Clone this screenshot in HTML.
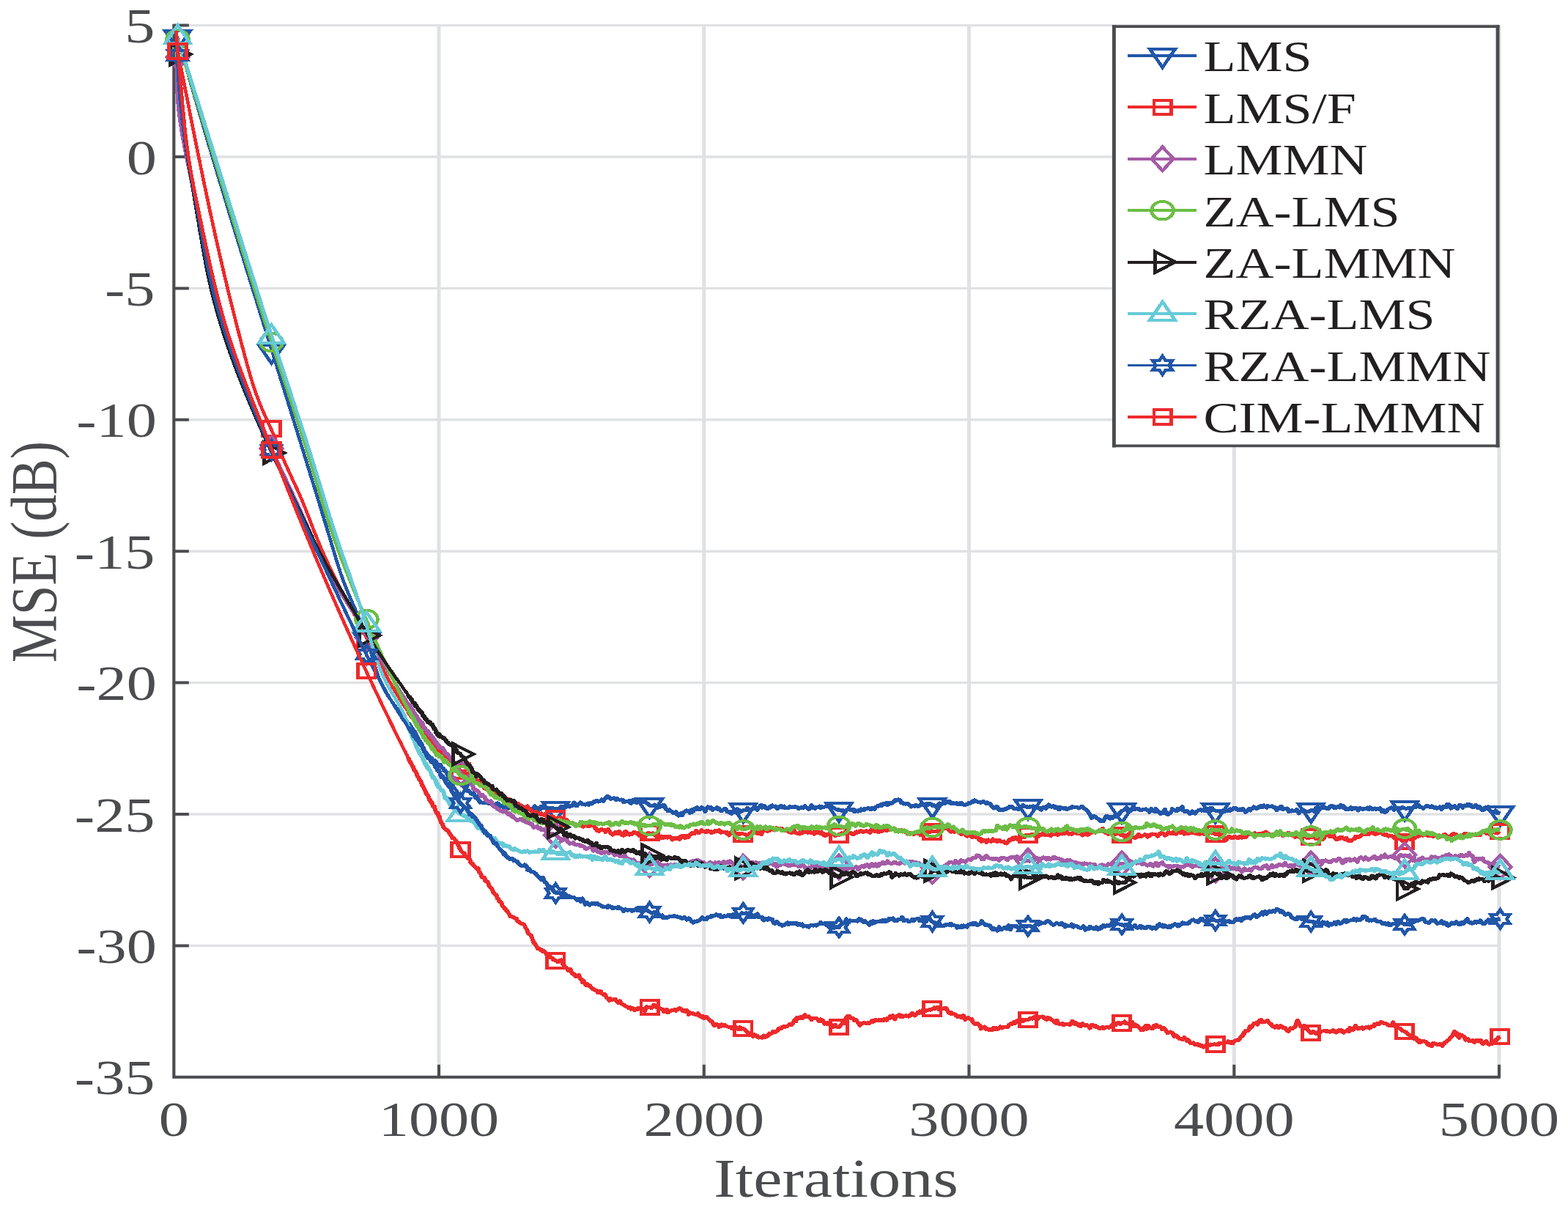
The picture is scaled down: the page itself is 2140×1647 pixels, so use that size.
<!DOCTYPE html><html><head><meta charset="utf-8"><title>MSE vs Iterations</title><style>html,body{margin:0;padding:0;background:#fff;overflow:hidden}svg{display:block}text{font-family:"Liberation Serif","Times New Roman",serif}</style></head><body>
<svg width="2140" height="1647" viewBox="0 0 2140 1647">
<rect width="2140" height="1647" fill="#fff"/>
<path d="M237.3,34.6V1469.8M599,34.6V1469.8M960.8,34.6V1469.8M1322.5,34.6V1469.8M1684.3,34.6V1469.8M2046,34.6V1469.8" stroke="#e0e1e3" stroke-width="5" fill="none"/>
<path d="M237.3,34.6H2046M237.3,214H2046M237.3,393.4H2046M237.3,572.8H2046M237.3,752.2H2046M237.3,931.6H2046M237.3,1111H2046M237.3,1290.4H2046M237.3,1469.8H2046" stroke="#e0e1e3" stroke-width="3.4" fill="none"/>
<path d="M237.3,32.8V1471.8M235.3,1469.8H2047.8M237.3,1469.8V1452.8M599,1469.8V1452.8M960.8,1469.8V1452.8M1322.5,1469.8V1452.8M1684.3,1469.8V1452.8M2046,1469.8V1452.8M237.3,34.6H257.8M237.3,214H257.8M237.3,393.4H257.8M237.3,572.8H257.8M237.3,752.2H257.8M237.3,931.6H257.8M237.3,1111H257.8M237.3,1290.4H257.8M237.3,1469.8H257.8" stroke="#4b4c4f" stroke-width="4" fill="none"/>
<g transform="scale(1.21,1)" stroke-linejoin="round" stroke-linecap="butt" shape-rendering="crispEdges">
<path d="M200.5,50.8L200.7,51.5L200.8,52.2L201,52.9L201.2,53.6L201.3,54.3L201.5,55L201.7,55.7L201.8,56.4L202,57.2L202.1,57.9L202.3,58.6L202.5,59.3L202.6,60L202.8,60.7L203,61.4L203.1,62.1L203.3,62.8L203.5,63.5L203.6,64.2L203.8,65L204,65.7L204.1,66.4L204.3,67.1L204.5,67.8L204.6,68.5L204.8,69.2L204.9,69.9L205.1,70.6L205.3,71.3L205.4,72L205.6,72.8L205.8,73.5L205.9,74.2L206.1,74.9L206.3,75.6L206.4,76.3L206.6,77L206.8,77.7L206.9,78.4L207.1,79.1L207.3,79.8L207.4,80.6L207.6,81.3L207.8,82L207.9,82.7L208.1,83.4L208.3,84.1L208.4,84.8L208.6,85.5L208.8,86.2L208.9,86.9L209.1,87.6L209.3,88.3L209.4,89.1L209.6,89.8L209.8,90.5L209.9,91.2L210.1,91.9L210.3,92.6L210.4,93.3L210.6,94L210.8,94.7L210.9,95.4L211.1,96.1L211.3,96.8L211.4,97.6L211.6,98.3L211.8,99L211.9,99.7L212.1,100.4L212.3,101.1L212.4,101.8L212.6,102.5L212.8,103.2L212.9,103.9L213.1,104.6L213.3,105.3L213.4,106.1L213.6,106.8L213.8,107.5L213.9,108.2L214.1,108.9L214.3,109.6L214.4,110.3L214.6,111L214.8,111.7L214.9,112.4L215.1,113.1L215.3,113.8L215.4,114.6L215.6,115.3L215.8,116L216,116.7L216.1,117.4L216.3,118.1L216.5,118.8L216.6,119.5L216.8,120.2L217,120.9L217.1,121.6L217.3,122.3L217.5,123L217.6,123.8L217.8,124.5L218,125.2L218.1,125.9L218.3,126.6L218.5,127.3L218.7,128L218.8,128.7L219,129.4L219.2,130.1L219.3,130.8L219.5,131.5L219.7,132.2L219.8,132.9L220,133.7L220.2,134.4L220.3,135.1L220.5,135.8L220.7,136.5L220.9,137.2L221,137.9L221.2,138.6L221.4,139.3L221.5,140L221.7,140.7L221.9,141.4L222,142.1L222.2,142.9L222.4,143.6L222.6,144.3L222.7,145L222.9,145.7L223.1,146.4L223.2,147.1L223.4,147.8L223.6,148.5L223.7,149.2L223.9,149.9L224.1,150.6L224.3,151.3L224.4,152L224.6,152.8L224.8,153.5L224.9,154.2L225.1,154.9L225.3,155.6L225.5,156.3L225.6,157L225.8,157.7L226,158.4L226.1,159.1L226.3,159.8L226.5,160.5L226.7,161.2L226.8,161.9L227,162.6L227.2,163.4L227.3,164.1L227.5,164.8L227.7,165.5L227.9,166.2L228,166.9L228.2,167.6L228.4,168.3L228.5,169L228.7,169.7L228.9,170.4L229.1,171.1L229.2,171.8L229.4,172.5L229.6,173.2L229.7,174L229.9,174.7L230.1,175.4L230.3,176.1L230.4,176.8L230.6,177.5L230.8,178.2L230.9,178.9L231.1,179.6L231.3,180.3L231.5,181L231.6,181.7L231.8,182.4L232,183.1L232.2,183.8L232.3,184.6L232.5,185.3L232.7,186L232.8,186.7L233,187.4L233.2,188.1L233.4,188.8L233.5,189.5L233.7,190.2L233.9,190.9L234.1,191.6L234.2,192.3L234.4,193L234.6,193.7L234.7,194.4L234.9,195.1L235.1,195.9L235.3,196.6L235.4,197.3L235.6,198L235.8,198.7L236,199.4L236.1,200.1L236.3,200.8L236.5,201.5L236.7,202.2L236.8,202.9L237,203.6L237.2,204.3L237.3,205L237.5,205.7L237.7,206.4L237.9,207.1L238,207.9L238.2,208.6L238.4,209.3L238.6,210L238.7,210.7L238.9,211.4L239.1,212.1L239.3,212.8L239.4,213.5L239.6,214.2L239.8,214.9L240,215.6L240.1,216.3L240.3,217L240.5,217.7L240.7,218.4L240.8,219.1L241,219.9L241.2,220.6L241.4,221.3L241.5,222L241.7,222.7L241.9,223.4L242,224.1L242.2,224.8L242.4,225.5L242.6,226.2L242.7,226.9L242.9,227.6L243.1,228.3L243.3,229L243.4,229.7L243.6,230.4L243.8,231.1L244,231.8L244.1,232.6L244.3,233.3L244.5,234L244.7,234.7L244.8,235.4L245,236.1L245.2,236.8L245.4,237.5L245.5,238.2L245.7,238.9L245.9,239.6L246.1,240.3L246.3,241L246.4,241.7L246.6,242.4L246.8,243.1L247,243.8L247.1,244.5L247.3,245.3L247.5,246L247.7,246.7L247.8,247.4L248,248.1L248.2,248.8L248.4,249.5L248.5,250.2L248.7,250.9L248.9,251.6L249.1,252.3L249.2,253L249.4,253.7L249.6,254.4L249.8,255.1L249.9,255.8L250.1,256.5L250.3,257.2L250.5,257.9L250.6,258.7L250.8,259.4L251,260.1L251.2,260.8L251.4,261.5L251.5,262.2L251.7,262.9L251.9,263.6L252.1,264.3L252.2,265L252.4,265.7L252.6,266.4L252.8,267.1L252.9,267.8L253.1,268.5L253.3,269.2L253.5,269.9L253.6,270.6L253.8,271.3L254,272L254.2,272.8L254.4,273.5L254.5,274.2L254.7,274.9L254.9,275.6L255.1,276.3L255.2,277L255.4,277.7L255.6,278.4L255.8,279.1L255.9,279.8L256.1,280.5L256.3,281.2L256.5,281.9L256.7,282.6L256.8,283.3L257,284L257.2,284.7L257.4,285.4L257.5,286.1L257.7,286.8L257.9,287.6L258.1,288.3L258.3,289L258.4,289.7L258.6,290.4L258.8,291.1L259,291.8L259.1,292.5L259.3,293.2L259.5,293.9L259.7,294.6L259.8,295.3L260,296L260.2,296.7L260.4,297.4L260.6,298.1L260.7,298.8L260.9,299.5L261.1,300.2L261.3,300.9L261.4,301.6L261.6,302.3L261.8,303.1L262,303.8L262.2,304.5L262.3,305.2L262.5,305.9L262.7,306.6L262.9,307.3L263.1,308L263.2,308.7L263.4,309.4L263.6,310.1L263.8,310.8L263.9,311.5L264.1,312.2L264.3,312.9L264.5,313.6L264.7,314.3L264.8,315L265,315.7L265.2,316.4L265.4,317.1L265.5,317.8L265.7,318.5L265.9,319.3L266.1,320L266.3,320.7L266.4,321.4L266.6,322.1L266.8,322.8L267,323.5L267.2,324.2L267.3,324.9L267.5,325.6L267.7,326.3L267.9,327L268,327.7L268.2,328.4L268.4,329.1L268.6,329.8L268.8,330.5L268.9,331.2L269.1,331.9L269.3,332.6L269.5,333.3L269.7,334L269.8,334.7L270,335.4L270.2,336.2L270.4,336.9L270.6,337.6L270.7,338.3L270.9,339L271.1,339.7L271.3,340.4L271.4,341.1L271.6,341.8L271.8,342.5L272,343.2L272.2,343.9L272.3,344.6L272.5,345.3L272.7,346L272.9,346.7L273.1,347.4L273.2,348.1L273.4,348.8L273.6,349.5L273.8,350.2L274,350.9L274.1,351.6L274.3,352.3L274.5,353L274.7,353.7L274.9,354.5L275,355.2L275.2,355.9L275.4,356.6L275.6,357.3L275.8,358L275.9,358.7L276.1,359.4L276.3,360.1L276.5,360.8L276.6,361.5L276.8,362.2L277,362.9L277.2,363.6L277.4,364.3L277.5,365L277.7,365.7L277.9,366.4L278.1,367.1L278.3,367.8L278.4,368.5L278.6,369.2L278.8,369.9L279,370.6L279.2,371.3L279.3,372L279.5,372.8L279.7,373.5L279.9,374.2L280.1,374.9L280.2,375.6L280.4,376.3L280.6,377L280.8,377.7L281,378.4L281.1,379.1L281.3,379.8L281.5,380.5L281.7,381.2L281.9,381.9L282,382.6L282.2,383.3L282.4,384L282.6,384.7L282.8,385.4L282.9,386.1L283.1,386.8L283.3,387.5L283.5,388.2L283.7,388.9L283.8,389.6L284,390.3L284.2,391L284.4,391.8L284.6,392.5L284.7,393.2L284.9,393.9L285.1,394.6L285.3,395.3L285.5,396L285.7,396.7L285.8,397.4L286,398.1L286.2,398.8L286.4,399.5L286.6,400.2L286.7,400.9L286.9,401.6L287.1,402.3L287.3,403L287.5,403.7L287.6,404.4L287.8,405.1L288,405.8L288.2,406.5L288.4,407.2L288.5,407.9L288.7,408.6L288.9,409.3L289.1,410L289.3,410.7L289.4,411.4L289.6,412.2L289.8,412.9L290,413.6L290.2,414.3L290.3,415L290.5,415.7L290.7,416.4L290.9,417.1L291.1,417.8L291.2,418.5L291.4,419.2L291.6,419.9L291.8,420.6L292,421.3L292.2,422L292.3,422.7L292.5,423.4L292.7,424.1L292.9,424.8L293.1,425.5L293.2,426.2L293.4,426.9L293.6,427.6L293.8,428.3L294,429L294.1,429.7L294.3,430.4L294.5,431.1L294.7,431.8L294.9,432.5L295,433.3L295.2,434L295.4,434.7L295.6,435.4L295.8,436.1L296,436.8L296.1,437.5L296.3,438.2L296.5,438.9L296.7,439.6L296.9,440.3L297,441L297.2,441.7L297.4,442.4L297.6,443.1L297.8,443.8L297.9,444.5L298.1,445.2L298.3,445.9L298.5,446.6L298.7,447.3L298.8,448L299,448.7L299.2,449.4L299.4,450.1L299.6,450.8L299.8,451.5L299.9,452.2L300.1,452.9L300.3,453.6L300.5,454.3L300.7,455.1L300.8,455.8L301,456.5L301.2,457.2L301.4,457.9L301.6,458.6L301.7,459.3L301.9,460L302.1,460.7L302.3,461.4L302.5,462.1L302.7,462.8L302.8,463.5L303,464.2L303.2,464.9L303.4,465.6L303.6,466.3L303.7,467L303.9,467.7L304.1,468.4L304.3,469.1L304.5,469.8L304.6,470.5L304.8,471.2L305,471.9L305.2,472.6L305.4,473.3L305.5,474L305.7,474.7L305.9,475.4L306.1,476.1L306.3,476.8L306.5,477.6L306.6,478.3L306.8,479L307,479.7L307.2,480.4L307.4,481.1L307.5,481.8L307.7,482.5L307.9,483.2L308.1,483.9L308.3,484.6L308.4,485.3L308.6,486L308.8,486.7L309,487.4L309.2,488.1L309.4,488.8L309.5,489.5L309.7,490.2L309.9,490.9L310.1,491.6L310.3,492.3L310.4,493L310.6,493.7L310.8,494.4L311,495.1L311.2,495.8L311.3,496.5L311.5,497.2L311.7,497.9L311.9,498.6L312.1,499.3L312.3,500.1L312.4,500.8L312.6,501.5L312.8,502.2L313,502.9L313.2,503.6L313.3,504.3L313.5,505L313.7,505.7L313.9,506.4L314.1,507.1L314.2,507.8L314.4,508.5L314.6,509.2L314.8,509.9L315,510.6L315.2,511.3L315.3,512L315.5,512.7L315.7,513.4L315.9,514.1L316.1,514.8L316.2,515.5L316.4,516.2L316.6,516.9L316.8,517.6L317,518.3L317.1,519L317.3,519.7L317.5,520.4L317.7,521.1L317.9,521.8L318.1,522.6L318.2,523.3L318.4,524L318.6,524.7L318.8,525.4L319,526.1L319.1,526.8L319.3,527.5L319.5,528.2L319.7,528.9L319.9,529.6L320,530.3L320.2,531L320.4,531.7L320.6,532.4L320.8,533.1L321,533.8L321.1,534.5L321.3,535.2L321.5,535.9L321.7,536.6L321.9,537.3L322,538L322.2,538.7L322.4,539.4L322.6,540.1L322.8,540.8L322.9,541.5L323.1,542.2L323.3,542.9L323.5,543.6L323.7,544.3L323.9,545L324,545.8L324.2,546.5L324.4,547.2L324.6,547.9L324.8,548.6L324.9,549.3L325.1,550L325.3,550.7L325.5,551.4L325.7,552.1L325.8,552.8L326,553.5L326.2,554.2L326.4,554.9L326.6,555.6L326.7,556.3L326.9,557L327.1,557.7L327.3,558.4L327.5,559.1L327.7,559.8L327.8,560.5L328,561.2L328.2,561.9L328.4,562.6L328.6,563.3L328.7,564L328.9,564.7L329.1,565.4L329.3,566.1L329.5,566.8L329.6,567.5L329.8,568.3L330,569L330.2,569.7L330.4,570.4L330.5,571.1L330.7,571.8L330.9,572.5L331.1,573.2L331.3,573.9L331.4,574.6L331.6,575.3L331.8,576L332,576.7L332.2,577.4L332.4,578.1L332.5,578.8L332.7,579.5L332.9,580.2L333.1,580.9L333.3,581.6L333.4,582.3L333.6,583L333.8,583.7L334,584.4L334.2,585.1L334.3,585.8L334.5,586.5L334.7,587.2L334.9,587.9L335.1,588.6L335.2,589.3L335.4,590L335.6,590.8L335.8,591.5L336,592.2L336.1,592.9L336.3,593.6L336.5,594.3L336.7,595L336.9,595.7L337,596.4L337.2,597.1L337.4,597.8L337.6,598.5L337.8,599.2L337.9,599.9L338.1,600.6L338.3,601.3L338.5,602L338.7,602.7L338.8,603.4L339,604.1L339.2,604.8L339.4,605.5L339.6,606.2L339.7,606.9L339.9,607.6L340.1,608.3L340.3,609L340.5,609.7L340.6,610.4L340.8,611.1L341,611.9L341.2,612.6L341.4,613.3L341.5,614L341.7,614.7L341.9,615.4L342.1,616.1L342.3,616.8L342.4,617.5L342.6,618.2L342.8,618.9L343,619.6L343.2,620.3L343.3,621L343.5,621.7L343.7,622.4L343.9,623.1L344.1,623.8L344.2,624.5L344.4,625.2L344.6,625.9L344.8,626.6L345,627.3L345.1,628L345.3,628.7L345.5,629.4L345.7,630.1L345.9,630.8L346,631.5L346.2,632.2L346.4,633L346.6,633.7L346.8,634.4L346.9,635.1L347.1,635.8L347.3,636.5L347.5,637.2L347.7,637.9L347.8,638.6L348,639.3L348.2,640L348.4,640.7L348.6,641.4L348.7,642.1L348.9,642.8L349.1,643.5L349.3,644.2L349.5,644.9L349.6,645.6L349.8,646.3L350,647L350.2,647.7L350.3,648.4L350.5,649.1L350.7,649.8L350.9,650.5L351.1,651.2L351.2,651.9L351.4,652.6L351.6,653.4L351.8,654.1L352,654.8L352.1,655.5L352.3,656.2L352.5,656.9L352.7,657.6L352.9,658.3L353,659L353.2,659.7L353.4,660.4L353.6,661.1L353.7,661.8L353.9,662.5L354.1,663.2L354.3,663.9L354.5,664.6L354.6,665.3L354.8,666L355,666.7L355.2,667.4L355.4,668.1L355.5,668.8L355.7,669.5L355.9,670.2L356.1,670.9L356.2,671.6L356.4,672.4L356.6,673.1L356.8,673.8L357,674.5L357.1,675.2L357.3,675.9L357.5,676.6L357.7,677.3L357.9,678L358,678.7L358.2,679.4L358.4,680.1L358.6,680.8L358.7,681.5L358.9,682.2L359.1,682.9L359.3,683.6L359.5,684.3L359.6,685L359.8,685.7L360,686.4L360.2,687.1L360.3,687.8L360.5,688.5L360.7,689.2L360.9,689.9L361.1,690.7L361.2,691.4L361.4,692.1L361.6,692.8L361.8,693.5L361.9,694.2L362.1,694.9L362.3,695.6L362.5,696.3L362.7,697L362.8,697.7L363,698.4L363.2,699.1L363.4,699.8L363.5,700.5L363.7,701.2L363.9,701.9L364.1,702.6L364.3,703.3L364.4,704L364.6,704.7L364.8,705.4L365,706.1L365.1,706.8L365.3,707.5L365.5,708.3L365.7,709L365.8,709.7L366,710.4L366.2,711.1L366.4,711.8L366.6,712.5L366.7,713.2L366.9,713.9L367.1,714.6L367.3,715.3L367.4,716L367.6,716.7L367.8,717.4L368,718.1L368.1,718.8L368.3,719.5L368.5,720.2L368.7,720.9L368.9,721.6L369,722.3L369.2,723L369.4,723.7L369.6,724.4L369.7,725.2L369.9,725.9L370.1,726.6L370.3,727.3L370.4,728L370.6,728.7L370.8,729.4L371,730.1L371.1,730.8L371.3,731.5L371.5,732.2L371.7,732.9L371.9,733.6L372,734.3L372.2,735L372.4,735.7L372.6,736.4L372.7,737.1L372.9,737.8L373.1,738.5L373.3,739.2L373.4,739.9L373.6,740.6L373.8,741.4L374,742.1L374.1,742.8L374.3,743.5L374.5,744.2L374.7,744.9L374.8,745.6L375,746.3L375.2,747L375.4,747.7L375.5,748.4L375.7,749.1L375.9,749.8L376.1,750.5L376.2,751.2L376.4,751.9L376.6,752.6L376.8,753.3L376.9,754L377.1,754.7L377.3,755.4L377.5,756.1L377.6,756.9L377.8,757.6L378,758.3L378.2,759L378.4,759.7L378.5,760.4L378.7,761.1L378.9,761.8L379.1,762.5L379.2,763.2L379.4,763.9L379.6,764.6L379.8,765.3L380,766L380.1,766.7L380.3,767.4L380.5,768.1L380.7,768.8L380.9,769.5L381,770.2L381.2,770.9L381.4,771.6L381.6,772.3L381.8,773L381.9,773.7L382.1,774.4L382.3,775.1L382.5,775.8L382.7,776.5L382.9,777.2L383.1,777.9L383.3,778.6L383.4,779.3L383.6,780L383.8,780.7L384,781.4L384.2,782.1L384.4,782.8L384.6,783.5L384.8,784.2L385,784.9L385.2,785.6L385.4,786.3L385.6,787L385.8,787.7L386,788.4L386.2,789L386.4,789.7L386.6,790.4L386.8,791.1L387,791.8L387.2,792.5L387.5,793.2L387.7,793.9L387.9,794.6L388.1,795.3L388.3,795.9L388.5,796.6L388.8,797.3L389,798L389.2,798.7L389.4,799.4L389.6,800.1L389.9,800.7L390.1,801.4L390.3,802.1L390.5,802.8L390.8,803.5L391,804.1L391.2,804.8L391.5,805.5L391.7,806.2L391.9,806.9L392.2,807.5L392.4,808.2L392.6,808.9L392.9,809.6L393.1,810.3L393.3,810.9L393.6,811.6L393.8,812.3L394.1,813L394.3,813.7L394.5,814.3L394.8,815L395,815.7L395.3,816.4L395.5,817L395.7,817.7L396,818.4L396.2,819.1L396.5,819.7L396.7,820.4L397,821.1L397.2,821.8L397.5,822.4L397.7,823.1L397.9,823.8L398.2,824.5L398.4,825.1L398.7,825.8L398.9,826.5L399.2,827.2L399.4,827.8L399.7,828.5L399.9,829.2L400.2,829.9L400.4,830.5L400.6,831.2L400.9,831.9L401.1,832.6L401.4,833.2L401.6,833.9L401.9,834.6L402.1,835.3L402.4,835.9L402.6,836.6L402.8,837.3L403.1,838L403.3,838.6L403.6,839.3L403.8,840L404.1,840.7L404.3,841.4L404.5,842L404.8,842.7L405,843.4L405.3,844.1L405.5,844.7L405.7,845.4L406,846.1L406.2,846.8L406.4,847.5L406.7,848.1L406.9,848.8L407.1,849.5L407.4,850.2L407.6,850.9L407.8,851.6L408.1,852.2L408.3,852.9L408.5,853.6L408.7,854.3L409,855L409.2,855.7L409.4,856.3L409.6,857L409.9,857.7L410.1,858.4L410.3,859.1L410.5,859.8L410.7,860.5L410.9,861.2L411.2,861.9L411.4,862.5L411.6,863.2L411.8,863.9L412,864.6L412.2,865.3L412.4,866L412.6,866.7L412.8,867.4L413,868.1L413.2,868.8L413.4,869.5L413.6,870.2L413.8,870.9L414,871.6L414.2,872.3L414.4,873L414.5,873.7L414.7,874.4L414.9,875.1L415.1,875.8L415.3,876.5L415.5,877.2L415.6,877.9L415.8,878.6L416,879.3L416.2,880L416.3,880.8L416.5,881.5L416.7,882.2L416.8,882.9L417,883.6L417.2,884.3L417.3,885L417.5,885.7L417.7,886.4L417.8,887.2L418,887.9L418.2,888.6L418.3,889.3L418.5,890L418.7,890.7L418.8,891.4L419,892.1L419.2,892.9L419.3,893.6L419.5,894.3L419.6,895L419.8,895.7L420,896.4L420.1,897.1L420.3,897.8L420.5,898.5L420.6,899.3L420.8,900L420.9,900.7L421.1,901.4L421.3,902.1L421.4,902.8L421.6,903.5L421.8,904.2L421.9,904.9L422.1,905.6L422.3,906.4L422.4,907.1L422.6,907.8L422.8,908.5L423,909.2L423.1,909.9L423.3,910.6L423.5,911.3L423.7,912L423.9,912.7L424,913.4L424.2,914.1L424.4,914.8L424.6,915.5L424.8,916.2L425,916.9L425.2,917.6L425.3,918.3L425.5,919L425.7,919.6L425.9,920.3L426.1,921L426.3,921.7L426.5,922.4L426.8,923.1L427,923.8L427.2,924.5L427.4,925.1L427.6,925.8L427.8,926.5L428,927.2L428.3,927.8L428.5,928.5L428.7,929.2L429,929.9L429.2,930.5L429.4,931.2L429.7,931.9L429.9,932.5L430.2,933.2L430.4,933.9L430.7,934.5L430.9,935.2L431.2,935.8L431.4,936.5L431.7,937.2L432,937.8L432.3,938.5L432.5,939.1L432.8,939.7L433.1,940.4L433.4,941L433.7,941.7L434,942.3L434.3,942.9L434.6,943.6L434.9,944.2L435.2,944.8L435.5,945.5L435.8,946.1L436.1,946.7L436.4,947.3L436.8,948L437.1,948.6L437.4,949.2L437.8,949.8L438.1,950.4L438.4,951.1L438.8,951.7L439.1,952.3L439.5,952.9L439.8,953.5L440.1,954.1L440.5,954.7L440.9,955.3L441.2,955.9L441.6,956.5L441.9,957.1L442.3,957.7L442.6,958.3L443,958.9L443.4,959.5L443.7,960.1L444.1,960.7L444.5,961.3L444.8,961.9L445.2,962.5L445.6,963.1L446,963.7L446.3,964.3L446.7,964.9L447.1,965.4L447.5,966L447.8,966.6L448.2,967.3L448.6,967.8L449,968.4L449.4,969L449.7,969.6L450.1,970.1L450.5,970.7L450.9,971.3L451.3,971.9L451.6,972.3L452,973.1L452.4,973.4L452.8,974L453.1,974.8L453.5,975.5L453.9,976.1L454.3,976.7L454.7,977.2L455,977.5L455.4,978.4L455.8,978.8L456.2,978.8L456.5,979.7L456.9,980.8L457.3,981.2L457.6,981.8L458,982.4L458.4,982.8L458.7,983.5L459.1,984.3L459.5,985.2L459.8,986.6L460.2,986.5L460.6,987L460.9,987L461.3,987.7L461.6,988L462,987.9L462.3,989.3L462.7,989.9L463,990.6L463.4,991.3L463.7,991.5L464.1,992.6L464.4,993.2L464.8,993.3L465.1,993.9" fill="none" stroke="#2156a8" stroke-width="3.9"/>
<path d="M460.6,987L460.9,987L461.3,987.7L461.6,988L462,987.9L462.3,989.3L462.7,989.9L463,990.6L463.4,991.3L463.7,991.5L464.1,992.6L464.4,993.2L464.8,993.3L465.1,993.9L465.4,995.1L465.8,996.1L466.1,996.4L466.4,996.7L466.8,998.2L467.1,998.2L467.4,998.5L467.7,998.3L468.1,999.9L468.4,1000.5L468.7,1001L469,1001.7L469.3,1003.3L469.6,1003.4L469.9,1003.6L470.2,1004.9L470.5,1004.9L470.8,1006.1L471.1,1007.4L471.4,1007.5L471.7,1008.5L471.9,1008.5L472.2,1009.2L472.5,1010.7L472.8,1011.9L473,1011L473.3,1010.5L473.6,1012L473.8,1013.3L474.1,1012.5L474.4,1013.8L474.6,1014.4L474.9,1013.8L475.1,1016L475.4,1017.1L475.7,1015.8L475.9,1017.4L476.2,1017.9L476.4,1019.5L476.7,1021.1L477,1020.8L477.2,1020.9L477.5,1022.5L477.8,1023.3L478.1,1024.5L478.4,1025.1L478.6,1025.5L478.9,1024.1L479.2,1024.8L479.5,1026L479.8,1028.3L480.1,1027.6L480.4,1029.7L480.8,1029.2L481.1,1030.3L481.4,1029.9L481.8,1031.2L482.1,1032.5L482.5,1034.6L482.8,1033.1L483.2,1033.8L483.6,1033.3L483.9,1033.1L484.3,1033.5L484.7,1035L485.1,1035.3L485.6,1034.6L486,1035.9L486.4,1033.9L486.8,1035.7L487.3,1036L487.7,1039.5L488.2,1038.2L488.7,1037.3L489.1,1038.3L489.6,1038L490.1,1037.1L490.5,1040.9L491,1038.5L491.5,1040.3L492,1039.2L492.5,1042.7L492.9,1045L493.4,1044.7L493.9,1045.2L494.4,1045.2L494.9,1044.1L495.3,1044.1L495.8,1043.9L496.9,1043.6L497.9,1046.2L499,1048L500,1048.5L501,1051.8L502.1,1051.2L503.1,1053.4L504.1,1055.6L505.2,1058.4L506.2,1057.9L507.2,1057L508.3,1057.2L509.3,1058.3L510.3,1059.8L511.4,1060.6L512.4,1062.5L513.4,1064.4L514.5,1065.5L515.5,1065.7L516.5,1067.9L517.6,1069L518.6,1069.7L519.6,1070.7L520.7,1071.2L521.7,1072.2L522.7,1073.5L523.8,1073.1L524.8,1075.8L525.8,1077.8L526.9,1079.6L527.9,1078.3L528.9,1080.3L530,1080.6L531,1082.8L532,1083.7L533.1,1083.5L534.1,1082.2L535.1,1084.9L536.2,1088.4L537.2,1086.4L538.2,1089.6L539.3,1090.8L540.3,1092.4L541.3,1095.1L542.4,1094.3L543.4,1095L544.4,1095.7L545.5,1095.8L546.5,1095.6L547.5,1093.6L548.6,1093.9L549.6,1095.9L550.6,1096.2L551.7,1095.7L552.7,1096.8L553.7,1096.5L554.8,1098.3L555.8,1098.3L556.8,1098.8L557.9,1100.1L558.9,1097.4L559.9,1097.8L561,1095.9L562,1096.2L563,1099.5L564,1099.4L565.1,1099L566.1,1100.8L567.1,1099.9L568.2,1102.2L569.2,1101.2L570.2,1100.2L571.3,1101.9L572.3,1101.2L573.3,1103.5L574.4,1101.4L575.4,1100.6L576.4,1103L577.5,1101.5L578.5,1099.6L579.5,1100L580.6,1101.6L581.6,1102L582.6,1100.4L583.7,1101.4L584.7,1102.2L585.7,1102.4L586.8,1102L587.8,1102.1L588.8,1099.8L589.9,1102.3L590.9,1106.1L591.9,1105.9L593,1106.1L594,1102.8L595,1102.9L596.1,1102.3L597.1,1103.1L598.1,1104L599.2,1104.9L600.2,1103.4L601.2,1102.8L602.3,1103.1L603.3,1099.8L604.3,1103.3L605.4,1102.1L606.4,1104.5L607.4,1102.2L608.5,1104.3L609.5,1104.3L610.5,1100.1L611.6,1100.4L612.6,1102L613.6,1102.7L614.7,1102.1L615.7,1103.1L616.7,1101.9L617.8,1102.9L618.8,1103.6L619.8,1102.6L620.9,1104.7L621.9,1103L622.9,1102.9L624,1102.7L625,1103.9L626,1103.8L627.1,1103.9L628.1,1103.8L629.1,1103.7L630.2,1104.8L631.2,1102.7L632.2,1102.3L633.3,1100.2L634.3,1100.3L635.3,1102.4L636.4,1102.6L637.4,1099.8L638.4,1101.3L639.5,1099.9L640.5,1100L641.5,1098.9L642.6,1101L643.6,1099.2L644.6,1100L645.7,1099.1L646.7,1096.3L647.7,1095.1L648.8,1098.1L649.8,1099.5L650.8,1099.9L651.9,1097.5L652.9,1097.1L653.9,1096.9L655,1094.9L656,1096.7L657,1097.8L658.1,1097.5L659.1,1097.3L660.1,1098.2L661.2,1097.9L662.2,1097.2L663.2,1096L664.3,1098.4L665.3,1095.7L666.3,1095.6L667.4,1097L668.4,1096.1L669.4,1095.2L670.5,1093.2L671.5,1093.7L672.5,1092.6L673.6,1092.6L674.6,1094.1L675.6,1093.8L676.7,1093.4L677.7,1092.5L678.7,1090.9L679.8,1091.1L680.8,1093.2L681.8,1090.9L682.9,1089.3L683.9,1088.6L684.9,1086.3L686,1088.5L687,1087.3L688,1089.2L689,1090.2L690.1,1089.6L691.1,1089.3L692.1,1088.9L693.2,1089L694.2,1091.1L695.2,1091.7L696.3,1089.5L697.3,1090.7L698.3,1091.1L699.4,1091.3L700.4,1091.8L701.4,1091L702.5,1091.5L703.5,1094.9L704.5,1093.9L705.6,1093.5L706.6,1093.8L707.6,1093.4L708.7,1093L709.7,1092.6L710.7,1095.3L711.8,1096.3L712.8,1092.5L713.8,1091.3L714.9,1094.4L715.9,1093L716.9,1093.4L718,1095.6L719,1093.1L720,1092.8L721.1,1092.5L722.1,1092.5L723.1,1092.9L724.2,1093.8L725.2,1094.3L726.2,1094.1L727.3,1092.4L728.3,1095.2L729.3,1096.1L730.4,1096.6L731.4,1096.9L732.4,1098.7L733.5,1099L734.5,1100L735.5,1099.7L736.6,1099.1L737.6,1099.2L738.6,1098.1L739.7,1100.8L740.7,1099.2L741.7,1102.2L742.8,1101.7L743.8,1101.6L744.8,1099.7L745.9,1100.7L746.9,1099.5L747.9,1098.2L749,1098.5L750,1100L751,1104.1L752.1,1104.1L753.1,1106.4L754.1,1105.5L755.2,1104.9L756.2,1106.9L757.2,1106.9L758.3,1108.3L759.3,1109.8L760.3,1109.2L761.4,1109.1L762.4,1107.5L763.4,1111.2L764.5,1112.3L765.5,1113.1L766.5,1111.1L767.6,1110L768.6,1112.6L769.6,1112.7L770.7,1109.3L771.7,1107.8L772.7,1107.5L773.8,1106L774.8,1105.9L775.8,1106.8L776.9,1106.9L777.9,1109.3L778.9,1105.8L780,1108.6L781,1104.1L782,1107.2L783.1,1103.6L784.1,1103L785.1,1102.9L786.2,1101.8L787.2,1104.6L788.2,1103.4L789.3,1104.9L790.3,1102.8L791.3,1101.6L792.4,1103.1L793.4,1102.7L794.4,1103.5L795.5,1107.6L796.5,1103.3L797.5,1102.4L798.6,1100.8L799.6,1102.2L800.6,1103.1L801.7,1101.5L802.7,1104.1L803.7,1105.1L804.8,1103.9L805.8,1103.4L806.8,1104L807.9,1103.4L808.9,1101.8L809.9,1104.7L811,1102.9L812,1105.2L813,1106.6L814,1106.9L815.1,1105.2L816.1,1104.5L817.1,1103.8L818.2,1103.1L819.2,1105.4L820.2,1107.7L821.3,1107.7L822.3,1108.8L823.3,1107.5L824.4,1110.2L825.4,1110.4L826.4,1107.3L827.5,1106.4L828.5,1108.4L829.5,1108.1L830.6,1107.2L831.6,1103.8L832.6,1106.1L833.7,1105.5L834.7,1108.2L835.7,1106.7L836.8,1106.8L837.8,1105.9L838.8,1105.4L839.9,1105.3L840.9,1104.9L841.9,1105.7L843,1102.6L844,1105.4L845,1106.1L846.1,1104.7L847.1,1104.9L848.1,1103.9L849.2,1103.5L850.2,1101.9L851.2,1103.1L852.3,1102L853.3,1102L854.3,1105.3L855.4,1101.8L856.4,1101.6L857.4,1099.2L858.5,1098.3L859.5,1102.2L860.5,1101.4L861.6,1099.3L862.6,1100.3L863.6,1102.4L864.7,1102.5L865.7,1103.7L866.7,1103.4L867.8,1101L868.8,1102.2L869.8,1099.4L870.9,1098.9L871.9,1100.3L872.9,1100.2L874,1100.1L875,1100L876,1102.6L877.1,1103.8L878.1,1101L879.1,1101.9L880.2,1101.4L881.2,1099.5L882.2,1102L883.3,1100.3L884.3,1100L885.3,1102.6L886.4,1102.5L887.4,1102.8L888.4,1102.4L889.5,1102.7L890.5,1100.5L891.5,1100.6L892.6,1101.6L893.6,1101L894.6,1101.9L895.7,1101.5L896.7,1100.4L897.7,1101.7L898.8,1101.7L899.8,1101.8L900.8,1103.9L901.9,1102.3L902.9,1102L903.9,1102.6L905,1101.5L906,1102.4L907,1101L908.1,1099.8L909.1,1101L910.1,1102.1L911.2,1103.3L912.2,1104.4L913.2,1103.1L914.3,1101.7L915.3,1098.7L916.3,1102.6L917.4,1101.3L918.4,1102L919.4,1103.3L920.5,1101.4L921.5,1101.5L922.5,1101.7L923.6,1101.8L924.6,1100.1L925.6,1102.5L926.7,1100.5L927.7,1101.1L928.7,1101.2L929.8,1101.2L930.8,1101L931.8,1099.8L932.9,1099.6L933.9,1100.2L934.9,1099.4L936,1100.9L937,1101.4L938,1100.1L939,1102L940.1,1102.2L941.1,1103.2L942.1,1103.7L943.2,1104.3L944.2,1104.1L945.2,1105.3L946.3,1104.7L947.3,1105.7L948.3,1106.1L949.4,1105.5L950.4,1106.6L951.4,1105.9L952.5,1108L953.5,1107.7L954.5,1105.5L955.6,1104.9L956.6,1104.9L957.6,1104.4L958.7,1104.3L959.7,1105.9L960.7,1104.8L961.8,1104.8L962.8,1104.3L963.8,1108L964.9,1105.5L965.9,1106.5L966.9,1106.8L968,1107.2L969,1105.3L970,1106.6L971.1,1103.9L972.1,1104.4L973.1,1104.2L974.2,1105.8L975.2,1103.7L976.2,1104L977.3,1103.5L978.3,1103.3L979.3,1102.4L980.4,1103.2L981.4,1104.2L982.4,1104.5L983.5,1102.4L984.5,1103.4L985.5,1102.2L986.6,1104.3L987.6,1101.2L988.6,1100.7L989.7,1099.5L990.7,1100.4L991.7,1099L992.8,1099.7L993.8,1097.6L994.8,1099.3L995.9,1098L996.9,1096.3L997.9,1096.3L999,1097.8L1000,1095.5L1001,1098.4L1002.1,1097.8L1003.1,1095.7L1004.1,1095.5L1005.2,1096.6L1006.2,1096L1007.2,1094.2L1008.3,1094.3L1009.3,1092L1010.3,1091.4L1011.4,1092.4L1012.4,1091.8L1013.4,1091L1014.5,1092.3L1015.5,1091.9L1016.5,1095.4L1017.6,1095.7L1018.6,1095.8L1019.6,1097.1L1020.7,1096.7L1021.7,1097.2L1022.7,1096.6L1023.8,1096.5L1024.8,1098.1L1025.8,1098.4L1026.9,1099.5L1027.9,1101L1028.9,1099.4L1030,1099.4L1031,1099.8L1032,1100.4L1033.1,1098.3L1034.1,1099.6L1035.1,1100.5L1036.2,1100.1L1037.2,1099.7L1038.2,1098.1L1039.3,1097.3L1040.3,1098.5L1041.3,1098.7L1042.4,1098L1043.4,1097.6L1044.4,1098L1045.5,1096.6L1046.5,1098.8L1047.5,1096.5L1048.6,1096.6L1049.6,1096.9L1050.6,1098.3L1051.7,1099.2L1052.7,1098.9L1053.7,1098.9L1054.8,1099.4L1055.8,1101.1L1056.8,1100.2L1057.9,1099.5L1058.9,1097.4L1059.9,1096.1L1061,1098.3L1062,1097.3L1063,1097.2L1064,1095.4L1065.1,1093.9L1066.1,1096.4L1067.1,1093.1L1068.2,1094.2L1069.2,1093.8L1070.2,1095.2L1071.3,1093.6L1072.3,1096.4L1073.3,1095.7L1074.4,1095.3L1075.4,1096.9L1076.4,1096L1077.5,1096.2L1078.5,1095.7L1079.5,1097.2L1080.6,1096.2L1081.6,1097.5L1082.6,1095.9L1083.7,1095.4L1084.7,1095.8L1085.7,1097.9L1086.8,1098L1087.8,1098.5L1088.8,1098.6L1089.9,1097.4L1090.9,1097.6L1091.9,1097.2L1093,1095.3L1094,1096L1095,1096L1096.1,1093.9L1097.1,1093.6L1098.1,1094.3L1099.2,1091.8L1100.2,1093.7L1101.2,1093.2L1102.3,1093.9L1103.3,1094.6L1104.3,1095L1105.4,1094.5L1106.4,1095.3L1107.4,1094.7L1108.5,1093.8L1109.5,1093.7L1110.5,1094.7L1111.6,1095.6L1112.6,1096.7L1113.6,1094.9L1114.7,1096.4L1115.7,1096.3L1116.7,1096.7L1117.8,1098.4L1118.8,1100.3L1119.8,1100.7L1120.9,1103L1121.9,1101.7L1122.9,1101.1L1124,1100.4L1125,1100.9L1126,1103.9L1127.1,1105.7L1128.1,1104.2L1129.1,1104.9L1130.2,1105L1131.2,1105.8L1132.2,1104L1133.3,1103.7L1134.3,1104.5L1135.3,1103.6L1136.4,1102.3L1137.4,1102.6L1138.4,1100.5L1139.5,1100.4L1140.5,1101.5L1141.5,1100.8L1142.6,1102.3L1143.6,1103.5L1144.6,1103L1145.7,1103.3L1146.7,1102.9L1147.7,1103.5L1148.8,1104.4L1149.8,1104L1150.8,1102.2L1151.9,1100.9L1152.9,1101.2L1153.9,1098.7L1155,1100.8L1156,1100.9L1157,1100.4L1158.1,1101.2L1159.1,1101L1160.1,1101.2L1161.2,1100.7L1162.2,1101.1L1163.2,1100.2L1164.3,1100.8L1165.3,1100L1166.3,1103.8L1167.4,1100.7L1168.4,1100.4L1169.4,1100.1L1170.5,1102.6L1171.5,1102.2L1172.5,1103.1L1173.6,1104.6L1174.6,1105.1L1175.6,1101.9L1176.7,1102.6L1177.7,1101.6L1178.7,1101L1179.8,1103.2L1180.8,1100.4L1181.8,1100.4L1182.9,1097.9L1183.9,1099.4L1184.9,1099.5L1186,1101.2L1187,1100.2L1188,1099.5L1189,1100.8L1190.1,1102.3L1191.1,1100.9L1192.1,1102.2L1193.2,1101.3L1194.2,1104.8L1195.2,1104.6L1196.3,1101.6L1197.3,1102.4L1198.3,1102L1199.4,1102L1200.4,1103.7L1201.4,1102.4L1202.5,1103L1203.5,1104.8L1204.5,1103.8L1205.6,1103L1206.6,1102.3L1207.6,1101.7L1208.7,1102.2L1209.7,1100.8L1210.7,1102L1211.8,1101.4L1212.8,1101.6L1213.8,1101.4L1214.9,1101.3L1215.9,1101.8L1216.9,1103L1218,1102.3L1219,1101.7L1220,1100.4L1221.1,1100.5L1222.1,1102.7L1223.1,1103.8L1224.2,1104L1225.2,1105.3L1226.2,1105.7L1227.3,1107.7L1228.3,1110.4L1229.3,1111.2L1230.4,1114.6L1231.4,1116.3L1232.4,1114L1233.5,1113.1L1234.5,1113.9L1235.5,1114.2L1236.6,1116.3L1237.6,1116.7L1238.6,1117.5L1239.7,1117.8L1240.7,1119.8L1241.7,1120.8L1242.8,1119L1243.8,1119L1244.8,1120.3L1245.9,1116.9L1246.9,1115.1L1247.9,1113.2L1249,1113.8L1250,1115L1251,1116.2L1252.1,1117L1253.1,1114.5L1254.1,1115.5L1255.2,1116.4L1256.2,1114.4L1257.2,1113.3L1258.3,1113.7L1259.3,1114.4L1260.3,1114.1L1261.4,1110.8L1262.4,1111.3L1263.4,1109.3L1264.5,1107.3L1265.5,1106.2L1266.5,1106L1267.6,1105.3L1268.6,1104.8L1269.6,1103.5L1270.7,1101.7L1271.7,1104.4L1272.7,1108.9L1273.8,1104.6L1274.8,1106.6L1275.8,1106.2L1276.9,1104L1277.9,1104.3L1278.9,1103.8L1280,1102.9L1281,1104.3L1282,1103.1L1283.1,1104L1284.1,1103.5L1285.1,1104.8L1286.2,1105.9L1287.2,1105.4L1288.2,1105.1L1289.3,1104.5L1290.3,1104.9L1291.3,1104.5L1292.4,1103.9L1293.4,1105.1L1294.4,1105.7L1295.5,1105.9L1296.5,1108.3L1297.5,1107.1L1298.6,1103.5L1299.6,1106L1300.6,1106.8L1301.7,1106.2L1302.7,1107.9L1303.7,1103.5L1304.8,1105.6L1305.8,1106.3L1306.8,1108.4L1307.9,1108.7L1308.9,1110.5L1309.9,1108.9L1311,1109.9L1312,1109.2L1313,1106.2L1314,1104.5L1315.1,1108.5L1316.1,1111.1L1317.1,1111.6L1318.2,1109.8L1319.2,1109L1320.2,1109.5L1321.3,1107.4L1322.3,1103.7L1323.3,1104.7L1324.4,1105L1325.4,1106.2L1326.4,1106.2L1327.5,1106.8L1328.5,1103.1L1329.5,1105.5L1330.6,1104.3L1331.6,1104.5L1332.6,1102.6L1333.7,1100.8L1334.7,1106.2L1335.7,1105.9L1336.8,1107.7L1337.8,1106.8L1338.8,1106.5L1339.9,1107.7L1340.9,1109.4L1341.9,1110.8L1343,1110L1344,1108.3L1345,1106.9L1346.1,1109.4L1347.1,1108.7L1348.1,1110L1349.2,1108.5L1350.2,1107.2L1351.2,1106L1352.3,1105.4L1353.3,1105.8L1354.3,1104.7L1355.4,1106.1L1356.4,1105.5L1357.4,1104.4L1358.5,1106.9L1359.5,1103.4L1360.5,1103L1361.6,1104.3L1362.6,1104L1363.6,1104.3L1364.7,1102.9L1365.7,1106.4L1366.7,1102.2L1367.8,1104.9L1368.8,1105.7L1369.8,1105.6L1370.9,1106.2L1371.9,1106.5L1372.9,1106.9L1374,1106.2L1375,1107.1L1376,1106.7L1377.1,1108.4L1378.1,1106.4L1379.1,1106.6L1380.2,1105.4L1381.2,1107.8L1382.2,1106.6L1383.3,1107L1384.3,1105.5L1385.3,1106.7L1386.4,1106.3L1387.4,1103.9L1388.4,1106L1389.5,1104.8L1390.5,1104.4L1391.5,1102.5L1392.6,1103.1L1393.6,1102.7L1394.6,1103.3L1395.7,1105.1L1396.7,1105.9L1397.7,1105.9L1398.8,1104.1L1399.8,1105.7L1400.8,1105.2L1401.9,1103.5L1402.9,1105.5L1403.9,1105.7L1405,1108.3L1406,1106.3L1407,1106.3L1408.1,1104.9L1409.1,1103.2L1410.1,1106L1411.2,1104L1412.2,1103.9L1413.2,1102.4L1414.3,1100.9L1415.3,1101.8L1416.3,1102.4L1417.4,1103.5L1418.4,1101.9L1419.4,1102.3L1420.5,1100.4L1421.5,1099.9L1422.5,1099.6L1423.6,1101.9L1424.6,1100.9L1425.6,1099L1426.7,1100.6L1427.7,1100.6L1428.7,1102.1L1429.8,1099.4L1430.8,1099.9L1431.8,1100.6L1432.9,1100.8L1433.9,1100.5L1434.9,1099.9L1436,1101.4L1437,1102L1438,1101.6L1439,1103.8L1440.1,1105.7L1441.1,1104.1L1442.1,1102.7L1443.2,1103.2L1444.2,1100.8L1445.2,1100.1L1446.3,1102.6L1447.3,1104.5L1448.3,1104.1L1449.4,1103.9L1450.4,1103.9L1451.4,1103L1452.5,1103.7L1453.5,1107.7L1454.5,1106.5L1455.6,1106.6L1456.6,1107L1457.6,1105.8L1458.7,1106.8L1459.7,1106.9L1460.7,1106.2L1461.8,1106.5L1462.8,1104.8L1463.8,1106.3L1464.9,1110L1465.9,1108.1L1466.9,1106.9L1468,1106L1469,1105.6L1470,1107.3L1471.1,1106L1472.1,1106.9L1473.1,1108.5L1474.2,1107.1L1475.2,1107L1476.2,1107.6L1477.3,1106.7L1478.3,1105.8L1479.3,1105.3L1480.4,1105.3L1481.4,1105.2L1482.4,1107.3L1483.5,1104.9L1484.5,1102.3L1485.5,1101.7L1486.6,1101.2L1487.6,1101.7L1488.6,1102.9L1489.7,1102.9L1490.7,1103.1L1491.7,1102.1L1492.8,1101L1493.8,1102.5L1494.8,1101.9L1495.9,1102.6L1496.9,1103.9L1497.9,1102.7L1499,1103.3L1500,1100.6L1501,1100.5L1502.1,1099.3L1503.1,1100.8L1504.1,1101.6L1505.2,1102.9L1506.2,1100.9L1507.2,1102.3L1508.3,1100.8L1509.3,1100.2L1510.3,1100.7L1511.4,1102L1512.4,1098.2L1513.4,1101.7L1514.5,1102L1515.5,1099.9L1516.5,1101.3L1517.6,1103.9L1518.6,1104.7L1519.6,1103.8L1520.7,1104.5L1521.7,1103.4L1522.7,1103.3L1523.8,1101.6L1524.8,1104.8L1525.8,1102.4L1526.9,1103L1527.9,1103.6L1528.9,1102.5L1530,1102.4L1531,1104L1532,1106L1533.1,1103.7L1534.1,1102.5L1535.1,1103.5L1536.2,1104L1537.2,1104.6L1538.2,1103.5L1539.3,1103.4L1540.3,1103.9L1541.3,1103.1L1542.4,1102L1543.4,1104.6L1544.4,1104.4L1545.5,1101.7L1546.5,1104.1L1547.5,1104.3L1548.6,1104.3L1549.6,1103.4L1550.6,1103L1551.7,1104.7L1552.7,1103.2L1553.7,1103.6L1554.8,1103.2L1555.8,1104.5L1556.8,1102.5L1557.9,1106.1L1558.9,1107.8L1559.9,1107.8L1561,1105.6L1562,1108.7L1563,1106.8L1564,1107.7L1565.1,1105.2L1566.1,1103.7L1567.1,1103.6L1568.2,1102.5L1569.2,1101.9L1570.2,1101.9L1571.3,1104.3L1572.3,1105.2L1573.3,1103.1L1574.4,1103.1L1575.4,1102.2L1576.4,1103.2L1577.5,1102.4L1578.5,1102.9L1579.5,1103.6L1580.6,1102.3L1581.6,1101.3L1582.6,1102.9L1583.7,1102.8L1584.7,1103L1585.7,1103L1586.8,1103.3L1587.8,1102.8L1588.8,1102.4L1589.9,1103.6L1590.9,1102.6L1591.9,1102.5L1593,1101.9L1594,1102.4L1595,1100.9L1596.1,1099.4L1597.1,1101.5L1598.1,1100L1599.2,1099L1600.2,1098.2L1601.2,1101.4L1602.3,1101.2L1603.3,1101.8L1604.3,1102L1605.4,1103.3L1606.4,1102L1607.4,1101.3L1608.5,1100.2L1609.5,1099.1L1610.5,1099.8L1611.6,1100.2L1612.6,1101.4L1613.6,1101.4L1614.7,1099.9L1615.7,1100.7L1616.7,1101.5L1617.8,1102.3L1618.8,1101.2L1619.8,1102.3L1620.9,1103.2L1621.9,1102.3L1622.9,1102.3L1624,1100.9L1625,1103L1626,1104.7L1627.1,1100.8L1628.1,1100.3L1629.1,1101.3L1630.2,1100.4L1631.2,1101.5L1632.2,1097.7L1633.3,1100.9L1634.3,1097.7L1635.3,1099.2L1636.4,1103.1L1637.4,1102.7L1638.4,1101.8L1639.5,1100.2L1640.5,1099.7L1641.5,1101L1642.6,1101.8L1643.6,1103.8L1644.6,1101.2L1645.7,1099.7L1646.7,1098.1L1647.7,1098.9L1648.8,1099L1649.8,1102.3L1650.8,1099.1L1651.9,1098.9L1652.9,1100L1653.9,1100L1655,1097.9L1656,1099.8L1657,1097.4L1658.1,1098.2L1659.1,1098.1L1660.1,1100.9L1661.2,1101.4L1662.2,1101.4L1663.2,1100.2L1664.3,1098.5L1665.3,1100.2L1666.3,1102.1L1667.4,1102.8L1668.4,1100.2L1669.4,1101.2L1670.5,1103.4L1671.5,1105.4L1672.5,1103.9L1673.6,1105.1L1674.6,1102.5L1675.6,1101.8L1676.7,1102.4L1677.7,1103.9L1678.7,1100.9L1679.8,1104.8L1680.8,1105.9L1681.8,1107.9L1682.9,1108.1L1683.9,1107.5L1684.9,1109.1L1686,1107.2L1687,1105.9L1688,1109.1L1689,1109.9L1690.1,1108.9L1691.1,1109.7L1692.1,1110" fill="none" stroke="#2156a8" stroke-width="5.0"/>
<path d="M-14.3,-8.9L14.3,-8.9L0,16.2Z" transform="translate(200.4,50.8)" fill="none" stroke="#2156a8" stroke-width="4.0" stroke-miterlimit="10" stroke-linejoin="miter"/>
<path d="M-14.3,-8.9L14.3,-8.9L0,16.2Z" transform="translate(306.2,479.5)" fill="none" stroke="#2156a8" stroke-width="4.0" stroke-miterlimit="10" stroke-linejoin="miter"/>
<path d="M-14.3,-8.9L14.3,-8.9L0,16.2Z" transform="translate(413.6,872.5)" fill="none" stroke="#2156a8" stroke-width="4.0" stroke-miterlimit="10" stroke-linejoin="miter"/>
<path d="M-14.3,-8.9L14.3,-8.9L0,16.2Z" transform="translate(519.4,1070.6)" fill="none" stroke="#2156a8" stroke-width="4.0" stroke-miterlimit="10" stroke-linejoin="miter"/>
<path d="M-14.3,-8.9L14.3,-8.9L0,16.2Z" transform="translate(626.7,1103.8)" fill="none" stroke="#2156a8" stroke-width="4.0" stroke-miterlimit="10" stroke-linejoin="miter"/>
<path d="M-14.3,-8.9L14.3,-8.9L0,16.2Z" transform="translate(732.7,1099)" fill="none" stroke="#2156a8" stroke-width="4.0" stroke-miterlimit="10" stroke-linejoin="miter"/>
<path d="M-14.3,-8.9L14.3,-8.9L0,16.2Z" transform="translate(838.3,1105.9)" fill="none" stroke="#2156a8" stroke-width="4.0" stroke-miterlimit="10" stroke-linejoin="miter"/>
<path d="M-14.3,-8.9L14.3,-8.9L0,16.2Z" transform="translate(946.3,1104.7)" fill="none" stroke="#2156a8" stroke-width="4.0" stroke-miterlimit="10" stroke-linejoin="miter"/>
<path d="M-14.3,-8.9L14.3,-8.9L0,16.2Z" transform="translate(1051.6,1099.2)" fill="none" stroke="#2156a8" stroke-width="4.0" stroke-miterlimit="10" stroke-linejoin="miter"/>
<path d="M-14.3,-8.9L14.3,-8.9L0,16.2Z" transform="translate(1159.5,1101.1)" fill="none" stroke="#2156a8" stroke-width="4.0" stroke-miterlimit="10" stroke-linejoin="miter"/>
<path d="M-14.3,-8.9L14.3,-8.9L0,16.2Z" transform="translate(1265.4,1106.2)" fill="none" stroke="#2156a8" stroke-width="4.0" stroke-miterlimit="10" stroke-linejoin="miter"/>
<path d="M-14.3,-8.9L14.3,-8.9L0,16.2Z" transform="translate(1370.9,1106.2)" fill="none" stroke="#2156a8" stroke-width="4.0" stroke-miterlimit="10" stroke-linejoin="miter"/>
<path d="M-14.3,-8.9L14.3,-8.9L0,16.2Z" transform="translate(1478.7,1105.7)" fill="none" stroke="#2156a8" stroke-width="4.0" stroke-miterlimit="10" stroke-linejoin="miter"/>
<path d="M-14.3,-8.9L14.3,-8.9L0,16.2Z" transform="translate(1584.4,1103)" fill="none" stroke="#2156a8" stroke-width="4.0" stroke-miterlimit="10" stroke-linejoin="miter"/>
<path d="M-14.3,-8.9L14.3,-8.9L0,16.2Z" transform="translate(1692.1,1110)" fill="none" stroke="#2156a8" stroke-width="4.0" stroke-miterlimit="10" stroke-linejoin="miter"/>
<path d="M198.9,42L200.6,70L200.7,70.7L200.8,71.4L200.9,72.1L201.1,72.8L201.2,73.5L201.3,74.2L201.4,74.9L201.5,75.6L201.6,76.3L201.7,77L201.8,77.7L202,78.4L202.1,79.1L202.2,79.8L202.3,80.5L202.4,81.2L202.5,81.9L202.6,82.6L202.8,83.3L202.9,84L203,84.7L203.1,85.4L203.2,86.1L203.3,86.8L203.4,87.5L203.5,88.2L203.7,88.9L203.8,89.6L203.9,90.3L204,91L204.1,91.7L204.2,92.4L204.3,93.1L204.4,93.8L204.6,94.5L204.7,95.2L204.8,95.9L204.9,96.6L205,97.3L205.1,98L205.2,98.7L205.4,99.4L205.5,100.1L205.6,100.8L205.7,101.5L205.8,102.2L205.9,102.9L206,103.6L206.1,104.3L206.3,105L206.4,105.7L206.5,106.4L206.6,107.1L206.7,107.8L206.8,108.5L206.9,109.2L207.1,109.9L207.2,110.6L207.3,111.3L207.4,112L207.5,112.7L207.6,113.4L207.7,114.1L207.8,114.8L208,115.5L208.1,116.2L208.2,116.9L208.3,117.6L208.4,118.3L208.5,119L208.6,119.7L208.7,120.4L208.9,121.1L209,121.8L209.1,122.5L209.2,123.2L209.3,123.9L209.4,124.6L209.5,125.3L209.7,126L209.8,126.7L209.9,127.4L210,128.1L210.1,128.8L210.2,129.5L210.3,130.2L210.5,130.9L210.6,131.6L210.7,132.3L210.8,133L210.9,133.7L211,134.4L211.1,135.1L211.2,135.8L211.4,136.5L211.5,137.2L211.6,137.9L211.7,138.6L211.8,139.3L211.9,140L212,140.7L212.2,141.4L212.3,142.1L212.4,142.8L212.5,143.5L212.6,144.2L212.7,144.9L212.8,145.6L213,146.3L213.1,147L213.2,147.7L213.3,148.4L213.4,149.1L213.5,149.8L213.6,150.5L213.8,151.2L213.9,151.9L214,152.6L214.1,153.3L214.2,154L214.3,154.7L214.4,155.4L214.6,156.2L214.7,156.9L214.8,157.6L214.9,158.3L215,159L215.1,159.7L215.2,160.4L215.4,161.1L215.5,161.8L215.6,162.5L215.7,163.2L215.8,163.9L215.9,164.6L216,165.3L216.2,166L216.3,166.7L216.4,167.4L216.5,168.1L216.6,168.8L216.7,169.5L216.8,170.2L217,170.9L217.1,171.6L217.2,172.3L217.3,173L217.4,173.7L217.5,174.4L217.6,175.1L217.8,175.8L217.9,176.5L218,177.2L218.1,177.9L218.2,178.6L218.3,179.3L218.5,180L218.6,180.7L218.7,181.4L218.8,182.1L218.9,182.8L219,183.5L219.1,184.2L219.3,184.9L219.4,185.6L219.5,186.3L219.6,187L219.7,187.7L219.8,188.4L220,189.1L220.1,189.8L220.2,190.5L220.3,191.2L220.4,191.9L220.5,192.6L220.7,193.3L220.8,194L220.9,194.7L221,195.4L221.1,196.1L221.2,196.8L221.4,197.5L221.5,198.2L221.6,198.9L221.7,199.6L221.8,200.3L221.9,201L222.1,201.7L222.2,202.4L222.3,203.1L222.4,203.8L222.5,204.5L222.6,205.2L222.8,205.9L222.9,206.6L223,207.3L223.1,208L223.2,208.7L223.3,209.4L223.5,210.1L223.6,210.8L223.7,211.5L223.8,212.2L223.9,212.9L224,213.6L224.2,214.3L224.3,215L224.4,215.7L224.5,216.4L224.6,217.1L224.7,217.8L224.9,218.5L225,219.2L225.1,219.9L225.2,220.6L225.3,221.3L225.5,222L225.6,222.7L225.7,223.4L225.8,224.1L225.9,224.8L226,225.5L226.2,226.2L226.3,226.9L226.4,227.6L226.5,228.3L226.6,229L226.8,229.7L226.9,230.4L227,231.1L227.1,231.8L227.2,232.5L227.3,233.2L227.5,233.9L227.6,234.6L227.7,235.3L227.8,236L227.9,236.7L228.1,237.4L228.2,238.1L228.3,238.8L228.4,239.5L228.5,240.2L228.7,240.9L228.8,241.6L228.9,242.3L229,243L229.1,243.7L229.3,244.4L229.4,245.1L229.5,245.8L229.6,246.5L229.7,247.2L229.9,247.9L230,248.6L230.1,249.3L230.2,250L230.3,250.7L230.5,251.3L230.6,252L230.7,252.7L230.8,253.4L230.9,254.1L231.1,254.8L231.2,255.5L231.3,256.2L231.4,256.9L231.5,257.6L231.7,258.3L231.8,259L231.9,259.7L232,260.4L232.1,261.1L232.3,261.8L232.4,262.5L232.5,263.2L232.6,263.9L232.8,264.6L232.9,265.3L233,266L233.1,266.7L233.2,267.4L233.4,268.1L233.5,268.8L233.6,269.5L233.7,270.2L233.8,270.9L234,271.6L234.1,272.3L234.2,273L234.3,273.7L234.5,274.4L234.6,275.1L234.7,275.8L234.8,276.5L235,277.2L235.1,277.9L235.2,278.6L235.3,279.3L235.4,280L235.6,280.7L235.7,281.4L235.8,282.1L235.9,282.8L236.1,283.5L236.2,284.2L236.3,284.9L236.4,285.6L236.6,286.3L236.7,287L236.8,287.7L236.9,288.4L237,289.1L237.2,289.8L237.3,290.5L237.4,291.2L237.5,291.9L237.7,292.6L237.8,293.3L237.9,294L238,294.7L238.2,295.4L238.3,296.1L238.4,296.7L238.5,297.4L238.7,298.1L238.8,298.8L238.9,299.5L239,300.2L239.2,300.9L239.3,301.6L239.4,302.3L239.5,303L239.7,303.7L239.8,304.4L239.9,305.1L240,305.8L240.2,306.5L240.3,307.2L240.4,307.9L240.6,308.6L240.7,309.3L240.8,310L240.9,310.7L241.1,311.4L241.2,312.1L241.3,312.8L241.4,313.5L241.6,314.2L241.7,314.9L241.8,315.6L241.9,316.3L242.1,317L242.2,317.7L242.3,318.4L242.5,319.1L242.6,319.8L242.7,320.5L242.8,321.2L243,321.9L243.1,322.5L243.2,323.2L243.4,323.9L243.5,324.6L243.6,325.3L243.7,326L243.9,326.7L244,327.4L244.1,328.1L244.3,328.8L244.4,329.5L244.5,330.2L244.6,330.9L244.8,331.6L244.9,332.3L245,333L245.2,333.7L245.3,334.4L245.4,335.1L245.5,335.8L245.7,336.5L245.8,337.2L245.9,337.9L246.1,338.6L246.2,339.3L246.3,340L246.5,340.7L246.6,341.4L246.7,342L246.9,342.7L247,343.4L247.1,344.1L247.2,344.8L247.4,345.5L247.5,346.2L247.6,346.9L247.8,347.6L247.9,348.3L248,349L248.2,349.7L248.3,350.4L248.4,351.1L248.6,351.8L248.7,352.5L248.8,353.2L249,353.9L249.1,354.6L249.2,355.3L249.4,356L249.5,356.7L249.6,357.4L249.8,358L249.9,358.7L250,359.4L250.2,360.1L250.3,360.8L250.4,361.5L250.6,362.2L250.7,362.9L250.8,363.6L251,364.3L251.1,365L251.2,365.7L251.4,366.4L251.5,367.1L251.6,367.8L251.8,368.5L251.9,369.2L252,369.9L252.2,370.6L252.3,371.3L252.4,372L252.6,372.6L252.7,373.3L252.8,374L253,374.7L253.1,375.4L253.2,376.1L253.4,376.8L253.5,377.5L253.7,378.2L253.8,378.9L253.9,379.6L254.1,380.3L254.2,381L254.3,381.7L254.5,382.4L254.6,383.1L254.7,383.8L254.9,384.5L255,385.1L255.2,385.8L255.3,386.5L255.4,387.2L255.6,387.9L255.7,388.6L255.8,389.3L256,390L256.1,390.7L256.3,391.4L256.4,392.1L256.5,392.8L256.7,393.5L256.8,394.2L256.9,394.9L257.1,395.6L257.2,396.2L257.4,396.9L257.5,397.6L257.6,398.3L257.8,399L257.9,399.7L258.1,400.4L258.2,401.1L258.3,401.8L258.5,402.5L258.6,403.2L258.8,403.9L258.9,404.6L259,405.3L259.2,406L259.3,406.6L259.5,407.3L259.6,408L259.7,408.7L259.9,409.4L260,410.1L260.2,410.8L260.3,411.5L260.5,412.2L260.6,412.9L260.7,413.6L260.9,414.3L261,415L261.2,415.6L261.3,416.3L261.4,417L261.6,417.7L261.7,418.4L261.9,419.1L262,419.8L262.2,420.5L262.3,421.2L262.4,421.9L262.6,422.6L262.7,423.3L262.9,424L263,424.7L263.2,425.3L263.3,426L263.5,426.7L263.6,427.4L263.7,428.1L263.9,428.8L264,429.5L264.2,430.2L264.3,430.9L264.5,431.6L264.6,432.3L264.8,433L264.9,433.6L265,434.3L265.2,435L265.3,435.7L265.5,436.4L265.6,437.1L265.8,437.8L265.9,438.5L266.1,439.2L266.2,439.9L266.4,440.6L266.5,441.3L266.6,441.9L266.8,442.6L266.9,443.3L267.1,444L267.2,444.7L267.4,445.4L267.5,446.1L267.7,446.8L267.8,447.5L268,448.2L268.1,448.9L268.3,449.5L268.4,450.2L268.6,450.9L268.7,451.6L268.9,452.3L269,453L269.2,453.7L269.3,454.4L269.4,455.1L269.6,455.8L269.7,456.5L269.9,457.1L270,457.8L270.2,458.5L270.3,459.2L270.5,459.9L270.6,460.6L270.8,461.3L270.9,462L271.1,462.7L271.2,463.4L271.4,464.1L271.5,464.7L271.7,465.4L271.8,466.1L272,466.8L272.1,467.5L272.3,468.2L272.4,468.9L272.6,469.6L272.7,470.3L272.9,471L273,471.7L273.2,472.3L273.3,473L273.5,473.7L273.6,474.4L273.8,475.1L273.9,475.8L274.1,476.5L274.3,477.2L274.4,477.9L274.6,478.6L274.7,479.2L274.9,479.9L275,480.6L275.2,481.3L275.3,482L275.5,482.7L275.6,483.4L275.8,484.1L275.9,484.8L276.1,485.5L276.2,486.1L276.4,486.8L276.5,487.5L276.7,488.2L276.8,488.9L277,489.6L277.2,490.3L277.3,491L277.5,491.7L277.6,492.3L277.8,493L277.9,493.7L278.1,494.4L278.2,495.1L278.4,495.8L278.5,496.5L278.7,497.2L278.9,497.9L279,498.6L279.2,499.2L279.3,499.9L279.5,500.6L279.6,501.3L279.8,502L280,502.7L280.1,503.4L280.3,504.1L280.4,504.7L280.6,505.4L280.7,506.1L280.9,506.8L281.1,507.5L281.2,508.2L281.4,508.9L281.6,509.6L281.7,510.2L281.9,510.9L282.1,511.6L282.2,512.3L282.4,513L282.6,513.7L282.7,514.3L282.9,515L283.1,515.7L283.2,516.4L283.4,517.1L283.6,517.8L283.7,518.4L283.9,519.1L284.1,519.8L284.3,520.5L284.4,521.2L284.6,521.9L284.8,522.5L285,523.2L285.1,523.9L285.3,524.6L285.5,525.2L285.7,525.9L285.9,526.6L286,527.3L286.2,528L286.4,528.6L286.6,529.3L286.8,530L287,530.7L287.2,531.3L287.4,532L287.6,532.7L287.7,533.4L287.9,534L288.1,534.7L288.3,535.4L288.5,536L288.7,536.7L288.9,537.4L289.1,538.1L289.3,538.7L289.5,539.4L289.7,540.1L289.9,540.7L290.1,541.4L290.3,542.1L290.5,542.7L290.8,543.4L291,544.1L291.2,544.7L291.4,545.4L291.6,546.1L291.8,546.7L292,547.4L292.2,548L292.4,548.7L292.7,549.4L292.9,550L293.1,550.7L293.3,551.4L293.5,552L293.8,552.7L294,553.3L294.2,554L294.4,554.6L294.6,555.3L294.9,556L295.1,556.6L295.3,557.3L295.6,557.9L295.8,558.6L296,559.2L296.2,559.9L296.5,560.5L296.7,561.2L296.9,561.9L297.2,562.5L297.4,563.2L297.6,563.8L297.9,564.5L298.1,565.1L298.3,565.8L298.6,566.4L298.8,567.1L299,567.7L299.3,568.3L299.5,569L299.8,569.6L300,570.3L300.2,570.9L300.5,571.6L300.7,572.2L301,572.9L301.2,573.5L301.5,574.1L301.7,574.8L302,575.4L302.2,576.1L302.4,576.7L302.7,577.4L302.9,578L303.2,578.6L303.4,579.3L303.7,579.9L303.9,580.6L304.2,581.2L304.4,581.8L304.7,582.5L304.9,583.1L305.1,583.8L305.4,584.4L305.6,585.1L305.9,585.7L306.1,586.3L306.4,587L306.6,587.6L306.8,588.3L307.1,588.9L307.3,589.6L307.5,590.2L307.8,590.8L308,591.5L308.2,592.1L308.5,592.8L308.7,593.4L308.9,594.1L309.2,594.7L309.4,595.4L309.6,596L309.8,596.7L310,597.3L310.3,598L310.5,598.7L310.7,599.3L310.9,600L311.1,600.6L311.4,601.3L311.6,601.9L311.8,602.6L312,603.2L312.2,603.9L312.4,604.6L312.7,605.2L312.9,605.9L313.1,606.5L313.3,607.2L313.5,607.8L313.7,608.5L313.9,609.2L314.1,609.8L314.4,610.5L314.6,611.1L314.8,611.8L315,612.5L315.2,613.1L315.4,613.8L315.6,614.4L315.8,615.1L316.1,615.8L316.3,616.4L316.5,617.1L316.7,617.7L316.9,618.4L317.1,619.1L317.4,619.7L317.6,620.4L317.8,621L318,621.7L318.2,622.3L318.5,623L318.7,623.7L318.9,624.3L319.1,625L319.4,625.6L319.6,626.3L319.8,626.9L320.1,627.6L320.3,628.2L320.5,628.9L320.7,629.5L321,630.2L321.2,630.9L321.4,631.5L321.7,632.2L321.9,632.8L322.2,633.5L322.4,634.1L322.6,634.8L322.9,635.4L323.1,636.1L323.4,636.7L323.6,637.4L323.8,638L324.1,638.7L324.3,639.3L324.6,640L324.8,640.6L325.1,641.3L325.3,641.9L325.5,642.6L325.8,643.2L326,643.9L326.3,644.5L326.5,645.2L326.8,645.8L327,646.5L327.3,647.1L327.5,647.7L327.8,648.4L328,649L328.3,649.7L328.5,650.3L328.8,651L329,651.6L329.3,652.3L329.5,652.9L329.8,653.6L330,654.2L330.2,654.9L330.5,655.5L330.7,656.2L331,656.8L331.2,657.5L331.5,658.1L331.7,658.8L332,659.4L332.2,660.1L332.5,660.7L332.7,661.4L333,662L333.2,662.7L333.5,663.3L333.7,664L334,664.6L334.2,665.3L334.5,665.9L334.7,666.6L335,667.2L335.2,667.9L335.4,668.5L335.7,669.2L335.9,669.8L336.2,670.5L336.4,671.1L336.7,671.8L336.9,672.4L337.1,673.1L337.4,673.7L337.6,674.4L337.9,675L338.1,675.7L338.3,676.3L338.6,677L338.8,677.7L339.1,678.3L339.3,679L339.5,679.6L339.8,680.3L340,680.9L340.2,681.6L340.5,682.3L340.7,682.9L340.9,683.6L341.1,684.2L341.4,684.9L341.6,685.5L341.8,686.2L342.1,686.9L342.3,687.5L342.5,688.2L342.7,688.8L343,689.5L343.2,690.2L343.4,690.8L343.6,691.5L343.8,692.2L344.1,692.8L344.3,693.5L344.5,694.1L344.7,694.8L344.9,695.5L345.2,696.1L345.4,696.8L345.6,697.5L345.8,698.1L346,698.8L346.2,699.5L346.4,700.1L346.7,700.8L346.9,701.5L347.1,702.1L347.3,702.8L347.5,703.4L347.7,704.1L347.9,704.8L348.2,705.4L348.4,706.1L348.6,706.8L348.8,707.4L349,708.1L349.2,708.8L349.4,709.4L349.6,710.1L349.9,710.8L350.1,711.4L350.3,712.1L350.5,712.8L350.7,713.4L350.9,714.1L351.1,714.8L351.3,715.4L351.5,716.1L351.8,716.8L352,717.4L352.2,718.1L352.4,718.8L352.6,719.4L352.8,720.1L353,720.8L353.2,721.4L353.5,722.1L353.7,722.8L353.9,723.4L354.1,724.1L354.3,724.8L354.5,725.4L354.7,726.1L355,726.8L355.2,727.4L355.4,728.1L355.6,728.7L355.8,729.4L356,730.1L356.3,730.7L356.5,731.4L356.7,732.1L356.9,732.7L357.1,733.4L357.4,734L357.6,734.7L357.8,735.4L358,736L358.2,736.7L358.5,737.3L358.7,738L358.9,738.7L359.1,739.3L359.4,740L359.6,740.6L359.8,741.3L360,742L360.3,742.6L360.5,743.3L360.7,743.9L361,744.6L361.2,745.2L361.4,745.9L361.6,746.6L361.9,747.2L362.1,747.9L362.3,748.5L362.6,749.2L362.8,749.8L363.1,750.5L363.3,751.1L363.5,751.8L363.8,752.4L364,753.1L364.2,753.7L364.5,754.4L364.7,755L365,755.7L365.2,756.3L365.4,757L365.7,757.6L365.9,758.3L366.2,758.9L366.4,759.6L366.7,760.2L366.9,760.9L367.2,761.5L367.4,762.2L367.6,762.8L367.9,763.5L368.1,764.1L368.4,764.8L368.6,765.4L368.9,766.1L369.1,766.7L369.4,767.3L369.6,768L369.9,768.6L370.1,769.3L370.4,769.9L370.6,770.6L370.9,771.2L371.2,771.9L371.4,772.5L371.7,773.1L371.9,773.8L372.2,774.4L372.4,775.1L372.7,775.7L372.9,776.4L373.2,777L373.5,777.6L373.7,778.3L374,778.9L374.2,779.6L374.5,780.2L374.8,780.8L375,781.5L375.3,782.1L375.5,782.8L375.8,783.4L376.1,784L376.3,784.7L376.6,785.3L376.9,786L377.1,786.6L377.4,787.2L377.6,787.9L377.9,788.5L378.2,789.2L378.4,789.8L378.7,790.4L379,791.1L379.2,791.7L379.5,792.3L379.8,793L380,793.6L380.3,794.2L380.6,794.9L380.8,795.5L381.1,796.2L381.4,796.8L381.7,797.4L381.9,798.1L382.2,798.7L382.5,799.3L382.7,800L383,800.6L383.3,801.2L383.5,801.9L383.8,802.5L384.1,803.1L384.4,803.8L384.6,804.4L384.9,805L385.2,805.7L385.5,806.3L385.7,806.9L386,807.6L386.3,808.2L386.6,808.8L386.8,809.5L387.1,810.1L387.4,810.7L387.6,811.4L387.9,812L388.2,812.6L388.5,813.3L388.8,813.9L389,814.5L389.3,815.2L389.6,815.8L389.9,816.4L390.1,817.1L390.4,817.7L390.7,818.3L391,819L391.2,819.6L391.5,820.2L391.8,820.9L392.1,821.5L392.3,822.1L392.6,822.7L392.9,823.4L393.2,824L393.5,824.6L393.7,825.3L394,825.9L394.3,826.5L394.6,827.2L394.9,827.8L395.1,828.4L395.4,829.1L395.7,829.7L396,830.3L396.2,830.9L396.5,831.6L396.8,832.2L397.1,832.8L397.4,833.5L397.6,834.1L397.9,834.7L398.2,835.4L398.5,836L398.8,836.6L399,837.3L399.3,837.9L399.6,838.5L399.9,839.1L400.2,839.8L400.4,840.4L400.7,841L401,841.7L401.3,842.3L401.6,842.9L401.8,843.6L402.1,844.2L402.4,844.8L402.7,845.4L402.9,846.1L403.2,846.7L403.5,847.3L403.8,848L404.1,848.6L404.3,849.2L404.6,849.9L404.9,850.5L405.2,851.1L405.5,851.8L405.7,852.4L406,853L406.3,853.7L406.6,854.3L406.9,854.9L407.1,855.5L407.4,856.2L407.7,856.8L408,857.4L408.2,858.1L408.5,858.7L408.8,859.3L409.1,860L409.3,860.6L409.6,861.2L409.9,861.9L410.2,862.5L410.5,863.1L410.7,863.8L411,864.4L411.3,865L411.6,865.7L411.8,866.3L412.1,866.9L412.4,867.6L412.7,868.2L412.9,868.8L413.2,869.5L413.5,870.1L413.8,870.7L414,871.4L414.3,872L414.6,872.6L414.9,873.3L415.1,873.9L415.4,874.5L415.7,875.2L415.9,875.8L416.2,876.4L416.5,877.1L416.8,877.7L417,878.3L417.3,879L417.6,879.6L417.8,880.2L418.1,880.9L418.4,881.5L418.7,882.1L418.9,882.8L419.2,883.4L419.5,884L419.7,884.7L420,885.3L420.3,886L420.5,886.6L420.8,887.2L421.1,887.9L421.4,888.5L421.6,889.1L421.9,889.8L422.2,890.4L422.4,891L422.7,891.7L423,892.3L423.3,892.9L423.5,893.6L423.8,894.2L424.1,894.8L424.3,895.5L424.6,896.1L424.9,896.8L425.1,897.4L425.4,898L425.7,898.7L426,899.3L426.2,899.9L426.5,900.6L426.8,901.2L427,901.8L427.3,902.5L427.6,903.1L427.9,903.7L428.1,904.4L428.4,905L428.7,905.6L428.9,906.3L429.2,906.9L429.5,907.5L429.8,908.2L430,908.8L430.3,909.4L430.6,910.1L430.9,910.7L431.1,911.3L431.4,911.9L431.7,912.6L432,913.2L432.2,913.8L432.5,914.5L432.8,915.1L433.1,915.7L433.3,916.4L433.6,917L433.9,917.6L434.2,918.2L434.4,918.9L434.7,919.5L435,920.1L435.3,920.8L435.6,921.4L435.8,922L436.1,922.6L436.4,923.3L436.7,923.9L437,924.5L437.2,925.1L437.5,925.8L437.8,926.4L438.1,927L438.4,927.6L438.7,928.3L438.9,928.9L439.2,929.5L439.5,930.1L439.8,930.8L440.1,931.4L440.4,932L440.6,932.6L440.9,933.2L441.2,933.9L441.5,934.5L441.8,935.1L442.1,935.7L442.4,936.3L442.7,937L443,937.6L443.3,938.2L443.5,938.8L443.8,939.4L444.1,940.1L444.4,940.7L444.7,941.3L445,941.9L445.3,942.5L445.6,943.1L445.9,943.7L446.2,944.4L446.5,945L446.8,945.6L447.1,946.2L447.4,946.8L447.7,947.3L448,947.9L448.3,948.6L448.6,949.3L448.9,949.8L449.2,950.5L449.5,951L449.8,951.6L450.1,952.3L450.4,953.1L450.8,953.7L451.1,954.3L451.4,954.8L451.7,955.5L452,955.8L452.3,956.6L452.6,957.3L452.9,958L453.2,958.6L453.6,959.3L453.9,959.5L454.2,960.2L454.5,960.9L454.8,961.5L455.2,962.3L455.5,962.7L455.8,963.2L456.1,964L456.4,964.7L456.8,965.2L457.1,965.4L457.4,966.1L457.7,966.5L458.1,966.8L458.4,967.7L458.7,968.4L459.1,969.1L459.4,969.4L459.7,969.4L460.1,970.3L460.4,971.5L460.7,972.3L461.1,971.9L461.4,972.9L461.7,973.4L462.1,974.6L462.4,975.2L462.8,975.1L463.1,975.7L463.5,977.1L463.8,978.2L464.1,978.1L464.5,978.4L464.8,978.9L465.2,979.8" fill="none" stroke="#ed2a2c" stroke-width="3.9"/>
<path d="M460.4,971.5L460.7,972.3L461.1,971.9L461.4,972.9L461.7,973.4L462.1,974.6L462.4,975.2L462.8,975.1L463.1,975.7L463.5,977.1L463.8,978.2L464.1,978.1L464.5,978.4L464.8,978.9L465.2,979.8L465.5,980L465.9,980.7L466.2,980.6L466.6,981.4L466.9,982.4L467.3,982.2L467.6,983.7L468,984.2L468.4,985.3L468.7,985.3L469.1,985L469.4,985.7L469.8,985.6L470.2,986.3L470.5,987.3L470.9,988.7L471.2,989.8L471.6,988.8L472,989.5L472.3,990L472.7,990.7L473.1,992.8L473.4,993.2L473.8,994.2L474.2,994.5L474.6,994.3L474.9,995.1L475.3,994.1L475.7,994.6L476.1,996L476.4,996.8L476.8,997.4L477.2,999.3L477.6,998.9L477.9,999.4L478.3,999.4L478.7,999.1L479.1,1002L479.5,1001.2L479.8,1001.9L480.2,1002.5L480.6,1002.9L481,1002.3L481.4,1004.9L481.8,1003.1L482.1,1004.3L482.5,1003.9L482.9,1003.8L483.3,1006.8L483.7,1008L484.1,1009.3L484.5,1009.3L484.9,1008.9L485.3,1010.6L485.6,1011.4L486,1011.6L486.4,1012.7L486.8,1011.4L487.2,1010.9L487.6,1012.2L488,1012.4L488.4,1014.6L488.8,1012.9L489.2,1014.7L489.6,1014.1L490,1015.8L490.4,1015L490.8,1017.6L491.2,1015.3L491.6,1016.9L492,1019.2L492.4,1019.7L492.8,1020.6L493.2,1018.6L493.6,1020.9L494,1021.4L494.4,1023.2L494.8,1023.8L495.2,1023.2L495.6,1023L496.9,1025.2L497.9,1025.8L499,1028.6L500,1030.2L501,1030L502.1,1032.1L503.1,1033.1L504.1,1034.8L505.2,1035.7L506.2,1034.8L507.2,1035.7L508.3,1037.5L509.3,1039.9L510.3,1042.9L511.4,1042.2L512.4,1043L513.4,1045.2L514.5,1047.4L515.5,1047.2L516.5,1048.8L517.6,1049.1L518.6,1050.6L519.6,1052.1L520.7,1052.7L521.7,1053.7L522.7,1053.9L523.8,1052L524.8,1054.7L525.8,1056.6L526.9,1057.1L527.9,1057.9L528.9,1059.8L530,1059.8L531,1059.5L532,1061.1L533.1,1062.7L534.1,1063.6L535.1,1062.8L536.2,1064.8L537.2,1064.2L538.2,1064.4L539.3,1065.3L540.3,1066.3L541.3,1066.9L542.4,1068L543.4,1069L544.4,1070.5L545.5,1074L546.5,1075.7L547.5,1075.9L548.6,1077L549.6,1077.6L550.6,1076.9L551.7,1077.6L552.7,1077.6L553.7,1080.4L554.8,1077.6L555.8,1078.4L556.8,1077.5L557.9,1078.5L558.9,1080L559.9,1081.9L561,1083.1L562,1083.8L563,1083.8L564,1084.7L565.1,1084.5L566.1,1084.7L567.1,1084.2L568.2,1086.6L569.2,1087.7L570.2,1088.6L571.3,1089.8L572.3,1092.8L573.3,1093.3L574.4,1090.3L575.4,1092.8L576.4,1094.2L577.5,1094.7L578.5,1092.3L579.5,1094.3L580.6,1093.4L581.6,1096L582.6,1096.5L583.7,1096.1L584.7,1096.6L585.7,1097.9L586.8,1098.7L587.8,1102.2L588.8,1100.8L589.9,1102L590.9,1103.6L591.9,1103.9L593,1102.5L594,1101L595,1100L596.1,1103.3L597.1,1104.3L598.1,1104L599.2,1106.6L600.2,1108.2L601.2,1109L602.3,1110L603.3,1107.8L604.3,1107.4L605.4,1109.1L606.4,1109.4L607.4,1109.1L608.5,1110.3L609.5,1111.2L610.5,1109.9L611.6,1111L612.6,1111.7L613.6,1112.2L614.7,1110.5L615.7,1111.1L616.7,1113L617.8,1114.9L618.8,1115.8L619.8,1114.9L620.9,1115.9L621.9,1114.5L622.9,1113.7L624,1114.4L625,1115.6L626,1116.5L627.1,1116.9L628.1,1117.5L629.1,1116.5L630.2,1115.9L631.2,1116.1L632.2,1115.2L633.3,1118.4L634.3,1119.6L635.3,1119.3L636.4,1122.1L637.4,1118.4L638.4,1118.3L639.5,1119.2L640.5,1120.8L641.5,1121.8L642.6,1122.3L643.6,1123.4L644.6,1122.9L645.7,1122.9L646.7,1123.6L647.7,1123.7L648.8,1127.1L649.8,1124.8L650.8,1125.2L651.9,1125.5L652.9,1126.6L653.9,1126.4L655,1126.5L656,1127.1L657,1127.1L658.1,1128.1L659.1,1125.2L660.1,1125.9L661.2,1124L662.2,1125.1L663.2,1127.9L664.3,1123.2L665.3,1127.3L666.3,1125L667.4,1126.9L668.4,1126.5L669.4,1126.4L670.5,1128.2L671.5,1130.8L672.5,1130.6L673.6,1133.9L674.6,1133.5L675.6,1134.4L676.7,1132.1L677.7,1132L678.7,1131.4L679.8,1132.5L680.8,1132.4L681.8,1132.5L682.9,1135.5L683.9,1133.9L684.9,1134L686,1131.5L687,1133.4L688,1135.3L689,1137.6L690.1,1137.2L691.1,1139.1L692.1,1138.7L693.2,1137L694.2,1135.5L695.2,1137.3L696.3,1135.9L697.3,1137.5L698.3,1134.4L699.4,1135.5L700.4,1137.5L701.4,1139.6L702.5,1139.3L703.5,1140.1L704.5,1135.3L705.6,1134.4L706.6,1138.7L707.6,1138L708.7,1137.1L709.7,1139.1L710.7,1138.4L711.8,1137.7L712.8,1138.2L713.8,1137.5L714.9,1135.4L715.9,1135.7L716.9,1136.9L718,1137.6L719,1136.6L720,1139.2L721.1,1137.1L722.1,1140.9L723.1,1140.5L724.2,1140.4L725.2,1141.6L726.2,1143.9L727.3,1142.4L728.3,1140.2L729.3,1138L730.4,1136.9L731.4,1137.2L732.4,1136.9L733.5,1137.2L734.5,1137.2L735.5,1137.5L736.6,1136.9L737.6,1138.1L738.6,1139.6L739.7,1141L740.7,1139.8L741.7,1141.6L742.8,1142.4L743.8,1143.8L744.8,1142.7L745.9,1141L746.9,1143.9L747.9,1143.4L749,1141.3L750,1141.8L751,1142.3L752.1,1141.8L753.1,1143.1L754.1,1141.1L755.2,1141L756.2,1142.6L757.2,1143L758.3,1146L759.3,1145.3L760.3,1143.9L761.4,1143.8L762.4,1144.9L763.4,1144.4L764.5,1143.4L765.5,1142.9L766.5,1145.5L767.6,1141.8L768.6,1142.9L769.6,1140.2L770.7,1141.3L771.7,1140.2L772.7,1143.7L773.8,1141.7L774.8,1140.9L775.8,1142.5L776.9,1141.9L777.9,1139.2L778.9,1139.2L780,1137L781,1137.6L782,1136.3L783.1,1137.7L784.1,1135.6L785.1,1133.2L786.2,1134.2L787.2,1136.6L788.2,1136.7L789.3,1134.9L790.3,1133.9L791.3,1132.8L792.4,1134.3L793.4,1134.8L794.4,1135L795.5,1135.4L796.5,1133.9L797.5,1135.3L798.6,1133.7L799.6,1134.6L800.6,1134.1L801.7,1134.1L802.7,1136.6L803.7,1135.5L804.8,1135.9L805.8,1134.8L806.8,1133.1L807.9,1134L808.9,1134.1L809.9,1133.5L811,1132.6L812,1135.6L813,1136.1L814,1134.9L815.1,1135.4L816.1,1135.3L817.1,1135.3L818.2,1136L819.2,1137.2L820.2,1135.7L821.3,1137.5L822.3,1140L823.3,1138.6L824.4,1135.4L825.4,1135.3L826.4,1136.6L827.5,1136.4L828.5,1136.7L829.5,1139.1L830.6,1138.1L831.6,1137.7L832.6,1138.3L833.7,1137.8L834.7,1138.2L835.7,1137.2L836.8,1137.5L837.8,1137.9L838.8,1138L839.9,1138L840.9,1138.8L841.9,1139.5L843,1141.6L844,1140.2L845,1138.5L846.1,1136.9L847.1,1139.6L848.1,1138.8L849.2,1137.1L850.2,1133.6L851.2,1136.3L852.3,1136.7L853.3,1136L854.3,1137.8L855.4,1136.6L856.4,1134.7L857.4,1136.7L858.5,1138.9L859.5,1136.4L860.5,1134.1L861.6,1133.5L862.6,1133.9L863.6,1133.3L864.7,1133.3L865.7,1134.4L866.7,1133L867.8,1133.9L868.8,1132.1L869.8,1131.2L870.9,1130.6L871.9,1130.6L872.9,1132.6L874,1133.1L875,1132.5L876,1129.7L877.1,1131.7L878.1,1132L879.1,1131.3L880.2,1131.3L881.2,1130.2L882.2,1131L883.3,1132.3L884.3,1132.6L885.3,1133.7L886.4,1133.6L887.4,1132.3L888.4,1133.7L889.5,1134.9L890.5,1135.7L891.5,1136.2L892.6,1136.4L893.6,1133.1L894.6,1133.4L895.7,1133L896.7,1135.9L897.7,1136.5L898.8,1137L899.8,1137.3L900.8,1137.7L901.9,1138L902.9,1134.9L903.9,1136.6L905,1137L906,1134.2L907,1135.6L908.1,1135.9L909.1,1134.4L910.1,1133.8L911.2,1136.3L912.2,1135.2L913.2,1134.8L914.3,1136.4L915.3,1136.4L916.3,1136.7L917.4,1136L918.4,1138.2L919.4,1135.6L920.5,1135L921.5,1136.9L922.5,1136.6L923.6,1135.2L924.6,1137.1L925.6,1136L926.7,1135.3L927.7,1138.3L928.7,1139.5L929.8,1137.8L930.8,1140.7L931.8,1139.8L932.9,1138.4L933.9,1138L934.9,1137.8L936,1139.5L937,1138.6L938,1138.9L939,1138.5L940.1,1137.5L941.1,1138.6L942.1,1140.4L943.2,1139.1L944.2,1139.4L945.2,1138.9L946.3,1139.5L947.3,1138.1L948.3,1137.5L949.4,1136.8L950.4,1137.2L951.4,1138L952.5,1136.7L953.5,1134.9L954.5,1137.3L955.6,1137.6L956.6,1137.5L957.6,1136.7L958.7,1136.4L959.7,1136.5L960.7,1138.1L961.8,1138L962.8,1138.5L963.8,1137.8L964.9,1135.5L965.9,1134.8L966.9,1136.2L968,1135.8L969,1135.6L970,1133.8L971.1,1134L972.1,1133.8L973.1,1135.5L974.2,1135.2L975.2,1135L976.2,1134.1L977.3,1133.7L978.3,1134.3L979.3,1135.2L980.4,1135.6L981.4,1136.4L982.4,1132.8L983.5,1131L984.5,1133.4L985.5,1132.1L986.6,1134.8L987.6,1134.7L988.6,1133.1L989.7,1131.4L990.7,1135.7L991.7,1135.1L992.8,1133.5L993.8,1133.3L994.8,1134.4L995.9,1132.7L996.9,1133.1L997.9,1131.7L999,1131.5L1000,1133.5L1001,1131.7L1002.1,1130.5L1003.1,1130.7L1004.1,1132.8L1005.2,1132.4L1006.2,1131.9L1007.2,1130.8L1008.3,1130.3L1009.3,1132.1L1010.3,1134.8L1011.4,1133.6L1012.4,1133.4L1013.4,1134.6L1014.5,1134.3L1015.5,1134.2L1016.5,1132.5L1017.6,1135L1018.6,1133.9L1019.6,1134.9L1020.7,1135.2L1021.7,1134.9L1022.7,1136.4L1023.8,1138L1024.8,1136.6L1025.8,1137.1L1026.9,1136.1L1027.9,1136.3L1028.9,1136.7L1030,1138.4L1031,1138.3L1032,1135.9L1033.1,1135.8L1034.1,1136.1L1035.1,1137.6L1036.2,1137.6L1037.2,1136.8L1038.2,1139.4L1039.3,1136.6L1040.3,1137.8L1041.3,1137.1L1042.4,1135.8L1043.4,1134.9L1044.4,1134.6L1045.5,1135.8L1046.5,1134.8L1047.5,1135.1L1048.6,1135.6L1049.6,1134.7L1050.6,1134.8L1051.7,1134.9L1052.7,1134.2L1053.7,1134.8L1054.8,1134.8L1055.8,1134.1L1056.8,1134.6L1057.9,1133.2L1058.9,1133.6L1059.9,1133L1061,1133.3L1062,1132.3L1063,1130.4L1064,1129.8L1065.1,1129.6L1066.1,1129.1L1067.1,1130.8L1068.2,1130.4L1069.2,1131.6L1070.2,1133L1071.3,1131.9L1072.3,1135.1L1073.3,1135L1074.4,1133.6L1075.4,1135.1L1076.4,1135.2L1077.5,1134.4L1078.5,1134.7L1079.5,1134.2L1080.6,1133.8L1081.6,1136.5L1082.6,1137.1L1083.7,1135.8L1084.7,1138.6L1085.7,1136.4L1086.8,1134.8L1087.8,1135L1088.8,1138.5L1089.9,1140.9L1090.9,1141.2L1091.9,1140.1L1093,1138L1094,1138.6L1095,1137.9L1096.1,1142.5L1097.1,1142.6L1098.1,1140.5L1099.2,1141.4L1100.2,1142.3L1101.2,1140L1102.3,1141.8L1103.3,1143L1104.3,1146.3L1105.4,1146.2L1106.4,1144.8L1107.4,1148.3L1108.5,1145.8L1109.5,1146.7L1110.5,1146.1L1111.6,1147.2L1112.6,1149.4L1113.6,1147.5L1114.7,1145.9L1115.7,1146.9L1116.7,1147.1L1117.8,1148.4L1118.8,1147.1L1119.8,1145L1120.9,1147.6L1121.9,1146.1L1122.9,1146.5L1124,1147.2L1125,1148.8L1126,1146.9L1127.1,1146.3L1128.1,1147.5L1129.1,1148.4L1130.2,1148.1L1131.2,1148.4L1132.2,1148L1133.3,1150.3L1134.3,1149.6L1135.3,1151L1136.4,1148.7L1137.4,1148.4L1138.4,1145.6L1139.5,1145.2L1140.5,1146.1L1141.5,1145L1142.6,1143.1L1143.6,1145.3L1144.6,1143.6L1145.7,1142.3L1146.7,1143.6L1147.7,1145.5L1148.8,1144.3L1149.8,1145.3L1150.8,1144.7L1151.9,1143.1L1152.9,1142.5L1153.9,1142.5L1155,1140.5L1156,1142.1L1157,1139.4L1158.1,1139.1L1159.1,1139.5L1160.1,1139.6L1161.2,1139.7L1162.2,1140.3L1163.2,1138.6L1164.3,1139L1165.3,1138.9L1166.3,1139.9L1167.4,1140.8L1168.4,1140.8L1169.4,1140.3L1170.5,1141.6L1171.5,1141.4L1172.5,1138.8L1173.6,1138.7L1174.6,1139.5L1175.6,1138.4L1176.7,1136.6L1177.7,1139.2L1178.7,1139L1179.8,1139.2L1180.8,1139.1L1181.8,1139.4L1182.9,1138.9L1183.9,1139.7L1184.9,1140.8L1186,1138.4L1187,1137.7L1188,1136.7L1189,1138.4L1190.1,1138.3L1191.1,1137.4L1192.1,1138.1L1193.2,1139.3L1194.2,1138.2L1195.2,1135.8L1196.3,1137.1L1197.3,1135.7L1198.3,1138L1199.4,1135.2L1200.4,1136.8L1201.4,1137.4L1202.5,1135.1L1203.5,1135.1L1204.5,1136.5L1205.6,1138.1L1206.6,1137.2L1207.6,1137.1L1208.7,1138.3L1209.7,1138.1L1210.7,1136.6L1211.8,1135.1L1212.8,1136.6L1213.8,1135.9L1214.9,1137.4L1215.9,1137.8L1216.9,1136.2L1218,1138L1219,1138L1220,1137.8L1221.1,1140L1222.1,1138.6L1223.1,1136.7L1224.2,1137.1L1225.2,1137.2L1226.2,1139.1L1227.3,1139.2L1228.3,1138.6L1229.3,1135.6L1230.4,1135.2L1231.4,1136.2L1232.4,1134.4L1233.5,1134.9L1234.5,1135.9L1235.5,1136.2L1236.6,1135.5L1237.6,1134.9L1238.6,1134L1239.7,1133.7L1240.7,1132.3L1241.7,1134.3L1242.8,1132.7L1243.8,1130.3L1244.8,1133.8L1245.9,1134.4L1246.9,1136.7L1247.9,1135.9L1249,1136.2L1250,1138.5L1251,1135.9L1252.1,1133.7L1253.1,1135.3L1254.1,1135.1L1255.2,1133.6L1256.2,1136.4L1257.2,1135.7L1258.3,1138.6L1259.3,1137.6L1260.3,1135.7L1261.4,1137.1L1262.4,1136.4L1263.4,1137.7L1264.5,1139.4L1265.5,1139.8L1266.5,1140.3L1267.6,1139.5L1268.6,1141.2L1269.6,1145.4L1270.7,1143.4L1271.7,1140.3L1272.7,1138.5L1273.8,1138.4L1274.8,1139.2L1275.8,1139L1276.9,1141.1L1277.9,1142.7L1278.9,1142.5L1280,1143.8L1281,1141.9L1282,1142.3L1283.1,1140.2L1284.1,1138.5L1285.1,1139.8L1286.2,1141.9L1287.2,1141.2L1288.2,1140.3L1289.3,1140.2L1290.3,1140L1291.3,1138.7L1292.4,1140L1293.4,1140.3L1294.4,1142.2L1295.5,1139.2L1296.5,1140.6L1297.5,1139.6L1298.6,1138.5L1299.6,1138L1300.6,1138.8L1301.7,1138.7L1302.7,1138.4L1303.7,1138.8L1304.8,1139.5L1305.8,1141.2L1306.8,1138.8L1307.9,1137.5L1308.9,1138.2L1309.9,1136.5L1311,1136.7L1312,1137.2L1313,1138.6L1314,1140.1L1315.1,1139.6L1316.1,1138.7L1317.1,1137.2L1318.2,1135L1319.2,1137.1L1320.2,1137L1321.3,1137.3L1322.3,1137.8L1323.3,1135.1L1324.4,1136.1L1325.4,1137.6L1326.4,1138.3L1327.5,1134.3L1328.5,1134.4L1329.5,1133.7L1330.6,1134.1L1331.6,1136.9L1332.6,1136L1333.7,1134.4L1334.7,1134.8L1335.7,1138.2L1336.8,1137.1L1337.8,1136.2L1338.8,1137.5L1339.9,1137.9L1340.9,1133L1341.9,1136.5L1343,1135.4L1344,1135.6L1345,1136.7L1346.1,1135.1L1347.1,1136.7L1348.1,1136.8L1349.2,1137.7L1350.2,1135.9L1351.2,1138L1352.3,1136.2L1353.3,1138.2L1354.3,1137.7L1355.4,1137L1356.4,1136.8L1357.4,1136.9L1358.5,1138.5L1359.5,1136.3L1360.5,1136L1361.6,1134.6L1362.6,1135.4L1363.6,1137.2L1364.7,1136.8L1365.7,1135.2L1366.7,1137L1367.8,1135.4L1368.8,1137.3L1369.8,1138L1370.9,1138L1371.9,1138.4L1372.9,1138.7L1374,1137.6L1375,1139.6L1376,1137.1L1377.1,1139L1378.1,1139.3L1379.1,1139.7L1380.2,1141.5L1381.2,1142.5L1382.2,1143.1L1383.3,1146.5L1384.3,1143.3L1385.3,1141.7L1386.4,1142.2L1387.4,1141.8L1388.4,1142.4L1389.5,1143.7L1390.5,1143.8L1391.5,1143L1392.6,1141.1L1393.6,1142.9L1394.6,1142.8L1395.7,1143.3L1396.7,1143.9L1397.7,1142.5L1398.8,1141.3L1399.8,1142L1400.8,1143.2L1401.9,1141.7L1402.9,1142L1403.9,1142.2L1405,1142.6L1406,1141.5L1407,1137L1408.1,1136.9L1409.1,1136.7L1410.1,1137.4L1411.2,1138.7L1412.2,1137.7L1413.2,1138.5L1414.3,1140.2L1415.3,1136.6L1416.3,1137.9L1417.4,1138.6L1418.4,1139.4L1419.4,1138.3L1420.5,1137L1421.5,1137.1L1422.5,1139.5L1423.6,1137.4L1424.6,1136.6L1425.6,1139.1L1426.7,1138.4L1427.7,1134.9L1428.7,1137.7L1429.8,1139.1L1430.8,1137.6L1431.8,1138.2L1432.9,1139.7L1433.9,1139.1L1434.9,1138.1L1436,1138.3L1437,1138.9L1438,1139.4L1439,1137.6L1440.1,1136.2L1441.1,1137.5L1442.1,1136L1443.2,1136L1444.2,1135.4L1445.2,1136.7L1446.3,1139.3L1447.3,1140.6L1448.3,1139.9L1449.4,1138.8L1450.4,1138.5L1451.4,1138.3L1452.5,1136.5L1453.5,1137.3L1454.5,1136.8L1455.6,1139.9L1456.6,1138.2L1457.6,1139.1L1458.7,1140.5L1459.7,1140.8L1460.7,1142.2L1461.8,1139.9L1462.8,1140.9L1463.8,1140.9L1464.9,1142L1465.9,1140.3L1466.9,1140.1L1468,1140.9L1469,1141.1L1470,1141.4L1471.1,1139L1472.1,1138.9L1473.1,1141.3L1474.2,1143.4L1475.2,1142.4L1476.2,1143.2L1477.3,1141.9L1478.3,1142L1479.3,1142L1480.4,1142.2L1481.4,1142.5L1482.4,1141.8L1483.5,1143.1L1484.5,1144.5L1485.5,1143.7L1486.6,1143.5L1487.6,1140.9L1488.6,1143.1L1489.7,1145.3L1490.7,1145.4L1491.7,1145.7L1492.8,1144.7L1493.8,1142L1494.8,1139.7L1495.9,1139.7L1496.9,1140L1497.9,1139.8L1499,1139.5L1500,1141.9L1501,1141.6L1502.1,1140.1L1503.1,1139.9L1504.1,1139.2L1505.2,1143L1506.2,1144.3L1507.2,1145.5L1508.3,1145.4L1509.3,1143.8L1510.3,1144.8L1511.4,1142.2L1512.4,1143.5L1513.4,1142.1L1514.5,1144.1L1515.5,1144.3L1516.5,1145.1L1517.6,1145.4L1518.6,1143.3L1519.6,1146.3L1520.7,1147.3L1521.7,1146.3L1522.7,1147.2L1523.8,1147.5L1524.8,1146.4L1525.8,1145.7L1526.9,1144.7L1527.9,1144.9L1528.9,1141.2L1530,1142.2L1531,1142L1532,1142.5L1533.1,1142.1L1534.1,1140.6L1535.1,1140.6L1536.2,1139L1537.2,1139L1538.2,1137.8L1539.3,1138.4L1540.3,1135.7L1541.3,1137.6L1542.4,1138.7L1543.4,1138.7L1544.4,1138L1545.5,1136.8L1546.5,1134.8L1547.5,1136.3L1548.6,1135.1L1549.6,1137.6L1550.6,1138.3L1551.7,1138.6L1552.7,1136.8L1553.7,1137.9L1554.8,1135L1555.8,1136.2L1556.8,1136.5L1557.9,1134.5L1558.9,1135.5L1559.9,1138.7L1561,1138.5L1562,1139.6L1563,1138.2L1564,1138.7L1565.1,1140.7L1566.1,1141.1L1567.1,1140L1568.2,1140.4L1569.2,1140.4L1570.2,1141.2L1571.3,1141.3L1572.3,1142.6L1573.3,1143.9L1574.4,1144.2L1575.4,1144.2L1576.4,1144.4L1577.5,1144L1578.5,1143.5L1579.5,1145.3L1580.6,1145.9L1581.6,1147.5L1582.6,1147L1583.7,1148L1584.7,1148.5L1585.7,1147.6L1586.8,1145.5L1587.8,1144.6L1588.8,1144.3L1589.9,1145.1L1590.9,1145.6L1591.9,1144.3L1593,1144.1L1594,1143.3L1595,1144L1596.1,1143.4L1597.1,1140.7L1598.1,1140L1599.2,1141.7L1600.2,1141L1601.2,1139.7L1602.3,1138.3L1603.3,1137.8L1604.3,1140.1L1605.4,1140.1L1606.4,1138.9L1607.4,1139.5L1608.5,1139.2L1609.5,1138.4L1610.5,1140.5L1611.6,1139.2L1612.6,1140.2L1613.6,1138.3L1614.7,1140.4L1615.7,1140.3L1616.7,1141.5L1617.8,1140.5L1618.8,1139.1L1619.8,1140.1L1620.9,1140.3L1621.9,1143L1622.9,1139.9L1624,1142L1625,1140.3L1626,1140.5L1627.1,1140.6L1628.1,1139.4L1629.1,1138.9L1630.2,1138.5L1631.2,1140.5L1632.2,1144L1633.3,1143.1L1634.3,1141.7L1635.3,1141.3L1636.4,1141.2L1637.4,1138.9L1638.4,1138.7L1639.5,1137.3L1640.5,1139L1641.5,1139.8L1642.6,1138.7L1643.6,1140.3L1644.6,1141.5L1645.7,1142.6L1646.7,1142L1647.7,1142.7L1648.8,1141.9L1649.8,1140.5L1650.8,1138.8L1651.9,1137.5L1652.9,1139L1653.9,1137.4L1655,1139.3L1656,1140.4L1657,1139.7L1658.1,1140.5L1659.1,1140.5L1660.1,1140.3L1661.2,1138.2L1662.2,1138.7L1663.2,1139.6L1664.3,1139.2L1665.3,1139.3L1666.3,1139.6L1667.4,1138.2L1668.4,1139.4L1669.4,1139.5L1670.5,1137.4L1671.5,1135.7L1672.5,1135.5L1673.6,1135.2L1674.6,1135.3L1675.6,1135.7L1676.7,1137.5L1677.7,1134.7L1678.7,1135.1L1679.8,1138.3L1680.8,1136.9L1681.8,1135.5L1682.9,1135.4L1683.9,1133.7L1684.9,1135.2L1686,1135.6L1687,1136.8L1688,1136.2L1689,1137L1690.1,1135L1691.1,1134.9L1692.1,1134.6" fill="none" stroke="#ed2a2c" stroke-width="5.0"/>
<path d="M-9.6,-9.6H9.6V9.6H-9.6Z" transform="translate(200.4,70)" fill="none" stroke="#ed2a2c" stroke-width="4.0" stroke-miterlimit="10" stroke-linejoin="miter"/>
<path d="M-9.6,-9.6H9.6V9.6H-9.6Z" transform="translate(306.2,584.9)" fill="none" stroke="#ed2a2c" stroke-width="4.0" stroke-miterlimit="10" stroke-linejoin="miter"/>
<path d="M-9.6,-9.6H9.6V9.6H-9.6Z" transform="translate(413.6,872)" fill="none" stroke="#ed2a2c" stroke-width="4.0" stroke-miterlimit="10" stroke-linejoin="miter"/>
<path d="M-9.6,-9.6H9.6V9.6H-9.6Z" transform="translate(519.4,1052)" fill="none" stroke="#ed2a2c" stroke-width="4.0" stroke-miterlimit="10" stroke-linejoin="miter"/>
<path d="M-9.6,-9.6H9.6V9.6H-9.6Z" transform="translate(626.7,1116.9)" fill="none" stroke="#ed2a2c" stroke-width="4.0" stroke-miterlimit="10" stroke-linejoin="miter"/>
<path d="M-9.6,-9.6H9.6V9.6H-9.6Z" transform="translate(732.7,1136.8)" fill="none" stroke="#ed2a2c" stroke-width="4.0" stroke-miterlimit="10" stroke-linejoin="miter"/>
<path d="M-9.6,-9.6H9.6V9.6H-9.6Z" transform="translate(838.3,1138)" fill="none" stroke="#ed2a2c" stroke-width="4.0" stroke-miterlimit="10" stroke-linejoin="miter"/>
<path d="M-9.6,-9.6H9.6V9.6H-9.6Z" transform="translate(946.3,1139.5)" fill="none" stroke="#ed2a2c" stroke-width="4.0" stroke-miterlimit="10" stroke-linejoin="miter"/>
<path d="M-9.6,-9.6H9.6V9.6H-9.6Z" transform="translate(1051.6,1135)" fill="none" stroke="#ed2a2c" stroke-width="4.0" stroke-miterlimit="10" stroke-linejoin="miter"/>
<path d="M-9.6,-9.6H9.6V9.6H-9.6Z" transform="translate(1159.5,1139.5)" fill="none" stroke="#ed2a2c" stroke-width="4.0" stroke-miterlimit="10" stroke-linejoin="miter"/>
<path d="M-9.6,-9.6H9.6V9.6H-9.6Z" transform="translate(1265.4,1139.8)" fill="none" stroke="#ed2a2c" stroke-width="4.0" stroke-miterlimit="10" stroke-linejoin="miter"/>
<path d="M-9.6,-9.6H9.6V9.6H-9.6Z" transform="translate(1370.9,1138)" fill="none" stroke="#ed2a2c" stroke-width="4.0" stroke-miterlimit="10" stroke-linejoin="miter"/>
<path d="M-9.6,-9.6H9.6V9.6H-9.6Z" transform="translate(1478.7,1142)" fill="none" stroke="#ed2a2c" stroke-width="4.0" stroke-miterlimit="10" stroke-linejoin="miter"/>
<path d="M-9.6,-9.6H9.6V9.6H-9.6Z" transform="translate(1584.4,1148.8)" fill="none" stroke="#ed2a2c" stroke-width="4.0" stroke-miterlimit="10" stroke-linejoin="miter"/>
<path d="M-9.6,-9.6H9.6V9.6H-9.6Z" transform="translate(1692.1,1134.6)" fill="none" stroke="#ed2a2c" stroke-width="4.0" stroke-miterlimit="10" stroke-linejoin="miter"/>
<path d="M198.9,42L200.4,78L200.4,78.7L200.3,79.5L200.3,80.2L200.2,80.9L200.1,81.6L200.1,82.4L200.1,83.1L200,83.8L200,84.5L199.9,85.3L199.9,86L199.8,86.7L199.8,87.4L199.8,88.2L199.7,88.9L199.7,89.6L199.7,90.3L199.6,91.1L199.6,91.8L199.6,92.5L199.6,93.2L199.5,93.9L199.5,94.7L199.5,95.4L199.5,96.1L199.5,96.8L199.4,97.6L199.4,98.3L199.4,99L199.4,99.7L199.4,100.4L199.4,101.2L199.4,101.9L199.4,102.6L199.3,103.3L199.3,104L199.3,104.8L199.3,105.5L199.3,106.2L199.3,106.9L199.3,107.6L199.3,108.3L199.3,109.1L199.3,109.8L199.3,110.5L199.4,111.2L199.4,111.9L199.4,112.7L199.4,113.4L199.4,114.1L199.4,114.8L199.4,115.5L199.4,116.2L199.5,116.9L199.5,117.7L199.5,118.4L199.5,119.1L199.5,119.8L199.6,120.5L199.6,121.2L199.6,122L199.6,122.7L199.7,123.4L199.7,124.1L199.7,124.8L199.8,125.5L199.8,126.2L199.8,126.9L199.8,127.7L199.9,128.4L199.9,129.1L200,129.8L200,130.5L200,131.2L200.1,131.9L200.1,132.6L200.2,133.4L200.2,134.1L200.2,134.8L200.3,135.5L200.3,136.2L200.4,136.9L200.4,137.6L200.5,138.3L200.5,139L200.6,139.8L200.6,140.5L200.7,141.2L200.7,141.9L200.8,142.6L200.9,143.3L200.9,144L201,144.7L201,145.4L201.1,146.1L201.2,146.8L201.2,147.6L201.3,148.3L201.3,149L201.4,149.7L201.5,150.4L201.5,151.1L201.6,151.8L201.7,152.5L201.7,153.2L201.8,153.9L201.9,154.6L202,155.3L202,156L202.1,156.8L202.2,157.5L202.2,158.2L202.3,158.9L202.4,159.6L202.5,160.3L202.6,161L202.6,161.7L202.7,162.4L202.8,163.1L202.9,163.8L203,164.5L203,165.2L203.1,165.9L203.2,166.6L203.3,167.3L203.4,168L203.5,168.7L203.5,169.5L203.6,170.2L203.7,170.9L203.8,171.6L203.9,172.3L204,173L204.1,173.7L204.2,174.4L204.3,175.1L204.4,175.8L204.4,176.5L204.5,177.2L204.6,177.9L204.7,178.6L204.8,179.3L204.9,180L205,180.7L205.1,181.4L205.2,182.1L205.3,182.8L205.4,183.5L205.5,184.2L205.6,184.9L205.7,185.6L205.8,186.3L205.9,187L206,187.7L206.1,188.4L206.2,189.1L206.3,189.8L206.4,190.5L206.5,191.2L206.6,191.9L206.7,192.6L206.8,193.3L207,194L207.1,194.7L207.2,195.4L207.3,196.1L207.4,196.8L207.5,197.5L207.6,198.2L207.7,198.9L207.8,199.6L207.9,200.3L208,201L208.2,201.7L208.3,202.4L208.4,203.1L208.5,203.8L208.6,204.5L208.7,205.2L208.8,205.9L208.9,206.6L209.1,207.3L209.2,208L209.3,208.7L209.4,209.4L209.5,210.1L209.6,210.8L209.7,211.5L209.9,212.2L210,212.9L210.1,213.6L210.2,214.3L210.3,215L210.4,215.7L210.6,216.4L210.7,217.1L210.8,217.8L210.9,218.5L211,219.2L211.2,219.9L211.3,220.6L211.4,221.3L211.5,222L211.6,222.7L211.8,223.4L211.9,224.1L212,224.8L212.1,225.5L212.2,226.2L212.4,226.9L212.5,227.6L212.6,228.3L212.7,229L212.8,229.7L213,230.4L213.1,231.1L213.2,231.8L213.3,232.5L213.4,233.2L213.6,233.9L213.7,234.6L213.8,235.3L213.9,236L214.1,236.7L214.2,237.4L214.3,238.1L214.4,238.8L214.5,239.5L214.7,240.2L214.8,240.9L214.9,241.6L215,242.3L215.2,243L215.3,243.7L215.4,244.4L215.5,245.1L215.6,245.8L215.8,246.5L215.9,247.2L216,247.9L216.1,248.6L216.3,249.3L216.4,249.9L216.5,250.6L216.6,251.3L216.7,252L216.9,252.7L217,253.4L217.1,254.1L217.2,254.8L217.3,255.5L217.5,256.2L217.6,256.9L217.7,257.6L217.8,258.3L217.9,259L218.1,259.7L218.2,260.4L218.3,261.1L218.4,261.8L218.5,262.5L218.7,263.2L218.8,263.9L218.9,264.6L219,265.3L219.1,266L219.2,266.7L219.4,267.4L219.5,268.1L219.6,268.8L219.7,269.5L219.8,270.2L220,270.9L220.1,271.6L220.2,272.3L220.3,273L220.4,273.7L220.5,274.4L220.6,275.1L220.8,275.8L220.9,276.5L221,277.2L221.1,277.9L221.2,278.6L221.3,279.3L221.4,280L221.5,280.7L221.7,281.4L221.8,282.1L221.9,282.8L222,283.5L222.1,284.2L222.2,284.9L222.3,285.6L222.4,286.3L222.5,287L222.6,287.7L222.7,288.4L222.9,289.1L223,289.8L223.1,290.5L223.2,291.2L223.3,291.9L223.4,292.6L223.5,293.3L223.6,294L223.7,294.7L223.8,295.4L223.9,296.1L224,296.8L224.1,297.5L224.2,298.2L224.3,298.9L224.4,299.6L224.5,300.3L224.6,301L224.7,301.7L224.8,302.4L224.9,303.1L225,303.8L225.1,304.5L225.2,305.2L225.3,305.9L225.4,306.6L225.5,307.3L225.6,308L225.7,308.7L225.8,309.4L225.9,310.1L226,310.8L226.1,311.5L226.2,312.2L226.3,312.9L226.4,313.6L226.5,314.3L226.6,315L226.6,315.7L226.7,316.4L226.8,317.1L226.9,317.8L227,318.5L227.1,319.2L227.2,319.9L227.3,320.6L227.4,321.3L227.5,322L227.6,322.7L227.7,323.4L227.8,324.1L227.9,324.8L228,325.5L228.1,326.2L228.2,326.9L228.3,327.6L228.4,328.3L228.5,329L228.6,329.8L228.7,330.5L228.8,331.2L228.9,331.9L229,332.6L229.1,333.3L229.2,334L229.3,334.7L229.4,335.4L229.5,336.1L229.6,336.8L229.7,337.5L229.8,338.2L229.9,338.9L230,339.6L230.1,340.3L230.2,341L230.3,341.7L230.4,342.4L230.5,343.1L230.6,343.8L230.7,344.5L230.8,345.2L230.9,345.9L231,346.6L231.1,347.3L231.2,348L231.3,348.7L231.4,349.4L231.5,350.1L231.6,350.8L231.7,351.5L231.8,352.2L232,352.9L232.1,353.6L232.2,354.3L232.3,355L232.4,355.7L232.5,356.4L232.6,357.1L232.7,357.8L232.8,358.5L232.9,359.2L233.1,359.9L233.2,360.6L233.3,361.3L233.4,362L233.5,362.7L233.6,363.4L233.7,364.1L233.9,364.8L234,365.5L234.1,366.2L234.2,366.9L234.3,367.6L234.4,368.3L234.5,369L234.7,369.7L234.8,370.4L234.9,371.1L235,371.8L235.1,372.5L235.3,373.2L235.4,373.9L235.5,374.6L235.6,375.3L235.7,376L235.9,376.7L236,377.4L236.1,378.1L236.2,378.8L236.3,379.5L236.5,380.2L236.6,380.9L236.7,381.6L236.8,382.3L237,383L237.1,383.7L237.2,384.4L237.3,385.1L237.5,385.8L237.6,386.5L237.7,387.2L237.9,387.9L238,388.6L238.1,389.3L238.2,390L238.4,390.7L238.5,391.4L238.6,392.1L238.8,392.8L238.9,393.5L239,394.2L239.2,394.9L239.3,395.5L239.4,396.2L239.6,396.9L239.7,397.6L239.8,398.3L240,399L240.1,399.7L240.2,400.4L240.4,401.1L240.5,401.8L240.7,402.5L240.8,403.2L240.9,403.9L241.1,404.6L241.2,405.3L241.4,406L241.5,406.7L241.6,407.4L241.8,408L241.9,408.7L242.1,409.4L242.2,410.1L242.3,410.8L242.5,411.5L242.6,412.2L242.8,412.9L242.9,413.6L243.1,414.3L243.2,415L243.4,415.7L243.5,416.4L243.7,417L243.8,417.7L244,418.4L244.1,419.1L244.3,419.8L244.4,420.5L244.6,421.2L244.7,421.9L244.9,422.6L245,423.3L245.2,424L245.3,424.6L245.5,425.3L245.6,426L245.8,426.7L245.9,427.4L246.1,428.1L246.2,428.8L246.4,429.5L246.6,430.1L246.7,430.8L246.9,431.5L247,432.2L247.2,432.9L247.4,433.6L247.5,434.3L247.7,435L247.8,435.6L248,436.3L248.2,437L248.3,437.7L248.5,438.4L248.7,439.1L248.8,439.8L249,440.4L249.2,441.1L249.3,441.8L249.5,442.5L249.7,443.2L249.8,443.9L250,444.5L250.2,445.2L250.3,445.9L250.5,446.6L250.7,447.3L250.8,448L251,448.6L251.2,449.3L251.4,450L251.5,450.7L251.7,451.4L251.9,452L252.1,452.7L252.2,453.4L252.4,454.1L252.6,454.8L252.8,455.4L252.9,456.1L253.1,456.8L253.3,457.5L253.5,458.1L253.7,458.8L253.8,459.5L254,460.2L254.2,460.9L254.4,461.5L254.6,462.2L254.8,462.9L254.9,463.6L255.1,464.2L255.3,464.9L255.5,465.6L255.7,466.3L255.9,466.9L256.1,467.6L256.2,468.3L256.4,469L256.6,469.6L256.8,470.3L257,471L257.2,471.7L257.4,472.3L257.6,473L257.8,473.7L257.9,474.4L258.1,475L258.3,475.7L258.5,476.4L258.7,477L258.9,477.7L259.1,478.4L259.3,479.1L259.5,479.7L259.7,480.4L259.9,481.1L260.1,481.7L260.3,482.4L260.5,483.1L260.7,483.8L260.9,484.4L261.1,485.1L261.3,485.8L261.5,486.4L261.7,487.1L261.9,487.8L262.1,488.4L262.3,489.1L262.5,489.8L262.7,490.4L262.9,491.1L263.1,491.8L263.3,492.4L263.5,493.1L263.7,493.8L263.9,494.4L264.1,495.1L264.3,495.8L264.5,496.4L264.8,497.1L265,497.8L265.2,498.4L265.4,499.1L265.6,499.8L265.8,500.4L266,501.1L266.2,501.8L266.4,502.4L266.6,503.1L266.8,503.8L267.1,504.4L267.3,505.1L267.5,505.8L267.7,506.4L267.9,507.1L268.1,507.7L268.3,508.4L268.6,509.1L268.8,509.7L269,510.4L269.2,511.1L269.4,511.7L269.6,512.4L269.9,513L270.1,513.7L270.3,514.4L270.5,515L270.7,515.7L270.9,516.3L271.2,517L271.4,517.7L271.6,518.3L271.8,519L272,519.6L272.3,520.3L272.5,521L272.7,521.6L272.9,522.3L273.2,522.9L273.4,523.6L273.6,524.3L273.8,524.9L274,525.6L274.3,526.2L274.5,526.9L274.7,527.6L274.9,528.2L275.2,528.9L275.4,529.5L275.6,530.2L275.9,530.8L276.1,531.5L276.3,532.2L276.5,532.8L276.8,533.5L277,534.1L277.2,534.8L277.4,535.4L277.7,536.1L277.9,536.7L278.1,537.4L278.4,538.1L278.6,538.7L278.8,539.4L279.1,540L279.3,540.7L279.5,541.3L279.8,542L280,542.6L280.2,543.3L280.4,544L280.7,544.6L280.9,545.3L281.1,545.9L281.4,546.6L281.6,547.2L281.8,547.9L282.1,548.5L282.3,549.2L282.6,549.8L282.8,550.5L283,551.1L283.3,551.8L283.5,552.5L283.7,553.1L284,553.8L284.2,554.4L284.4,555.1L284.7,555.7L284.9,556.4L285.2,557L285.4,557.7L285.6,558.3L285.9,559L286.1,559.6L286.4,560.3L286.6,560.9L286.8,561.6L287.1,562.2L287.3,562.9L287.6,563.5L287.8,564.2L288,564.8L288.3,565.5L288.5,566.1L288.8,566.8L289,567.4L289.2,568.1L289.5,568.7L289.7,569.4L290,570L290.2,570.7L290.5,571.3L290.7,572L290.9,572.6L291.2,573.3L291.4,573.9L291.7,574.6L291.9,575.2L292.2,575.9L292.4,576.5L292.7,577.2L292.9,577.8L293.1,578.5L293.4,579.1L293.6,579.8L293.9,580.4L294.1,581.1L294.4,581.7L294.6,582.4L294.9,583L295.1,583.7L295.4,584.3L295.6,585L295.9,585.6L296.1,586.3L296.3,586.9L296.6,587.6L296.8,588.2L297.1,588.8L297.3,589.5L297.6,590.1L297.8,590.8L298.1,591.4L298.3,592.1L298.6,592.7L298.8,593.4L299.1,594L299.3,594.7L299.6,595.3L299.8,596L300.1,596.6L300.3,597.3L300.6,597.9L300.8,598.5L301.1,599.2L301.3,599.8L301.6,600.5L301.8,601.1L302.1,601.8L302.3,602.4L302.6,603.1L302.8,603.7L303.1,604.4L303.3,605L303.6,605.7L303.8,606.3L304.1,606.9L304.3,607.6L304.6,608.2L304.8,608.9L305.1,609.5L305.3,610.2L305.6,610.8L305.8,611.5L306.1,612.1L306.3,612.8L306.6,613.4L306.9,614L307.1,614.7L307.4,615.3L307.6,616L307.9,616.6L308.1,617.3L308.4,617.9L308.6,618.6L308.9,619.2L309.1,619.9L309.4,620.5L309.6,621.1L309.9,621.8L310.1,622.4L310.4,623.1L310.6,623.7L310.9,624.4L311.1,625L311.4,625.7L311.7,626.3L311.9,626.9L312.2,627.6L312.4,628.2L312.7,628.9L312.9,629.5L313.2,630.2L313.4,630.8L313.7,631.5L313.9,632.1L314.2,632.8L314.4,633.4L314.7,634L314.9,634.7L315.2,635.3L315.5,636L315.7,636.6L316,637.3L316.2,637.9L316.5,638.6L316.7,639.2L317,639.8L317.2,640.5L317.5,641.1L317.7,641.8L318,642.4L318.2,643.1L318.5,643.7L318.7,644.4L319,645L319.2,645.6L319.5,646.3L319.8,646.9L320,647.6L320.3,648.2L320.5,648.9L320.8,649.5L321,650.2L321.3,650.8L321.5,651.4L321.8,652.1L322,652.7L322.3,653.4L322.5,654L322.8,654.7L323,655.3L323.3,656L323.5,656.6L323.8,657.2L324,657.9L324.3,658.5L324.6,659.2L324.8,659.8L325.1,660.5L325.3,661.1L325.6,661.8L325.8,662.4L326.1,663.1L326.3,663.7L326.6,664.3L326.8,665L327.1,665.6L327.3,666.3L327.6,666.9L327.8,667.6L328.1,668.2L328.3,668.9L328.6,669.5L328.8,670.2L329.1,670.8L329.3,671.4L329.6,672.1L329.8,672.7L330.1,673.4L330.3,674L330.6,674.7L330.8,675.3L331.1,676L331.3,676.6L331.6,677.3L331.8,677.9L332.1,678.5L332.3,679.2L332.6,679.8L332.8,680.5L333.1,681.1L333.3,681.8L333.6,682.4L333.8,683.1L334.1,683.7L334.3,684.4L334.5,685L334.8,685.7L335,686.3L335.3,687L335.5,687.6L335.8,688.2L336,688.9L336.3,689.5L336.5,690.2L336.8,690.8L337,691.5L337.3,692.1L337.5,692.8L337.7,693.4L338,694.1L338.2,694.7L338.5,695.4L338.7,696L339,696.7L339.2,697.3L339.5,698L339.7,698.6L339.9,699.3L340.2,699.9L340.4,700.6L340.7,701.2L340.9,701.9L341.2,702.5L341.4,703.2L341.6,703.8L341.9,704.4L342.1,705.1L342.4,705.7L342.6,706.4L342.9,707L343.1,707.7L343.3,708.3L343.6,709L343.8,709.6L344.1,710.3L344.3,710.9L344.5,711.6L344.8,712.2L345,712.9L345.2,713.5L345.5,714.2L345.7,714.8L346,715.5L346.2,716.1L346.4,716.8L346.7,717.5L346.9,718.1L347.1,718.8L347.4,719.4L347.6,720.1L347.9,720.7L348.1,721.4L348.3,722L348.6,722.7L348.8,723.3L349,724L349.3,724.6L349.5,725.3L349.7,725.9L350,726.6L350.2,727.2L350.4,727.9L350.7,728.5L350.9,729.2L351.1,729.8L351.4,730.5L351.6,731.1L351.8,731.8L352,732.5L352.3,733.1L352.5,733.8L352.7,734.4L353,735.1L353.2,735.7L353.4,736.4L353.6,737L353.9,737.7L354.1,738.3L354.3,739L354.6,739.7L354.8,740.3L355,741L355.2,741.6L355.5,742.3L355.7,742.9L355.9,743.6L356.1,744.2L356.4,744.9L356.6,745.6L356.8,746.2L357,746.9L357.3,747.5L357.5,748.2L357.7,748.8L358,749.5L358.2,750.1L358.4,750.8L358.6,751.4L358.9,752.1L359.1,752.8L359.3,753.4L359.6,754.1L359.8,754.7L360,755.4L360.3,756L360.5,756.7L360.7,757.3L361,758L361.2,758.6L361.5,759.2L361.7,759.9L361.9,760.5L362.2,761.2L362.4,761.8L362.7,762.5L362.9,763.1L363.2,763.8L363.4,764.4L363.7,765L364,765.7L364.2,766.3L364.5,766.9L364.7,767.6L365,768.2L365.2,768.9L365.5,769.5L365.8,770.1L366,770.8L366.3,771.4L366.6,772L366.8,772.6L367.1,773.3L367.4,773.9L367.7,774.5L367.9,775.2L368.2,775.8L368.5,776.4L368.8,777L369,777.7L369.3,778.3L369.6,778.9L369.9,779.5L370.2,780.2L370.4,780.8L370.7,781.4L371,782L371.3,782.7L371.6,783.3L371.9,783.9L372.2,784.5L372.4,785.1L372.7,785.8L373,786.4L373.3,787L373.6,787.6L373.9,788.2L374.2,788.8L374.5,789.5L374.8,790.1L375.1,790.7L375.4,791.3L375.7,791.9L376,792.5L376.3,793.1L376.6,793.8L376.9,794.4L377.2,795L377.5,795.6L377.8,796.2L378.1,796.8L378.4,797.4L378.7,798L379,798.6L379.3,799.3L379.6,799.9L379.9,800.5L380.2,801.1L380.5,801.7L380.9,802.3L381.2,802.9L381.5,803.5L381.8,804.1L382.1,804.7L382.4,805.3L382.7,805.9L383,806.5L383.3,807.2L383.6,807.8L384,808.4L384.3,809L384.6,809.6L384.9,810.2L385.2,810.8L385.5,811.4L385.8,812L386.1,812.6L386.5,813.2L386.8,813.8L387.1,814.4L387.4,815L387.7,815.6L388,816.2L388.4,816.8L388.7,817.4L389,818L389.3,818.6L389.6,819.2L389.9,819.8L390.2,820.4L390.6,821L390.9,821.6L391.2,822.2L391.5,822.9L391.8,823.5L392.1,824.1L392.5,824.7L392.8,825.3L393.1,825.9L393.4,826.5L393.7,827.1L394,827.7L394.3,828.3L394.7,828.9L395,829.5L395.3,830.1L395.6,830.7L395.9,831.3L396.2,831.9L396.5,832.5L396.9,833.1L397.2,833.7L397.5,834.3L397.8,834.9L398.1,835.5L398.4,836.1L398.7,836.7L399,837.3L399.4,837.9L399.7,838.5L400,839.1L400.3,839.7L400.6,840.3L400.9,840.9L401.2,841.6L401.5,842.2L401.8,842.8L402.1,843.4L402.4,844L402.7,844.6L403,845.2L403.4,845.8L403.7,846.4L404,847L404.3,847.6L404.6,848.2L404.9,848.8L405.2,849.4L405.5,850L405.8,850.7L406.1,851.3L406.4,851.9L406.7,852.5L407,853.1L407.3,853.7L407.6,854.3L407.9,854.9L408.2,855.5L408.5,856.1L408.8,856.7L409.1,857.4L409.4,858L409.7,858.6L410,859.2L410.3,859.8L410.6,860.4L410.9,861L411.2,861.6L411.5,862.2L411.8,862.8L412.1,863.5L412.4,864.1L412.7,864.7L413,865.3L413.3,865.9L413.6,866.5L413.9,867.1L414.2,867.7L414.5,868.3L414.8,869L415.1,869.6L415.4,870.2L415.6,870.8L415.9,871.4L416.2,872L416.5,872.6L416.8,873.3L417.1,873.9L417.4,874.5L417.7,875.1L418,875.7L418.3,876.3L418.6,876.9L418.9,877.5L419.2,878.2L419.5,878.8L419.8,879.4L420.1,880L420.4,880.6L420.7,881.2L421,881.8L421.3,882.5L421.6,883.1L421.9,883.7L422.2,884.3L422.5,884.9L422.8,885.5L423.1,886.1L423.4,886.8L423.7,887.4L424,888L424.3,888.6L424.6,889.2L424.9,889.8L425.2,890.4L425.5,891.1L425.8,891.7L426.1,892.3L426.4,892.9L426.7,893.5L427,894.1L427.3,894.8L427.6,895.4L427.9,896L428.2,896.6L428.5,897.2L428.8,897.8L429.1,898.4L429.4,899.1L429.7,899.7L430,900.3L430.3,900.9L430.6,901.5L430.9,902.1L431.2,902.7L431.5,903.4L431.8,904L432.1,904.6L432.4,905.2L432.7,905.8L433,906.4L433.3,907L433.6,907.7L433.9,908.3L434.2,908.9L434.5,909.5L434.8,910.1L435.1,910.7L435.4,911.3L435.7,912L436,912.6L436.3,913.2L436.6,913.8L436.9,914.4L437.2,915L437.5,915.6L437.9,916.2L438.2,916.9L438.5,917.5L438.8,918.1L439.1,918.7L439.4,919.3L439.7,919.9L440,920.5L440.3,921.1L440.6,921.8L440.9,922.4L441.2,923L441.5,923.6L441.8,924.2L442.1,924.8L442.4,925.4L442.7,926L443,926.6L443.4,927.2L443.7,927.9L444,928.5L444.3,929.1L444.6,929.7L444.9,930.3L445.2,930.9L445.5,931.5L445.8,932.1L446.1,932.7L446.4,933.3L446.7,933.9L447.1,934.5L447.4,935.2L447.7,935.7L448,936.3L448.3,936.9L448.6,937.5L448.9,938.2L449.2,938.6L449.5,939.3L449.9,940L450.2,940.6L450.5,941.2L450.8,941.9L451.1,942.6L451.4,943.3L451.7,944L452.1,944.3L452.4,945.1L452.7,945.5L453,946.2L453.3,946.8L453.6,947.7L453.9,948.2L454.3,948.5L454.6,949.2L454.9,949.6L455.2,950L455.5,950.5L455.8,951.4L456.2,951.9L456.5,952.5L456.8,953.2L457.1,953.3L457.4,953.9L457.7,955.8L458.1,956.1L458.4,956.7L458.7,957.1L459,957.6L459.3,957.9L459.7,958.5L460,959.6L460.3,960.4L460.6,960.1L460.9,961L461.3,961.1L461.6,961.5L461.9,962L462.2,963L462.6,963.2L462.9,964.8L463.2,965.5L463.5,965.9L463.9,966.1L464.2,966.5L464.5,968.1L464.8,968.7L465.2,968.8" fill="none" stroke="#a55ba6" stroke-width="3.9"/>
<path d="M460.6,960.1L460.9,961L461.3,961.1L461.6,961.5L461.9,962L462.2,963L462.6,963.2L462.9,964.8L463.2,965.5L463.5,965.9L463.9,966.1L464.2,966.5L464.5,968.1L464.8,968.7L465.2,968.8L465.5,969L465.8,968.9L466.1,970.4L466.5,971L466.8,971.7L467.1,973L467.5,973L467.8,974.3L468.1,974.8L468.4,975.4L468.8,975.4L469.1,977L469.4,976.4L469.8,976.7L470.1,977.3L470.4,978.1L470.8,978.3L471.1,979.4L471.4,980.2L471.8,981.4L472.1,981.2L472.4,982.2L472.8,983.6L473.1,982.5L473.4,983L473.8,985.4L474.1,986.4L474.4,985.7L474.8,984.9L475.1,986.9L475.5,987.6L475.8,986.6L476.1,986.3L476.5,986.1L476.8,988.8L477.2,990.4L477.5,991.1L477.8,991.2L478.2,992.9L478.5,993.9L478.9,993.1L479.2,993L479.6,993.5L479.9,994.7L480.3,995.5L480.6,996L480.9,996.4L481.3,997.3L481.6,998.7L482,999.6L482.3,997.6L482.7,997.4L483,999L483.4,999.7L483.7,1000.5L484.1,1002.4L484.5,1001L484.8,1001.3L485.2,1003.2L485.5,1004.1L485.9,1002.6L486.2,1003.6L486.6,1004.6L486.9,1004.5L487.3,1006.1L487.7,1006.5L488,1007.1L488.4,1007.5L488.7,1006.8L489.1,1008.1L489.5,1009.5L489.8,1009.8L490.2,1009.1L490.6,1010.8L490.9,1011.4L491.3,1011.6L491.7,1013.7L492,1013.6L492.4,1012.9L492.8,1015.2L493.1,1015.8L493.5,1016.2L493.9,1016.5L494.2,1017L494.6,1016.7L495,1018.3L495.4,1020L495.7,1018L496.9,1019.9L497.9,1021.3L499,1020.2L500,1022.5L501,1023.7L502.1,1027.3L503.1,1028.3L504.1,1028.5L505.2,1029.3L506.2,1031.4L507.2,1033.1L508.3,1034.9L509.3,1037.4L510.3,1037.2L511.4,1038.8L512.4,1042.8L513.4,1044.4L514.5,1046.1L515.5,1046.3L516.5,1049.2L517.6,1050.8L518.6,1053.2L519.6,1055.3L520.7,1056.4L521.7,1057.6L522.7,1059.9L523.8,1060.7L524.8,1062.3L525.8,1061.7L526.9,1066.2L527.9,1064.5L528.9,1066.3L530,1066.8L531,1069.6L532,1070.6L533.1,1071.5L534.1,1076.7L535.1,1077.7L536.2,1077.4L537.2,1077.9L538.2,1079.4L539.3,1079.8L540.3,1081.9L541.3,1083.9L542.4,1086.4L543.4,1085.7L544.4,1084.5L545.5,1087.2L546.5,1087L547.5,1090.9L548.6,1092.9L549.6,1092L550.6,1093.6L551.7,1094.8L552.7,1094L553.7,1093L554.8,1095.4L555.8,1098.2L556.8,1100.9L557.9,1100.8L558.9,1101.6L559.9,1102.1L561,1104.2L562,1103.9L563,1104.4L564,1106L565.1,1107L566.1,1106.6L567.1,1108L568.2,1107.3L569.2,1106.4L570.2,1106.5L571.3,1108.4L572.3,1110.5L573.3,1111.3L574.4,1109.8L575.4,1111L576.4,1112.3L577.5,1114.5L578.5,1113.6L579.5,1115.8L580.6,1116.6L581.6,1117.7L582.6,1118.2L583.7,1119.7L584.7,1118.1L585.7,1117.9L586.8,1118.2L587.8,1117.7L588.8,1119.2L589.9,1120.2L590.9,1119.6L591.9,1121.3L593,1122.1L594,1120.9L595,1122.8L596.1,1122.3L597.1,1124L598.1,1123.1L599.2,1125.2L600.2,1124.7L601.2,1127.2L602.3,1129.4L603.3,1128.2L604.3,1128.5L605.4,1127.7L606.4,1127.7L607.4,1130.5L608.5,1130.4L609.5,1129.6L610.5,1132.6L611.6,1131.8L612.6,1131.6L613.6,1131.5L614.7,1133.2L615.7,1131.3L616.7,1136.5L617.8,1137.9L618.8,1137.5L619.8,1137.3L620.9,1137.7L621.9,1139.6L622.9,1139.5L624,1137.7L625,1138.5L626,1139.5L627.1,1139.9L628.1,1140.7L629.1,1141.4L630.2,1143.9L631.2,1143.7L632.2,1144.2L633.3,1147.3L634.3,1146.6L635.3,1146L636.4,1144.1L637.4,1144.7L638.4,1146L639.5,1146.4L640.5,1149.3L641.5,1149.1L642.6,1151.2L643.6,1150.2L644.6,1150.4L645.7,1151L646.7,1149.9L647.7,1152.1L648.8,1152.4L649.8,1153.1L650.8,1152.9L651.9,1152.4L652.9,1152.4L653.9,1153.9L655,1154.8L656,1153.8L657,1154.4L658.1,1155L659.1,1156L660.1,1157.9L661.2,1158.6L662.2,1158.1L663.2,1157.1L664.3,1157.1L665.3,1156.3L666.3,1154.7L667.4,1155.5L668.4,1158.9L669.4,1161.2L670.5,1160.7L671.5,1157L672.5,1159.1L673.6,1161.4L674.6,1162.6L675.6,1162.1L676.7,1163L677.7,1164.2L678.7,1164.7L679.8,1162.3L680.8,1162.2L681.8,1163.7L682.9,1162.1L683.9,1162.5L684.9,1162.4L686,1163.1L687,1164.6L688,1162.9L689,1163.2L690.1,1163.4L691.1,1162.4L692.1,1164.8L693.2,1167.1L694.2,1167L695.2,1165.5L696.3,1164.9L697.3,1165.3L698.3,1167.6L699.4,1168.7L700.4,1168.1L701.4,1168.3L702.5,1168L703.5,1168.9L704.5,1167.2L705.6,1168.9L706.6,1171L707.6,1172.7L708.7,1171.9L709.7,1172L710.7,1172.2L711.8,1173.1L712.8,1174.2L713.8,1174.8L714.9,1172.9L715.9,1175.3L716.9,1177.9L718,1178.9L719,1177.4L720,1177.3L721.1,1178.5L722.1,1178.3L723.1,1178.5L724.2,1178.8L725.2,1178L726.2,1179.3L727.3,1179.9L728.3,1179.6L729.3,1180.8L730.4,1181L731.4,1180.5L732.4,1180.1L733.5,1179.8L734.5,1179.2L735.5,1178.5L736.6,1179.1L737.6,1178.2L738.6,1178.9L739.7,1178.6L740.7,1178.7L741.7,1179.8L742.8,1179.7L743.8,1178.6L744.8,1179.3L745.9,1180.3L746.9,1180.2L747.9,1183.2L749,1181.3L750,1180.6L751,1180.3L752.1,1181.6L753.1,1179.9L754.1,1180.7L755.2,1180.4L756.2,1179.7L757.2,1181.5L758.3,1180.8L759.3,1181.3L760.3,1181.1L761.4,1179.5L762.4,1180.4L763.4,1180.5L764.5,1180.4L765.5,1180.5L766.5,1181.3L767.6,1179.3L768.6,1180L769.6,1179.5L770.7,1179.4L771.7,1179.5L772.7,1177.2L773.8,1177.7L774.8,1177L775.8,1178.2L776.9,1177.3L777.9,1178.1L778.9,1175.8L780,1177.2L781,1178L782,1174.1L783.1,1177.9L784.1,1176.6L785.1,1176.1L786.2,1173.1L787.2,1176.2L788.2,1174.2L789.3,1175.8L790.3,1175.5L791.3,1176.2L792.4,1176.5L793.4,1176.1L794.4,1178.1L795.5,1179.8L796.5,1179.6L797.5,1179.4L798.6,1180.7L799.6,1177.9L800.6,1176.3L801.7,1176.9L802.7,1178.3L803.7,1178.9L804.8,1181.4L805.8,1179.1L806.8,1176.9L807.9,1177.6L808.9,1178.9L809.9,1177.2L811,1176.5L812,1179.4L813,1178.3L814,1180.5L815.1,1177L816.1,1175.9L817.1,1177.8L818.2,1176.3L819.2,1176.9L820.2,1177.4L821.3,1175.3L822.3,1177.1L823.3,1175L824.4,1176.1L825.4,1177.6L826.4,1178.1L827.5,1178.6L828.5,1181.1L829.5,1181.4L830.6,1179.5L831.6,1180.1L832.6,1180.4L833.7,1181.1L834.7,1181.5L835.7,1181.3L836.8,1182.5L837.8,1182.9L838.8,1182.4L839.9,1180.7L840.9,1179.5L841.9,1178L843,1177.1L844,1176.1L845,1176.4L846.1,1177.8L847.1,1177.3L848.1,1176.7L849.2,1176.6L850.2,1177.6L851.2,1177.6L852.3,1176.6L853.3,1177.9L854.3,1178.4L855.4,1178.5L856.4,1177.1L857.4,1178.2L858.5,1178.4L859.5,1178.7L860.5,1177.4L861.6,1176.7L862.6,1177.4L863.6,1180.8L864.7,1180.4L865.7,1178.6L866.7,1179.3L867.8,1178.4L868.8,1176.7L869.8,1178.7L870.9,1177.2L871.9,1177.8L872.9,1180.7L874,1180.2L875,1178.4L876,1183.2L877.1,1182.4L878.1,1179.9L879.1,1179.2L880.2,1180.7L881.2,1178.2L882.2,1177.7L883.3,1177.8L884.3,1179.1L885.3,1176.2L886.4,1179.8L887.4,1180.1L888.4,1181L889.5,1181.5L890.5,1180.6L891.5,1181.4L892.6,1180.6L893.6,1180.9L894.6,1180.6L895.7,1180.8L896.7,1179.6L897.7,1180.3L898.8,1180.6L899.8,1180.2L900.8,1182.9L901.9,1182.8L902.9,1181.9L903.9,1181.5L905,1179L906,1181.8L907,1181.5L908.1,1184.4L909.1,1185L910.1,1184.1L911.2,1184.8L912.2,1184.3L913.2,1183.3L914.3,1184.5L915.3,1182.9L916.3,1181.2L917.4,1180.4L918.4,1178.2L919.4,1180.7L920.5,1183.8L921.5,1183.6L922.5,1180.7L923.6,1180.2L924.6,1182.1L925.6,1185.4L926.7,1185.2L927.7,1184.9L928.7,1184L929.8,1183.7L930.8,1182.8L931.8,1183.7L932.9,1185.7L933.9,1183.8L934.9,1184.4L936,1186.6L937,1184.6L938,1184.5L939,1186L940.1,1185.9L941.1,1184.7L942.1,1183.3L943.2,1182.6L944.2,1182.7L945.2,1183.2L946.3,1182.8L947.3,1183.5L948.3,1184L949.4,1183L950.4,1186.3L951.4,1186.6L952.5,1183.8L953.5,1185.4L954.5,1185.3L955.6,1184.2L956.6,1184.6L957.6,1184.7L958.7,1184L959.7,1183.8L960.7,1185L961.8,1185.4L962.8,1184.7L963.8,1183.1L964.9,1183.8L965.9,1182.8L966.9,1184.5L968,1186.7L969,1183.8L970,1183.6L971.1,1182.3L972.1,1181.7L973.1,1181.2L974.2,1183.1L975.2,1183L976.2,1180.3L977.3,1180.7L978.3,1179.6L979.3,1180.7L980.4,1183.3L981.4,1181.4L982.4,1181.4L983.5,1178.8L984.5,1179.4L985.5,1182.1L986.6,1181.1L987.6,1178.9L988.6,1182L989.7,1182.1L990.7,1181.7L991.7,1178.4L992.8,1179.6L993.8,1178.9L994.8,1178.3L995.9,1176.6L996.9,1178.5L997.9,1177.2L999,1178.4L1000,1177.4L1001,1174.9L1002.1,1176.7L1003.1,1177.1L1004.1,1178.1L1005.2,1178.6L1006.2,1178.2L1007.2,1177.6L1008.3,1176.1L1009.3,1176.1L1010.3,1177.2L1011.4,1177.6L1012.4,1178.8L1013.4,1178L1014.5,1179L1015.5,1178.1L1016.5,1176.5L1017.6,1175.2L1018.6,1175.7L1019.6,1177.1L1020.7,1178.1L1021.7,1176.4L1022.7,1175.1L1023.8,1177.5L1024.8,1176.4L1025.8,1175.6L1026.9,1175.7L1027.9,1177.4L1028.9,1175.2L1030,1176.9L1031,1176.9L1032,1176.7L1033.1,1176.6L1034.1,1177.7L1035.1,1179.3L1036.2,1177.2L1037.2,1180.1L1038.2,1181.1L1039.3,1182.5L1040.3,1183.4L1041.3,1182.6L1042.4,1183.6L1043.4,1180.5L1044.4,1181L1045.5,1181.7L1046.5,1180.5L1047.5,1180.7L1048.6,1183.3L1049.6,1185.8L1050.6,1187.5L1051.7,1188.9L1052.7,1187.6L1053.7,1187.6L1054.8,1185.4L1055.8,1185.8L1056.8,1186.9L1057.9,1186.7L1058.9,1185.4L1059.9,1183.6L1061,1183.1L1062,1182.2L1063,1182.8L1064,1182L1065.1,1183.8L1066.1,1181L1067.1,1180.1L1068.2,1179.4L1069.2,1178.4L1070.2,1177.8L1071.3,1176.5L1072.3,1176.2L1073.3,1176.9L1074.4,1177.1L1075.4,1177.7L1076.4,1178.2L1077.5,1174.5L1078.5,1176.6L1079.5,1177.3L1080.6,1176.9L1081.6,1178.3L1082.6,1175.5L1083.7,1173.6L1084.7,1175.2L1085.7,1175.4L1086.8,1174.8L1087.8,1175.8L1088.8,1176.3L1089.9,1174.2L1090.9,1173.9L1091.9,1172.8L1093,1172.3L1094,1172.3L1095,1173.6L1096.1,1172.1L1097.1,1170.6L1098.1,1170.9L1099.2,1170L1100.2,1170.5L1101.2,1168.4L1102.3,1167L1103.3,1167.7L1104.3,1167.1L1105.4,1168.7L1106.4,1170.4L1107.4,1172.4L1108.5,1172.7L1109.5,1172.9L1110.5,1170.1L1111.6,1168.2L1112.6,1167.6L1113.6,1169.7L1114.7,1170.6L1115.7,1170.9L1116.7,1171.3L1117.8,1171.9L1118.8,1172L1119.8,1172.7L1120.9,1171.5L1121.9,1172.8L1122.9,1173L1124,1171.5L1125,1172.4L1126,1172.7L1127.1,1174.2L1128.1,1171.1L1129.1,1170.6L1130.2,1171.5L1131.2,1170.5L1132.2,1170.4L1133.3,1171L1134.3,1171.3L1135.3,1173.1L1136.4,1173.7L1137.4,1171.1L1138.4,1170.7L1139.5,1170.9L1140.5,1169.4L1141.5,1170.1L1142.6,1169.3L1143.6,1169.9L1144.6,1170.4L1145.7,1171.8L1146.7,1168.6L1147.7,1168.7L1148.8,1170.6L1149.8,1170.7L1150.8,1172.4L1151.9,1172.6L1152.9,1172.8L1153.9,1173.9L1155,1173.9L1156,1175.3L1157,1174.2L1158.1,1175L1159.1,1174.9L1160.1,1175L1161.2,1175.1L1162.2,1173.4L1163.2,1172.4L1164.3,1171.5L1165.3,1174.9L1166.3,1172.6L1167.4,1173.1L1168.4,1173.1L1169.4,1171.3L1170.5,1170.9L1171.5,1174.4L1172.5,1174.7L1173.6,1171.8L1174.6,1171.7L1175.6,1171.1L1176.7,1169.9L1177.7,1170.1L1178.7,1171.1L1179.8,1170.6L1180.8,1173L1181.8,1172.5L1182.9,1170.4L1183.9,1171L1184.9,1173L1186,1171.8L1187,1171.9L1188,1169.6L1189,1169.5L1190.1,1171.9L1191.1,1170.7L1192.1,1171.9L1193.2,1171L1194.2,1171.3L1195.2,1172.4L1196.3,1173.2L1197.3,1172.6L1198.3,1174.5L1199.4,1174L1200.4,1174.7L1201.4,1176.1L1202.5,1175.2L1203.5,1173.7L1204.5,1175.3L1205.6,1174.5L1206.6,1173.6L1207.6,1174.6L1208.7,1175.2L1209.7,1177.2L1210.7,1178.7L1211.8,1177.7L1212.8,1176.1L1213.8,1177.8L1214.9,1177.6L1215.9,1178.6L1216.9,1180.7L1218,1178L1219,1179.3L1220,1178.9L1221.1,1180.4L1222.1,1179.6L1223.1,1177.9L1224.2,1178.4L1225.2,1178.4L1226.2,1178.9L1227.3,1179.5L1228.3,1179.5L1229.3,1178.6L1230.4,1181.8L1231.4,1180.1L1232.4,1179.3L1233.5,1179.5L1234.5,1179.2L1235.5,1181.2L1236.6,1182.5L1237.6,1185L1238.6,1182.7L1239.7,1181.7L1240.7,1181.6L1241.7,1180.3L1242.8,1179.9L1243.8,1180.3L1244.8,1180.6L1245.9,1181.5L1246.9,1181.3L1247.9,1181.2L1249,1180.4L1250,1178.4L1251,1179.3L1252.1,1180L1253.1,1179.3L1254.1,1179.3L1255.2,1179.9L1256.2,1178.8L1257.2,1178.5L1258.3,1179.9L1259.3,1178.7L1260.3,1180.8L1261.4,1178.9L1262.4,1179.1L1263.4,1178.8L1264.5,1178.9L1265.5,1178.9L1266.5,1178.4L1267.6,1178.8L1268.6,1178.7L1269.6,1178.5L1270.7,1179.6L1271.7,1177.2L1272.7,1177.5L1273.8,1178L1274.8,1174.8L1275.8,1174.9L1276.9,1178L1277.9,1177.7L1278.9,1176.4L1280,1177.2L1281,1177.4L1282,1178.1L1283.1,1177.7L1284.1,1176.6L1285.1,1177.1L1286.2,1177.4L1287.2,1177.8L1288.2,1179.5L1289.3,1178.9L1290.3,1178.9L1291.3,1178.6L1292.4,1179.7L1293.4,1180.3L1294.4,1181.1L1295.5,1180.4L1296.5,1180.3L1297.5,1178.1L1298.6,1180.2L1299.6,1181.4L1300.6,1182.2L1301.7,1179L1302.7,1179.1L1303.7,1177.3L1304.8,1181.1L1305.8,1179.2L1306.8,1181.6L1307.9,1178.1L1308.9,1179L1309.9,1177.6L1311,1176.7L1312,1179.4L1313,1179.8L1314,1180.9L1315.1,1181.3L1316.1,1181.2L1317.1,1181.8L1318.2,1184.1L1319.2,1181.8L1320.2,1181.3L1321.3,1183.3L1322.3,1182.7L1323.3,1181.7L1324.4,1182.1L1325.4,1181.6L1326.4,1181.1L1327.5,1182.5L1328.5,1181.9L1329.5,1182.9L1330.6,1185.6L1331.6,1182.4L1332.6,1183L1333.7,1182.5L1334.7,1183.3L1335.7,1182.3L1336.8,1180.3L1337.8,1180.9L1338.8,1180.8L1339.9,1179.2L1340.9,1180.6L1341.9,1180.3L1343,1181.7L1344,1180.2L1345,1183.4L1346.1,1181.5L1347.1,1181.9L1348.1,1181.3L1349.2,1181.8L1350.2,1181.3L1351.2,1178.4L1352.3,1180.1L1353.3,1182.7L1354.3,1181.7L1355.4,1181.9L1356.4,1179.4L1357.4,1181L1358.5,1180.3L1359.5,1180.7L1360.5,1180.4L1361.6,1180.6L1362.6,1178.7L1363.6,1180.8L1364.7,1182.8L1365.7,1181.2L1366.7,1181.6L1367.8,1183L1368.8,1185L1369.8,1185.9L1370.9,1187.1L1371.9,1186.5L1372.9,1186.5L1374,1186.7L1375,1188L1376,1184.2L1377.1,1185.5L1378.1,1185.7L1379.1,1185L1380.2,1184.3L1381.2,1183.8L1382.2,1184L1383.3,1184.9L1384.3,1183.6L1385.3,1183.5L1386.4,1182.6L1387.4,1183.9L1388.4,1185.7L1389.5,1184L1390.5,1185.2L1391.5,1185.8L1392.6,1183.5L1393.6,1184.1L1394.6,1186.3L1395.7,1186.7L1396.7,1183.7L1397.7,1186.5L1398.8,1186.8L1399.8,1188.8L1400.8,1189.4L1401.9,1186.7L1402.9,1187.6L1403.9,1185L1405,1186.4L1406,1187.8L1407,1187.8L1408.1,1187.5L1409.1,1185.9L1410.1,1187.3L1411.2,1188.3L1412.2,1185.4L1413.2,1185L1414.3,1183.8L1415.3,1183.8L1416.3,1183L1417.4,1183.4L1418.4,1183.2L1419.4,1185.1L1420.5,1185.1L1421.5,1185.7L1422.5,1185.5L1423.6,1184.6L1424.6,1182.6L1425.6,1181.7L1426.7,1182L1427.7,1182.1L1428.7,1180.8L1429.8,1182.3L1430.8,1185.9L1431.8,1183.3L1432.9,1184L1433.9,1183L1434.9,1180.5L1436,1183.2L1437,1182.2L1438,1182.2L1439,1181.9L1440.1,1182.6L1441.1,1180.2L1442.1,1180.6L1443.2,1179.5L1444.2,1180.3L1445.2,1180.6L1446.3,1180.2L1447.3,1181.1L1448.3,1179.5L1449.4,1177.4L1450.4,1179.6L1451.4,1180.9L1452.5,1181L1453.5,1182.5L1454.5,1181.7L1455.6,1180.2L1456.6,1180.8L1457.6,1183.2L1458.7,1182.6L1459.7,1180.3L1460.7,1180.7L1461.8,1179.3L1462.8,1177.6L1463.8,1177.3L1464.9,1180.7L1465.9,1181.8L1466.9,1181.7L1468,1182.3L1469,1180.4L1470,1179.1L1471.1,1177.3L1472.1,1179.5L1473.1,1179.8L1474.2,1180.1L1475.2,1178.7L1476.2,1179.7L1477.3,1179.7L1478.3,1179.1L1479.3,1178.6L1480.4,1178.4L1481.4,1178.8L1482.4,1177.9L1483.5,1178L1484.5,1175.8L1485.5,1177.7L1486.6,1175.9L1487.6,1175.2L1488.6,1176.4L1489.7,1176.1L1490.7,1174.7L1491.7,1174.8L1492.8,1175.5L1493.8,1175.6L1494.8,1173.9L1495.9,1174.2L1496.9,1175.3L1497.9,1175.6L1499,1176.6L1500,1175.3L1501,1176.5L1502.1,1175.5L1503.1,1174L1504.1,1173.7L1505.2,1173.8L1506.2,1173.2L1507.2,1174.9L1508.3,1173.2L1509.3,1171.9L1510.3,1172.3L1511.4,1171.7L1512.4,1173.8L1513.4,1176.2L1514.5,1178L1515.5,1177.3L1516.5,1173.6L1517.6,1175.9L1518.6,1172.2L1519.6,1173.2L1520.7,1172.5L1521.7,1172L1522.7,1174.4L1523.8,1174.1L1524.8,1173.4L1525.8,1173.9L1526.9,1172.7L1527.9,1172L1528.9,1173.9L1530,1173.2L1531,1176.2L1532,1172.8L1533.1,1171.5L1534.1,1170.7L1535.1,1169.4L1536.2,1170.9L1537.2,1170.9L1538.2,1173.2L1539.3,1172.2L1540.3,1169.7L1541.3,1171L1542.4,1171.9L1543.4,1173.2L1544.4,1173.1L1545.5,1172.1L1546.5,1171.1L1547.5,1171L1548.6,1169.2L1549.6,1169.9L1550.6,1168.4L1551.7,1170.8L1552.7,1172.6L1553.7,1171.8L1554.8,1172L1555.8,1170.1L1556.8,1171.5L1557.9,1167.8L1558.9,1169.1L1559.9,1168.4L1561,1169.9L1562,1165.9L1563,1167.8L1564,1168.4L1565.1,1170.1L1566.1,1169.8L1567.1,1169.1L1568.2,1168.8L1569.2,1168.9L1570.2,1169.8L1571.3,1169.3L1572.3,1169.6L1573.3,1171.6L1574.4,1171.4L1575.4,1171.2L1576.4,1169.9L1577.5,1169.9L1578.5,1167.5L1579.5,1166.8L1580.6,1166.6L1581.6,1167.5L1582.6,1168.4L1583.7,1167.2L1584.7,1167L1585.7,1167.9L1586.8,1168.1L1587.8,1167.2L1588.8,1168.2L1589.9,1167L1590.9,1170.1L1591.9,1171.1L1593,1173.9L1594,1174.4L1595,1171.3L1596.1,1175.3L1597.1,1175.1L1598.1,1178L1599.2,1176.1L1600.2,1172.5L1601.2,1174.2L1602.3,1173.1L1603.3,1170.9L1604.3,1170.1L1605.4,1171.7L1606.4,1172.7L1607.4,1173.3L1608.5,1172.3L1609.5,1172.3L1610.5,1172.3L1611.6,1173.6L1612.6,1172.9L1613.6,1172.4L1614.7,1168.9L1615.7,1170.5L1616.7,1170.6L1617.8,1169.3L1618.8,1169L1619.8,1170.1L1620.9,1171.3L1621.9,1170.4L1622.9,1170.1L1624,1172.2L1625,1171L1626,1170.5L1627.1,1168.7L1628.1,1170.2L1629.1,1169.5L1630.2,1167.6L1631.2,1166.3L1632.2,1167.2L1633.3,1167.4L1634.3,1165.5L1635.3,1166.8L1636.4,1167.5L1637.4,1169.1L1638.4,1169.8L1639.5,1169.2L1640.5,1170.2L1641.5,1167.6L1642.6,1168L1643.6,1169L1644.6,1169.7L1645.7,1169.1L1646.7,1167L1647.7,1167.3L1648.8,1166.5L1649.8,1167.2L1650.8,1168.8L1651.9,1168.4L1652.9,1166.9L1653.9,1167.6L1655,1168L1656,1167L1657,1163.6L1658.1,1165.7L1659.1,1167.3L1660.1,1167.4L1661.2,1168.7L1662.2,1173.6L1663.2,1176.6L1664.3,1174.2L1665.3,1171.3L1666.3,1171.6L1667.4,1173L1668.4,1172.5L1669.4,1171.1L1670.5,1172.1L1671.5,1172.2L1672.5,1171.1L1673.6,1175.1L1674.6,1175.8L1675.6,1176.1L1676.7,1177L1677.7,1176.7L1678.7,1177.1L1679.8,1178.9L1680.8,1178.7L1681.8,1179.3L1682.9,1178.4L1683.9,1180.3L1684.9,1180.1L1686,1177.5L1687,1181.8L1688,1181.8L1689,1181.3L1690.1,1181.7L1691.1,1182.9L1692.1,1183" fill="none" stroke="#a55ba6" stroke-width="5.0"/>
<path d="M0,-16.2L12.4,0L0,16.2L-12.4,0Z" transform="translate(200.4,78)" fill="none" stroke="#a55ba6" stroke-width="4.0" stroke-miterlimit="10" stroke-linejoin="miter"/>
<path d="M0,-16.2L12.4,0L0,16.2L-12.4,0Z" transform="translate(306.2,612)" fill="none" stroke="#a55ba6" stroke-width="4.0" stroke-miterlimit="10" stroke-linejoin="miter"/>
<path d="M0,-16.2L12.4,0L0,16.2L-12.4,0Z" transform="translate(413.6,870)" fill="none" stroke="#a55ba6" stroke-width="4.0" stroke-miterlimit="10" stroke-linejoin="miter"/>
<path d="M0,-16.2L12.4,0L0,16.2L-12.4,0Z" transform="translate(519.4,1055)" fill="none" stroke="#a55ba6" stroke-width="4.0" stroke-miterlimit="10" stroke-linejoin="miter"/>
<path d="M0,-16.2L12.4,0L0,16.2L-12.4,0Z" transform="translate(626.7,1139.7)" fill="none" stroke="#a55ba6" stroke-width="4.0" stroke-miterlimit="10" stroke-linejoin="miter"/>
<path d="M0,-16.2L12.4,0L0,16.2L-12.4,0Z" transform="translate(732.7,1180)" fill="none" stroke="#a55ba6" stroke-width="4.0" stroke-miterlimit="10" stroke-linejoin="miter"/>
<path d="M0,-16.2L12.4,0L0,16.2L-12.4,0Z" transform="translate(838.3,1183)" fill="none" stroke="#a55ba6" stroke-width="4.0" stroke-miterlimit="10" stroke-linejoin="miter"/>
<path d="M0,-16.2L12.4,0L0,16.2L-12.4,0Z" transform="translate(946.3,1182.8)" fill="none" stroke="#a55ba6" stroke-width="4.0" stroke-miterlimit="10" stroke-linejoin="miter"/>
<path d="M0,-16.2L12.4,0L0,16.2L-12.4,0Z" transform="translate(1051.6,1189)" fill="none" stroke="#a55ba6" stroke-width="4.0" stroke-miterlimit="10" stroke-linejoin="miter"/>
<path d="M0,-16.2L12.4,0L0,16.2L-12.4,0Z" transform="translate(1159.5,1175.1)" fill="none" stroke="#a55ba6" stroke-width="4.0" stroke-miterlimit="10" stroke-linejoin="miter"/>
<path d="M0,-16.2L12.4,0L0,16.2L-12.4,0Z" transform="translate(1265.4,1178.9)" fill="none" stroke="#a55ba6" stroke-width="4.0" stroke-miterlimit="10" stroke-linejoin="miter"/>
<path d="M0,-16.2L12.4,0L0,16.2L-12.4,0Z" transform="translate(1370.9,1187.2)" fill="none" stroke="#a55ba6" stroke-width="4.0" stroke-miterlimit="10" stroke-linejoin="miter"/>
<path d="M0,-16.2L12.4,0L0,16.2L-12.4,0Z" transform="translate(1478.7,1178.9)" fill="none" stroke="#a55ba6" stroke-width="4.0" stroke-miterlimit="10" stroke-linejoin="miter"/>
<path d="M0,-16.2L12.4,0L0,16.2L-12.4,0Z" transform="translate(1584.4,1166.7)" fill="none" stroke="#a55ba6" stroke-width="4.0" stroke-miterlimit="10" stroke-linejoin="miter"/>
<path d="M0,-16.2L12.4,0L0,16.2L-12.4,0Z" transform="translate(1692.1,1183)" fill="none" stroke="#a55ba6" stroke-width="4.0" stroke-miterlimit="10" stroke-linejoin="miter"/>
<path d="M200.4,53.6L200.6,54.3L200.7,55L200.9,55.7L201.1,56.4L201.3,57.1L201.5,57.8L201.6,58.4L201.8,59.1L202,59.8L202.2,60.5L202.3,61.2L202.5,61.9L202.7,62.6L202.9,63.3L203.1,64L203.2,64.7L203.4,65.4L203.6,66L203.8,66.7L203.9,67.4L204.1,68.1L204.3,68.8L204.5,69.5L204.7,70.2L204.8,70.9L205,71.6L205.2,72.3L205.4,73L205.5,73.6L205.7,74.3L205.9,75L206.1,75.7L206.2,76.4L206.4,77.1L206.6,77.8L206.8,78.5L207,79.2L207.1,79.9L207.3,80.6L207.5,81.2L207.7,81.9L207.8,82.6L208,83.3L208.2,84L208.4,84.7L208.5,85.4L208.7,86.1L208.9,86.8L209.1,87.5L209.3,88.2L209.4,88.9L209.6,89.5L209.8,90.2L210,90.9L210.1,91.6L210.3,92.3L210.5,93L210.7,93.7L210.8,94.4L211,95.1L211.2,95.8L211.4,96.5L211.5,97.1L211.7,97.8L211.9,98.5L212.1,99.2L212.3,99.9L212.4,100.6L212.6,101.3L212.8,102L213,102.7L213.1,103.4L213.3,104.1L213.5,104.8L213.7,105.4L213.8,106.1L214,106.8L214.2,107.5L214.4,108.2L214.5,108.9L214.7,109.6L214.9,110.3L215.1,111L215.2,111.7L215.4,112.4L215.6,113.1L215.8,113.7L215.9,114.4L216.1,115.1L216.3,115.8L216.5,116.5L216.7,117.2L216.8,117.9L217,118.6L217.2,119.3L217.4,120L217.5,120.7L217.7,121.4L217.9,122L218.1,122.7L218.2,123.4L218.4,124.1L218.6,124.8L218.8,125.5L218.9,126.2L219.1,126.9L219.3,127.6L219.5,128.3L219.6,129L219.8,129.7L220,130.4L220.2,131L220.3,131.7L220.5,132.4L220.7,133.1L220.9,133.8L221,134.5L221.2,135.2L221.4,135.9L221.6,136.6L221.7,137.3L221.9,138L222.1,138.7L222.3,139.3L222.4,140L222.6,140.7L222.8,141.4L223,142.1L223.1,142.8L223.3,143.5L223.5,144.2L223.7,144.9L223.8,145.6L224,146.3L224.2,147L224.4,147.7L224.5,148.3L224.7,149L224.9,149.7L225.1,150.4L225.2,151.1L225.4,151.8L225.6,152.5L225.8,153.2L225.9,153.9L226.1,154.6L226.3,155.3L226.5,156L226.6,156.7L226.8,157.3L227,158L227.2,158.7L227.3,159.4L227.5,160.1L227.7,160.8L227.9,161.5L228,162.2L228.2,162.9L228.4,163.6L228.6,164.3L228.7,165L228.9,165.7L229.1,166.3L229.3,167L229.4,167.7L229.6,168.4L229.8,169.1L230,169.8L230.1,170.5L230.3,171.2L230.5,171.9L230.7,172.6L230.8,173.3L231,174L231.2,174.7L231.4,175.3L231.5,176L231.7,176.7L231.9,177.4L232.1,178.1L232.2,178.8L232.4,179.5L232.6,180.2L232.8,180.9L232.9,181.6L233.1,182.3L233.3,183L233.5,183.7L233.6,184.3L233.8,185L234,185.7L234.2,186.4L234.3,187.1L234.5,187.8L234.7,188.5L234.9,189.2L235,189.9L235.2,190.6L235.4,191.3L235.6,192L235.7,192.7L235.9,193.3L236.1,194L236.3,194.7L236.4,195.4L236.6,196.1L236.8,196.8L237,197.5L237.1,198.2L237.3,198.9L237.5,199.6L237.7,200.3L237.8,201L238,201.7L238.2,202.3L238.4,203L238.5,203.7L238.7,204.4L238.9,205.1L239.1,205.8L239.2,206.5L239.4,207.2L239.6,207.9L239.8,208.6L239.9,209.3L240.1,210L240.3,210.7L240.4,211.4L240.6,212L240.8,212.7L241,213.4L241.1,214.1L241.3,214.8L241.5,215.5L241.7,216.2L241.8,216.9L242,217.6L242.2,218.3L242.4,219L242.5,219.7L242.7,220.4L242.9,221L243.1,221.7L243.2,222.4L243.4,223.1L243.6,223.8L243.8,224.5L243.9,225.2L244.1,225.9L244.3,226.6L244.5,227.3L244.6,228L244.8,228.7L245,229.4L245.2,230L245.3,230.7L245.5,231.4L245.7,232.1L245.9,232.8L246,233.5L246.2,234.2L246.4,234.9L246.6,235.6L246.7,236.3L246.9,237L247.1,237.7L247.3,238.4L247.4,239L247.6,239.7L247.8,240.4L248,241.1L248.1,241.8L248.3,242.5L248.5,243.2L248.7,243.9L248.8,244.6L249,245.3L249.2,246L249.4,246.7L249.5,247.4L249.7,248.1L249.9,248.7L250.1,249.4L250.2,250.1L250.4,250.8L250.6,251.5L250.8,252.2L250.9,252.9L251.1,253.6L251.3,254.3L251.5,255L251.6,255.7L251.8,256.4L252,257.1L252.2,257.7L252.3,258.4L252.5,259.1L252.7,259.8L252.9,260.5L253,261.2L253.2,261.9L253.4,262.6L253.6,263.3L253.7,264L253.9,264.7L254.1,265.4L254.3,266.1L254.4,266.7L254.6,267.4L254.8,268.1L255,268.8L255.1,269.5L255.3,270.2L255.5,270.9L255.7,271.6L255.8,272.3L256,273L256.2,273.7L256.4,274.4L256.5,275L256.7,275.7L256.9,276.4L257.1,277.1L257.2,277.8L257.4,278.5L257.6,279.2L257.8,279.9L258,280.6L258.1,281.3L258.3,282L258.5,282.7L258.7,283.4L258.8,284L259,284.7L259.2,285.4L259.4,286.1L259.5,286.8L259.7,287.5L259.9,288.2L260.1,288.9L260.2,289.6L260.4,290.3L260.6,291L260.8,291.7L260.9,292.4L261.1,293L261.3,293.7L261.5,294.4L261.6,295.1L261.8,295.8L262,296.5L262.2,297.2L262.3,297.9L262.5,298.6L262.7,299.3L262.9,300L263,300.7L263.2,301.3L263.4,302L263.6,302.7L263.8,303.4L263.9,304.1L264.1,304.8L264.3,305.5L264.5,306.2L264.6,306.9L264.8,307.6L265,308.3L265.2,309L265.3,309.7L265.5,310.3L265.7,311L265.9,311.7L266,312.4L266.2,313.1L266.4,313.8L266.6,314.5L266.8,315.2L266.9,315.9L267.1,316.6L267.3,317.3L267.5,318L267.6,318.6L267.8,319.3L268,320L268.2,320.7L268.3,321.4L268.5,322.1L268.7,322.8L268.9,323.5L269,324.2L269.2,324.9L269.4,325.6L269.6,326.3L269.8,326.9L269.9,327.6L270.1,328.3L270.3,329L270.5,329.7L270.6,330.4L270.8,331.1L271,331.8L271.2,332.5L271.4,333.2L271.5,333.9L271.7,334.5L271.9,335.2L272.1,335.9L272.2,336.6L272.4,337.3L272.6,338L272.8,338.7L272.9,339.4L273.1,340.1L273.3,340.8L273.5,341.5L273.7,342.2L273.8,342.8L274,343.5L274.2,344.2L274.4,344.9L274.5,345.6L274.7,346.3L274.9,347L275.1,347.7L275.3,348.4L275.4,349.1L275.6,349.8L275.8,350.4L276,351.1L276.1,351.8L276.3,352.5L276.5,353.2L276.7,353.9L276.9,354.6L277,355.3L277.2,356L277.4,356.7L277.6,357.4L277.7,358L277.9,358.7L278.1,359.4L278.3,360.1L278.5,360.8L278.6,361.5L278.8,362.2L279,362.9L279.2,363.6L279.4,364.3L279.5,365L279.7,365.6L279.9,366.3L280.1,367L280.2,367.7L280.4,368.4L280.6,369.1L280.8,369.8L281,370.5L281.1,371.2L281.3,371.9L281.5,372.6L281.7,373.2L281.9,373.9L282,374.6L282.2,375.3L282.4,376L282.6,376.7L282.8,377.4L282.9,378.1L283.1,378.8L283.3,379.5L283.5,380.2L283.6,380.8L283.8,381.5L284,382.2L284.2,382.9L284.4,383.6L284.5,384.3L284.7,385L284.9,385.7L285.1,386.4L285.3,387.1L285.4,387.7L285.6,388.4L285.8,389.1L286,389.8L286.2,390.5L286.3,391.2L286.5,391.9L286.7,392.6L286.9,393.3L287.1,394L287.2,394.6L287.4,395.3L287.6,396L287.8,396.7L288,397.4L288.1,398.1L288.3,398.8L288.5,399.5L288.7,400.2L288.9,400.9L289,401.5L289.2,402.2L289.4,402.9L289.6,403.6L289.8,404.3L289.9,405L290.1,405.7L290.3,406.4L290.5,407.1L290.7,407.8L290.9,408.4L291,409.1L291.2,409.8L291.4,410.5L291.6,411.2L291.8,411.9L291.9,412.6L292.1,413.3L292.3,414L292.5,414.7L292.7,415.3L292.8,416L293,416.7L293.2,417.4L293.4,418.1L293.6,418.8L293.8,419.5L293.9,420.2L294.1,420.9L294.3,421.5L294.5,422.2L294.7,422.9L294.8,423.6L295,424.3L295.2,425L295.4,425.7L295.6,426.4L295.8,427.1L295.9,427.8L296.1,428.4L296.3,429.1L296.5,429.8L296.7,430.5L296.8,431.2L297,431.9L297.2,432.6L297.4,433.3L297.6,434L297.8,434.6L297.9,435.3L298.1,436L298.3,436.7L298.5,437.4L298.7,438.1L298.9,438.8L299,439.5L299.2,440.2L299.4,440.8L299.6,441.5L299.8,442.2L300,442.9L300.1,443.6L300.3,444.3L300.5,445L300.7,445.7L300.9,446.4L301.1,447L301.2,447.7L301.4,448.4L301.6,449.1L301.8,449.8L302,450.5L302.2,451.2L302.3,451.9L302.5,452.5L302.7,453.2L302.9,453.9L303.1,454.6L303.3,455.3L303.4,456L303.6,456.7L303.8,457.4L304,458.1L304.2,458.7L304.4,459.4L304.6,460.1L304.7,460.8L304.9,461.5L305.1,462.2L305.3,462.9L305.5,463.6L305.7,464.2L305.8,464.9L306,465.6L306.2,466.3L306.4,467L306.6,467.7L306.8,468.4L307,469.1L307.1,469.7L307.3,470.4L307.5,471.1L307.7,471.8L307.9,472.5L308.1,473.2L308.3,473.9L308.4,474.6L308.6,475.2L308.8,475.9L309,476.6L309.2,477.3L309.4,478L309.6,478.7L309.7,479.4L309.9,480.1L310.1,480.7L310.3,481.4L310.5,482.1L310.7,482.8L310.9,483.5L311,484.2L311.2,484.9L311.4,485.6L311.6,486.2L311.8,486.9L312,487.6L312.2,488.3L312.3,489L312.5,489.7L312.7,490.4L312.9,491.1L313.1,491.7L313.3,492.4L313.5,493.1L313.7,493.8L313.8,494.5L314,495.2L314.2,495.9L314.4,496.5L314.6,497.2L314.8,497.9L315,498.6L315.2,499.3L315.3,500L315.5,500.7L315.7,501.4L315.9,502L316.1,502.7L316.3,503.4L316.5,504.1L316.7,504.8L316.8,505.5L317,506.2L317.2,506.8L317.4,507.5L317.6,508.2L317.8,508.9L318,509.6L318.2,510.3L318.3,511L318.5,511.7L318.7,512.3L318.9,513L319.1,513.7L319.3,514.4L319.5,515.1L319.7,515.8L319.9,516.5L320,517.1L320.2,517.8L320.4,518.5L320.6,519.2L320.8,519.9L321,520.6L321.2,521.3L321.4,521.9L321.5,522.6L321.7,523.3L321.9,524L322.1,524.7L322.3,525.4L322.5,526.1L322.7,526.8L322.9,527.4L323.1,528.1L323.2,528.8L323.4,529.5L323.6,530.2L323.8,530.9L324,531.6L324.2,532.2L324.4,532.9L324.6,533.6L324.7,534.3L324.9,535L325.1,535.7L325.3,536.4L325.5,537L325.7,537.7L325.9,538.4L326.1,539.1L326.2,539.8L326.4,540.5L326.6,541.2L326.8,541.9L327,542.5L327.2,543.2L327.4,543.9L327.6,544.6L327.7,545.3L327.9,546L328.1,546.7L328.3,547.3L328.5,548L328.7,548.7L328.9,549.4L329.1,550.1L329.2,550.8L329.4,551.5L329.6,552.2L329.8,552.8L330,553.5L330.2,554.2L330.4,554.9L330.6,555.6L330.7,556.3L330.9,557L331.1,557.6L331.3,558.3L331.5,559L331.7,559.7L331.9,560.4L332,561.1L332.2,561.8L332.4,562.5L332.6,563.1L332.8,563.8L333,564.5L333.2,565.2L333.3,565.9L333.5,566.6L333.7,567.3L333.9,568L334.1,568.6L334.3,569.3L334.5,570L334.6,570.7L334.8,571.4L335,572.1L335.2,572.8L335.4,573.5L335.6,574.1L335.7,574.8L335.9,575.5L336.1,576.2L336.3,576.9L336.5,577.6L336.7,578.3L336.9,579L337,579.7L337.2,580.3L337.4,581L337.6,581.7L337.8,582.4L338,583.1L338.1,583.8L338.3,584.5L338.5,585.2L338.7,585.9L338.9,586.5L339.1,587.2L339.2,587.9L339.4,588.6L339.6,589.3L339.8,590L340,590.7L340.1,591.4L340.3,592.1L340.5,592.7L340.7,593.4L340.9,594.1L341,594.8L341.2,595.5L341.4,596.2L341.6,596.9L341.8,597.6L342,598.3L342.1,598.9L342.3,599.6L342.5,600.3L342.7,601L342.9,601.7L343,602.4L343.2,603.1L343.4,603.8L343.6,604.5L343.7,605.2L343.9,605.9L344.1,606.5L344.3,607.2L344.5,607.9L344.6,608.6L344.8,609.3L345,610L345.2,610.7L345.4,611.4L345.5,612.1L345.7,612.8L345.9,613.5L346.1,614.1L346.2,614.8L346.4,615.5L346.6,616.2L346.8,616.9L346.9,617.6L347.1,618.3L347.3,619L347.5,619.7L347.6,620.4L347.8,621.1L348,621.8L348.2,622.4L348.3,623.1L348.5,623.8L348.7,624.5L348.9,625.2L349,625.9L349.2,626.6L349.4,627.3L349.6,628L349.7,628.7L349.9,629.4L350.1,630.1L350.3,630.8L350.4,631.5L350.6,632.1L350.8,632.8L350.9,633.5L351.1,634.2L351.3,634.9L351.5,635.6L351.6,636.3L351.8,637L352,637.7L352.1,638.4L352.3,639.1L352.5,639.8L352.7,640.5L352.8,641.2L353,641.9L353.2,642.6L353.3,643.2L353.5,643.9L353.7,644.6L353.9,645.3L354,646L354.2,646.7L354.4,647.4L354.5,648.1L354.7,648.8L354.9,649.5L355.1,650.2L355.2,650.9L355.4,651.6L355.6,652.3L355.7,653L355.9,653.7L356.1,654.4L356.2,655L356.4,655.7L356.6,656.4L356.8,657.1L356.9,657.8L357.1,658.5L357.3,659.2L357.4,659.9L357.6,660.6L357.8,661.3L358,662L358.1,662.7L358.3,663.4L358.5,664.1L358.6,664.8L358.8,665.5L359,666.2L359.2,666.8L359.3,667.5L359.5,668.2L359.7,668.9L359.8,669.6L360,670.3L360.2,671L360.4,671.7L360.5,672.4L360.7,673.1L360.9,673.8L361,674.5L361.2,675.2L361.4,675.9L361.6,676.6L361.7,677.3L361.9,677.9L362.1,678.6L362.2,679.3L362.4,680L362.6,680.7L362.8,681.4L362.9,682.1L363.1,682.8L363.3,683.5L363.5,684.2L363.6,684.9L363.8,685.6L364,686.3L364.2,687L364.3,687.7L364.5,688.3L364.7,689L364.9,689.7L365,690.4L365.2,691.1L365.4,691.8L365.6,692.5L365.7,693.2L365.9,693.9L366.1,694.6L366.3,695.3L366.4,696L366.6,696.6L366.8,697.3L367,698L367.1,698.7L367.3,699.4L367.5,700.1L367.7,700.8L367.9,701.5L368,702.2L368.2,702.9L368.4,703.6L368.6,704.2L368.8,704.9L368.9,705.6L369.1,706.3L369.3,707L369.5,707.7L369.7,708.4L369.8,709.1L370,709.8L370.2,710.5L370.4,711.1L370.6,711.8L370.7,712.5L370.9,713.2L371.1,713.9L371.3,714.6L371.5,715.3L371.7,716L371.8,716.7L372,717.3L372.2,718L372.4,718.7L372.6,719.4L372.8,720.1L373,720.8L373.1,721.5L373.3,722.2L373.5,722.8L373.7,723.5L373.9,724.2L374.1,724.9L374.3,725.6L374.5,726.3L374.7,727L374.8,727.6L375,728.3L375.2,729L375.4,729.7L375.6,730.4L375.8,731.1L376,731.7L376.2,732.4L376.4,733.1L376.6,733.8L376.8,734.5L377,735.2L377.1,735.9L377.3,736.5L377.5,737.2L377.7,737.9L377.9,738.6L378.1,739.3L378.3,739.9L378.5,740.6L378.7,741.3L378.9,742L379.1,742.7L379.3,743.4L379.5,744L379.7,744.7L379.9,745.4L380.1,746.1L380.3,746.8L380.5,747.4L380.7,748.1L380.9,748.8L381.1,749.5L381.3,750.2L381.5,750.8L381.7,751.5L381.9,752.2L382.1,752.9L382.4,753.6L382.6,754.2L382.8,754.9L383,755.6L383.2,756.3L383.4,756.9L383.6,757.6L383.8,758.3L384,759L384.2,759.7L384.4,760.3L384.6,761L384.8,761.7L385.1,762.4L385.3,763L385.5,763.7L385.7,764.4L385.9,765.1L386.1,765.7L386.3,766.4L386.5,767.1L386.8,767.8L387,768.4L387.2,769.1L387.4,769.8L387.6,770.5L387.8,771.1L388,771.8L388.3,772.5L388.5,773.2L388.7,773.8L388.9,774.5L389.1,775.2L389.3,775.9L389.5,776.5L389.8,777.2L390,777.9L390.2,778.6L390.4,779.2L390.6,779.9L390.9,780.6L391.1,781.2L391.3,781.9L391.5,782.6L391.7,783.3L392,783.9L392.2,784.6L392.4,785.3L392.6,785.9L392.8,786.6L393.1,787.3L393.3,788L393.5,788.6L393.7,789.3L394,790L394.2,790.6L394.4,791.3L394.6,792L394.8,792.7L395.1,793.3L395.3,794L395.5,794.7L395.7,795.3L396,796L396.2,796.7L396.4,797.3L396.6,798L396.9,798.7L397.1,799.3L397.3,800L397.5,800.7L397.8,801.4L398,802L398.2,802.7L398.5,803.4L398.7,804L398.9,804.7L399.1,805.4L399.4,806L399.6,806.7L399.8,807.4L400.1,808L400.3,808.7L400.5,809.4L400.7,810L401,810.7L401.2,811.4L401.4,812L401.7,812.7L401.9,813.4L402.1,814L402.4,814.7L402.6,815.4L402.8,816L403,816.7L403.3,817.4L403.5,818L403.7,818.7L404,819.4L404.2,820L404.4,820.7L404.7,821.4L404.9,822L405.1,822.7L405.4,823.4L405.6,824L405.8,824.7L406.1,825.4L406.3,826L406.5,826.7L406.8,827.4L407,828L407.2,828.7L407.5,829.4L407.7,830L407.9,830.7L408.2,831.4L408.4,832L408.6,832.7L408.9,833.4L409.1,834L409.3,834.7L409.6,835.4L409.8,836L410,836.7L410.3,837.4L410.5,838L410.7,838.7L411,839.4L411.2,840L411.4,840.7L411.7,841.4L411.9,842L412.2,842.7L412.4,843.3L412.6,844L412.9,844.7L413.1,845.3L413.3,846L413.6,846.7L413.8,847.3L414,848L414.3,848.7L414.5,849.3L414.7,850L415,850.7L415.2,851.3L415.5,852L415.7,852.7L415.9,853.3L416.2,854L416.4,854.6L416.6,855.3L416.9,856L417.1,856.6L417.3,857.3L417.6,858L417.8,858.6L418.1,859.3L418.3,860L418.5,860.6L418.8,861.3L419,862L419.2,862.6L419.5,863.3L419.7,863.9L420,864.6L420.2,865.3L420.4,865.9L420.7,866.6L420.9,867.3L421.2,867.9L421.4,868.6L421.6,869.3L421.9,869.9L422.1,870.6L422.3,871.2L422.6,871.9L422.8,872.6L423.1,873.2L423.3,873.9L423.5,874.6L423.8,875.2L424,875.9L424.3,876.5L424.5,877.2L424.7,877.9L425,878.5L425.2,879.2L425.5,879.9L425.7,880.5L425.9,881.2L426.2,881.8L426.4,882.5L426.7,883.2L426.9,883.8L427.2,884.5L427.4,885.1L427.6,885.8L427.9,886.5L428.1,887.1L428.4,887.8L428.6,888.5L428.9,889.1L429.1,889.8L429.3,890.4L429.6,891.1L429.8,891.8L430.1,892.4L430.3,893.1L430.6,893.7L430.8,894.4L431.1,895.1L431.3,895.7L431.5,896.4L431.8,897L432,897.7L432.3,898.4L432.5,899L432.8,899.7L433,900.3L433.3,901L433.5,901.6L433.8,902.3L434,903L434.3,903.6L434.5,904.3L434.8,904.9L435,905.6L435.3,906.3L435.5,906.9L435.8,907.6L436,908.2L436.3,908.9L436.5,909.5L436.8,910.2L437,910.9L437.3,911.5L437.5,912.2L437.8,912.8L438,913.5L438.3,914.1L438.5,914.8L438.8,915.4L439,916.1L439.3,916.8L439.5,917.4L439.8,918.1L440,918.7L440.3,919.4L440.5,920L440.8,920.7L441.1,921.3L441.3,922L441.6,922.7L441.8,923.3L442.1,924L442.3,924.6L442.6,925.3L442.8,925.9L443.1,926.6L443.4,927.2L443.6,927.9L443.9,928.5L444.1,929.2L444.4,929.8L444.7,930.5L444.9,931.1L445.2,931.8L445.4,932.4L445.7,933.1L446,933.7L446.2,934.4L446.5,935L446.7,935.7L447,936.3L447.3,937L447.5,937.6L447.8,938.2L448.1,938.9L448.3,939.6L448.6,940.3L448.8,940.9L449.1,941.6L449.4,942.3L449.6,942.9L449.9,943.5L450.2,944L450.4,944.8L450.7,945.4L451,946L451.2,946.5L451.5,947.3L451.8,948L452,948.8L452.3,949.2L452.6,949.8L452.9,950.6L453.1,951.6L453.4,952.1L453.7,952.5L453.9,953.3L454.2,953.6L454.5,954.3L454.8,955.3L455,956.3L455.3,957.1L455.6,957.2L455.9,957.7L456.1,958.1L456.4,959.3L456.7,959.8L457,960.6L457.2,961.1L457.5,961.4L457.8,962.1L458.1,963.1L458.3,963.6L458.6,964.7L458.9,965.1L459.2,965.6L459.5,965.7L459.7,966.8L460,966.8L460.3,967.6L460.6,968.3L460.9,969.4L461.1,971L461.4,970.6L461.7,970.8L462,971.9L462.3,972.5L462.6,973.3L462.8,973.7L463.1,974.5L463.4,974.6L463.7,975L464,976.1L464.3,976.8L464.6,977.9L464.9,978L465.1,978.6" fill="none" stroke="#6cbe45" stroke-width="3.9"/>
<path d="M460.6,968.3L460.9,969.4L461.1,971L461.4,970.6L461.7,970.8L462,971.9L462.3,972.5L462.6,973.3L462.8,973.7L463.1,974.5L463.4,974.6L463.7,975L464,976.1L464.3,976.8L464.6,977.9L464.9,978L465.1,978.6L465.4,978.2L465.7,978.5L466,979.7L466.3,980.8L466.6,981.1L466.9,982.5L467.2,983L467.5,983.6L467.8,984.5L468.1,985.8L468.4,986.3L468.7,986.7L469,986.7L469.3,988L469.6,988.6L469.9,989.7L470.2,988.5L470.5,989.4L470.8,990.9L471.1,991.1L471.4,991.5L471.7,992L472,992.6L472.3,993.2L472.6,994.7L472.9,996.3L473.2,996.3L473.5,996.7L473.8,996.9L474.2,996.3L474.5,997.1L474.8,999.3L475.1,998.8L475.4,998L475.7,999.7L476.1,1001.2L476.4,1002.3L476.7,1002.6L477,1003.7L477.3,1004.2L477.7,1006.7L478,1006L478.3,1006L478.7,1005.8L479,1007.1L479.3,1007.5L479.6,1008.5L480,1009.3L480.3,1010.5L480.7,1010.9L481,1009.9L481.3,1011.4L481.7,1010.9L482,1011.9L482.4,1013.2L482.7,1013.7L483,1013.2L483.4,1014.5L483.7,1013.4L484.1,1015L484.4,1016.2L484.8,1015.4L485.2,1016.6L485.5,1017.2L485.9,1018.4L486.2,1018.9L486.6,1018.3L486.9,1020.1L487.3,1022L487.7,1022.5L488,1021.4L488.4,1023L488.8,1021.5L489.2,1023.9L489.5,1022.8L489.9,1023.7L490.3,1025.9L490.7,1025.7L491,1026.2L491.4,1026.4L491.8,1029.1L492.2,1029.5L492.6,1030.7L493,1029.7L493.4,1028.2L493.8,1029.1L494.2,1029.7L494.6,1030.1L495,1031.6L495.4,1032.6L495.8,1032.5L496.9,1031.5L497.9,1032.3L499,1034.8L500,1037L501,1040.1L502.1,1037L503.1,1039L504.1,1039.7L505.2,1041.6L506.2,1043.2L507.2,1043.6L508.3,1043.3L509.3,1046.5L510.3,1047.2L511.4,1048.2L512.4,1049.7L513.4,1052.1L514.5,1051.4L515.5,1051.2L516.5,1053.1L517.6,1056L518.6,1057L519.6,1058.2L520.7,1059.3L521.7,1059.4L522.7,1061L523.8,1059.5L524.8,1060.3L525.8,1061.3L526.9,1062.8L527.9,1062.9L528.9,1065.8L530,1065.9L531,1064L532,1061.8L533.1,1061.6L534.1,1064.5L535.1,1068.9L536.2,1068.9L537.2,1068.7L538.2,1068.2L539.3,1069.1L540.3,1070.4L541.3,1070.8L542.4,1072.6L543.4,1072.4L544.4,1070.4L545.5,1070.7L546.5,1074L547.5,1074L548.6,1075.6L549.6,1076.4L550.6,1079L551.7,1080.5L552.7,1082.6L553.7,1084.2L554.8,1081.8L555.8,1083.6L556.8,1086L557.9,1088.1L558.9,1086.6L559.9,1089L561,1088L562,1088L563,1089.3L564,1090.8L565.1,1091L566.1,1088.9L567.1,1091.6L568.2,1094.9L569.2,1096.2L570.2,1094.9L571.3,1095.3L572.3,1097.2L573.3,1098L574.4,1099.6L575.4,1098.7L576.4,1100.5L577.5,1103.1L578.5,1106.3L579.5,1106.8L580.6,1106.7L581.6,1107.9L582.6,1104.4L583.7,1104.1L584.7,1107.9L585.7,1109.5L586.8,1109L587.8,1109.9L588.8,1111L589.9,1111.3L590.9,1110.6L591.9,1114.9L593,1114.2L594,1115.7L595,1115.6L596.1,1118L597.1,1115.5L598.1,1115.4L599.2,1114.8L600.2,1116.3L601.2,1116.9L602.3,1119.4L603.3,1119.4L604.3,1119.3L605.4,1118.6L606.4,1121.1L607.4,1122.8L608.5,1122.2L609.5,1123L610.5,1123.4L611.6,1122L612.6,1123.1L613.6,1123.8L614.7,1123.7L615.7,1122.8L616.7,1122.5L617.8,1121.7L618.8,1121.6L619.8,1123.3L620.9,1123L621.9,1125.1L622.9,1120.8L624,1120.9L625,1119.7L626,1120.4L627.1,1120.5L628.1,1120.9L629.1,1120.8L630.2,1119.3L631.2,1118.7L632.2,1119.7L633.3,1122.7L634.3,1122.5L635.3,1122.2L636.4,1121L637.4,1122.1L638.4,1122.2L639.5,1121.4L640.5,1122.5L641.5,1123.5L642.6,1122.6L643.6,1122.6L644.6,1123L645.7,1124.4L646.7,1123L647.7,1124L648.8,1126.4L649.8,1127.6L650.8,1126.3L651.9,1125.3L652.9,1126.1L653.9,1125.7L655,1121.5L656,1122.6L657,1121.8L658.1,1123.1L659.1,1123.3L660.1,1122.6L661.2,1122.4L662.2,1123.2L663.2,1122.9L664.3,1123L665.3,1120.6L666.3,1122.7L667.4,1122.6L668.4,1121.6L669.4,1123.3L670.5,1121.4L671.5,1123.8L672.5,1124.1L673.6,1122.8L674.6,1124.5L675.6,1124.2L676.7,1123.5L677.7,1123.5L678.7,1124.1L679.8,1125.1L680.8,1124.4L681.8,1124.4L682.9,1123.4L683.9,1123.8L684.9,1122.8L686,1123L687,1121.6L688,1123.9L689,1126.4L690.1,1124.9L691.1,1124.4L692.1,1125.7L693.2,1124L694.2,1122.3L695.2,1122.7L696.3,1124.4L697.3,1124.4L698.3,1125.6L699.4,1123.1L700.4,1122.4L701.4,1120.6L702.5,1120.9L703.5,1122.7L704.5,1123.4L705.6,1122.1L706.6,1123.1L707.6,1122.3L708.7,1123.4L709.7,1123L710.7,1122.8L711.8,1121.5L712.8,1123.5L713.8,1122.9L714.9,1122.5L715.9,1125L716.9,1124.2L718,1123.5L719,1126L720,1125.7L721.1,1125.9L722.1,1123.5L723.1,1127.6L724.2,1125.6L725.2,1126.5L726.2,1125.1L727.3,1125.6L728.3,1127.6L729.3,1126.2L730.4,1126.8L731.4,1126.3L732.4,1126.7L733.5,1126.3L734.5,1126.9L735.5,1126.6L736.6,1125.1L737.6,1124.4L738.6,1124.9L739.7,1124.6L740.7,1124.5L741.7,1126L742.8,1125.3L743.8,1122.8L744.8,1120.2L745.9,1121.8L746.9,1123L747.9,1123.6L749,1124L750,1125.3L751,1125L752.1,1125.9L753.1,1124.5L754.1,1125.5L755.2,1124.2L756.2,1126.2L757.2,1124.3L758.3,1126.2L759.3,1125.2L760.3,1127.1L761.4,1128.3L762.4,1128.7L763.4,1127.8L764.5,1128.1L765.5,1127.6L766.5,1129.1L767.6,1126.7L768.6,1127.1L769.6,1129.7L770.7,1130L771.7,1130L772.7,1128.8L773.8,1127.8L774.8,1127L775.8,1128.2L776.9,1128.2L777.9,1126.5L778.9,1124.9L780,1125.3L781,1125.4L782,1124L783.1,1124.2L784.1,1125.7L785.1,1125.1L786.2,1123.8L787.2,1124.8L788.2,1123.2L789.3,1122.5L790.3,1123.4L791.3,1121.3L792.4,1122.6L793.4,1123.3L794.4,1124.6L795.5,1124.5L796.5,1123.8L797.5,1123.6L798.6,1120.4L799.6,1124.5L800.6,1123L801.7,1123.1L802.7,1120.9L803.7,1119.7L804.8,1119.8L805.8,1121.2L806.8,1121.1L807.9,1123.4L808.9,1122.9L809.9,1124L811,1123.5L812,1124.7L813,1122.6L814,1123L815.1,1123L816.1,1124.1L817.1,1125.1L818.2,1123.9L819.2,1123.5L820.2,1122.9L821.3,1123.7L822.3,1122.4L823.3,1124.1L824.4,1124.6L825.4,1125.5L826.4,1125.8L827.5,1127.3L828.5,1127.8L829.5,1128.2L830.6,1129.4L831.6,1131.5L832.6,1129.7L833.7,1127.3L834.7,1128.4L835.7,1130L836.8,1130.6L837.8,1132L838.8,1131.9L839.9,1131.3L840.9,1131.5L841.9,1129.6L843,1130.9L844,1129L845,1129.3L846.1,1127.8L847.1,1130.1L848.1,1130.8L849.2,1127.7L850.2,1128.7L851.2,1130.3L852.3,1131.1L853.3,1129.6L854.3,1127.8L855.4,1131.6L856.4,1130.1L857.4,1127.7L858.5,1130.8L859.5,1129.2L860.5,1129.5L861.6,1129L862.6,1129.4L863.6,1128L864.7,1131.9L865.7,1131.6L866.7,1129.3L867.8,1129.7L868.8,1128.4L869.8,1129.7L870.9,1129.3L871.9,1129.5L872.9,1129.9L874,1132.5L875,1130.1L876,1132.7L877.1,1131.6L878.1,1131.5L879.1,1131L880.2,1131.7L881.2,1133.3L882.2,1133.2L883.3,1133.7L884.3,1133.1L885.3,1132.9L886.4,1131.8L887.4,1130.9L888.4,1131.3L889.5,1131.8L890.5,1131.3L891.5,1133.3L892.6,1131.4L893.6,1128.7L894.6,1129.1L895.7,1127.7L896.7,1127.5L897.7,1128.2L898.8,1128.5L899.8,1126.1L900.8,1130.3L901.9,1128.9L902.9,1131.4L903.9,1128.4L905,1128L906,1129.2L907,1130.3L908.1,1128.6L909.1,1129.2L910.1,1130.5L911.2,1130.2L912.2,1129.7L913.2,1129.5L914.3,1130.7L915.3,1127.6L916.3,1128.4L917.4,1130.7L918.4,1130.3L919.4,1129L920.5,1130.6L921.5,1127.7L922.5,1130.9L923.6,1129.8L924.6,1128L925.6,1128.8L926.7,1130.3L927.7,1129L928.7,1129.9L929.8,1129.8L930.8,1128.9L931.8,1130.1L932.9,1129.2L933.9,1130.9L934.9,1128.5L936,1129.3L937,1127.2L938,1126.9L939,1127.4L940.1,1127.9L941.1,1124.7L942.1,1125.4L943.2,1127L944.2,1127.8L945.2,1127.8L946.3,1126.9L947.3,1127.3L948.3,1127.6L949.4,1127.6L950.4,1129.1L951.4,1128.1L952.5,1128.2L953.5,1128.8L954.5,1128.7L955.6,1125.6L956.6,1125.9L957.6,1125.1L958.7,1125.6L959.7,1123.4L960.7,1125.5L961.8,1123.6L962.8,1125.1L963.8,1125.9L964.9,1127.5L965.9,1126.3L966.9,1123.9L968,1123.8L969,1123.8L970,1124.4L971.1,1126.6L972.1,1125.5L973.1,1125.9L974.2,1127.2L975.2,1126.8L976.2,1126.8L977.3,1124.3L978.3,1125.8L979.3,1125.8L980.4,1125.4L981.4,1126L982.4,1127.7L983.5,1127L984.5,1128.3L985.5,1127.3L986.6,1128.4L987.6,1129.5L988.6,1125.4L989.7,1127.9L990.7,1126.6L991.7,1129.3L992.8,1128.4L993.8,1129.8L994.8,1129.1L995.9,1128.4L996.9,1127L997.9,1128.4L999,1128.8L1000,1126.6L1001,1127.1L1002.1,1127L1003.1,1128.8L1004.1,1129.7L1005.2,1132.4L1006.2,1130.5L1007.2,1130.7L1008.3,1129.8L1009.3,1130.4L1010.3,1134.8L1011.4,1132.5L1012.4,1134L1013.4,1135.1L1014.5,1132.2L1015.5,1133L1016.5,1134.2L1017.6,1134.9L1018.6,1134L1019.6,1132.9L1020.7,1134.1L1021.7,1134L1022.7,1134.3L1023.8,1137.2L1024.8,1137.6L1025.8,1138.3L1026.9,1138L1027.9,1138L1028.9,1136.4L1030,1136.7L1031,1136.3L1032,1135.6L1033.1,1136L1034.1,1134.9L1035.1,1134.7L1036.2,1135.8L1037.2,1135L1038.2,1133.4L1039.3,1133.7L1040.3,1133.5L1041.3,1132.2L1042.4,1132L1043.4,1129.8L1044.4,1129.4L1045.5,1128.8L1046.5,1129.6L1047.5,1130.7L1048.6,1130.2L1049.6,1129L1050.6,1129.1L1051.7,1129L1052.7,1128.9L1053.7,1128.8L1054.8,1127.7L1055.8,1128.9L1056.8,1129L1057.9,1127.1L1058.9,1129.5L1059.9,1127.7L1061,1128.1L1062,1127.4L1063,1127.1L1064,1126.7L1065.1,1127.7L1066.1,1126.6L1067.1,1128.5L1068.2,1125.9L1069.2,1124.8L1070.2,1125.7L1071.3,1127.8L1072.3,1128.2L1073.3,1130.1L1074.4,1128.2L1075.4,1128L1076.4,1130L1077.5,1130.9L1078.5,1131.5L1079.5,1132.5L1080.6,1135.2L1081.6,1135.3L1082.6,1134.1L1083.7,1133.6L1084.7,1134.3L1085.7,1132L1086.8,1134.1L1087.8,1136.2L1088.8,1136.8L1089.9,1136.4L1090.9,1137.9L1091.9,1135.4L1093,1136L1094,1136.5L1095,1136.1L1096.1,1135.5L1097.1,1136.2L1098.1,1136L1099.2,1135.6L1100.2,1137.9L1101.2,1136.1L1102.3,1137.7L1103.3,1138.8L1104.3,1138.3L1105.4,1138.3L1106.4,1137.5L1107.4,1135.5L1108.5,1133.9L1109.5,1133.8L1110.5,1135.1L1111.6,1133.5L1112.6,1134.6L1113.6,1134.6L1114.7,1133.9L1115.7,1134.7L1116.7,1133L1117.8,1133.1L1118.8,1134.2L1119.8,1133.2L1120.9,1134.2L1121.9,1133.6L1122.9,1133.8L1124,1130.7L1125,1126.1L1126,1127.5L1127.1,1129.7L1128.1,1128.7L1129.1,1129.4L1130.2,1129.3L1131.2,1131.7L1132.2,1128.2L1133.3,1127.7L1134.3,1127.7L1135.3,1132.2L1136.4,1130.9L1137.4,1127.8L1138.4,1127.6L1139.5,1125.6L1140.5,1126.6L1141.5,1126.2L1142.6,1129L1143.6,1127.3L1144.6,1126.3L1145.7,1129.2L1146.7,1129.2L1147.7,1130.3L1148.8,1130.2L1149.8,1126.5L1150.8,1128.1L1151.9,1128.5L1152.9,1128.8L1153.9,1129L1155,1127.5L1156,1128L1157,1127.5L1158.1,1128.3L1159.1,1128.7L1160.1,1128.8L1161.2,1128L1162.2,1128.1L1163.2,1130L1164.3,1130.9L1165.3,1130.1L1166.3,1129.9L1167.4,1130.2L1168.4,1130.5L1169.4,1132.7L1170.5,1132.1L1171.5,1132.8L1172.5,1129.2L1173.6,1130L1174.6,1130.7L1175.6,1132.2L1176.7,1130.6L1177.7,1132.1L1178.7,1133.9L1179.8,1134.2L1180.8,1135.1L1181.8,1134.6L1182.9,1133.3L1183.9,1133.5L1184.9,1132.2L1186,1131L1187,1134.1L1188,1133.9L1189,1134.2L1190.1,1132.5L1191.1,1131.2L1192.1,1131.5L1193.2,1130.9L1194.2,1133.9L1195.2,1132.6L1196.3,1133.8L1197.3,1132.8L1198.3,1131.8L1199.4,1131L1200.4,1132.4L1201.4,1130.4L1202.5,1127.9L1203.5,1126.9L1204.5,1130.6L1205.6,1130.5L1206.6,1131.9L1207.6,1130.7L1208.7,1132L1209.7,1131.7L1210.7,1131.6L1211.8,1133L1212.8,1132.3L1213.8,1133.5L1214.9,1133.6L1215.9,1132.7L1216.9,1135.5L1218,1132.7L1219,1131.2L1220,1133.9L1221.1,1134L1222.1,1131.2L1223.1,1133.1L1224.2,1132.3L1225.2,1132.7L1226.2,1130.5L1227.3,1131.4L1228.3,1132.9L1229.3,1131.4L1230.4,1134L1231.4,1133.7L1232.4,1134L1233.5,1135L1234.5,1135.6L1235.5,1135.3L1236.6,1135.4L1237.6,1134.7L1238.6,1134.2L1239.7,1134.4L1240.7,1132.9L1241.7,1132.4L1242.8,1134.2L1243.8,1132.7L1244.8,1133.8L1245.9,1133L1246.9,1134.5L1247.9,1134L1249,1134.8L1250,1135.7L1251,1132.6L1252.1,1132.1L1253.1,1133.7L1254.1,1134.9L1255.2,1133.1L1256.2,1133.5L1257.2,1133.8L1258.3,1135L1259.3,1133.5L1260.3,1134.3L1261.4,1134.9L1262.4,1135.5L1263.4,1135.2L1264.5,1134.8L1265.5,1134.8L1266.5,1134.3L1267.6,1132.3L1268.6,1133.6L1269.6,1132.4L1270.7,1128L1271.7,1130.1L1272.7,1131.7L1273.8,1132.1L1274.8,1130L1275.8,1129.2L1276.9,1129.5L1277.9,1130L1278.9,1130.8L1280,1129.4L1281,1128.2L1282,1129.3L1283.1,1130.1L1284.1,1129.4L1285.1,1130.2L1286.2,1129.1L1287.2,1129.1L1288.2,1129.9L1289.3,1129.5L1290.3,1127.6L1291.3,1127.5L1292.4,1128.1L1293.4,1123.5L1294.4,1124.5L1295.5,1125.2L1296.5,1126.9L1297.5,1127.4L1298.6,1127.5L1299.6,1125.9L1300.6,1126.8L1301.7,1124.7L1302.7,1125.7L1303.7,1126L1304.8,1128.9L1305.8,1128.8L1306.8,1127.5L1307.9,1127.4L1308.9,1127.6L1309.9,1130.5L1311,1132.4L1312,1132L1313,1130.9L1314,1130.1L1315.1,1129.9L1316.1,1129.2L1317.1,1131.8L1318.2,1129.4L1319.2,1128.2L1320.2,1128.3L1321.3,1128.1L1322.3,1127L1323.3,1129.2L1324.4,1130.3L1325.4,1131.7L1326.4,1133L1327.5,1131.5L1328.5,1131.8L1329.5,1130.3L1330.6,1130.4L1331.6,1129.2L1332.6,1128.4L1333.7,1129.8L1334.7,1129.1L1335.7,1130L1336.8,1131L1337.8,1129.1L1338.8,1130.7L1339.9,1132.7L1340.9,1133.7L1341.9,1132.9L1343,1129.2L1344,1131.4L1345,1131.1L1346.1,1130L1347.1,1134.2L1348.1,1134.2L1349.2,1131.6L1350.2,1134L1351.2,1132.4L1352.3,1132.5L1353.3,1133.6L1354.3,1133.8L1355.4,1134.2L1356.4,1132.8L1357.4,1133.5L1358.5,1134L1359.5,1133.3L1360.5,1132.7L1361.6,1135.3L1362.6,1133.2L1363.6,1134.5L1364.7,1136L1365.7,1134.9L1366.7,1131.2L1367.8,1132.5L1368.8,1132.4L1369.8,1132.7L1370.9,1132.5L1371.9,1133.1L1372.9,1132.8L1374,1133.1L1375,1132.7L1376,1132.3L1377.1,1133.3L1378.1,1134.4L1379.1,1134.1L1380.2,1133.2L1381.2,1134.7L1382.2,1132.7L1383.3,1132.4L1384.3,1133.5L1385.3,1134.6L1386.4,1135.4L1387.4,1135.9L1388.4,1133.4L1389.5,1130.8L1390.5,1132.8L1391.5,1134.2L1392.6,1135L1393.6,1133.2L1394.6,1132.6L1395.7,1134L1396.7,1133.6L1397.7,1134.2L1398.8,1133.8L1399.8,1134.2L1400.8,1135.3L1401.9,1137.6L1402.9,1136.9L1403.9,1137.5L1405,1135.6L1406,1137L1407,1135.7L1408.1,1135.3L1409.1,1136.6L1410.1,1137.3L1411.2,1138.4L1412.2,1137.2L1413.2,1138.8L1414.3,1140.8L1415.3,1142.6L1416.3,1140.5L1417.4,1139.3L1418.4,1139.5L1419.4,1139.6L1420.5,1139.7L1421.5,1139.9L1422.5,1139.9L1423.6,1139.2L1424.6,1140.8L1425.6,1140.7L1426.7,1139.9L1427.7,1138.7L1428.7,1139.2L1429.8,1138.7L1430.8,1139.2L1431.8,1139.7L1432.9,1139.3L1433.9,1138.8L1434.9,1141.8L1436,1141.6L1437,1139.8L1438,1137.7L1439,1137L1440.1,1134.8L1441.1,1137.4L1442.1,1139.7L1443.2,1138.8L1444.2,1133.8L1445.2,1138.4L1446.3,1138.5L1447.3,1139.2L1448.3,1137.4L1449.4,1137.7L1450.4,1139.9L1451.4,1137.9L1452.5,1138.8L1453.5,1140L1454.5,1137.5L1455.6,1138.7L1456.6,1137.1L1457.6,1137.7L1458.7,1139.6L1459.7,1138.9L1460.7,1138.1L1461.8,1135.4L1462.8,1136.4L1463.8,1137.4L1464.9,1138.7L1465.9,1141.8L1466.9,1140.4L1468,1140.6L1469,1139.5L1470,1139.6L1471.1,1136.5L1472.1,1136.4L1473.1,1138.1L1474.2,1140.8L1475.2,1140L1476.2,1139.3L1477.3,1140.9L1478.3,1140.5L1479.3,1140.4L1480.4,1139.9L1481.4,1139.7L1482.4,1139L1483.5,1136.6L1484.5,1138L1485.5,1141.5L1486.6,1140.2L1487.6,1136.9L1488.6,1136.9L1489.7,1137.5L1490.7,1140.7L1491.7,1140.6L1492.8,1136.8L1493.8,1137.5L1494.8,1135.1L1495.9,1136.4L1496.9,1136.1L1497.9,1135.4L1499,1135.4L1500,1135L1501,1133.9L1502.1,1136.1L1503.1,1136.3L1504.1,1135L1505.2,1135.6L1506.2,1134.8L1507.2,1132.7L1508.3,1132.7L1509.3,1131.5L1510.3,1133.2L1511.4,1132.5L1512.4,1133.1L1513.4,1133.7L1514.5,1132.8L1515.5,1131.4L1516.5,1131L1517.6,1130.8L1518.6,1129L1519.6,1130.1L1520.7,1132.5L1521.7,1132.2L1522.7,1133.2L1523.8,1131.9L1524.8,1131.7L1525.8,1132.3L1526.9,1131.9L1527.9,1132.3L1528.9,1132.5L1530,1131.1L1531,1133.4L1532,1133.7L1533.1,1130.3L1534.1,1133.2L1535.1,1132.6L1536.2,1134.9L1537.2,1133.9L1538.2,1134.5L1539.3,1136.1L1540.3,1134L1541.3,1132.5L1542.4,1131.9L1543.4,1131.9L1544.4,1131.3L1545.5,1132.3L1546.5,1130.7L1547.5,1130.4L1548.6,1128.8L1549.6,1131.8L1550.6,1131.9L1551.7,1132.2L1552.7,1132.5L1553.7,1131.4L1554.8,1133.4L1555.8,1133.6L1556.8,1133.6L1557.9,1133.7L1558.9,1133.3L1559.9,1134.6L1561,1131.6L1562,1131.2L1563,1130.9L1564,1132.3L1565.1,1131.4L1566.1,1132.8L1567.1,1133L1568.2,1132.8L1569.2,1133.9L1570.2,1132.3L1571.3,1133.2L1572.3,1132.7L1573.3,1129.4L1574.4,1129.7L1575.4,1130.6L1576.4,1130.8L1577.5,1134.9L1578.5,1133.3L1579.5,1133.1L1580.6,1132.2L1581.6,1131.7L1582.6,1131.9L1583.7,1131.4L1584.7,1131L1585.7,1132.2L1586.8,1131.4L1587.8,1130.5L1588.8,1132.9L1589.9,1134L1590.9,1133.4L1591.9,1136.8L1593,1135.4L1594,1136.1L1595,1137.7L1596.1,1138.8L1597.1,1137.1L1598.1,1135.1L1599.2,1136.3L1600.2,1133L1601.2,1135.7L1602.3,1137.2L1603.3,1136.9L1604.3,1137.6L1605.4,1137.4L1606.4,1138.9L1607.4,1137L1608.5,1137.1L1609.5,1135.2L1610.5,1135.9L1611.6,1137.7L1612.6,1138.3L1613.6,1136.4L1614.7,1136.5L1615.7,1138.6L1616.7,1137.4L1617.8,1138.5L1618.8,1138.7L1619.8,1139.3L1620.9,1140.9L1621.9,1143.3L1622.9,1140.2L1624,1141.1L1625,1140.8L1626,1140.9L1627.1,1141.8L1628.1,1140.9L1629.1,1140.9L1630.2,1141.8L1631.2,1142.1L1632.2,1145.6L1633.3,1144.9L1634.3,1143.8L1635.3,1144.7L1636.4,1144.3L1637.4,1147.5L1638.4,1146.4L1639.5,1144.6L1640.5,1145.2L1641.5,1142.9L1642.6,1143.7L1643.6,1141.4L1644.6,1140.7L1645.7,1141.1L1646.7,1143.3L1647.7,1139.8L1648.8,1142.4L1649.8,1144L1650.8,1143.4L1651.9,1142.3L1652.9,1141.3L1653.9,1140.9L1655,1141.9L1656,1138.7L1657,1137.8L1658.1,1141.4L1659.1,1138.7L1660.1,1140.4L1661.2,1139.5L1662.2,1139.2L1663.2,1138.3L1664.3,1137.8L1665.3,1138.7L1666.3,1138.6L1667.4,1137.6L1668.4,1137.9L1669.4,1136.5L1670.5,1135.9L1671.5,1136.9L1672.5,1133.9L1673.6,1133.6L1674.6,1133.4L1675.6,1133L1676.7,1134.8L1677.7,1132.7L1678.7,1133.2L1679.8,1133L1680.8,1132.6L1681.8,1135.2L1682.9,1134.5L1683.9,1133.8L1684.9,1134.2L1686,1132L1687,1133L1688,1132.7L1689,1131.6L1690.1,1131.7L1691.1,1132.4L1692.1,1132.5" fill="none" stroke="#6cbe45" stroke-width="5.0"/>
<ellipse cx="200.4" cy="53.6" rx="12.3" ry="12.3" fill="none" stroke="#6cbe45" stroke-width="4.0"/>
<ellipse cx="306.2" cy="467" rx="12.3" ry="12.3" fill="none" stroke="#6cbe45" stroke-width="4.0"/>
<ellipse cx="413.6" cy="845" rx="12.3" ry="12.3" fill="none" stroke="#6cbe45" stroke-width="4.0"/>
<ellipse cx="519.4" cy="1058" rx="12.3" ry="12.3" fill="none" stroke="#6cbe45" stroke-width="4.0"/>
<ellipse cx="732.7" cy="1126.8" rx="12.3" ry="12.3" fill="none" stroke="#6cbe45" stroke-width="4.0"/>
<ellipse cx="838.3" cy="1132.5" rx="12.3" ry="12.3" fill="none" stroke="#6cbe45" stroke-width="4.0"/>
<ellipse cx="946.3" cy="1126.9" rx="12.3" ry="12.3" fill="none" stroke="#6cbe45" stroke-width="4.0"/>
<ellipse cx="1051.6" cy="1129" rx="12.3" ry="12.3" fill="none" stroke="#6cbe45" stroke-width="4.0"/>
<ellipse cx="1159.5" cy="1128.8" rx="12.3" ry="12.3" fill="none" stroke="#6cbe45" stroke-width="4.0"/>
<ellipse cx="1265.4" cy="1134.8" rx="12.3" ry="12.3" fill="none" stroke="#6cbe45" stroke-width="4.0"/>
<ellipse cx="1370.9" cy="1132.5" rx="12.3" ry="12.3" fill="none" stroke="#6cbe45" stroke-width="4.0"/>
<ellipse cx="1478.7" cy="1140.5" rx="12.3" ry="12.3" fill="none" stroke="#6cbe45" stroke-width="4.0"/>
<ellipse cx="1584.4" cy="1130.7" rx="12.3" ry="12.3" fill="none" stroke="#6cbe45" stroke-width="4.0"/>
<ellipse cx="1692.1" cy="1132.5" rx="12.3" ry="12.3" fill="none" stroke="#6cbe45" stroke-width="4.0"/>
<path d="M198.9,42L200.5,74L200.5,74.7L200.5,75.4L200.5,76.1L200.6,76.8L200.6,77.5L200.6,78.2L200.6,78.9L200.6,79.6L200.6,80.3L200.6,81L200.6,81.7L200.6,82.5L200.6,83.2L200.7,83.9L200.7,84.6L200.7,85.3L200.7,86L200.7,86.7L200.7,87.4L200.8,88.1L200.8,88.8L200.8,89.5L200.8,90.2L200.8,90.9L200.9,91.6L200.9,92.3L200.9,93L200.9,93.7L200.9,94.4L201,95.2L201,95.9L201,96.6L201,97.3L201.1,98L201.1,98.7L201.1,99.4L201.1,100.1L201.2,100.8L201.2,101.5L201.2,102.2L201.3,102.9L201.3,103.6L201.3,104.3L201.3,105L201.4,105.7L201.4,106.4L201.4,107.1L201.5,107.8L201.5,108.5L201.5,109.2L201.6,109.9L201.6,110.6L201.7,111.3L201.7,112L201.7,112.7L201.8,113.4L201.8,114.1L201.8,114.8L201.9,115.5L201.9,116.2L202,116.9L202,117.6L202,118.3L202.1,119L202.1,119.7L202.2,120.4L202.2,121.1L202.3,121.8L202.3,122.5L202.3,123.2L202.4,123.9L202.4,124.6L202.5,125.3L202.5,126L202.6,126.7L202.6,127.4L202.7,128.1L202.7,128.8L202.8,129.5L202.8,130.2L202.9,130.9L202.9,131.6L203,132.3L203,133L203.1,133.7L203.1,134.4L203.2,135.1L203.2,135.8L203.3,136.5L203.3,137.2L203.4,137.9L203.5,138.6L203.5,139.3L203.6,140L203.6,140.7L203.7,141.4L203.7,142.1L203.8,142.8L203.8,143.5L203.9,144.2L204,144.9L204,145.6L204.1,146.3L204.1,147L204.2,147.7L204.3,148.4L204.3,149.1L204.4,149.8L204.5,150.4L204.5,151.1L204.6,151.8L204.6,152.5L204.7,153.2L204.8,153.9L204.8,154.6L204.9,155.3L205,156L205,156.7L205.1,157.4L205.2,158.1L205.2,158.8L205.3,159.5L205.4,160.2L205.4,160.9L205.5,161.6L205.6,162.3L205.6,163L205.7,163.7L205.8,164.4L205.8,165.1L205.9,165.7L206,166.4L206.1,167.1L206.1,167.8L206.2,168.5L206.3,169.2L206.3,169.9L206.4,170.6L206.5,171.3L206.6,172L206.6,172.7L206.7,173.4L206.8,174.1L206.9,174.8L206.9,175.5L207,176.2L207.1,176.9L207.2,177.5L207.2,178.2L207.3,178.9L207.4,179.6L207.5,180.3L207.6,181L207.6,181.7L207.7,182.4L207.8,183.1L207.9,183.8L207.9,184.5L208,185.2L208.1,185.9L208.2,186.6L208.3,187.3L208.3,187.9L208.4,188.6L208.5,189.3L208.6,190L208.7,190.7L208.7,191.4L208.8,192.1L208.9,192.8L209,193.5L209.1,194.2L209.2,194.9L209.2,195.6L209.3,196.3L209.4,196.9L209.5,197.6L209.6,198.3L209.7,199L209.8,199.7L209.8,200.4L209.9,201.1L210,201.8L210.1,202.5L210.2,203.2L210.3,203.9L210.4,204.6L210.4,205.3L210.5,205.9L210.6,206.6L210.7,207.3L210.8,208L210.9,208.7L211,209.4L211.1,210.1L211.1,210.8L211.2,211.5L211.3,212.2L211.4,212.9L211.5,213.6L211.6,214.2L211.7,214.9L211.8,215.6L211.9,216.3L211.9,217L212,217.7L212.1,218.4L212.2,219.1L212.3,219.8L212.4,220.5L212.5,221.2L212.6,221.9L212.7,222.5L212.8,223.2L212.9,223.9L212.9,224.6L213,225.3L213.1,226L213.2,226.7L213.3,227.4L213.4,228.1L213.5,228.8L213.6,229.5L213.7,230.2L213.8,230.8L213.9,231.5L214,232.2L214.1,232.9L214.2,233.6L214.2,234.3L214.3,235L214.4,235.7L214.5,236.4L214.6,237.1L214.7,237.8L214.8,238.5L214.9,239.1L215,239.8L215.1,240.5L215.2,241.2L215.3,241.9L215.4,242.6L215.5,243.3L215.6,244L215.7,244.7L215.8,245.4L215.9,246.1L216,246.7L216,247.4L216.1,248.1L216.2,248.8L216.3,249.5L216.4,250.2L216.5,250.9L216.6,251.6L216.7,252.3L216.8,253L216.9,253.7L217,254.4L217.1,255L217.2,255.7L217.3,256.4L217.4,257.1L217.5,257.8L217.6,258.5L217.7,259.2L217.8,259.9L217.9,260.6L218,261.3L218.1,262L218.2,262.7L218.3,263.4L218.4,264L218.5,264.7L218.6,265.4L218.7,266.1L218.8,266.8L218.8,267.5L218.9,268.2L219,268.9L219.1,269.6L219.2,270.3L219.3,271L219.4,271.7L219.5,272.3L219.6,273L219.7,273.7L219.8,274.4L219.9,275.1L220,275.8L220.1,276.5L220.2,277.2L220.3,277.9L220.4,278.6L220.5,279.3L220.6,280L220.7,280.7L220.8,281.4L220.9,282L221,282.7L221.1,283.4L221.2,284.1L221.3,284.8L221.4,285.5L221.5,286.2L221.6,286.9L221.7,287.6L221.8,288.3L221.9,289L221.9,289.7L222,290.4L222.1,291.1L222.2,291.8L222.3,292.4L222.4,293.1L222.5,293.8L222.6,294.5L222.7,295.2L222.8,295.9L222.9,296.6L223,297.3L223.1,298L223.2,298.7L223.3,299.4L223.4,300.1L223.5,300.8L223.6,301.5L223.7,302.2L223.8,302.9L223.9,303.6L224,304.2L224.1,304.9L224.2,305.6L224.2,306.3L224.3,307L224.4,307.7L224.5,308.4L224.6,309.1L224.7,309.8L224.8,310.5L224.9,311.2L225,311.9L225.1,312.6L225.2,313.3L225.3,314L225.4,314.7L225.5,315.4L225.6,316L225.7,316.7L225.8,317.4L225.9,318.1L226,318.8L226.1,319.5L226.2,320.2L226.3,320.9L226.4,321.6L226.5,322.3L226.6,323L226.7,323.7L226.8,324.4L226.9,325.1L227,325.8L227.1,326.5L227.2,327.2L227.3,327.8L227.4,328.5L227.4,329.2L227.5,329.9L227.6,330.6L227.7,331.3L227.8,332L227.9,332.7L228,333.4L228.1,334.1L228.2,334.8L228.3,335.5L228.4,336.2L228.5,336.9L228.7,337.6L228.8,338.3L228.9,338.9L229,339.6L229.1,340.3L229.2,341L229.3,341.7L229.4,342.4L229.5,343.1L229.6,343.8L229.7,344.5L229.8,345.2L229.9,345.9L230,346.6L230.1,347.3L230.2,347.9L230.3,348.6L230.4,349.3L230.5,350L230.6,350.7L230.7,351.4L230.8,352.1L230.9,352.8L231,353.5L231.2,354.2L231.3,354.9L231.4,355.6L231.5,356.2L231.6,356.9L231.7,357.6L231.8,358.3L231.9,359L232,359.7L232.1,360.4L232.2,361.1L232.4,361.8L232.5,362.5L232.6,363.1L232.7,363.8L232.8,364.5L232.9,365.2L233,365.9L233.1,366.6L233.3,367.3L233.4,368L233.5,368.7L233.6,369.4L233.7,370L233.8,370.7L234,371.4L234.1,372.1L234.2,372.8L234.3,373.5L234.4,374.2L234.5,374.9L234.7,375.5L234.8,376.2L234.9,376.9L235,377.6L235.1,378.3L235.3,379L235.4,379.7L235.5,380.4L235.6,381L235.8,381.7L235.9,382.4L236,383.1L236.1,383.8L236.3,384.5L236.4,385.2L236.5,385.8L236.6,386.5L236.8,387.2L236.9,387.9L237,388.6L237.1,389.3L237.3,389.9L237.4,390.6L237.5,391.3L237.7,392L237.8,392.7L237.9,393.4L238.1,394L238.2,394.7L238.3,395.4L238.5,396.1L238.6,396.8L238.7,397.5L238.9,398.1L239,398.8L239.1,399.5L239.3,400.2L239.4,400.9L239.6,401.5L239.7,402.2L239.8,402.9L240,403.6L240.1,404.3L240.3,404.9L240.4,405.6L240.5,406.3L240.7,407L240.8,407.7L241,408.3L241.1,409L241.3,409.7L241.4,410.4L241.5,411L241.7,411.7L241.8,412.4L242,413.1L242.1,413.8L242.3,414.4L242.4,415.1L242.6,415.8L242.7,416.5L242.9,417.1L243,417.8L243.2,418.5L243.3,419.2L243.5,419.8L243.6,420.5L243.8,421.2L243.9,421.9L244.1,422.5L244.3,423.2L244.4,423.9L244.6,424.6L244.7,425.2L244.9,425.9L245,426.6L245.2,427.3L245.3,427.9L245.5,428.6L245.7,429.3L245.8,430L246,430.6L246.1,431.3L246.3,432L246.5,432.6L246.6,433.3L246.8,434L247,434.7L247.1,435.3L247.3,436L247.4,436.7L247.6,437.3L247.8,438L247.9,438.7L248.1,439.4L248.3,440L248.4,440.7L248.6,441.4L248.8,442L248.9,442.7L249.1,443.4L249.3,444L249.5,444.7L249.6,445.4L249.8,446.1L250,446.7L250.1,447.4L250.3,448.1L250.5,448.7L250.7,449.4L250.8,450.1L251,450.7L251.2,451.4L251.3,452.1L251.5,452.7L251.7,453.4L251.9,454.1L252,454.7L252.2,455.4L252.4,456.1L252.6,456.7L252.8,457.4L252.9,458.1L253.1,458.7L253.3,459.4L253.5,460.1L253.7,460.7L253.8,461.4L254,462.1L254.2,462.7L254.4,463.4L254.6,464L254.7,464.7L254.9,465.4L255.1,466L255.3,466.7L255.5,467.4L255.7,468L255.8,468.7L256,469.4L256.2,470L256.4,470.7L256.6,471.3L256.8,472L257,472.7L257.2,473.3L257.3,474L257.5,474.7L257.7,475.3L257.9,476L258.1,476.6L258.3,477.3L258.5,478L258.7,478.6L258.9,479.3L259.1,479.9L259.2,480.6L259.4,481.3L259.6,481.9L259.8,482.6L260,483.2L260.2,483.9L260.4,484.6L260.6,485.2L260.8,485.9L261,486.5L261.2,487.2L261.4,487.9L261.6,488.5L261.8,489.2L262,489.8L262.2,490.5L262.4,491.2L262.6,491.8L262.8,492.5L263,493.1L263.2,493.8L263.4,494.4L263.6,495.1L263.8,495.8L264,496.4L264.2,497.1L264.4,497.7L264.6,498.4L264.8,499L265,499.7L265.2,500.4L265.4,501L265.6,501.7L265.8,502.3L266,503L266.2,503.6L266.4,504.3L266.6,504.9L266.8,505.6L267,506.3L267.2,506.9L267.4,507.6L267.6,508.2L267.9,508.9L268.1,509.5L268.3,510.2L268.5,510.8L268.7,511.5L268.9,512.1L269.1,512.8L269.3,513.5L269.5,514.1L269.7,514.8L269.9,515.4L270.2,516.1L270.4,516.7L270.6,517.4L270.8,518L271,518.7L271.2,519.3L271.4,520L271.6,520.6L271.9,521.3L272.1,521.9L272.3,522.6L272.5,523.2L272.7,523.9L272.9,524.5L273.1,525.2L273.4,525.8L273.6,526.5L273.8,527.1L274,527.8L274.2,528.4L274.4,529.1L274.7,529.7L274.9,530.4L275.1,531L275.3,531.7L275.5,532.3L275.8,533L276,533.6L276.2,534.3L276.4,534.9L276.6,535.6L276.9,536.2L277.1,536.9L277.3,537.5L277.5,538.2L277.7,538.8L278,539.5L278.2,540.1L278.4,540.8L278.6,541.4L278.8,542.1L279.1,542.7L279.3,543.4L279.5,544L279.7,544.7L280,545.3L280.2,546L280.4,546.6L280.6,547.3L280.9,547.9L281.1,548.6L281.3,549.2L281.5,549.9L281.8,550.5L282,551.1L282.2,551.8L282.4,552.4L282.7,553.1L282.9,553.7L283.1,554.4L283.4,555L283.6,555.7L283.8,556.3L284,557L284.3,557.6L284.5,558.3L284.7,558.9L285,559.5L285.2,560.2L285.4,560.8L285.6,561.5L285.9,562.1L286.1,562.8L286.3,563.4L286.6,564.1L286.8,564.7L287,565.3L287.3,566L287.5,566.6L287.7,567.3L288,567.9L288.2,568.6L288.4,569.2L288.7,569.9L288.9,570.5L289.1,571.1L289.4,571.8L289.6,572.4L289.8,573.1L290.1,573.7L290.3,574.4L290.5,575L290.8,575.6L291,576.3L291.2,576.9L291.5,577.6L291.7,578.2L291.9,578.9L292.2,579.5L292.4,580.1L292.6,580.8L292.9,581.4L293.1,582.1L293.4,582.7L293.6,583.3L293.8,584L294.1,584.6L294.3,585.3L294.5,585.9L294.8,586.6L295,587.2L295.3,587.8L295.5,588.5L295.7,589.1L296,589.8L296.2,590.4L296.5,591L296.7,591.7L296.9,592.3L297.2,593L297.4,593.6L297.7,594.2L297.9,594.9L298.1,595.5L298.4,596.2L298.6,596.8L298.9,597.4L299.1,598.1L299.3,598.7L299.6,599.4L299.8,600L300.1,600.6L300.3,601.3L300.5,601.9L300.8,602.5L301,603.2L301.3,603.8L301.5,604.5L301.8,605.1L302,605.7L302.2,606.4L302.5,607L302.7,607.7L303,608.3L303.2,608.9L303.5,609.6L303.7,610.2L304,610.8L304.2,611.5L304.4,612.1L304.7,612.8L304.9,613.4L305.2,614L305.4,614.7L305.7,615.3L305.9,615.9L306.2,616.6L306.4,617.2L306.6,617.9L306.9,618.5L307.1,619.1L307.4,619.8L307.6,620.4L307.9,621L308.1,621.7L308.4,622.3L308.6,623L308.9,623.6L309.1,624.2L309.4,624.9L309.6,625.5L309.8,626.1L310.1,626.8L310.3,627.4L310.6,628L310.8,628.7L311.1,629.3L311.3,630L311.6,630.6L311.8,631.2L312.1,631.9L312.3,632.5L312.6,633.1L312.8,633.8L313.1,634.4L313.3,635L313.6,635.7L313.8,636.3L314.1,636.9L314.3,637.6L314.6,638.2L314.8,638.8L315.1,639.5L315.3,640.1L315.6,640.7L315.8,641.4L316,642L316.3,642.7L316.5,643.3L316.8,643.9L317,644.6L317.3,645.2L317.5,645.8L317.8,646.5L318,647.1L318.3,647.7L318.5,648.4L318.8,649L319,649.6L319.3,650.3L319.5,650.9L319.8,651.5L320,652.2L320.3,652.8L320.5,653.4L320.8,654.1L321,654.7L321.3,655.3L321.5,656L321.8,656.6L322,657.2L322.3,657.9L322.5,658.5L322.8,659.1L323,659.8L323.3,660.4L323.5,661L323.8,661.7L324.1,662.3L324.3,662.9L324.6,663.6L324.8,664.2L325.1,664.8L325.3,665.5L325.6,666.1L325.8,666.7L326.1,667.4L326.3,668L326.6,668.6L326.8,669.3L327.1,669.9L327.3,670.5L327.6,671.2L327.8,671.8L328.1,672.4L328.3,673L328.6,673.7L328.8,674.3L329.1,674.9L329.3,675.6L329.6,676.2L329.8,676.8L330.1,677.5L330.3,678.1L330.6,678.7L330.8,679.4L331.1,680L331.3,680.6L331.6,681.3L331.8,681.9L332.1,682.5L332.3,683.2L332.6,683.8L332.8,684.4L333.1,685L333.3,685.7L333.6,686.3L333.8,686.9L334.1,687.6L334.3,688.2L334.6,688.8L334.8,689.5L335.1,690.1L335.3,690.7L335.6,691.4L335.8,692L336.1,692.6L336.4,693.3L336.6,693.9L336.9,694.5L337.1,695.1L337.4,695.8L337.6,696.4L337.9,697L338.1,697.7L338.4,698.3L338.6,698.9L338.9,699.6L339.1,700.2L339.4,700.8L339.6,701.5L339.9,702.1L340.1,702.7L340.4,703.3L340.6,704L340.9,704.6L341.1,705.2L341.4,705.9L341.6,706.5L341.9,707.1L342.1,707.8L342.4,708.4L342.6,709L342.9,709.6L343.1,710.3L343.4,710.9L343.6,711.5L343.9,712.2L344.1,712.8L344.4,713.4L344.6,714.1L344.9,714.7L345.1,715.3L345.4,715.9L345.6,716.6L345.9,717.2L346.1,717.8L346.4,718.5L346.6,719.1L346.9,719.7L347.1,720.4L347.4,721L347.6,721.6L347.9,722.2L348.1,722.9L348.4,723.5L348.6,724.1L348.9,724.8L349.1,725.4L349.4,726L349.6,726.6L349.9,727.3L350.1,727.9L350.4,728.5L350.6,729.1L350.9,729.8L351.1,730.4L351.4,731L351.7,731.7L351.9,732.3L352.2,732.9L352.4,733.5L352.7,734.2L352.9,734.8L353.2,735.4L353.4,736L353.7,736.7L353.9,737.3L354.2,737.9L354.4,738.6L354.7,739.2L355,739.8L355.2,740.4L355.5,741.1L355.7,741.7L356,742.3L356.2,742.9L356.5,743.6L356.7,744.2L357,744.8L357.3,745.4L357.5,746.1L357.8,746.7L358,747.3L358.3,747.9L358.5,748.6L358.8,749.2L359.1,749.8L359.3,750.4L359.6,751L359.8,751.7L360.1,752.3L360.4,752.9L360.6,753.5L360.9,754.2L361.2,754.8L361.4,755.4L361.7,756L362,756.6L362.2,757.3L362.5,757.9L362.8,758.5L363,759.1L363.3,759.7L363.6,760.3L363.8,761L364.1,761.6L364.4,762.2L364.6,762.8L364.9,763.4L365.2,764L365.5,764.7L365.7,765.3L366,765.9L366.3,766.5L366.6,767.1L366.8,767.7L367.1,768.3L367.4,769L367.7,769.6L367.9,770.2L368.2,770.8L368.5,771.4L368.8,772L369.1,772.6L369.3,773.2L369.6,773.8L369.9,774.5L370.2,775.1L370.5,775.7L370.8,776.3L371,776.9L371.3,777.5L371.6,778.1L371.9,778.7L372.2,779.3L372.5,779.9L372.8,780.5L373,781.1L373.3,781.7L373.6,782.4L373.9,783L374.2,783.6L374.5,784.2L374.8,784.8L375.1,785.4L375.3,786L375.6,786.6L375.9,787.2L376.2,787.8L376.5,788.4L376.8,789L377.1,789.6L377.4,790.2L377.7,790.8L378,791.4L378.3,792L378.6,792.6L378.9,793.2L379.1,793.8L379.4,794.4L379.7,795L380,795.7L380.3,796.3L380.6,796.9L380.9,797.5L381.2,798.1L381.5,798.7L381.8,799.3L382.1,799.9L382.4,800.5L382.7,801.1L383,801.7L383.3,802.3L383.6,802.9L383.9,803.5L384.2,804.1L384.5,804.7L384.8,805.3L385.1,805.9L385.4,806.5L385.7,807.1L386,807.7L386.3,808.3L386.6,808.9L386.9,809.5L387.2,810.1L387.5,810.7L387.8,811.3L388.1,811.9L388.4,812.5L388.7,813.1L389,813.7L389.3,814.3L389.6,814.9L389.8,815.5L390.1,816.1L390.4,816.7L390.7,817.3L391,817.9L391.3,818.5L391.6,819.1L391.9,819.7L392.2,820.3L392.5,820.9L392.8,821.5L393.1,822.1L393.4,822.7L393.7,823.3L394,823.9L394.3,824.5L394.6,825.1L394.9,825.7L395.2,826.3L395.5,826.9L395.8,827.5L396.1,828.1L396.4,828.7L396.7,829.3L397,829.9L397.3,830.5L397.6,831.1L397.9,831.7L398.2,832.3L398.5,832.9L398.8,833.5L399.1,834.1L399.4,834.7L399.7,835.3L400,835.9L400.3,836.5L400.6,837.1L400.8,837.7L401.1,838.3L401.4,838.9L401.7,839.6L402,840.2L402.3,840.8L402.6,841.4L402.9,842L403.2,842.6L403.5,843.2L403.8,843.8L404.1,844.4L404.4,845L404.6,845.6L404.9,846.2L405.2,846.8L405.5,847.4L405.8,848L406.1,848.6L406.4,849.2L406.7,849.8L407,850.4L407.3,851L407.5,851.7L407.8,852.3L408.1,852.9L408.4,853.5L408.7,854.1L409,854.7L409.3,855.3L409.6,855.9L409.9,856.5L410.2,857.1L410.5,857.7L410.8,858.3L411,858.9L411.3,859.5L411.6,860.1L411.9,860.7L412.2,861.3L412.5,861.9L412.8,862.5L413.1,863.1L413.4,863.7L413.7,864.3L414,864.9L414.3,865.5L414.6,866.1L414.9,866.7L415.2,867.3L415.5,867.9L415.8,868.5L416.1,869.1L416.4,869.7L416.7,870.3L417,870.9L417.3,871.5L417.6,872.1L417.9,872.7L418.2,873.3L418.5,873.9L418.8,874.5L419.1,875.1L419.4,875.7L419.7,876.3L420,876.8L420.3,877.4L420.6,878L421,878.6L421.3,879.2L421.6,879.8L421.9,880.4L422.2,881L422.5,881.6L422.8,882.2L423.1,882.7L423.4,883.3L423.7,883.9L424.1,884.5L424.4,885.1L424.7,885.7L425,886.3L425.3,886.9L425.6,887.4L425.9,888L426.3,888.6L426.6,889.2L426.9,889.8L427.2,890.4L427.5,891L427.8,891.5L428.2,892.1L428.5,892.7L428.8,893.3L429.1,893.9L429.4,894.5L429.8,895L430.1,895.6L430.4,896.2L430.7,896.8L431,897.4L431.4,898L431.7,898.5L432,899.1L432.3,899.7L432.6,900.3L433,900.9L433.3,901.4L433.6,902L433.9,902.6L434.3,903.2L434.6,903.8L434.9,904.3L435.2,904.9L435.6,905.5L435.9,906.1L436.2,906.7L436.5,907.2L436.9,907.8L437.2,908.4L437.5,909L437.8,909.5L438.2,910.1L438.5,910.7L438.8,911.3L439.1,911.9L439.5,912.4L439.8,913L440.1,913.6L440.5,914.2L440.8,914.7L441.1,915.3L441.4,915.9L441.8,916.5L442.1,917L442.4,917.6L442.8,918.2L443.1,918.8L443.4,919.3L443.8,919.9L444.1,920.5L444.4,921.1L444.7,921.6L445.1,922.2L445.4,922.8L445.7,923.4L446.1,923.9L446.4,924.5L446.7,925.1L447.1,925.7L447.4,926.2L447.7,926.8L448.1,927.4L448.4,928L448.7,928.6L449.1,929.2L449.4,929.7L449.7,930.3L450.1,930.7L450.4,931.5L450.7,932L451,932.3L451.4,932.8L451.7,933.4L452,933.9L452.4,934.7L452.7,935.3L453,935.8L453.4,936.6L453.7,937L454,937.7L454.4,938.3L454.7,938.9L455,939.4L455.4,939.8L455.7,940.9L456,941.6L456.4,941.7L456.7,942.5L457.1,942.7L457.4,943.6L457.7,943.3L458.1,944L458.4,945.1L458.7,945.6L459.1,945.8L459.4,947L459.7,947.4L460.1,947.8L460.4,948.5L460.7,949.6L461.1,950.1L461.4,950.7L461.8,950.8L462.1,950.9L462.4,951.3L462.8,952.6L463.1,952.8L463.4,954.3L463.8,954.2L464.1,955.1L464.5,954.5L464.8,956.2L465.1,956.6" fill="none" stroke="#231f20" stroke-width="3.9"/>
<path d="M460.4,948.5L460.7,949.6L461.1,950.1L461.4,950.7L461.8,950.8L462.1,950.9L462.4,951.3L462.8,952.6L463.1,952.8L463.4,954.3L463.8,954.2L464.1,955.1L464.5,954.5L464.8,956.2L465.1,956.6L465.5,958.1L465.8,959.1L466.2,958.9L466.5,958.6L466.9,959.4L467.2,959L467.5,959.3L467.9,961.1L468.2,962.4L468.6,963.3L468.9,963L469.3,962.5L469.6,962.7L470,964.6L470.3,965.2L470.6,965.2L471,966.3L471.3,966.8L471.7,967.9L472,967.7L472.4,969.1L472.7,968.2L473.1,970.2L473.4,968.9L473.8,969.7L474.1,969.9L474.5,970.4L474.8,972L475.2,973.1L475.6,972.9L475.9,971.8L476.3,974.3L476.6,974.6L477,976.7L477.3,977.5L477.7,977.4L478,977.5L478.4,977.3L478.8,978.8L479.1,978.4L479.5,980.2L479.8,981.4L480.2,982.1L480.6,981.3L480.9,981.2L481.3,982.9L481.7,983.7L482,984L482.4,984.5L482.8,985.6L483.1,985.6L483.5,985.9L483.9,986.4L484.2,984.9L484.6,985.7L485,985L485.4,985.7L485.7,986.6L486.1,988.5L486.5,988.4L486.8,989.2L487.2,988.8L487.6,988.4L488,988.8L488.4,991.3L488.7,991.5L489.1,993.1L489.5,994.5L489.9,993.6L490.3,993.4L490.6,995.2L491,995.3L491.4,996.4L491.8,999.5L492.2,999.9L492.6,999.5L493,1001.1L493.4,1002.6L493.7,1002.2L494.1,1002.3L494.5,1002.9L494.9,1004.9L495.3,1003.1L495.7,1001.7L496.9,1005.6L497.9,1005.3L499,1005.9L500,1007.3L501,1006.9L502.1,1008.8L503.1,1010.5L504.1,1012.8L505.2,1012.9L506.2,1015.6L507.2,1016.1L508.3,1015.2L509.3,1016.4L510.3,1018.2L511.4,1019.9L512.4,1019.9L513.4,1021.9L514.5,1022.9L515.5,1025.8L516.5,1027.4L517.6,1027.6L518.6,1028.1L519.6,1029.5L520.7,1031.6L521.7,1032.2L522.7,1033.1L523.8,1035.2L524.8,1036.7L525.8,1040.2L526.9,1041.3L527.9,1043.3L528.9,1043.7L530,1044.8L531,1047L532,1048.9L533.1,1053.8L534.1,1053.7L535.1,1055.4L536.2,1055.3L537.2,1059.5L538.2,1056L539.3,1057L540.3,1058.4L541.3,1060L542.4,1060.7L543.4,1064L544.4,1064.5L545.5,1064.1L546.5,1068.4L547.5,1067.8L548.6,1068.2L549.6,1069.4L550.6,1069.1L551.7,1071L552.7,1072.1L553.7,1072.4L554.8,1072.1L555.8,1075.4L556.8,1077.6L557.9,1077.8L558.9,1077.8L559.9,1077.1L561,1079.9L562,1079.8L563,1082.7L564,1084.4L565.1,1082.5L566.1,1084.1L567.1,1086.3L568.2,1085.7L569.2,1087.6L570.2,1090.2L571.3,1090.5L572.3,1092.8L573.3,1091.7L574.4,1091L575.4,1091L576.4,1091.8L577.5,1093.5L578.5,1092.2L579.5,1092.7L580.6,1095L581.6,1098L582.6,1099.3L583.7,1100.8L584.7,1100.6L585.7,1103L586.8,1103.1L587.8,1102.6L588.8,1104.4L589.9,1105.5L590.9,1105.7L591.9,1106L593,1107.3L594,1108.9L595,1110.4L596.1,1112.7L597.1,1112.6L598.1,1113.8L599.2,1112.7L600.2,1112.8L601.2,1111.5L602.3,1113.2L603.3,1114L604.3,1112.1L605.4,1115.3L606.4,1117.4L607.4,1120L608.5,1121.1L609.5,1121.4L610.5,1117.5L611.6,1119.6L612.6,1118.1L613.6,1122.5L614.7,1121.3L615.7,1122.7L616.7,1122.9L617.8,1126.4L618.8,1125.2L619.8,1123.1L620.9,1122.8L621.9,1126.7L622.9,1126.9L624,1126.5L625,1127.7L626,1128.5L627.1,1129.2L628.1,1130.1L629.1,1132L630.2,1132.3L631.2,1133.6L632.2,1130.3L633.3,1133.6L634.3,1134.7L635.3,1136L636.4,1139.4L637.4,1137.1L638.4,1136.3L639.5,1140.5L640.5,1141.9L641.5,1138.7L642.6,1138.6L643.6,1138.8L644.6,1142L645.7,1141.1L646.7,1140.3L647.7,1141.4L648.8,1144.2L649.8,1142.5L650.8,1143.1L651.9,1143.1L652.9,1143.3L653.9,1145L655,1145.8L656,1145L657,1145.4L658.1,1147.7L659.1,1147.7L660.1,1148.6L661.2,1147.3L662.2,1146.8L663.2,1146.4L664.3,1150.2L665.3,1149.4L666.3,1149.4L667.4,1150.3L668.4,1153.4L669.4,1152.7L670.5,1153.9L671.5,1152.5L672.5,1150.3L673.6,1153.7L674.6,1155.2L675.6,1154.6L676.7,1154.9L677.7,1157.7L678.7,1157.7L679.8,1155.8L680.8,1155.5L681.8,1155.5L682.9,1156.2L683.9,1155.5L684.9,1155.3L686,1156.6L687,1157.3L688,1157L689,1160.9L690.1,1160.5L691.1,1161.3L692.1,1160.4L693.2,1161L694.2,1161.8L695.2,1162.8L696.3,1162.4L697.3,1160.6L698.3,1161.8L699.4,1164L700.4,1161L701.4,1159.3L702.5,1162.4L703.5,1163L704.5,1162.8L705.6,1161.7L706.6,1161.1L707.6,1159.6L708.7,1159.7L709.7,1160.4L710.7,1161L711.8,1161.7L712.8,1160.5L713.8,1159.4L714.9,1161.5L715.9,1162.7L716.9,1161.4L718,1164.8L719,1164L720,1164.2L721.1,1162.5L722.1,1165.2L723.1,1163.8L724.2,1163.9L725.2,1164.7L726.2,1164.3L727.3,1164.2L728.3,1167.5L729.3,1168.9L730.4,1167.4L731.4,1167L732.4,1167L733.5,1167.1L734.5,1168.1L735.5,1168.2L736.6,1169.7L737.6,1168.6L738.6,1168.1L739.7,1169L740.7,1169.1L741.7,1168.1L742.8,1168L743.8,1171.3L744.8,1171.4L745.9,1173.6L746.9,1171.2L747.9,1171.7L749,1169.8L750,1172.7L751,1172.7L752.1,1173.6L753.1,1170.5L754.1,1169.7L755.2,1170.1L756.2,1170.2L757.2,1171.5L758.3,1171.8L759.3,1172L760.3,1171.9L761.4,1169.4L762.4,1171.9L763.4,1170.2L764.5,1170.5L765.5,1172.2L766.5,1172.7L767.6,1175L768.6,1176.3L769.6,1174.5L770.7,1176.2L771.7,1176.6L772.7,1174.3L773.8,1175.3L774.8,1176.7L775.8,1178.2L776.9,1177.5L777.9,1178.3L778.9,1181.3L780,1179L781,1179.3L782,1177.8L783.1,1178.1L784.1,1178.2L785.1,1175.1L786.2,1179.1L787.2,1181.6L788.2,1177.9L789.3,1178.6L790.3,1178.6L791.3,1177.8L792.4,1178.7L793.4,1180L794.4,1181.3L795.5,1183.1L796.5,1181.8L797.5,1181.8L798.6,1180.9L799.6,1181.4L800.6,1183.5L801.7,1185.4L802.7,1183.5L803.7,1184.7L804.8,1185.8L805.8,1186.5L806.8,1185.5L807.9,1185.9L808.9,1186.5L809.9,1183.8L811,1185.2L812,1182.6L813,1181.4L814,1184.5L815.1,1184.6L816.1,1185L817.1,1185.6L818.2,1185.9L819.2,1184.7L820.2,1186.1L821.3,1183.7L822.3,1184.4L823.3,1182.8L824.4,1185.9L825.4,1186.4L826.4,1185.7L827.5,1187.1L828.5,1185.2L829.5,1184.9L830.6,1185.3L831.6,1183L832.6,1180.2L833.7,1183.2L834.7,1182.9L835.7,1183.2L836.8,1185.4L837.8,1184.9L838.8,1184.5L839.9,1183.6L840.9,1182.3L841.9,1181L843,1180.3L844,1181.9L845,1180.4L846.1,1177.2L847.1,1177.6L848.1,1179.9L849.2,1178.7L850.2,1181.9L851.2,1182.6L852.3,1180.8L853.3,1180.8L854.3,1183.4L855.4,1184L856.4,1184.3L857.4,1185.6L858.5,1184.6L859.5,1184.9L860.5,1183.1L861.6,1185.3L862.6,1185.1L863.6,1184.9L864.7,1182.8L865.7,1186.6L866.7,1186L867.8,1187.7L868.8,1188.6L869.8,1187.4L870.9,1187.7L871.9,1191.3L872.9,1191.9L874,1191.2L875,1191.1L876,1190.5L877.1,1188.5L878.1,1189.3L879.1,1189.8L880.2,1191.3L881.2,1191.6L882.2,1189.6L883.3,1191.6L884.3,1192.4L885.3,1191.7L886.4,1192.9L887.4,1191.9L888.4,1191L889.5,1191.2L890.5,1190.9L891.5,1190.9L892.6,1192.9L893.6,1191.7L894.6,1193.2L895.7,1193.5L896.7,1192.7L897.7,1190.9L898.8,1190.1L899.8,1192.1L900.8,1190.4L901.9,1188.9L902.9,1193.2L903.9,1192.2L905,1194.6L906,1193.7L907,1192.6L908.1,1191.3L909.1,1188.7L910.1,1188.1L911.2,1186.6L912.2,1190.8L913.2,1189.9L914.3,1189.3L915.3,1190L916.3,1189.5L917.4,1189.8L918.4,1190.2L919.4,1186.2L920.5,1188.8L921.5,1189.7L922.5,1189.3L923.6,1188.2L924.6,1186.9L925.6,1186.9L926.7,1188L927.7,1190.3L928.7,1190L929.8,1188.4L930.8,1186.4L931.8,1187.7L932.9,1187.6L933.9,1189.2L934.9,1190.4L936,1191.9L937,1192.1L938,1191.1L939,1192.8L940.1,1192.2L941.1,1192.9L942.1,1195.3L943.2,1194.6L944.2,1194.9L945.2,1196.3L946.3,1196.7L947.3,1195.8L948.3,1193.6L949.4,1193.9L950.4,1192.7L951.4,1192.2L952.5,1193.6L953.5,1191.9L954.5,1190.7L955.6,1192.9L956.6,1192.1L957.6,1191.2L958.7,1193L959.7,1192.7L960.7,1190L961.8,1189.5L962.8,1190.2L963.8,1190.1L964.9,1192.7L965.9,1195.5L966.9,1195.9L968,1194.4L969,1192.9L970,1193.2L971.1,1191.4L972.1,1193.1L973.1,1192.3L974.2,1192.2L975.2,1191.7L976.2,1190.9L977.3,1191.9L978.3,1191L979.3,1193.5L980.4,1193.9L981.4,1193L982.4,1194.6L983.5,1195.3L984.5,1195.8L985.5,1195.8L986.6,1195.7L987.6,1194.3L988.6,1193.8L989.7,1195.1L990.7,1195.3L991.7,1195.5L992.8,1193.9L993.8,1192.7L994.8,1194.5L995.9,1192.3L996.9,1191.6L997.9,1192.7L999,1192.3L1000,1192.3L1001,1191.3L1002.1,1191.2L1003.1,1189.8L1004.1,1190.2L1005.2,1193.2L1006.2,1197.3L1007.2,1195.5L1008.3,1195.2L1009.3,1194.1L1010.3,1191.4L1011.4,1193.2L1012.4,1193.7L1013.4,1193.6L1014.5,1195.1L1015.5,1192.8L1016.5,1192.9L1017.6,1193.7L1018.6,1194.1L1019.6,1192.9L1020.7,1192L1021.7,1193.4L1022.7,1194.6L1023.8,1193.6L1024.8,1192.4L1025.8,1193.3L1026.9,1192.8L1027.9,1194.8L1028.9,1195.7L1030,1195.8L1031,1197.3L1032,1197.8L1033.1,1196.9L1034.1,1198.2L1035.1,1197.8L1036.2,1195.8L1037.2,1194.1L1038.2,1194.4L1039.3,1195.6L1040.3,1196.3L1041.3,1195.2L1042.4,1195.5L1043.4,1198.4L1044.4,1198.6L1045.5,1198.2L1046.5,1199.4L1047.5,1198L1048.6,1196.5L1049.6,1193L1050.6,1190.5L1051.7,1188.4L1052.7,1188.8L1053.7,1188.3L1054.8,1187.6L1055.8,1187.6L1056.8,1188.9L1057.9,1188L1058.9,1190.2L1059.9,1192.1L1061,1191.3L1062,1191.1L1063,1191L1064,1190.9L1065.1,1192L1066.1,1190.3L1067.1,1190.9L1068.2,1188.5L1069.2,1189.1L1070.2,1186.8L1071.3,1186.3L1072.3,1188L1073.3,1187.9L1074.4,1189.7L1075.4,1189.8L1076.4,1189.7L1077.5,1189.3L1078.5,1190.4L1079.5,1190.9L1080.6,1190.7L1081.6,1191L1082.6,1190.2L1083.7,1187.8L1084.7,1190.6L1085.7,1190.2L1086.8,1189.6L1087.8,1192.1L1088.8,1191.4L1089.9,1191.4L1090.9,1191.9L1091.9,1192.3L1093,1190.7L1094,1191.9L1095,1190.5L1096.1,1189.7L1097.1,1189.5L1098.1,1189.1L1099.2,1192.4L1100.2,1191.6L1101.2,1190.4L1102.3,1190.7L1103.3,1191L1104.3,1191L1105.4,1191.9L1106.4,1192.1L1107.4,1190.8L1108.5,1193.1L1109.5,1192.8L1110.5,1193.6L1111.6,1193.9L1112.6,1192.9L1113.6,1193.1L1114.7,1193.4L1115.7,1193.7L1116.7,1192.6L1117.8,1195.3L1118.8,1193.3L1119.8,1192L1120.9,1194.7L1121.9,1194.7L1122.9,1190.5L1124,1191.8L1125,1194.6L1126,1193.8L1127.1,1192.9L1128.1,1192.7L1129.1,1192L1130.2,1194L1131.2,1193.3L1132.2,1193.3L1133.3,1192L1134.3,1192.9L1135.3,1195.7L1136.4,1194.7L1137.4,1194.8L1138.4,1195.9L1139.5,1196.3L1140.5,1200L1141.5,1197.2L1142.6,1195.5L1143.6,1195.6L1144.6,1193.8L1145.7,1193L1146.7,1193.7L1147.7,1196L1148.8,1193.2L1149.8,1193.9L1150.8,1193.6L1151.9,1195.5L1152.9,1196.8L1153.9,1196.3L1155,1197.1L1156,1195.1L1157,1196.5L1158.1,1197.1L1159.1,1197.7L1160.1,1197.9L1161.2,1197.8L1162.2,1197.7L1163.2,1198L1164.3,1196.9L1165.3,1196.5L1166.3,1198.1L1167.4,1198.5L1168.4,1197.6L1169.4,1198.8L1170.5,1196.6L1171.5,1197.4L1172.5,1196.3L1173.6,1194.9L1174.6,1195.6L1175.6,1194.6L1176.7,1196.7L1177.7,1195.5L1178.7,1196.4L1179.8,1195L1180.8,1195.7L1181.8,1196.1L1182.9,1198.2L1183.9,1197.3L1184.9,1196.9L1186,1196.1L1187,1197.6L1188,1198.4L1189,1197.1L1190.1,1198.5L1191.1,1198L1192.1,1197.7L1193.2,1193.9L1194.2,1195.8L1195.2,1197.5L1196.3,1195.8L1197.3,1196.2L1198.3,1199.6L1199.4,1198.5L1200.4,1199.2L1201.4,1199.4L1202.5,1197.4L1203.5,1199.7L1204.5,1198.4L1205.6,1199.2L1206.6,1200.6L1207.6,1198.3L1208.7,1199.8L1209.7,1200.3L1210.7,1199.6L1211.8,1200L1212.8,1198.1L1213.8,1199.2L1214.9,1198.3L1215.9,1197.4L1216.9,1197.6L1218,1200.1L1219,1198L1220,1199.6L1221.1,1201L1222.1,1202.2L1223.1,1202.5L1224.2,1201.1L1225.2,1202.1L1226.2,1202.4L1227.3,1202.6L1228.3,1202.5L1229.3,1201.5L1230.4,1202.5L1231.4,1201.3L1232.4,1202.2L1233.5,1204.9L1234.5,1205.6L1235.5,1205L1236.6,1203.4L1237.6,1203.5L1238.6,1206.7L1239.7,1203.8L1240.7,1204.3L1241.7,1204.8L1242.8,1204.5L1243.8,1203.9L1244.8,1200.5L1245.9,1202.6L1246.9,1202.9L1247.9,1203.5L1249,1201L1250,1203.3L1251,1202.4L1252.1,1203L1253.1,1204L1254.1,1204.5L1255.2,1205.7L1256.2,1204.7L1257.2,1204.4L1258.3,1204.1L1259.3,1203L1260.3,1204.2L1261.4,1205.7L1262.4,1203.8L1263.4,1205L1264.5,1204.2L1265.5,1204.2L1266.5,1204L1267.6,1204.6L1268.6,1204.3L1269.6,1204.2L1270.7,1201.5L1271.7,1200.8L1272.7,1198.8L1273.8,1197.2L1274.8,1196.9L1275.8,1195.7L1276.9,1193.9L1277.9,1196.1L1278.9,1196L1280,1195.2L1281,1193.8L1282,1193.3L1283.1,1193.5L1284.1,1193.4L1285.1,1194.4L1286.2,1196.5L1287.2,1193L1288.2,1195.8L1289.3,1193.2L1290.3,1194.2L1291.3,1195.5L1292.4,1196.2L1293.4,1192.5L1294.4,1192.8L1295.5,1191.5L1296.5,1192.8L1297.5,1195.7L1298.6,1195.9L1299.6,1192.4L1300.6,1193.1L1301.7,1193.5L1302.7,1192.2L1303.7,1193.6L1304.8,1193.6L1305.8,1192.8L1306.8,1195L1307.9,1192.5L1308.9,1192L1309.9,1193.1L1311,1194.1L1312,1194.1L1313,1192.6L1314,1190.4L1315.1,1188.7L1316.1,1189.1L1317.1,1190.3L1318.2,1190.1L1319.2,1192.6L1320.2,1191.9L1321.3,1191.4L1322.3,1188.6L1323.3,1188.4L1324.4,1188.6L1325.4,1188.3L1326.4,1188.9L1327.5,1187L1328.5,1187.5L1329.5,1188.5L1330.6,1190L1331.6,1189.3L1332.6,1191L1333.7,1191.9L1334.7,1193.7L1335.7,1191.9L1336.8,1194.4L1337.8,1193.3L1338.8,1192.6L1339.9,1195.2L1340.9,1194.9L1341.9,1195.3L1343,1193.6L1344,1194.3L1345,1194.2L1346.1,1195.6L1347.1,1196.1L1348.1,1198.5L1349.2,1197.4L1350.2,1196.4L1351.2,1194.3L1352.3,1195.1L1353.3,1195.5L1354.3,1195.3L1355.4,1192.6L1356.4,1195.5L1357.4,1195.1L1358.5,1194.6L1359.5,1192L1360.5,1191.8L1361.6,1191.5L1362.6,1192.9L1363.6,1193.4L1364.7,1193L1365.7,1193.4L1366.7,1194.9L1367.8,1191.9L1368.8,1191.2L1369.8,1191.5L1370.9,1191.7L1371.9,1192L1372.9,1192.9L1374,1193.9L1375,1194.5L1376,1192.5L1377.1,1198.3L1378.1,1198.3L1379.1,1195.5L1380.2,1195.6L1381.2,1196.7L1382.2,1197.7L1383.3,1198.5L1384.3,1197.8L1385.3,1197.3L1386.4,1195.3L1387.4,1194.8L1388.4,1194.8L1389.5,1195.7L1390.5,1194.8L1391.5,1198L1392.6,1198.2L1393.6,1199.1L1394.6,1200L1395.7,1197L1396.7,1197.2L1397.7,1195L1398.8,1196L1399.8,1195L1400.8,1197.8L1401.9,1197.5L1402.9,1198.5L1403.9,1198.1L1405,1197.8L1406,1197.2L1407,1197L1408.1,1197.1L1409.1,1194.8L1410.1,1194.6L1411.2,1196.6L1412.2,1198.2L1413.2,1198.7L1414.3,1196.9L1415.3,1198L1416.3,1197.3L1417.4,1196.7L1418.4,1196.5L1419.4,1195.9L1420.5,1195.8L1421.5,1197.3L1422.5,1196.9L1423.6,1200.7L1424.6,1200.2L1425.6,1197.3L1426.7,1199.2L1427.7,1198.8L1428.7,1197.8L1429.8,1196.6L1430.8,1195.3L1431.8,1195.3L1432.9,1192.6L1433.9,1194.4L1434.9,1194.3L1436,1191.5L1437,1193.4L1438,1195.8L1439,1192.6L1440.1,1194.8L1441.1,1194.7L1442.1,1195.2L1443.2,1195.5L1444.2,1193.3L1445.2,1194.4L1446.3,1194.7L1447.3,1193.6L1448.3,1195.9L1449.4,1192.3L1450.4,1193.5L1451.4,1192.8L1452.5,1189.6L1453.5,1189.4L1454.5,1188.7L1455.6,1189.6L1456.6,1188.6L1457.6,1187.5L1458.7,1189.9L1459.7,1189.5L1460.7,1188.6L1461.8,1186.5L1462.8,1188L1463.8,1189.9L1464.9,1187.9L1465.9,1187.4L1466.9,1187.6L1468,1187.9L1469,1188L1470,1187.2L1471.1,1187.3L1472.1,1187.2L1473.1,1185.8L1474.2,1188.4L1475.2,1187.9L1476.2,1187.7L1477.3,1188.5L1478.3,1188.5L1479.3,1188.7L1480.4,1188.8L1481.4,1189.2L1482.4,1188.9L1483.5,1185.9L1484.5,1187L1485.5,1188.6L1486.6,1188.9L1487.6,1188.5L1488.6,1190.6L1489.7,1191.1L1490.7,1190.7L1491.7,1192.9L1492.8,1192.4L1493.8,1188.1L1494.8,1188.8L1495.9,1186.7L1496.9,1187.6L1497.9,1192.4L1499,1194.1L1500,1196.3L1501,1193.1L1502.1,1195.6L1503.1,1194.2L1504.1,1191.7L1505.2,1193.7L1506.2,1193.8L1507.2,1192.4L1508.3,1194.5L1509.3,1194.7L1510.3,1195.5L1511.4,1195.8L1512.4,1194.7L1513.4,1192.9L1514.5,1193.9L1515.5,1194.5L1516.5,1191.8L1517.6,1192.9L1518.6,1192.2L1519.6,1193L1520.7,1194.5L1521.7,1193L1522.7,1192.6L1523.8,1193.5L1524.8,1193.4L1525.8,1196.7L1526.9,1196.4L1527.9,1195.8L1528.9,1195.8L1530,1198.5L1531,1195.5L1532,1197.6L1533.1,1194.7L1534.1,1195.9L1535.1,1197.5L1536.2,1199.2L1537.2,1199.4L1538.2,1196.9L1539.3,1198L1540.3,1196.8L1541.3,1197.3L1542.4,1197.7L1543.4,1199.2L1544.4,1198.5L1545.5,1199.2L1546.5,1197.8L1547.5,1195L1548.6,1196.8L1549.6,1196L1550.6,1197L1551.7,1199.1L1552.7,1196.3L1553.7,1194.1L1554.8,1195.1L1555.8,1194.1L1556.8,1192.5L1557.9,1193.1L1558.9,1193.9L1559.9,1193.3L1561,1194.6L1562,1197.9L1563,1196.7L1564,1196.9L1565.1,1196.3L1566.1,1198.1L1567.1,1197.2L1568.2,1198L1569.2,1198.2L1570.2,1197.6L1571.3,1199.2L1572.3,1197.3L1573.3,1198.3L1574.4,1200.7L1575.4,1199.7L1576.4,1201.4L1577.5,1201.3L1578.5,1201.2L1579.5,1201.5L1580.6,1204.1L1581.6,1207.6L1582.6,1208.9L1583.7,1211.2L1584.7,1212.8L1585.7,1212.1L1586.8,1212.2L1587.8,1212.4L1588.8,1209.2L1589.9,1209.8L1590.9,1207.6L1591.9,1206.6L1593,1205.3L1594,1206.8L1595,1204.4L1596.1,1206.7L1597.1,1202.3L1598.1,1204L1599.2,1204.5L1600.2,1204.2L1601.2,1204.6L1602.3,1205.8L1603.3,1204.8L1604.3,1201.8L1605.4,1203.2L1606.4,1203L1607.4,1202.1L1608.5,1203.3L1609.5,1203.6L1610.5,1204.2L1611.6,1200.7L1612.6,1199.9L1613.6,1199.2L1614.7,1200.2L1615.7,1199.8L1616.7,1198.1L1617.8,1198.1L1618.8,1199.5L1619.8,1198.5L1620.9,1198.2L1621.9,1198.5L1622.9,1196.3L1624,1193.7L1625,1194.3L1626,1193.9L1627.1,1193.5L1628.1,1194.3L1629.1,1193.9L1630.2,1194.7L1631.2,1194.9L1632.2,1193.2L1633.3,1194.8L1634.3,1195.8L1635.3,1194.6L1636.4,1191.8L1637.4,1192.9L1638.4,1192.9L1639.5,1194.1L1640.5,1195.7L1641.5,1196.5L1642.6,1196L1643.6,1195.7L1644.6,1196.7L1645.7,1198.3L1646.7,1196.4L1647.7,1197.2L1648.8,1197.3L1649.8,1198.3L1650.8,1199.9L1651.9,1201.9L1652.9,1201.8L1653.9,1202.4L1655,1203.1L1656,1204.5L1657,1204.1L1658.1,1203.2L1659.1,1202.8L1660.1,1201.4L1661.2,1201.7L1662.2,1203L1663.2,1201.8L1664.3,1202L1665.3,1199.8L1666.3,1200.1L1667.4,1200.7L1668.4,1198.8L1669.4,1199.7L1670.5,1200L1671.5,1199.1L1672.5,1199.6L1673.6,1200.4L1674.6,1202.6L1675.6,1199.6L1676.7,1199.1L1677.7,1200.8L1678.7,1202.4L1679.8,1201.1L1680.8,1199.7L1681.8,1199.5L1682.9,1198.3L1683.9,1199.5L1684.9,1198.8L1686,1196.6L1687,1195.5L1688,1197L1689,1198.7L1690.1,1198.7L1691.1,1197.5L1692.1,1197.7" fill="none" stroke="#231f20" stroke-width="5.0"/>
<path d="M-8.4,-14.3L-8.4,14.3L14.8,0Z" transform="translate(200.4,74)" fill="none" stroke="#231f20" stroke-width="4.0" stroke-miterlimit="10" stroke-linejoin="miter"/>
<path d="M-8.4,-14.3L-8.4,14.3L14.8,0Z" transform="translate(306.2,618)" fill="none" stroke="#231f20" stroke-width="4.0" stroke-miterlimit="10" stroke-linejoin="miter"/>
<path d="M-8.4,-14.3L-8.4,14.3L14.8,0Z" transform="translate(413.6,867)" fill="none" stroke="#231f20" stroke-width="4.0" stroke-miterlimit="10" stroke-linejoin="miter"/>
<path d="M-8.4,-14.3L-8.4,14.3L14.8,0Z" transform="translate(519.4,1029)" fill="none" stroke="#231f20" stroke-width="4.0" stroke-miterlimit="10" stroke-linejoin="miter"/>
<path d="M-8.4,-14.3L-8.4,14.3L14.8,0Z" transform="translate(626.7,1128.7)" fill="none" stroke="#231f20" stroke-width="4.0" stroke-miterlimit="10" stroke-linejoin="miter"/>
<path d="M-8.4,-14.3L-8.4,14.3L14.8,0Z" transform="translate(732.7,1167)" fill="none" stroke="#231f20" stroke-width="4.0" stroke-miterlimit="10" stroke-linejoin="miter"/>
<path d="M-8.4,-14.3L-8.4,14.3L14.8,0Z" transform="translate(838.3,1185)" fill="none" stroke="#231f20" stroke-width="4.0" stroke-miterlimit="10" stroke-linejoin="miter"/>
<path d="M-8.4,-14.3L-8.4,14.3L14.8,0Z" transform="translate(946.3,1196.7)" fill="none" stroke="#231f20" stroke-width="4.0" stroke-miterlimit="10" stroke-linejoin="miter"/>
<path d="M-8.4,-14.3L-8.4,14.3L14.8,0Z" transform="translate(1051.6,1188.4)" fill="none" stroke="#231f20" stroke-width="4.0" stroke-miterlimit="10" stroke-linejoin="miter"/>
<path d="M-8.4,-14.3L-8.4,14.3L14.8,0Z" transform="translate(1159.5,1198)" fill="none" stroke="#231f20" stroke-width="4.0" stroke-miterlimit="10" stroke-linejoin="miter"/>
<path d="M-8.4,-14.3L-8.4,14.3L14.8,0Z" transform="translate(1265.4,1204.3)" fill="none" stroke="#231f20" stroke-width="4.0" stroke-miterlimit="10" stroke-linejoin="miter"/>
<path d="M-8.4,-14.3L-8.4,14.3L14.8,0Z" transform="translate(1370.9,1191.7)" fill="none" stroke="#231f20" stroke-width="4.0" stroke-miterlimit="10" stroke-linejoin="miter"/>
<path d="M-8.4,-14.3L-8.4,14.3L14.8,0Z" transform="translate(1478.7,1188.4)" fill="none" stroke="#231f20" stroke-width="4.0" stroke-miterlimit="10" stroke-linejoin="miter"/>
<path d="M-8.4,-14.3L-8.4,14.3L14.8,0Z" transform="translate(1584.4,1213)" fill="none" stroke="#231f20" stroke-width="4.0" stroke-miterlimit="10" stroke-linejoin="miter"/>
<path d="M-8.4,-14.3L-8.4,14.3L14.8,0Z" transform="translate(1692.1,1197.7)" fill="none" stroke="#231f20" stroke-width="4.0" stroke-miterlimit="10" stroke-linejoin="miter"/>
<path d="M200.3,50.7L200.5,51.5L200.7,52.2L200.9,52.9L201.1,53.6L201.3,54.3L201.5,55.1L201.7,55.8L201.9,56.5L202.1,57.2L202.2,57.9L202.4,58.7L202.6,59.4L202.8,60.1L203,60.8L203.2,61.5L203.4,62.3L203.6,63L203.7,63.7L203.9,64.4L204.1,65.1L204.3,65.9L204.5,66.6L204.7,67.3L204.9,68L205.1,68.7L205.3,69.5L205.4,70.2L205.6,70.9L205.8,71.6L206,72.4L206.2,73.1L206.4,73.8L206.6,74.5L206.8,75.2L207,76L207.1,76.7L207.3,77.4L207.5,78.1L207.7,78.8L207.9,79.6L208.1,80.3L208.3,81L208.5,81.7L208.6,82.5L208.8,83.2L209,83.9L209.2,84.6L209.4,85.3L209.6,86.1L209.8,86.8L210,87.5L210.2,88.2L210.3,88.9L210.5,89.7L210.7,90.4L210.9,91.1L211.1,91.8L211.3,92.6L211.5,93.3L211.7,94L211.8,94.7L212,95.4L212.2,96.2L212.4,96.9L212.6,97.6L212.8,98.3L213,99L213.2,99.8L213.3,100.5L213.5,101.2L213.7,101.9L213.9,102.7L214.1,103.4L214.3,104.1L214.5,104.8L214.7,105.5L214.8,106.3L215,107L215.2,107.7L215.4,108.4L215.6,109.1L215.8,109.9L216,110.6L216.2,111.3L216.3,112L216.5,112.8L216.7,113.5L216.9,114.2L217.1,114.9L217.3,115.6L217.5,116.4L217.7,117.1L217.8,117.8L218,118.5L218.2,119.3L218.4,120L218.6,120.7L218.8,121.4L219,122.1L219.1,122.9L219.3,123.6L219.5,124.3L219.7,125L219.9,125.8L220.1,126.5L220.3,127.2L220.5,127.9L220.6,128.6L220.8,129.4L221,130.1L221.2,130.8L221.4,131.5L221.6,132.3L221.8,133L222,133.7L222.1,134.4L222.3,135.1L222.5,135.9L222.7,136.6L222.9,137.3L223.1,138L223.3,138.7L223.4,139.5L223.6,140.2L223.8,140.9L224,141.6L224.2,142.4L224.4,143.1L224.6,143.8L224.8,144.5L224.9,145.2L225.1,146L225.3,146.7L225.5,147.4L225.7,148.1L225.9,148.9L226.1,149.6L226.2,150.3L226.4,151L226.6,151.8L226.8,152.5L227,153.2L227.2,153.9L227.4,154.6L227.5,155.4L227.7,156.1L227.9,156.8L228.1,157.5L228.3,158.3L228.5,159L228.7,159.7L228.9,160.4L229,161.1L229.2,161.9L229.4,162.6L229.6,163.3L229.8,164L230,164.8L230.2,165.5L230.3,166.2L230.5,166.9L230.7,167.6L230.9,168.4L231.1,169.1L231.3,169.8L231.5,170.5L231.6,171.3L231.8,172L232,172.7L232.2,173.4L232.4,174.1L232.6,174.9L232.8,175.6L233,176.3L233.1,177L233.3,177.8L233.5,178.5L233.7,179.2L233.9,179.9L234.1,180.6L234.3,181.4L234.4,182.1L234.6,182.8L234.8,183.5L235,184.3L235.2,185L235.4,185.7L235.6,186.4L235.7,187.2L235.9,187.9L236.1,188.6L236.3,189.3L236.5,190L236.7,190.8L236.9,191.5L237,192.2L237.2,192.9L237.4,193.7L237.6,194.4L237.8,195.1L238,195.8L238.2,196.5L238.4,197.3L238.5,198L238.7,198.7L238.9,199.4L239.1,200.2L239.3,200.9L239.5,201.6L239.7,202.3L239.8,203.1L240,203.8L240.2,204.5L240.4,205.2L240.6,205.9L240.8,206.7L241,207.4L241.1,208.1L241.3,208.8L241.5,209.6L241.7,210.3L241.9,211L242.1,211.7L242.3,212.4L242.4,213.2L242.6,213.9L242.8,214.6L243,215.3L243.2,216.1L243.4,216.8L243.6,217.5L243.7,218.2L243.9,218.9L244.1,219.7L244.3,220.4L244.5,221.1L244.7,221.8L244.9,222.6L245,223.3L245.2,224L245.4,224.7L245.6,225.5L245.8,226.2L246,226.9L246.2,227.6L246.4,228.3L246.5,229.1L246.7,229.8L246.9,230.5L247.1,231.2L247.3,232L247.5,232.7L247.7,233.4L247.8,234.1L248,234.8L248.2,235.6L248.4,236.3L248.6,237L248.8,237.7L249,238.5L249.1,239.2L249.3,239.9L249.5,240.6L249.7,241.4L249.9,242.1L250.1,242.8L250.3,243.5L250.4,244.2L250.6,245L250.8,245.7L251,246.4L251.2,247.1L251.4,247.9L251.6,248.6L251.8,249.3L251.9,250L252.1,250.7L252.3,251.5L252.5,252.2L252.7,252.9L252.9,253.6L253.1,254.4L253.2,255.1L253.4,255.8L253.6,256.5L253.8,257.3L254,258L254.2,258.7L254.4,259.4L254.5,260.1L254.7,260.9L254.9,261.6L255.1,262.3L255.3,263L255.5,263.8L255.7,264.5L255.8,265.2L256,265.9L256.2,266.6L256.4,267.4L256.6,268.1L256.8,268.8L257,269.5L257.2,270.3L257.3,271L257.5,271.7L257.7,272.4L257.9,273.1L258.1,273.9L258.3,274.6L258.5,275.3L258.6,276L258.8,276.8L259,277.5L259.2,278.2L259.4,278.9L259.6,279.7L259.8,280.4L260,281.1L260.1,281.8L260.3,282.5L260.5,283.3L260.7,284L260.9,284.7L261.1,285.4L261.3,286.2L261.4,286.9L261.6,287.6L261.8,288.3L262,289L262.2,289.8L262.4,290.5L262.6,291.2L262.8,291.9L262.9,292.7L263.1,293.4L263.3,294.1L263.5,294.8L263.7,295.5L263.9,296.3L264.1,297L264.3,297.7L264.4,298.4L264.6,299.2L264.8,299.9L265,300.6L265.2,301.3L265.4,302L265.6,302.8L265.7,303.5L265.9,304.2L266.1,304.9L266.3,305.7L266.5,306.4L266.7,307.1L266.9,307.8L267.1,308.5L267.2,309.3L267.4,310L267.6,310.7L267.8,311.4L268,312.2L268.2,312.9L268.4,313.6L268.6,314.3L268.7,315L268.9,315.8L269.1,316.5L269.3,317.2L269.5,317.9L269.7,318.7L269.9,319.4L270.1,320.1L270.2,320.8L270.4,321.5L270.6,322.3L270.8,323L271,323.7L271.2,324.4L271.4,325.2L271.6,325.9L271.7,326.6L271.9,327.3L272.1,328L272.3,328.8L272.5,329.5L272.7,330.2L272.9,330.9L273.1,331.7L273.2,332.4L273.4,333.1L273.6,333.8L273.8,334.5L274,335.3L274.2,336L274.4,336.7L274.6,337.4L274.8,338.2L274.9,338.9L275.1,339.6L275.3,340.3L275.5,341L275.7,341.8L275.9,342.5L276.1,343.2L276.3,343.9L276.4,344.6L276.6,345.4L276.8,346.1L277,346.8L277.2,347.5L277.4,348.3L277.6,349L277.8,349.7L278,350.4L278.1,351.1L278.3,351.9L278.5,352.6L278.7,353.3L278.9,354L279.1,354.7L279.3,355.5L279.5,356.2L279.7,356.9L279.8,357.6L280,358.4L280.2,359.1L280.4,359.8L280.6,360.5L280.8,361.2L281,362L281.2,362.7L281.4,363.4L281.5,364.1L281.7,364.8L281.9,365.6L282.1,366.3L282.3,367L282.5,367.7L282.7,368.5L282.9,369.2L283.1,369.9L283.2,370.6L283.4,371.3L283.6,372.1L283.8,372.8L284,373.5L284.2,374.2L284.4,374.9L284.6,375.7L284.8,376.4L284.9,377.1L285.1,377.8L285.3,378.6L285.5,379.3L285.7,380L285.9,380.7L286.1,381.4L286.3,382.2L286.5,382.9L286.7,383.6L286.8,384.3L287,385L287.2,385.8L287.4,386.5L287.6,387.2L287.8,387.9L288,388.6L288.2,389.4L288.4,390.1L288.6,390.8L288.7,391.5L288.9,392.2L289.1,393L289.3,393.7L289.5,394.4L289.7,395.1L289.9,395.9L290.1,396.6L290.3,397.3L290.5,398L290.7,398.7L290.8,399.5L291,400.2L291.2,400.9L291.4,401.6L291.6,402.3L291.8,403.1L292,403.8L292.2,404.5L292.4,405.2L292.6,405.9L292.7,406.7L292.9,407.4L293.1,408.1L293.3,408.8L293.5,409.5L293.7,410.3L293.9,411L294.1,411.7L294.3,412.4L294.5,413.1L294.7,413.9L294.9,414.6L295,415.3L295.2,416L295.4,416.7L295.6,417.5L295.8,418.2L296,418.9L296.2,419.6L296.4,420.3L296.6,421.1L296.8,421.8L297,422.5L297.1,423.2L297.3,423.9L297.5,424.7L297.7,425.4L297.9,426.1L298.1,426.8L298.3,427.5L298.5,428.3L298.7,429L298.9,429.7L299.1,430.4L299.3,431.1L299.5,431.9L299.6,432.6L299.8,433.3L300,434L300.2,434.7L300.4,435.5L300.6,436.2L300.8,436.9L301,437.6L301.2,438.3L301.4,439.1L301.6,439.8L301.8,440.5L302,441.2L302.1,441.9L302.3,442.7L302.5,443.4L302.7,444.1L302.9,444.8L303.1,445.5L303.3,446.3L303.5,447L303.7,447.7L303.9,448.4L304.1,449.1L304.3,449.9L304.5,450.6L304.7,451.3L304.9,452L305,452.7L305.2,453.4L305.4,454.2L305.6,454.9L305.8,455.6L306,456.3L306.2,457L306.4,457.8L306.6,458.5L306.8,459.2L307,459.9L307.2,460.6L307.4,461.4L307.6,462.1L307.8,462.8L308,463.5L308.1,464.2L308.3,464.9L308.5,465.7L308.7,466.4L308.9,467.1L309.1,467.8L309.3,468.5L309.5,469.3L309.7,470L309.9,470.7L310.1,471.4L310.3,472.1L310.5,472.9L310.7,473.6L310.9,474.3L311.1,475L311.3,475.7L311.5,476.4L311.6,477.2L311.8,477.9L312,478.6L312.2,479.3L312.4,480L312.6,480.8L312.8,481.5L313,482.2L313.2,482.9L313.4,483.6L313.6,484.3L313.8,485.1L314,485.8L314.2,486.5L314.4,487.2L314.6,487.9L314.8,488.7L315,489.4L315.2,490.1L315.4,490.8L315.6,491.5L315.8,492.2L316,493L316.1,493.7L316.3,494.4L316.5,495.1L316.7,495.8L316.9,496.5L317.1,497.3L317.3,498L317.5,498.7L317.7,499.4L317.9,500.1L318.1,500.9L318.3,501.6L318.5,502.3L318.7,503L318.9,503.7L319.1,504.4L319.3,505.2L319.5,505.9L319.7,506.6L319.9,507.3L320.1,508L320.3,508.7L320.5,509.5L320.7,510.2L320.9,510.9L321.1,511.6L321.3,512.3L321.5,513L321.7,513.8L321.8,514.5L322,515.2L322.2,515.9L322.4,516.6L322.6,517.3L322.8,518.1L323,518.8L323.2,519.5L323.4,520.2L323.6,520.9L323.8,521.7L324,522.4L324.2,523.1L324.4,523.8L324.6,524.5L324.8,525.2L325,526L325.2,526.7L325.4,527.4L325.6,528.1L325.8,528.8L326,529.5L326.2,530.3L326.4,531L326.6,531.7L326.8,532.4L327,533.1L327.2,533.8L327.4,534.6L327.6,535.3L327.8,536L328,536.7L328.2,537.4L328.4,538.1L328.5,538.9L328.7,539.6L328.9,540.3L329.1,541L329.3,541.7L329.5,542.4L329.7,543.2L329.9,543.9L330.1,544.6L330.3,545.3L330.5,546L330.7,546.8L330.9,547.5L331.1,548.2L331.3,548.9L331.5,549.6L331.7,550.3L331.9,551.1L332.1,551.8L332.3,552.5L332.5,553.2L332.7,553.9L332.9,554.6L333.1,555.4L333.3,556.1L333.5,556.8L333.7,557.5L333.9,558.2L334,559L334.2,559.7L334.4,560.4L334.6,561.1L334.8,561.8L335,562.5L335.2,563.3L335.4,564L335.6,564.7L335.8,565.4L336,566.1L336.2,566.8L336.4,567.6L336.6,568.3L336.8,569L337,569.7L337.2,570.4L337.4,571.2L337.6,571.9L337.8,572.6L337.9,573.3L338.1,574L338.3,574.7L338.5,575.5L338.7,576.2L338.9,576.9L339.1,577.6L339.3,578.3L339.5,579.1L339.7,579.8L339.9,580.5L340.1,581.2L340.3,581.9L340.5,582.7L340.7,583.4L340.9,584.1L341.1,584.8L341.2,585.5L341.4,586.2L341.6,587L341.8,587.7L342,588.4L342.2,589.1L342.4,589.8L342.6,590.6L342.8,591.3L343,592L343.2,592.7L343.4,593.4L343.6,594.2L343.7,594.9L343.9,595.6L344.1,596.3L344.3,597L344.5,597.8L344.7,598.5L344.9,599.2L345.1,599.9L345.3,600.6L345.5,601.4L345.7,602.1L345.8,602.8L346,603.5L346.2,604.2L346.4,605L346.6,605.7L346.8,606.4L347,607.1L347.2,607.8L347.4,608.6L347.6,609.3L347.7,610L347.9,610.7L348.1,611.4L348.3,612.2L348.5,612.9L348.7,613.6L348.9,614.3L349.1,615L349.3,615.8L349.4,616.5L349.6,617.2L349.8,617.9L350,618.7L350.2,619.4L350.4,620.1L350.6,620.8L350.8,621.5L350.9,622.3L351.1,623L351.3,623.7L351.5,624.4L351.7,625.1L351.9,625.9L352.1,626.6L352.3,627.3L352.4,628L352.6,628.8L352.8,629.5L353,630.2L353.2,630.9L353.4,631.6L353.6,632.4L353.7,633.1L353.9,633.8L354.1,634.5L354.3,635.3L354.5,636L354.7,636.7L354.8,637.4L355,638.2L355.2,638.9L355.4,639.6L355.6,640.3L355.8,641L356,641.8L356.1,642.5L356.3,643.2L356.5,643.9L356.7,644.7L356.9,645.4L357.1,646.1L357.2,646.8L357.4,647.6L357.6,648.3L357.8,649L358,649.7L358.2,650.4L358.3,651.2L358.5,651.9L358.7,652.6L358.9,653.3L359.1,654.1L359.3,654.8L359.4,655.5L359.6,656.2L359.8,657L360,657.7L360.2,658.4L360.4,659.1L360.5,659.8L360.7,660.6L360.9,661.3L361.1,662L361.3,662.7L361.5,663.5L361.7,664.2L361.8,664.9L362,665.6L362.2,666.4L362.4,667.1L362.6,667.8L362.8,668.5L362.9,669.3L363.1,670L363.3,670.7L363.5,671.4L363.7,672.1L363.9,672.9L364,673.6L364.2,674.3L364.4,675L364.6,675.8L364.8,676.5L365,677.2L365.1,677.9L365.3,678.7L365.5,679.4L365.7,680.1L365.9,680.8L366.1,681.5L366.3,682.3L366.4,683L366.6,683.7L366.8,684.4L367,685.2L367.2,685.9L367.4,686.6L367.5,687.3L367.7,688.1L367.9,688.8L368.1,689.5L368.3,690.2L368.5,690.9L368.7,691.7L368.8,692.4L369,693.1L369.2,693.8L369.4,694.6L369.6,695.3L369.8,696L370,696.7L370.2,697.4L370.3,698.2L370.5,698.9L370.7,699.6L370.9,700.3L371.1,701.1L371.3,701.8L371.5,702.5L371.7,703.2L371.8,703.9L372,704.7L372.2,705.4L372.4,706.1L372.6,706.8L372.8,707.5L373,708.3L373.2,709L373.4,709.7L373.5,710.4L373.7,711.1L373.9,711.9L374.1,712.6L374.3,713.3L374.5,714L374.7,714.7L374.9,715.5L375.1,716.2L375.3,716.9L375.5,717.6L375.6,718.3L375.8,719.1L376,719.8L376.2,720.5L376.4,721.2L376.6,721.9L376.8,722.7L377,723.4L377.2,724.1L377.4,724.8L377.6,725.5L377.8,726.3L378,727L378.2,727.7L378.4,728.4L378.5,729.1L378.7,729.8L378.9,730.6L379.1,731.3L379.3,732L379.5,732.7L379.7,733.4L379.9,734.2L380.1,734.9L380.3,735.6L380.5,736.3L380.7,737L380.9,737.7L381.1,738.5L381.3,739.2L381.5,739.9L381.7,740.6L381.9,741.3L382.1,742L382.3,742.7L382.5,743.5L382.7,744.2L382.9,744.9L383.1,745.6L383.3,746.3L383.5,747L383.7,747.8L383.9,748.5L384.1,749.2L384.3,749.9L384.5,750.6L384.7,751.3L384.9,752L385.1,752.8L385.3,753.5L385.5,754.2L385.7,754.9L386,755.6L386.2,756.3L386.4,757L386.6,757.8L386.8,758.5L387,759.2L387.2,759.9L387.4,760.6L387.6,761.3L387.8,762L388,762.7L388.2,763.5L388.4,764.2L388.6,764.9L388.8,765.6L389,766.3L389.2,767L389.4,767.7L389.7,768.5L389.9,769.2L390.1,769.9L390.3,770.6L390.5,771.3L390.7,772L390.9,772.7L391.1,773.4L391.3,774.2L391.5,774.9L391.7,775.6L391.9,776.3L392.1,777L392.3,777.7L392.6,778.4L392.8,779.1L393,779.9L393.2,780.6L393.4,781.3L393.6,782L393.8,782.7L394,783.4L394.2,784.1L394.4,784.8L394.6,785.6L394.8,786.3L395,787L395.2,787.7L395.5,788.4L395.7,789.1L395.9,789.8L396.1,790.6L396.3,791.3L396.5,792L396.7,792.7L396.9,793.4L397.1,794.1L397.3,794.8L397.5,795.5L397.7,796.3L397.9,797L398.1,797.7L398.3,798.4L398.5,799.1L398.8,799.8L399,800.5L399.2,801.3L399.4,802L399.6,802.7L399.8,803.4L400,804.1L400.2,804.8L400.4,805.6L400.6,806.3L400.8,807L401,807.7L401.2,808.4L401.4,809.1L401.6,809.8L401.8,810.6L402,811.3L402.2,812L402.4,812.7L402.6,813.4L402.8,814.1L403,814.9L403.2,815.6L403.4,816.3L403.6,817L403.8,817.7L404,818.4L404.2,819.2L404.4,819.9L404.6,820.6L404.8,821.3L405,822L405.2,822.8L405.4,823.5L405.6,824.2L405.8,824.9L406,825.6L406.2,826.4L406.4,827.1L406.6,827.8L406.8,828.5L407,829.2L407.2,830L407.4,830.7L407.6,831.4L407.8,832.1L407.9,832.8L408.1,833.6L408.3,834.3L408.5,835L408.7,835.7L408.9,836.4L409.1,837.2L409.3,837.9L409.5,838.6L409.7,839.3L409.9,840.1L410,840.8L410.2,841.5L410.4,842.2L410.6,843L410.8,843.7L411,844.4L411.2,845.1L411.3,845.9L411.5,846.6L411.7,847.3L411.9,848L412.1,848.8L412.3,849.5L412.4,850.2L412.6,850.9L412.8,851.7L413,852.4L413.2,853.1L413.3,853.9L413.5,854.6L413.7,855.3L413.9,856L414.1,856.8L414.2,857.5L414.4,858.2L414.6,859L414.8,859.7L414.9,860.4L415.1,861.2L415.3,861.9L415.5,862.6L415.6,863.3L415.8,864.1L416,864.8L416.2,865.5L416.3,866.3L416.5,867L416.7,867.7L416.9,868.5L417,869.2L417.2,869.9L417.4,870.7L417.6,871.4L417.7,872.1L417.9,872.8L418.1,873.6L418.3,874.3L418.4,875L418.6,875.8L418.8,876.5L419,877.2L419.2,878L419.3,878.7L419.5,879.4L419.7,880.1L419.9,880.9L420,881.6L420.2,882.3L420.4,883.1L420.6,883.8L420.8,884.5L421,885.2L421.1,886L421.3,886.7L421.5,887.4L421.7,888.1L421.9,888.9L422.1,889.6L422.3,890.3L422.4,891L422.6,891.8L422.8,892.5L423,893.2L423.2,893.9L423.4,894.6L423.6,895.4L423.8,896.1L424,896.8L424.2,897.5L424.4,898.2L424.6,898.9L424.8,899.7L425,900.4L425.2,901.1L425.4,901.8L425.6,902.5L425.8,903.2L426,903.9L426.2,904.7L426.4,905.4L426.6,906.1L426.9,906.8L427.1,907.5L427.3,908.2L427.5,908.9L427.7,909.6L428,910.3L428.2,911L428.4,911.7L428.6,912.4L428.9,913.1L429.1,913.8L429.3,914.5L429.5,915.2L429.8,915.9L430,916.6L430.3,917.3L430.5,918L430.7,918.7L431,919.4L431.2,920.1L431.5,920.8L431.7,921.4L432,922.1L432.2,922.8L432.5,923.5L432.7,924.2L433,924.9L433.3,925.5L433.5,926.2L433.8,926.9L434.1,927.6L434.3,928.3L434.6,928.9L434.9,929.6L435.2,930.3L435.4,930.9L435.7,931.6L436,932.3L436.3,933L436.6,933.6L436.9,934.3L437.2,934.9L437.5,935.6L437.8,936.3L438.1,936.9L438.4,937.6L438.7,938.2L439,938.9L439.3,939.6L439.6,940.2L439.9,940.9L440.2,941.5L440.5,942.2L440.8,942.8L441.2,943.5L441.5,944.1L441.8,944.8L442.1,945.4L442.4,946.1L442.7,946.7L443.1,947.4L443.4,948L443.7,948.7L444,949.3L444.3,950L444.7,950.6L445,951.3L445.3,951.9L445.6,952.5L446,953.2L446.3,953.8L446.6,954.5L446.9,955.1L447.2,955.8L447.5,956.5L447.9,957.2L448.2,957.9L448.5,958.4L448.8,959.1L449.1,959.7L449.4,960.3L449.7,961L450,961.9L450.3,962.4L450.7,962.9L451,963.6L451.3,964.3L451.6,965L451.8,965.7L452.1,966.2L452.4,967.3L452.7,967.5L453,968.4L453.3,968.9L453.6,969.4L453.8,969.8L454.1,970.4L454.4,971.5L454.7,972.2L454.9,972.9L455.2,973.7L455.4,974.6L455.7,975.3L456,975.8L456.2,975.9L456.4,977L456.7,977.8L456.9,978.8L457.2,979.4L457.4,980.3L457.6,980.2L457.9,981.5L458.1,982.2L458.3,982.7L458.5,983.5L458.8,983.9L459,984.6L459.2,985.5L459.4,986.4L459.6,986.8L459.9,987.1L460.1,988.5L460.3,988.5L460.5,989L460.7,991L460.9,991.8L461.1,992.2L461.3,992.7L461.6,993.4L461.8,994L462,994.8L462.2,995.6L462.4,995.8L462.6,996.4L462.8,997.3L463,998L463.2,999.1L463.5,999.5L463.7,1000.7L463.9,1001L464.1,1002.4L464.3,1003.2L464.5,1002.8L464.7,1003.2L465,1005L465.2,1005.4" fill="none" stroke="#66cad7" stroke-width="3.9"/>
<path d="M460.5,989L460.7,991L460.9,991.8L461.1,992.2L461.3,992.7L461.6,993.4L461.8,994L462,994.8L462.2,995.6L462.4,995.8L462.6,996.4L462.8,997.3L463,998L463.2,999.1L463.5,999.5L463.7,1000.7L463.9,1001L464.1,1002.4L464.3,1003.2L464.5,1002.8L464.7,1003.2L465,1005L465.2,1005.4L465.4,1005.5L465.6,1007L465.9,1007.7L466.1,1008.6L466.3,1008.7L466.6,1009L466.8,1009.7L467.1,1010.1L467.3,1010L467.5,1010.6L467.8,1011.4L468,1012.5L468.3,1013.8L468.5,1014.9L468.8,1015.7L469.1,1016.4L469.3,1017.6L469.6,1018.2L469.8,1019.4L470.1,1020L470.4,1020.4L470.6,1020.4L470.9,1021L471.2,1022.1L471.4,1021.7L471.7,1023.3L472,1023.2L472.3,1025.2L472.6,1026.2L472.8,1027.1L473.1,1026.8L473.4,1028L473.7,1027.6L474,1027.8L474.3,1029.6L474.5,1030.4L474.8,1029.7L475.1,1029.8L475.4,1030.9L475.7,1032.1L476,1033L476.3,1032.8L476.6,1033.6L476.9,1033.8L477.2,1036.1L477.5,1036.4L477.8,1037.7L478.1,1038.9L478.4,1038.4L478.7,1038.7L479,1041.3L479.3,1042.2L479.6,1041.4L479.9,1042.1L480.2,1041.7L480.5,1044.3L480.8,1045.7L481.1,1045.3L481.4,1044.2L481.7,1046.4L482,1048.3L482.3,1047.2L482.6,1046.8L482.9,1047.2L483.3,1048.7L483.6,1048.3L483.9,1048.9L484.2,1050.9L484.5,1050.5L484.8,1050.9L485.1,1051.2L485.4,1052.6L485.7,1053.3L486,1053.5L486.3,1055.3L486.6,1057.2L486.9,1056.9L487.3,1057.2L487.6,1059.5L487.9,1060.7L488.2,1060.3L488.5,1061.6L488.8,1060.5L489.1,1060L489.4,1061.3L489.7,1062.2L490,1062.8L490.4,1062.3L490.7,1064.6L491,1065.1L491.3,1064.8L491.6,1065.8L491.9,1066.7L492.2,1069L492.6,1070.4L492.9,1070.7L493.2,1069L493.5,1071L493.8,1072.1L494.1,1072.8L494.4,1074.3L494.8,1073.6L495.1,1073.1L495.4,1073L495.7,1074.9L496.9,1076.3L497.9,1078.7L499,1078.4L500,1079.4L501,1084.2L502.1,1089.4L503.1,1088.7L504.1,1088.3L505.2,1092.6L506.2,1094.8L507.2,1096.9L508.3,1098.6L509.3,1098.9L510.3,1099.4L511.4,1103.2L512.4,1104.1L513.4,1104.7L514.5,1105.3L515.5,1107.6L516.5,1107.4L517.6,1109.5L518.6,1110.2L519.6,1111.2L520.7,1111.8L521.7,1112.3L522.7,1113.3L523.8,1112.8L524.8,1113.9L525.8,1113.6L526.9,1116.7L527.9,1120L528.9,1119.9L530,1119L531,1120.4L532,1119.8L533.1,1120.6L534.1,1120.9L535.1,1123.3L536.2,1124.3L537.2,1126L538.2,1128.8L539.3,1130.3L540.3,1128.4L541.3,1129.4L542.4,1130.6L543.4,1131.9L544.4,1134.3L545.5,1133.6L546.5,1135L547.5,1135.5L548.6,1138.1L549.6,1137.5L550.6,1138.8L551.7,1139.5L552.7,1140.4L553.7,1142.6L554.8,1143.5L555.8,1143.6L556.8,1143.4L557.9,1143.1L558.9,1146.2L559.9,1147.3L561,1149.8L562,1149.5L563,1149.8L564,1150.3L565.1,1151.6L566.1,1151.6L567.1,1151L568.2,1154.8L569.2,1153.5L570.2,1153.4L571.3,1155L572.3,1154.2L573.3,1154.3L574.4,1154.7L575.4,1156.6L576.4,1158.1L577.5,1159L578.5,1159.3L579.5,1160L580.6,1157.7L581.6,1158.6L582.6,1159.9L583.7,1159.9L584.7,1161L585.7,1161.2L586.8,1162L587.8,1162.4L588.8,1163.1L589.9,1162.8L590.9,1161.4L591.9,1161.6L593,1162.2L594,1161.3L595,1160.9L596.1,1162.1L597.1,1163.2L598.1,1162.3L599.2,1163L600.2,1162.6L601.2,1162.4L602.3,1162.7L603.3,1161.8L604.3,1162.7L605.4,1162.5L606.4,1162.2L607.4,1162.6L608.5,1159.2L609.5,1160.7L610.5,1161.5L611.6,1161.4L612.6,1159.1L613.6,1160.4L614.7,1162.1L615.7,1164.2L616.7,1163.7L617.8,1162L618.8,1161.3L619.8,1161.9L620.9,1163.8L621.9,1161.4L622.9,1163.6L624,1162L625,1163.3L626,1163L627.1,1163.5L628.1,1163.9L629.1,1165.6L630.2,1163.6L631.2,1163.3L632.2,1165.9L633.3,1165.9L634.3,1165.9L635.3,1165.7L636.4,1162.9L637.4,1163.7L638.4,1164L639.5,1164.2L640.5,1163.8L641.5,1163.7L642.6,1162.4L643.6,1164.5L644.6,1166.6L645.7,1167.8L646.7,1166.1L647.7,1166.6L648.8,1169.5L649.8,1169.3L650.8,1167.2L651.9,1169.2L652.9,1168.1L653.9,1167L655,1169L656,1168.4L657,1169.1L658.1,1168.6L659.1,1169L660.1,1168.5L661.2,1168.8L662.2,1169.5L663.2,1168.7L664.3,1170.1L665.3,1169L666.3,1167.6L667.4,1168.3L668.4,1173.4L669.4,1171.5L670.5,1168.2L671.5,1170.6L672.5,1172.5L673.6,1169.8L674.6,1171.4L675.6,1172.7L676.7,1171L677.7,1171.4L678.7,1172.7L679.8,1173.7L680.8,1171.5L681.8,1169.7L682.9,1168.3L683.9,1170.3L684.9,1173.5L686,1173.3L687,1172.9L688,1173.7L689,1172.1L690.1,1174L691.1,1174.3L692.1,1173.7L693.2,1174.2L694.2,1176.1L695.2,1175.8L696.3,1174.4L697.3,1174.5L698.3,1177.3L699.4,1176.7L700.4,1177.7L701.4,1178.6L702.5,1176.8L703.5,1173.7L704.5,1173.9L705.6,1173.9L706.6,1174.6L707.6,1173.4L708.7,1174.1L709.7,1176.4L710.7,1178L711.8,1178.1L712.8,1177.3L713.8,1176L714.9,1177L715.9,1178.4L716.9,1180.2L718,1179.9L719,1182L720,1178.8L721.1,1181.1L722.1,1184.9L723.1,1182.8L724.2,1181.1L725.2,1182L726.2,1182.9L727.3,1183.2L728.3,1186.4L729.3,1182.9L730.4,1184.1L731.4,1184.5L732.4,1184.2L733.5,1184.5L734.5,1185.2L735.5,1185L736.6,1185.2L737.6,1185.4L738.6,1187.8L739.7,1187.1L740.7,1186.2L741.7,1185.2L742.8,1184.3L743.8,1184.9L744.8,1185.2L745.9,1189.4L746.9,1188.9L747.9,1187.2L749,1187.2L750,1187.2L751,1183.8L752.1,1184.5L753.1,1184.1L754.1,1184.7L755.2,1186.6L756.2,1184L757.2,1180.9L758.3,1182.8L759.3,1182.5L760.3,1182.5L761.4,1182.6L762.4,1180.7L763.4,1182.2L764.5,1179.5L765.5,1179.3L766.5,1182.8L767.6,1183.8L768.6,1181.2L769.6,1182.4L770.7,1181.8L771.7,1180.3L772.7,1179.6L773.8,1180.4L774.8,1181L775.8,1180.5L776.9,1180.7L777.9,1178.2L778.9,1179.3L780,1180.8L781,1180.6L782,1181.9L783.1,1179.2L784.1,1178.4L785.1,1176.8L786.2,1179.2L787.2,1178.7L788.2,1179.1L789.3,1181.3L790.3,1182.1L791.3,1181.1L792.4,1181.1L793.4,1180.6L794.4,1181.7L795.5,1181.3L796.5,1181.3L797.5,1180.1L798.6,1182.3L799.6,1179.8L800.6,1179.6L801.7,1180.7L802.7,1181.4L803.7,1183.7L804.8,1184.4L805.8,1184L806.8,1183L807.9,1183.1L808.9,1181.6L809.9,1181.2L811,1183.8L812,1184.7L813,1185.5L814,1182.1L815.1,1182.5L816.1,1182.4L817.1,1182.2L818.2,1184.3L819.2,1186.7L820.2,1188.7L821.3,1187.4L822.3,1185.8L823.3,1186.8L824.4,1186.6L825.4,1184.9L826.4,1185.9L827.5,1185.7L828.5,1184.5L829.5,1184.6L830.6,1185.3L831.6,1187.8L832.6,1186.3L833.7,1188L834.7,1187.4L835.7,1186.2L836.8,1186.2L837.8,1185.8L838.8,1186L839.9,1186L840.9,1187L841.9,1186.5L843,1186.8L844,1188.7L845,1187.2L846.1,1186L847.1,1185L848.1,1186.3L849.2,1184.5L850.2,1182.7L851.2,1184L852.3,1182.6L853.3,1185.8L854.3,1184.2L855.4,1181.9L856.4,1184L857.4,1182.8L858.5,1181.1L859.5,1178.1L860.5,1176.6L861.6,1178.1L862.6,1176.9L863.6,1178.9L864.7,1175.9L865.7,1178.3L866.7,1175.7L867.8,1173.1L868.8,1174.9L869.8,1175.9L870.9,1173.7L871.9,1171L872.9,1171.7L874,1172.3L875,1172.6L876,1171.6L877.1,1171.4L878.1,1173.9L879.1,1176.4L880.2,1174.5L881.2,1176.1L882.2,1177L883.3,1176.1L884.3,1173.9L885.3,1174.7L886.4,1175.1L887.4,1175.2L888.4,1174L889.5,1175.1L890.5,1172.7L891.5,1174.2L892.6,1175.9L893.6,1175.6L894.6,1174.3L895.7,1174.9L896.7,1174.7L897.7,1176.3L898.8,1176.3L899.8,1177.9L900.8,1176.7L901.9,1176.9L902.9,1175.4L903.9,1174.6L905,1175.3L906,1173.6L907,1176.5L908.1,1175.4L909.1,1175L910.1,1176.2L911.2,1176.3L912.2,1177.9L913.2,1176.1L914.3,1173.9L915.3,1174.4L916.3,1177.2L917.4,1177.5L918.4,1176.3L919.4,1177.1L920.5,1176.5L921.5,1177L922.5,1176.6L923.6,1177.2L924.6,1178.5L925.6,1177.4L926.7,1178.9L927.7,1179.5L928.7,1176.2L929.8,1178.8L930.8,1178L931.8,1178.4L932.9,1178.6L933.9,1178.2L934.9,1177.6L936,1179.4L937,1176.6L938,1176.1L939,1173.8L940.1,1173.1L941.1,1174.3L942.1,1174.4L943.2,1173.6L944.2,1172.2L945.2,1172.3L946.3,1172L947.3,1172.4L948.3,1172.7L949.4,1174.2L950.4,1176.3L951.4,1172.9L952.5,1170.8L953.5,1171.8L954.5,1171.9L955.6,1171.4L956.6,1172.2L957.6,1171.8L958.7,1169.7L959.7,1170.4L960.7,1170.6L961.8,1170.5L962.8,1167.7L963.8,1169.2L964.9,1169.8L965.9,1169.9L966.9,1171.5L968,1170.7L969,1171L970,1170.6L971.1,1167.7L972.1,1168.4L973.1,1166.7L974.2,1167.5L975.2,1165.7L976.2,1167.7L977.3,1167.7L978.3,1170.6L979.3,1168.2L980.4,1166.8L981.4,1166.5L982.4,1164.3L983.5,1162.9L984.5,1167.1L985.5,1165.9L986.6,1164.8L987.6,1165.7L988.6,1165.5L989.7,1166.4L990.7,1164.9L991.7,1162L992.8,1160.3L993.8,1162.6L994.8,1163.2L995.9,1161L996.9,1161.3L997.9,1162.9L999,1162.9L1000,1165.5L1001,1167.9L1002.1,1165L1003.1,1163.6L1004.1,1166L1005.2,1166.6L1006.2,1165.9L1007.2,1164.4L1008.3,1164.5L1009.3,1166.1L1010.3,1166.9L1011.4,1168.8L1012.4,1169.7L1013.4,1170.9L1014.5,1171.2L1015.5,1170.1L1016.5,1172.8L1017.6,1173.3L1018.6,1173.3L1019.6,1175L1020.7,1176.9L1021.7,1177.6L1022.7,1175.6L1023.8,1175.8L1024.8,1178.4L1025.8,1179.3L1026.9,1182.6L1027.9,1180.1L1028.9,1180.1L1030,1180.1L1031,1178.1L1032,1179.6L1033.1,1180.8L1034.1,1181L1035.1,1178.7L1036.2,1179.6L1037.2,1180.9L1038.2,1180.7L1039.3,1180.8L1040.3,1179.8L1041.3,1181.8L1042.4,1181.9L1043.4,1181.7L1044.4,1182.3L1045.5,1183.4L1046.5,1181.5L1047.5,1180.6L1048.6,1183.5L1049.6,1183.3L1050.6,1185L1051.7,1186L1052.7,1186.1L1053.7,1185.3L1054.8,1187L1055.8,1186.1L1056.8,1186.2L1057.9,1185.6L1058.9,1184.2L1059.9,1182.6L1061,1182.5L1062,1182.2L1063,1184.3L1064,1186.1L1065.1,1184.9L1066.1,1182.2L1067.1,1182.3L1068.2,1184.3L1069.2,1184.8L1070.2,1183.8L1071.3,1185.2L1072.3,1185.7L1073.3,1184.7L1074.4,1186.1L1075.4,1182.3L1076.4,1184.4L1077.5,1182.9L1078.5,1183.3L1079.5,1184.3L1080.6,1185L1081.6,1184L1082.6,1182.2L1083.7,1182.6L1084.7,1182.5L1085.7,1183.7L1086.8,1184.6L1087.8,1184.6L1088.8,1182L1089.9,1181.1L1090.9,1182.5L1091.9,1183.7L1093,1184L1094,1184.3L1095,1184.3L1096.1,1184.8L1097.1,1184.4L1098.1,1184.7L1099.2,1186.5L1100.2,1185.6L1101.2,1186L1102.3,1185.5L1103.3,1185.2L1104.3,1187.3L1105.4,1186.3L1106.4,1185.2L1107.4,1185.2L1108.5,1185.4L1109.5,1183.8L1110.5,1184L1111.6,1184.8L1112.6,1184.6L1113.6,1184.4L1114.7,1183.3L1115.7,1184.5L1116.7,1185L1117.8,1184.4L1118.8,1184.3L1119.8,1184.2L1120.9,1183.9L1121.9,1181.8L1122.9,1182.2L1124,1180.3L1125,1181.5L1126,1181.1L1127.1,1182.9L1128.1,1182.2L1129.1,1181.5L1130.2,1183.5L1131.2,1184.2L1132.2,1185.2L1133.3,1184.5L1134.3,1183.4L1135.3,1184.3L1136.4,1185.3L1137.4,1182.8L1138.4,1184.1L1139.5,1184L1140.5,1186.2L1141.5,1185.7L1142.6,1186L1143.6,1184.6L1144.6,1184.7L1145.7,1183.2L1146.7,1184.8L1147.7,1181.9L1148.8,1183.1L1149.8,1183.2L1150.8,1182.4L1151.9,1182.7L1152.9,1184.4L1153.9,1184.6L1155,1184.3L1156,1184.1L1157,1182.5L1158.1,1182.6L1159.1,1182.4L1160.1,1182.4L1161.2,1182.5L1162.2,1182.8L1163.2,1184L1164.3,1186.8L1165.3,1183.8L1166.3,1184L1167.4,1180.1L1168.4,1181.6L1169.4,1181.4L1170.5,1181.5L1171.5,1181.6L1172.5,1182.1L1173.6,1185.2L1174.6,1181.5L1175.6,1178.8L1176.7,1180.8L1177.7,1180.8L1178.7,1181.4L1179.8,1182.5L1180.8,1181.7L1181.8,1180L1182.9,1179L1183.9,1182.8L1184.9,1181L1186,1181.3L1187,1180.5L1188,1181.5L1189,1180.3L1190.1,1181.2L1191.1,1179.7L1192.1,1179.9L1193.2,1178.7L1194.2,1177.4L1195.2,1179.8L1196.3,1180.5L1197.3,1179.3L1198.3,1180.7L1199.4,1180.9L1200.4,1179.2L1201.4,1179.1L1202.5,1181.4L1203.5,1180.8L1204.5,1182.2L1205.6,1178.9L1206.6,1178.6L1207.6,1178.8L1208.7,1178.2L1209.7,1181.4L1210.7,1180.6L1211.8,1184.5L1212.8,1183.2L1213.8,1182.5L1214.9,1183.4L1215.9,1183.3L1216.9,1181.6L1218,1182.7L1219,1185L1220,1183.8L1221.1,1184.4L1222.1,1186.2L1223.1,1185.9L1224.2,1186.5L1225.2,1186.1L1226.2,1187.4L1227.3,1185.8L1228.3,1186.5L1229.3,1182.2L1230.4,1183L1231.4,1182L1232.4,1183.6L1233.5,1185.5L1234.5,1186L1235.5,1184.2L1236.6,1184.9L1237.6,1184.9L1238.6,1184.3L1239.7,1182.5L1240.7,1183.7L1241.7,1183.1L1242.8,1185.9L1243.8,1185.3L1244.8,1186.4L1245.9,1185L1246.9,1186.3L1247.9,1185.4L1249,1185.4L1250,1187.8L1251,1187.2L1252.1,1186.1L1253.1,1185.7L1254.1,1184.5L1255.2,1185.4L1256.2,1186.4L1257.2,1186.1L1258.3,1184.9L1259.3,1186.4L1260.3,1184.7L1261.4,1185.4L1262.4,1186.1L1263.4,1184.7L1264.5,1184.6L1265.5,1183.9L1266.5,1182.8L1267.6,1182.6L1268.6,1184.2L1269.6,1181.5L1270.7,1183.3L1271.7,1182.1L1272.7,1181.4L1273.8,1180.3L1274.8,1180.7L1275.8,1179.9L1276.9,1178.4L1277.9,1178.4L1278.9,1177.5L1280,1177.3L1281,1174.9L1282,1175.8L1283.1,1175.8L1284.1,1175.7L1285.1,1175L1286.2,1172.4L1287.2,1174.5L1288.2,1173.9L1289.3,1173.8L1290.3,1172.9L1291.3,1170.8L1292.4,1168.4L1293.4,1168.4L1294.4,1169.5L1295.5,1169.2L1296.5,1168.5L1297.5,1168.3L1298.6,1168.3L1299.6,1166.9L1300.6,1167.8L1301.7,1166.8L1302.7,1166.9L1303.7,1165.3L1304.8,1164.9L1305.8,1165.7L1306.8,1161.9L1307.9,1164.8L1308.9,1169.5L1309.9,1169.3L1311,1168.9L1312,1168.3L1313,1169.2L1314,1171.4L1315.1,1170.8L1316.1,1172.2L1317.1,1171.1L1318.2,1170.4L1319.2,1171.3L1320.2,1172.4L1321.3,1171.8L1322.3,1173.6L1323.3,1174.5L1324.4,1172.6L1325.4,1172.2L1326.4,1171.5L1327.5,1175.1L1328.5,1174.3L1329.5,1173.4L1330.6,1172.4L1331.6,1173.1L1332.6,1173.5L1333.7,1175.6L1334.7,1176.6L1335.7,1176L1336.8,1174.6L1337.8,1173.1L1338.8,1170.8L1339.9,1173.8L1340.9,1175.8L1341.9,1174.3L1343,1175.9L1344,1173.7L1345,1176.3L1346.1,1174.1L1347.1,1174.6L1348.1,1175.1L1349.2,1176.5L1350.2,1176L1351.2,1176.4L1352.3,1179.4L1353.3,1177.4L1354.3,1180.2L1355.4,1179.5L1356.4,1181L1357.4,1180.3L1358.5,1180.3L1359.5,1176.7L1360.5,1178.5L1361.6,1178.5L1362.6,1177.7L1363.6,1177.6L1364.7,1176.5L1365.7,1179.4L1366.7,1178.9L1367.8,1177.4L1368.8,1178.3L1369.8,1178.3L1370.9,1178.2L1371.9,1178.1L1372.9,1178.4L1374,1178.1L1375,1178.6L1376,1178.2L1377.1,1177.7L1378.1,1179.4L1379.1,1178.5L1380.2,1179.8L1381.2,1180.7L1382.2,1178.7L1383.3,1178L1384.3,1176.4L1385.3,1176.2L1386.4,1174.3L1387.4,1176.5L1388.4,1177.5L1389.5,1177.1L1390.5,1177.1L1391.5,1177.1L1392.6,1179.9L1393.6,1179.6L1394.6,1180.2L1395.7,1179.1L1396.7,1175.9L1397.7,1176.7L1398.8,1177.2L1399.8,1177L1400.8,1177.1L1401.9,1177.5L1402.9,1177.7L1403.9,1179.5L1405,1177.3L1406,1178.9L1407,1179L1408.1,1174.4L1409.1,1172.7L1410.1,1174.1L1411.2,1174.6L1412.2,1177.9L1413.2,1175.7L1414.3,1177.1L1415.3,1174.8L1416.3,1177.3L1417.4,1175.6L1418.4,1171.5L1419.4,1174.1L1420.5,1174.7L1421.5,1172.6L1422.5,1172.5L1423.6,1170.7L1424.6,1171.7L1425.6,1171.5L1426.7,1171L1427.7,1172.3L1428.7,1171.6L1429.8,1171.4L1430.8,1172.3L1431.8,1173L1432.9,1172.7L1433.9,1172.1L1434.9,1171.5L1436,1170.9L1437,1170.4L1438,1170L1439,1167.9L1440.1,1167.7L1441.1,1168L1442.1,1167L1443.2,1168.3L1444.2,1164.3L1445.2,1169.4L1446.3,1167.4L1447.3,1170.8L1448.3,1171.3L1449.4,1169.3L1450.4,1168L1451.4,1170.2L1452.5,1169.9L1453.5,1171.9L1454.5,1171.1L1455.6,1171.4L1456.6,1172.2L1457.6,1171.7L1458.7,1174L1459.7,1173.8L1460.7,1175.4L1461.8,1173.9L1462.8,1174.8L1463.8,1176.7L1464.9,1179L1465.9,1176.6L1466.9,1175.8L1468,1177L1469,1179.9L1470,1180.5L1471.1,1180.8L1472.1,1182.2L1473.1,1183.4L1474.2,1184L1475.2,1183.3L1476.2,1184.2L1477.3,1185.1L1478.3,1185.7L1479.3,1186.4L1480.4,1186.2L1481.4,1187L1482.4,1189.2L1483.5,1189.9L1484.5,1188.7L1485.5,1187.3L1486.6,1187.7L1487.6,1189.1L1488.6,1190.6L1489.7,1192.7L1490.7,1192.4L1491.7,1194.1L1492.8,1194.4L1493.8,1194.5L1494.8,1193.5L1495.9,1196.8L1496.9,1196.2L1497.9,1197L1499,1196.3L1500,1199.1L1501,1200.6L1502.1,1200.4L1503.1,1200.2L1504.1,1200L1505.2,1197.8L1506.2,1196.5L1507.2,1196L1508.3,1195.6L1509.3,1196.6L1510.3,1195.8L1511.4,1192.9L1512.4,1194.3L1513.4,1197.7L1514.5,1196.1L1515.5,1195.4L1516.5,1194.1L1517.6,1192.7L1518.6,1191.9L1519.6,1191.3L1520.7,1193.3L1521.7,1192.7L1522.7,1192L1523.8,1191.3L1524.8,1190.2L1525.8,1188.8L1526.9,1191.3L1527.9,1189.9L1528.9,1187.9L1530,1188.8L1531,1189.3L1532,1189.5L1533.1,1190.6L1534.1,1186.1L1535.1,1187.9L1536.2,1187.5L1537.2,1187.7L1538.2,1187.2L1539.3,1186.9L1540.3,1188.5L1541.3,1187.3L1542.4,1187.4L1543.4,1187.2L1544.4,1187.1L1545.5,1187.8L1546.5,1185.8L1547.5,1185.7L1548.6,1187L1549.6,1186.7L1550.6,1188.8L1551.7,1185.3L1552.7,1185.3L1553.7,1186.5L1554.8,1186.9L1555.8,1186.8L1556.8,1187.8L1557.9,1189.7L1558.9,1188.7L1559.9,1189.2L1561,1188.8L1562,1189.1L1563,1188.6L1564,1190.6L1565.1,1190L1566.1,1190.8L1567.1,1190.2L1568.2,1191.8L1569.2,1192.7L1570.2,1191.1L1571.3,1190.6L1572.3,1190.6L1573.3,1191.1L1574.4,1190.5L1575.4,1191.8L1576.4,1192L1577.5,1191.2L1578.5,1193.3L1579.5,1191.4L1580.6,1189.4L1581.6,1191.1L1582.6,1191.9L1583.7,1190.5L1584.7,1189.8L1585.7,1188.8L1586.8,1186.9L1587.8,1187.6L1588.8,1185.5L1589.9,1184.6L1590.9,1186.9L1591.9,1186.1L1593,1185.5L1594,1186.2L1595,1184.5L1596.1,1181.2L1597.1,1180.9L1598.1,1178.8L1599.2,1179.1L1600.2,1179L1601.2,1178.3L1602.3,1179.8L1603.3,1178L1604.3,1179.7L1605.4,1178.5L1606.4,1177.7L1607.4,1175.3L1608.5,1175.8L1609.5,1175.9L1610.5,1175.7L1611.6,1176.3L1612.6,1177.2L1613.6,1176.9L1614.7,1177.1L1615.7,1175.9L1616.7,1175.9L1617.8,1173.8L1618.8,1175.7L1619.8,1175L1620.9,1177.2L1621.9,1175.6L1622.9,1175.6L1624,1175.8L1625,1172.8L1626,1173.7L1627.1,1174L1628.1,1172L1629.1,1172L1630.2,1171.3L1631.2,1172.3L1632.2,1171.5L1633.3,1171.6L1634.3,1172.6L1635.3,1172L1636.4,1173L1637.4,1171.7L1638.4,1171.7L1639.5,1172.4L1640.5,1171.2L1641.5,1172L1642.6,1171.6L1643.6,1172.4L1644.6,1173.1L1645.7,1173.9L1646.7,1174.4L1647.7,1175.3L1648.8,1176L1649.8,1177.1L1650.8,1180.1L1651.9,1179.3L1652.9,1177.5L1653.9,1179.1L1655,1177.9L1656,1180.5L1657,1179.8L1658.1,1180.7L1659.1,1179.7L1660.1,1181L1661.2,1182.7L1662.2,1186L1663.2,1184.9L1664.3,1186.1L1665.3,1184.4L1666.3,1185L1667.4,1188.2L1668.4,1188.4L1669.4,1188.3L1670.5,1191.6L1671.5,1192.1L1672.5,1189.5L1673.6,1193.4L1674.6,1193.5L1675.6,1194.1L1676.7,1190.8L1677.7,1191.3L1678.7,1191.5L1679.8,1190L1680.8,1191.4L1681.8,1192L1682.9,1193.7L1683.9,1190.8L1684.9,1191L1686,1189.3L1687,1188.5L1688,1189.8L1689,1190.5L1690.1,1190.7L1691.1,1190.6L1692.1,1190" fill="none" stroke="#66cad7" stroke-width="5.0"/>
<path d="M-14.3,8.7L14.3,8.7L0,-16.3Z" transform="translate(200.4,50.7)" fill="none" stroke="#66cad7" stroke-width="4.0" stroke-miterlimit="10" stroke-linejoin="miter"/>
<path d="M-14.3,8.7L14.3,8.7L0,-16.3Z" transform="translate(306.2,459.5)" fill="none" stroke="#66cad7" stroke-width="4.0" stroke-miterlimit="10" stroke-linejoin="miter"/>
<path d="M-14.3,8.7L14.3,8.7L0,-16.3Z" transform="translate(413.6,852)" fill="none" stroke="#66cad7" stroke-width="4.0" stroke-miterlimit="10" stroke-linejoin="miter"/>
<path d="M-14.3,8.7L14.3,8.7L0,-16.3Z" transform="translate(519.4,1111)" fill="none" stroke="#66cad7" stroke-width="4.0" stroke-miterlimit="10" stroke-linejoin="miter"/>
<path d="M-14.3,8.7L14.3,8.7L0,-16.3Z" transform="translate(626.7,1163.3)" fill="none" stroke="#66cad7" stroke-width="4.0" stroke-miterlimit="10" stroke-linejoin="miter"/>
<path d="M-14.3,8.7L14.3,8.7L0,-16.3Z" transform="translate(732.7,1184.3)" fill="none" stroke="#66cad7" stroke-width="4.0" stroke-miterlimit="10" stroke-linejoin="miter"/>
<path d="M-14.3,8.7L14.3,8.7L0,-16.3Z" transform="translate(838.3,1186)" fill="none" stroke="#66cad7" stroke-width="4.0" stroke-miterlimit="10" stroke-linejoin="miter"/>
<path d="M-14.3,8.7L14.3,8.7L0,-16.3Z" transform="translate(946.3,1172)" fill="none" stroke="#66cad7" stroke-width="4.0" stroke-miterlimit="10" stroke-linejoin="miter"/>
<path d="M-14.3,8.7L14.3,8.7L0,-16.3Z" transform="translate(1051.6,1186)" fill="none" stroke="#66cad7" stroke-width="4.0" stroke-miterlimit="10" stroke-linejoin="miter"/>
<path d="M-14.3,8.7L14.3,8.7L0,-16.3Z" transform="translate(1159.5,1182.3)" fill="none" stroke="#66cad7" stroke-width="4.0" stroke-miterlimit="10" stroke-linejoin="miter"/>
<path d="M-14.3,8.7L14.3,8.7L0,-16.3Z" transform="translate(1265.4,1184)" fill="none" stroke="#66cad7" stroke-width="4.0" stroke-miterlimit="10" stroke-linejoin="miter"/>
<path d="M-14.3,8.7L14.3,8.7L0,-16.3Z" transform="translate(1370.9,1178.2)" fill="none" stroke="#66cad7" stroke-width="4.0" stroke-miterlimit="10" stroke-linejoin="miter"/>
<path d="M-14.3,8.7L14.3,8.7L0,-16.3Z" transform="translate(1478.7,1186)" fill="none" stroke="#66cad7" stroke-width="4.0" stroke-miterlimit="10" stroke-linejoin="miter"/>
<path d="M-14.3,8.7L14.3,8.7L0,-16.3Z" transform="translate(1584.4,1190)" fill="none" stroke="#66cad7" stroke-width="4.0" stroke-miterlimit="10" stroke-linejoin="miter"/>
<path d="M-14.3,8.7L14.3,8.7L0,-16.3Z" transform="translate(1692.1,1190)" fill="none" stroke="#66cad7" stroke-width="4.0" stroke-miterlimit="10" stroke-linejoin="miter"/>
<path d="M198.9,42L200.5,75.3L200.5,76L200.5,76.8L200.5,77.5L200.5,78.3L200.5,79L200.5,79.7L200.5,80.5L200.5,81.2L200.6,82L200.6,82.7L200.6,83.5L200.6,84.2L200.6,84.9L200.6,85.7L200.6,86.4L200.6,87.2L200.7,87.9L200.7,88.7L200.7,89.4L200.7,90.1L200.7,90.9L200.7,91.6L200.8,92.4L200.8,93.1L200.8,93.9L200.8,94.6L200.9,95.3L200.9,96.1L200.9,96.8L200.9,97.6L201,98.3L201,99L201,99.8L201,100.5L201.1,101.3L201.1,102L201.1,102.7L201.2,103.5L201.2,104.2L201.2,104.9L201.3,105.7L201.3,106.4L201.3,107.2L201.4,107.9L201.4,108.6L201.4,109.4L201.5,110.1L201.5,110.9L201.5,111.6L201.6,112.3L201.6,113.1L201.7,113.8L201.7,114.5L201.7,115.3L201.8,116L201.8,116.8L201.9,117.5L201.9,118.2L202,119L202,119.7L202,120.4L202.1,121.2L202.1,121.9L202.2,122.6L202.2,123.4L202.3,124.1L202.3,124.8L202.4,125.6L202.4,126.3L202.5,127L202.5,127.8L202.6,128.5L202.6,129.3L202.7,130L202.8,130.7L202.8,131.5L202.9,132.2L202.9,132.9L203,133.7L203,134.4L203.1,135.1L203.1,135.9L203.2,136.6L203.3,137.3L203.3,138.1L203.4,138.8L203.4,139.5L203.5,140.3L203.6,141L203.6,141.7L203.7,142.5L203.8,143.2L203.8,143.9L203.9,144.6L204,145.4L204,146.1L204.1,146.8L204.2,147.6L204.2,148.3L204.3,149L204.4,149.8L204.4,150.5L204.5,151.2L204.6,152L204.6,152.7L204.7,153.4L204.8,154.2L204.9,154.9L204.9,155.6L205,156.3L205.1,157.1L205.1,157.8L205.2,158.5L205.3,159.3L205.4,160L205.4,160.7L205.5,161.5L205.6,162.2L205.7,162.9L205.7,163.6L205.8,164.4L205.9,165.1L206,165.8L206.1,166.6L206.1,167.3L206.2,168L206.3,168.8L206.4,169.5L206.5,170.2L206.5,170.9L206.6,171.7L206.7,172.4L206.8,173.1L206.9,173.9L207,174.6L207,175.3L207.1,176L207.2,176.8L207.3,177.5L207.4,178.2L207.5,179L207.6,179.7L207.6,180.4L207.7,181.1L207.8,181.9L207.9,182.6L208,183.3L208.1,184L208.2,184.8L208.3,185.5L208.3,186.2L208.4,187L208.5,187.7L208.6,188.4L208.7,189.1L208.8,189.9L208.9,190.6L209,191.3L209.1,192.1L209.2,192.8L209.3,193.5L209.4,194.2L209.4,195L209.5,195.7L209.6,196.4L209.7,197.1L209.8,197.9L209.9,198.6L210,199.3L210.1,200L210.2,200.8L210.3,201.5L210.4,202.2L210.5,203L210.6,203.7L210.7,204.4L210.8,205.1L210.9,205.9L211,206.6L211.1,207.3L211.2,208L211.3,208.8L211.4,209.5L211.5,210.2L211.6,210.9L211.7,211.7L211.8,212.4L211.9,213.1L212,213.8L212.1,214.6L212.2,215.3L212.3,216L212.4,216.7L212.5,217.5L212.6,218.2L212.7,218.9L212.8,219.7L212.9,220.4L213,221.1L213.1,221.8L213.2,222.6L213.3,223.3L213.4,224L213.5,224.7L213.6,225.5L213.7,226.2L213.8,226.9L213.9,227.6L214,228.4L214.1,229.1L214.2,229.8L214.3,230.5L214.4,231.3L214.5,232L214.6,232.7L214.8,233.4L214.9,234.2L215,234.9L215.1,235.6L215.2,236.3L215.3,237.1L215.4,237.8L215.5,238.5L215.6,239.2L215.7,240L215.8,240.7L215.9,241.4L216,242.1L216.1,242.9L216.2,243.6L216.4,244.3L216.5,245L216.6,245.8L216.7,246.5L216.8,247.2L216.9,248L217,248.7L217.1,249.4L217.2,250.1L217.3,250.9L217.4,251.6L217.5,252.3L217.6,253L217.8,253.8L217.9,254.5L218,255.2L218.1,255.9L218.2,256.7L218.3,257.4L218.4,258.1L218.5,258.8L218.6,259.6L218.7,260.3L218.8,261L218.9,261.7L219.1,262.5L219.2,263.2L219.3,263.9L219.4,264.6L219.5,265.4L219.6,266.1L219.7,266.8L219.8,267.5L219.9,268.3L220,269L220.1,269.7L220.2,270.5L220.4,271.2L220.5,271.9L220.6,272.6L220.7,273.4L220.8,274.1L220.9,274.8L221,275.5L221.1,276.3L221.2,277L221.3,277.7L221.4,278.4L221.6,279.2L221.7,279.9L221.8,280.6L221.9,281.4L222,282.1L222.1,282.8L222.2,283.5L222.3,284.3L222.4,285L222.5,285.7L222.6,286.4L222.7,287.2L222.8,287.9L223,288.6L223.1,289.4L223.2,290.1L223.3,290.8L223.4,291.5L223.5,292.3L223.6,293L223.7,293.7L223.8,294.5L223.9,295.2L224,295.9L224.1,296.6L224.2,297.4L224.3,298.1L224.4,298.8L224.6,299.5L224.7,300.3L224.8,301L224.9,301.7L225,302.5L225.1,303.2L225.2,303.9L225.3,304.6L225.4,305.4L225.5,306.1L225.6,306.8L225.7,307.6L225.8,308.3L225.9,309L226,309.7L226.1,310.5L226.3,311.2L226.4,311.9L226.5,312.7L226.6,313.4L226.7,314.1L226.8,314.8L226.9,315.6L227,316.3L227.1,317L227.2,317.8L227.3,318.5L227.4,319.2L227.5,319.9L227.6,320.7L227.8,321.4L227.9,322.1L228,322.9L228.1,323.6L228.2,324.3L228.3,325L228.4,325.8L228.5,326.5L228.6,327.2L228.7,328L228.8,328.7L228.9,329.4L229,330.1L229.2,330.9L229.3,331.6L229.4,332.3L229.5,333.1L229.6,333.8L229.7,334.5L229.8,335.2L229.9,336L230,336.7L230.1,337.4L230.3,338.2L230.4,338.9L230.5,339.6L230.6,340.3L230.7,341.1L230.8,341.8L230.9,342.5L231,343.2L231.2,344L231.3,344.7L231.4,345.4L231.5,346.1L231.6,346.9L231.7,347.6L231.8,348.3L232,349.1L232.1,349.8L232.2,350.5L232.3,351.2L232.4,352L232.5,352.7L232.7,353.4L232.8,354.1L232.9,354.9L233,355.6L233.1,356.3L233.2,357L233.4,357.8L233.5,358.5L233.6,359.2L233.7,359.9L233.8,360.7L234,361.4L234.1,362.1L234.2,362.8L234.3,363.6L234.4,364.3L234.6,365L234.7,365.7L234.8,366.5L234.9,367.2L235.1,367.9L235.2,368.6L235.3,369.3L235.4,370.1L235.6,370.8L235.7,371.5L235.8,372.2L235.9,373L236.1,373.7L236.2,374.4L236.3,375.1L236.5,375.8L236.6,376.6L236.7,377.3L236.8,378L237,378.7L237.1,379.4L237.2,380.2L237.4,380.9L237.5,381.6L237.6,382.3L237.8,383L237.9,383.8L238,384.5L238.2,385.2L238.3,385.9L238.4,386.6L238.6,387.4L238.7,388.1L238.9,388.8L239,389.5L239.1,390.2L239.3,391L239.4,391.7L239.6,392.4L239.7,393.1L239.8,393.8L240,394.5L240.1,395.3L240.3,396L240.4,396.7L240.6,397.4L240.7,398.1L240.9,398.8L241,399.5L241.2,400.3L241.3,401L241.4,401.7L241.6,402.4L241.7,403.1L241.9,403.8L242,404.6L242.2,405.3L242.3,406L242.5,406.7L242.7,407.4L242.8,408.1L243,408.8L243.1,409.5L243.3,410.3L243.4,411L243.6,411.7L243.7,412.4L243.9,413.1L244.1,413.8L244.2,414.5L244.4,415.2L244.5,415.9L244.7,416.7L244.9,417.4L245,418.1L245.2,418.8L245.3,419.5L245.5,420.2L245.7,420.9L245.8,421.6L246,422.3L246.2,423L246.3,423.7L246.5,424.5L246.7,425.2L246.8,425.9L247,426.6L247.2,427.3L247.3,428L247.5,428.7L247.7,429.4L247.8,430.1L248,430.8L248.2,431.5L248.3,432.2L248.5,432.9L248.7,433.6L248.9,434.4L249,435.1L249.2,435.8L249.4,436.5L249.6,437.2L249.7,437.9L249.9,438.6L250.1,439.3L250.3,440L250.4,440.7L250.6,441.4L250.8,442.1L251,442.8L251.2,443.5L251.3,444.2L251.5,444.9L251.7,445.6L251.9,446.3L252.1,447L252.2,447.7L252.4,448.4L252.6,449.1L252.8,449.8L253,450.5L253.2,451.2L253.3,451.9L253.5,452.6L253.7,453.3L253.9,454L254.1,454.7L254.3,455.4L254.5,456.1L254.6,456.8L254.8,457.5L255,458.2L255.2,458.9L255.4,459.6L255.6,460.3L255.8,461L256,461.7L256.2,462.4L256.4,463.1L256.5,463.8L256.7,464.5L256.9,465.2L257.1,465.9L257.3,466.6L257.5,467.3L257.7,468L257.9,468.7L258.1,469.4L258.3,470.1L258.5,470.8L258.7,471.5L258.9,472.2L259.1,472.9L259.3,473.6L259.5,474.3L259.7,475L259.9,475.7L260.1,476.4L260.3,477.1L260.5,477.8L260.7,478.5L260.9,479.2L261.1,479.9L261.3,480.5L261.5,481.2L261.7,481.9L261.9,482.6L262.1,483.3L262.3,484L262.5,484.7L262.7,485.4L262.9,486.1L263.1,486.8L263.3,487.5L263.5,488.2L263.7,488.9L263.9,489.6L264.1,490.3L264.4,491L264.6,491.6L264.8,492.3L265,493L265.2,493.7L265.4,494.4L265.6,495.1L265.8,495.8L266,496.5L266.2,497.2L266.4,497.9L266.7,498.6L266.9,499.3L267.1,499.9L267.3,500.6L267.5,501.3L267.7,502L267.9,502.7L268.1,503.4L268.4,504.1L268.6,504.8L268.8,505.5L269,506.2L269.2,506.9L269.4,507.5L269.7,508.2L269.9,508.9L270.1,509.6L270.3,510.3L270.5,511L270.7,511.7L271,512.4L271.2,513.1L271.4,513.7L271.6,514.4L271.8,515.1L272,515.8L272.3,516.5L272.5,517.2L272.7,517.9L272.9,518.6L273.1,519.2L273.4,519.9L273.6,520.6L273.8,521.3L274,522L274.3,522.7L274.5,523.4L274.7,524.1L274.9,524.7L275.1,525.4L275.4,526.1L275.6,526.8L275.8,527.5L276,528.2L276.3,528.9L276.5,529.5L276.7,530.2L276.9,530.9L277.2,531.6L277.4,532.3L277.6,533L277.8,533.7L278.1,534.3L278.3,535L278.5,535.7L278.8,536.4L279,537.1L279.2,537.8L279.4,538.4L279.7,539.1L279.9,539.8L280.1,540.5L280.4,541.2L280.6,541.9L280.8,542.6L281,543.2L281.3,543.9L281.5,544.6L281.7,545.3L282,546L282.2,546.7L282.4,547.3L282.7,548L282.9,548.7L283.1,549.4L283.4,550.1L283.6,550.7L283.8,551.4L284.1,552.1L284.3,552.8L284.5,553.5L284.8,554.2L285,554.8L285.2,555.5L285.5,556.2L285.7,556.9L285.9,557.6L286.2,558.3L286.4,558.9L286.6,559.6L286.9,560.3L287.1,561L287.3,561.7L287.6,562.3L287.8,563L288,563.7L288.3,564.4L288.5,565.1L288.8,565.7L289,566.4L289.2,567.1L289.5,567.8L289.7,568.5L289.9,569.1L290.2,569.8L290.4,570.5L290.7,571.2L290.9,571.9L291.1,572.5L291.4,573.2L291.6,573.9L291.8,574.6L292.1,575.3L292.3,575.9L292.6,576.6L292.8,577.3L293,578L293.3,578.7L293.5,579.3L293.8,580L294,580.7L294.2,581.4L294.5,582.1L294.7,582.7L295,583.4L295.2,584.1L295.5,584.8L295.7,585.4L295.9,586.1L296.2,586.8L296.4,587.5L296.7,588.2L296.9,588.8L297.1,589.5L297.4,590.2L297.6,590.9L297.9,591.6L298.1,592.2L298.4,592.9L298.6,593.6L298.8,594.3L299.1,594.9L299.3,595.6L299.6,596.3L299.8,597L300.1,597.7L300.3,598.3L300.5,599L300.8,599.7L301,600.4L301.3,601L301.5,601.7L301.8,602.4L302,603.1L302.3,603.7L302.5,604.4L302.7,605.1L303,605.8L303.2,606.5L303.5,607.1L303.7,607.8L304,608.5L304.2,609.2L304.5,609.8L304.7,610.5L305,611.2L305.2,611.9L305.4,612.5L305.7,613.2L305.9,613.9L306.2,614.6L306.4,615.2L306.7,615.9L306.9,616.6L307.2,617.3L307.4,617.9L307.7,618.6L307.9,619.3L308.1,620L308.4,620.7L308.6,621.3L308.9,622L309.1,622.7L309.4,623.4L309.6,624L309.9,624.7L310.1,625.4L310.4,626.1L310.6,626.7L310.9,627.4L311.1,628.1L311.4,628.8L311.6,629.4L311.8,630.1L312.1,630.8L312.3,631.5L312.6,632.1L312.8,632.8L313.1,633.5L313.3,634.2L313.6,634.8L313.8,635.5L314.1,636.2L314.3,636.9L314.6,637.5L314.8,638.2L315.1,638.9L315.3,639.6L315.6,640.2L315.8,640.9L316.1,641.6L316.3,642.3L316.6,642.9L316.8,643.6L317,644.3L317.3,644.9L317.5,645.6L317.8,646.3L318,647L318.3,647.6L318.5,648.3L318.8,649L319,649.7L319.3,650.3L319.5,651L319.8,651.7L320,652.4L320.3,653L320.5,653.7L320.8,654.4L321,655.1L321.3,655.7L321.5,656.4L321.8,657.1L322,657.8L322.3,658.4L322.5,659.1L322.8,659.8L323,660.4L323.3,661.1L323.5,661.8L323.8,662.5L324,663.1L324.3,663.8L324.5,664.5L324.8,665.2L325,665.8L325.3,666.5L325.5,667.2L325.8,667.8L326,668.5L326.3,669.2L326.5,669.9L326.8,670.5L327,671.2L327.3,671.9L327.5,672.6L327.8,673.2L328,673.9L328.3,674.6L328.5,675.2L328.8,675.9L329,676.6L329.3,677.3L329.5,677.9L329.8,678.6L330,679.3L330.3,680L330.5,680.6L330.8,681.3L331,682L331.3,682.6L331.5,683.3L331.8,684L332.1,684.7L332.3,685.3L332.6,686L332.8,686.7L333.1,687.3L333.3,688L333.6,688.7L333.8,689.4L334.1,690L334.3,690.7L334.6,691.4L334.8,692L335.1,692.7L335.3,693.4L335.6,694.1L335.8,694.7L336.1,695.4L336.3,696.1L336.6,696.7L336.8,697.4L337.1,698.1L337.4,698.8L337.6,699.4L337.9,700.1L338.1,700.8L338.4,701.4L338.6,702.1L338.9,702.8L339.1,703.5L339.4,704.1L339.6,704.8L339.9,705.5L340.1,706.1L340.4,706.8L340.6,707.5L340.9,708.2L341.2,708.8L341.4,709.5L341.7,710.2L341.9,710.8L342.2,711.5L342.4,712.2L342.7,712.8L342.9,713.5L343.2,714.2L343.4,714.9L343.7,715.5L343.9,716.2L344.2,716.9L344.5,717.5L344.7,718.2L345,718.9L345.2,719.5L345.5,720.2L345.7,720.9L346,721.6L346.2,722.2L346.5,722.9L346.7,723.6L347,724.2L347.3,724.9L347.5,725.6L347.8,726.2L348,726.9L348.3,727.6L348.5,728.3L348.8,728.9L349,729.6L349.3,730.3L349.5,730.9L349.8,731.6L350.1,732.3L350.3,732.9L350.6,733.6L350.8,734.3L351.1,735L351.3,735.6L351.6,736.3L351.8,737L352.1,737.6L352.4,738.3L352.6,739L352.9,739.6L353.1,740.3L353.4,741L353.6,741.6L353.9,742.3L354.2,743L354.4,743.7L354.7,744.3L354.9,745L355.2,745.7L355.4,746.3L355.7,747L355.9,747.7L356.2,748.3L356.5,749L356.7,749.7L357,750.3L357.2,751L357.5,751.7L357.7,752.3L358,753L358.3,753.7L358.5,754.4L358.8,755L359,755.7L359.3,756.4L359.5,757L359.8,757.7L360.1,758.4L360.3,759L360.6,759.7L360.8,760.4L361.1,761L361.3,761.7L361.6,762.4L361.9,763L362.1,763.7L362.4,764.4L362.6,765L362.9,765.7L363.1,766.4L363.4,767.1L363.7,767.7L363.9,768.4L364.2,769.1L364.4,769.7L364.7,770.4L364.9,771.1L365.2,771.7L365.5,772.4L365.7,773.1L366,773.7L366.2,774.4L366.5,775.1L366.8,775.7L367,776.4L367.3,777.1L367.5,777.7L367.8,778.4L368,779.1L368.3,779.7L368.6,780.4L368.8,781.1L369.1,781.7L369.3,782.4L369.6,783.1L369.9,783.7L370.1,784.4L370.4,785.1L370.6,785.7L370.9,786.4L371.2,787.1L371.4,787.8L371.7,788.4L371.9,789.1L372.2,789.8L372.4,790.4L372.7,791.1L373,791.8L373.2,792.4L373.5,793.1L373.7,793.8L374,794.4L374.3,795.1L374.5,795.8L374.8,796.4L375,797.1L375.3,797.8L375.6,798.4L375.8,799.1L376.1,799.8L376.3,800.4L376.6,801.1L376.9,801.8L377.1,802.4L377.4,803.1L377.6,803.8L377.9,804.4L378.2,805.1L378.4,805.8L378.7,806.4L378.9,807.1L379.2,807.8L379.5,808.4L379.7,809.1L380,809.8L380.2,810.4L380.5,811.1L380.8,811.8L381,812.4L381.3,813.1L381.5,813.8L381.8,814.4L382.1,815.1L382.3,815.8L382.6,816.4L382.8,817.1L383.1,817.8L383.4,818.4L383.6,819.1L383.9,819.8L384.1,820.4L384.4,821.1L384.7,821.8L384.9,822.4L385.2,823.1L385.5,823.8L385.7,824.4L386,825.1L386.2,825.8L386.5,826.4L386.8,827.1L387,827.8L387.3,828.4L387.5,829.1L387.8,829.8L388.1,830.4L388.3,831.1L388.6,831.8L388.9,832.4L389.1,833.1L389.4,833.7L389.6,834.4L389.9,835.1L390.2,835.7L390.4,836.4L390.7,837.1L390.9,837.7L391.2,838.4L391.5,839.1L391.7,839.7L392,840.4L392.3,841.1L392.5,841.7L392.8,842.4L393,843.1L393.3,843.7L393.6,844.4L393.8,845.1L394.1,845.7L394.4,846.4L394.6,847.1L394.9,847.7L395.1,848.4L395.4,849.1L395.7,849.7L395.9,850.4L396.2,851.1L396.5,851.7L396.7,852.4L397,853.1L397.2,853.7L397.5,854.4L397.8,855L398,855.7L398.3,856.4L398.6,857L398.8,857.7L399.1,858.4L399.3,859L399.6,859.7L399.9,860.4L400.1,861L400.4,861.7L400.7,862.4L400.9,863L401.2,863.7L401.5,864.4L401.7,865L402,865.7L402.3,866.3L402.5,867L402.8,867.7L403.1,868.3L403.3,869L403.6,869.7L403.9,870.3L404.1,871L404.4,871.7L404.7,872.3L404.9,873L405.2,873.6L405.5,874.3L405.7,875L406,875.6L406.3,876.3L406.5,876.9L406.8,877.6L407.1,878.3L407.3,878.9L407.6,879.6L407.9,880.3L408.1,880.9L408.4,881.6L408.7,882.2L408.9,882.9L409.2,883.6L409.5,884.2L409.8,884.9L410,885.5L410.3,886.2L410.6,886.9L410.8,887.5L411.1,888.2L411.4,888.8L411.6,889.5L411.9,890.2L412.2,890.8L412.5,891.5L412.7,892.1L413,892.8L413.3,893.5L413.6,894.1L413.8,894.8L414.1,895.4L414.4,896.1L414.7,896.7L414.9,897.4L415.2,898.1L415.5,898.7L415.8,899.4L416,900L416.3,900.7L416.6,901.3L416.9,902L417.1,902.6L417.4,903.3L417.7,904L418,904.6L418.2,905.3L418.5,905.9L418.8,906.6L419.1,907.2L419.4,907.9L419.6,908.5L419.9,909.2L420.2,909.8L420.5,910.5L420.8,911.2L421,911.8L421.3,912.5L421.6,913.1L421.9,913.8L422.2,914.4L422.5,915.1L422.7,915.7L423,916.4L423.3,917L423.6,917.7L423.9,918.3L424.2,919L424.4,919.6L424.7,920.3L425,920.9L425.3,921.6L425.6,922.2L425.9,922.9L426.2,923.5L426.5,924.2L426.7,924.8L427,925.5L427.3,926.1L427.6,926.8L427.9,927.4L428.2,928L428.5,928.7L428.8,929.3L429.1,930L429.4,930.6L429.6,931.3L429.9,931.9L430.2,932.6L430.5,933.2L430.8,933.8L431.1,934.5L431.4,935.1L431.7,935.8L432,936.4L432.3,937.1L432.6,937.7L432.9,938.3L433.2,939L433.5,939.6L433.8,940.3L434.1,940.9L434.4,941.5L434.7,942.2L435,942.8L435.3,943.5L435.6,944.1L435.9,944.7L436.2,945.4L436.5,946L436.8,946.7L437.1,947.3L437.4,947.9L437.7,948.6L438,949.2L438.3,949.8L438.6,950.5L438.9,951.1L439.2,951.7L439.5,952.4L439.8,953L440.1,953.6L440.5,954.3L440.8,954.9L441.1,955.5L441.4,956.2L441.7,956.8L442,957.4L442.3,958.1L442.6,958.7L442.9,959.3L443.3,960L443.6,960.6L443.9,961.2L444.2,961.8L444.5,962.5L444.8,963.1L445.1,963.7L445.5,964.4L445.8,965L446.1,965.6L446.4,966.2L446.7,966.9L447.1,967.5L447.4,968.1L447.7,968.7L448,969.3L448.3,970L448.7,970.7L449,971.3L449.3,971.9L449.6,972.7L450,973.3L450.3,973.8L450.6,974.5L450.9,975.1L451.3,975.6L451.6,976.2L451.9,976.8L452.3,977.6L452.6,978.2L452.9,978.8L453.2,979.7L453.6,980.1L453.9,980.5L454.2,981L454.6,981.9L454.9,982.3L455.2,983.2L455.6,983.5L455.9,983.5L456.2,984.8L456.6,984.9L456.9,985.5L457.3,985.9L457.6,986.9L457.9,987.9L458.3,988.2L458.6,989.3L459,989.4L459.3,990.3L459.6,991.7L460,992L460.3,992.8L460.7,992.5L461,992.8L461.3,994.1L461.7,994.6L462,994.5L462.4,996.1L462.7,996.5L463.1,997.5L463.4,998.3L463.7,999L464.1,999L464.4,999.7L464.8,1000.2L465.1,1000" fill="none" stroke="#2156a8" stroke-width="3.9"/>
<path d="M460.7,992.5L461,992.8L461.3,994.1L461.7,994.6L462,994.5L462.4,996.1L462.7,996.5L463.1,997.5L463.4,998.3L463.7,999L464.1,999L464.4,999.7L464.8,1000.2L465.1,1000L465.5,1000.6L465.8,1002L466.2,1003.3L466.5,1004.5L466.9,1004.3L467.2,1003.6L467.6,1004.1L467.9,1005.9L468.3,1006.1L468.6,1007.2L469,1007.2L469.3,1008.5L469.7,1009L470,1009.1L470.4,1009.2L470.7,1009.5L471.1,1010.2L471.4,1009.1L471.8,1011L472.1,1012.2L472.5,1012.3L472.8,1013.3L473.2,1014.8L473.5,1014.9L473.9,1015.6L474.2,1016L474.6,1016.8L474.9,1017.7L475.3,1017.8L475.7,1018.1L476,1017.5L476.4,1017.5L476.7,1020L477.1,1022L477.4,1021.2L477.8,1020.9L478.1,1022.1L478.5,1024.1L478.8,1025.3L479.2,1025L479.5,1025.4L479.9,1028L480.3,1026.7L480.6,1026.7L481,1028.9L481.3,1028.6L481.7,1029.6L482,1030.2L482.4,1031.1L482.7,1030.1L483.1,1031.5L483.5,1032.3L483.8,1032.1L484.2,1032.6L484.5,1035.4L484.9,1036.3L485.2,1036.4L485.6,1038.4L485.9,1038.2L486.3,1039.8L486.6,1040.1L487,1038.6L487.4,1040L487.7,1039.4L488.1,1039.8L488.4,1038.4L488.8,1040.5L489.1,1041.5L489.5,1042.5L489.8,1043.2L490.2,1041.8L490.5,1043.4L490.9,1044L491.2,1046.7L491.6,1047.7L492,1045.8L492.3,1045.1L492.7,1045.2L493,1047.6L493.4,1051.2L493.7,1048.5L494.1,1051L494.4,1051.4L494.8,1052.9L495.1,1051.5L495.5,1052.3L495.8,1052.9L496.9,1057.4L497.9,1060.6L499,1058.6L500,1059.9L501,1063.3L502.1,1065.8L503.1,1068.3L504.1,1069.2L505.2,1071.2L506.2,1072.8L507.2,1074L508.3,1075.4L509.3,1078.5L510.3,1081.3L511.4,1082.7L512.4,1085.4L513.4,1083.9L514.5,1084.3L515.5,1087.9L516.5,1090.9L517.6,1093.7L518.6,1094.5L519.6,1096.3L520.7,1097.5L521.7,1099L522.7,1099.6L523.8,1101L524.8,1102.3L525.8,1102.3L526.9,1104.6L527.9,1106.7L528.9,1108.5L530,1111.6L531,1109.9L532,1110.7L533.1,1114.7L534.1,1113.5L535.1,1115.6L536.2,1116.2L537.2,1118.7L538.2,1120.1L539.3,1122L540.3,1124.5L541.3,1126.2L542.4,1126.1L543.4,1130L544.4,1130.8L545.5,1133.5L546.5,1136.5L547.5,1134L548.6,1136.6L549.6,1140.1L550.6,1139L551.7,1139.7L552.7,1140.2L553.7,1144L554.8,1145.4L555.8,1146.6L556.8,1150.3L557.9,1151.1L558.9,1151.8L559.9,1150.9L561,1154.8L562,1156.1L563,1157.2L564,1158.9L565.1,1159.8L566.1,1161.9L567.1,1162.7L568.2,1165.7L569.2,1163.9L570.2,1167L571.3,1169.4L572.3,1170.3L573.3,1169.7L574.4,1171.3L575.4,1172.6L576.4,1172.5L577.5,1171.3L578.5,1172.2L579.5,1174.4L580.6,1173.5L581.6,1175.2L582.6,1175L583.7,1175.8L584.7,1178.6L585.7,1178.9L586.8,1180.8L587.8,1181.2L588.8,1181.1L589.9,1182L590.9,1181.5L591.9,1179.9L593,1181.3L594,1181.5L595,1187.1L596.1,1187.7L597.1,1185.6L598.1,1187.7L599.2,1189.7L600.2,1189.6L601.2,1189.5L602.3,1190.6L603.3,1191.6L604.3,1191.9L605.4,1193.9L606.4,1195.3L607.4,1196.2L608.5,1197.9L609.5,1199.3L610.5,1200.8L611.6,1197.2L612.6,1197.4L613.6,1201.8L614.7,1204.2L615.7,1204.2L616.7,1205.3L617.8,1208.9L618.8,1210L619.8,1212L620.9,1209.9L621.9,1211.3L622.9,1210.6L624,1215.8L625,1217L626,1217.7L627.1,1218.8L628.1,1217.7L629.1,1218L630.2,1218.4L631.2,1217.8L632.2,1218.7L633.3,1220.9L634.3,1219.7L635.3,1221.5L636.4,1220.9L637.4,1219.4L638.4,1220.6L639.5,1222.1L640.5,1222.6L641.5,1222.5L642.6,1224.8L643.6,1223.8L644.6,1224.6L645.7,1224.2L646.7,1224.6L647.7,1224.8L648.8,1226.1L649.8,1226.4L650.8,1228.3L651.9,1228.3L652.9,1226.6L653.9,1228L655,1230.2L656,1226.6L657,1226L658.1,1230L659.1,1231.6L660.1,1234.2L661.2,1231.3L662.2,1231.5L663.2,1232.4L664.3,1233.9L665.3,1235.1L666.3,1233L667.4,1233.2L668.4,1232.3L669.4,1232L670.5,1233.6L671.5,1234L672.5,1232.4L673.6,1232.3L674.6,1233.7L675.6,1235L676.7,1234.8L677.7,1235.7L678.7,1236.5L679.8,1237.4L680.8,1237L681.8,1237.9L682.9,1237.6L683.9,1236.9L684.9,1238.6L686,1235.8L687,1236.1L688,1237.2L689,1237.4L690.1,1237.6L691.1,1239.7L692.1,1239.2L693.2,1238.7L694.2,1238.3L695.2,1238.6L696.3,1239.3L697.3,1237.2L698.3,1238.9L699.4,1239.5L700.4,1239.7L701.4,1240.3L702.5,1241.6L703.5,1243.4L704.5,1241.9L705.6,1240.7L706.6,1241.7L707.6,1242.1L708.7,1242L709.7,1241.2L710.7,1241.9L711.8,1241.9L712.8,1243.4L713.8,1241.2L714.9,1241.8L715.9,1242.1L716.9,1241.3L718,1239.5L719,1242.3L720,1241.9L721.1,1242.8L722.1,1242.5L723.1,1243.8L724.2,1243.2L725.2,1242.4L726.2,1242.7L727.3,1242.7L728.3,1241.1L729.3,1241.6L730.4,1242.4L731.4,1243.5L732.4,1244.3L733.5,1244.7L734.5,1245.3L735.5,1246.3L736.6,1245.9L737.6,1244.7L738.6,1245.1L739.7,1249.4L740.7,1249.8L741.7,1245.1L742.8,1247.4L743.8,1248.8L744.8,1249.5L745.9,1249.2L746.9,1248.9L747.9,1252.4L749,1251.4L750,1252.3L751,1252.9L752.1,1251.5L753.1,1252.2L754.1,1251.2L755.2,1250.3L756.2,1250.7L757.2,1250.7L758.3,1250.9L759.3,1250.4L760.3,1249.2L761.4,1250.9L762.4,1250.3L763.4,1250.1L764.5,1251.8L765.5,1251.9L766.5,1251.2L767.6,1252.4L768.6,1253.1L769.6,1253.8L770.7,1252.5L771.7,1251.4L772.7,1252.4L773.8,1253.3L774.8,1255.1L775.8,1254.2L776.9,1252.8L777.9,1253.7L778.9,1255.3L780,1257L781,1258.2L782,1259.2L783.1,1257L784.1,1257.4L785.1,1257.4L786.2,1257.6L787.2,1256.1L788.2,1256.3L789.3,1255.4L790.3,1254.2L791.3,1253.3L792.4,1251.8L793.4,1254.1L794.4,1254.5L795.5,1254.9L796.5,1253.2L797.5,1254L798.6,1251.3L799.6,1251.4L800.6,1251.7L801.7,1249.9L802.7,1251L803.7,1249.1L804.8,1249.7L805.8,1249.6L806.8,1248.8L807.9,1247.6L808.9,1248.1L809.9,1249.5L811,1248.4L812,1248.1L813,1251.2L814,1250.4L815.1,1251.4L816.1,1251.1L817.1,1249.6L818.2,1250.2L819.2,1250.3L820.2,1249.8L821.3,1248.2L822.3,1250L823.3,1248.5L824.4,1250.6L825.4,1249.6L826.4,1248.5L827.5,1247.4L828.5,1251.1L829.5,1249L830.6,1248.1L831.6,1248.2L832.6,1249.6L833.7,1250L834.7,1247.8L835.7,1246.9L836.8,1245.5L837.8,1246.3L838.8,1246.2L839.9,1246.7L840.9,1246.3L841.9,1245.7L843,1248L844,1246.8L845,1245.8L846.1,1245.1L847.1,1247.8L848.1,1251.1L849.2,1250.9L850.2,1250.5L851.2,1251.6L852.3,1248.1L853.3,1248.5L854.3,1246.9L855.4,1251.4L856.4,1250.7L857.4,1251.4L858.5,1251.5L859.5,1251.5L860.5,1254.7L861.6,1255.9L862.6,1253.4L863.6,1254L864.7,1254.4L865.7,1255.4L866.7,1252.9L867.8,1254.8L868.8,1253.3L869.8,1253.9L870.9,1254.3L871.9,1257.6L872.9,1259.7L874,1260.4L875,1259.7L876,1257.5L877.1,1259.2L878.1,1259.9L879.1,1261.2L880.2,1261.8L881.2,1261.7L882.2,1263.5L883.3,1263L884.3,1262.7L885.3,1261.3L886.4,1260.5L887.4,1259.9L888.4,1258.9L889.5,1261.6L890.5,1259.5L891.5,1259.7L892.6,1259.7L893.6,1260.5L894.6,1259.8L895.7,1260.8L896.7,1259.6L897.7,1260.3L898.8,1259.4L899.8,1262.1L900.8,1260.7L901.9,1260.4L902.9,1262.6L903.9,1262L905,1261L906,1264.2L907,1263.6L908.1,1263.6L909.1,1263.4L910.1,1263.5L911.2,1264.7L912.2,1265.2L913.2,1263.2L914.3,1262.8L915.3,1262.9L916.3,1262.4L917.4,1263.2L918.4,1262.3L919.4,1262L920.5,1263.1L921.5,1263.1L922.5,1261.2L923.6,1261L924.6,1260.5L925.6,1258.4L926.7,1259.8L927.7,1260.8L928.7,1261L929.8,1260.2L930.8,1259.4L931.8,1262.2L932.9,1260.5L933.9,1260.5L934.9,1265.1L936,1261.8L937,1261.7L938,1261.7L939,1263.9L940.1,1263.8L941.1,1266.4L942.1,1264L943.2,1265.2L944.2,1265L945.2,1265.4L946.3,1265.5L947.3,1263.5L948.3,1262L949.4,1260.8L950.4,1260.9L951.4,1259.6L952.5,1259.7L953.5,1257L954.5,1253.9L955.6,1256.2L956.6,1257.9L957.6,1258.5L958.7,1255.8L959.7,1256.7L960.7,1256.3L961.8,1257L962.8,1256.6L963.8,1256.1L964.9,1256.3L965.9,1256.3L966.9,1257.2L968,1254.7L969,1253.5L970,1254L971.1,1254.5L972.1,1256.6L973.1,1257.4L974.2,1258.6L975.2,1256.6L976.2,1259L977.3,1258.8L978.3,1259.2L979.3,1260.7L980.4,1262.3L981.4,1258.7L982.4,1257.7L983.5,1260.7L984.5,1256.7L985.5,1258.2L986.6,1259.3L987.6,1257.1L988.6,1258.2L989.7,1257.5L990.7,1257.2L991.7,1257.2L992.8,1256.8L993.8,1257.6L994.8,1257.4L995.9,1255.4L996.9,1257.6L997.9,1255.9L999,1257.5L1000,1255.4L1001,1256.4L1002.1,1256.1L1003.1,1253.1L1004.1,1254.2L1005.2,1254.6L1006.2,1253.8L1007.2,1252.9L1008.3,1255.8L1009.3,1256.5L1010.3,1256.3L1011.4,1255.4L1012.4,1256L1013.4,1254.2L1014.5,1254.9L1015.5,1254.7L1016.5,1254.2L1017.6,1251.4L1018.6,1253.5L1019.6,1256.9L1020.7,1255.5L1021.7,1255.8L1022.7,1255.4L1023.8,1255.8L1024.8,1257.4L1025.8,1257.1L1026.9,1257.1L1027.9,1256.5L1028.9,1254.5L1030,1255.6L1031,1256.5L1032,1254.5L1033.1,1254L1034.1,1254L1035.1,1253.2L1036.2,1253.5L1037.2,1256.5L1038.2,1254.5L1039.3,1255.5L1040.3,1257L1041.3,1256L1042.4,1254.8L1043.4,1257L1044.4,1257.8L1045.5,1253.4L1046.5,1252.3L1047.5,1252.8L1048.6,1253.4L1049.6,1255.8L1050.6,1257L1051.7,1257.6L1052.7,1258.6L1053.7,1258.1L1054.8,1261.5L1055.8,1262.8L1056.8,1262.4L1057.9,1260L1058.9,1260.1L1059.9,1261.1L1061,1262.5L1062,1262.8L1063,1263.3L1064,1263L1065.1,1263.2L1066.1,1261.8L1067.1,1262.3L1068.2,1261.9L1069.2,1261.2L1070.2,1262.3L1071.3,1261.8L1072.3,1260.2L1073.3,1263L1074.4,1261.8L1075.4,1262.7L1076.4,1262.4L1077.5,1263.1L1078.5,1263.2L1079.5,1266.2L1080.6,1263.6L1081.6,1265.2L1082.6,1265.9L1083.7,1263.8L1084.7,1263L1085.7,1265.5L1086.8,1262.8L1087.8,1264.1L1088.8,1263.7L1089.9,1263.7L1090.9,1265.1L1091.9,1261.9L1093,1261.6L1094,1261.9L1095,1260.4L1096.1,1260L1097.1,1261.8L1098.1,1259.6L1099.2,1261.6L1100.2,1259.7L1101.2,1261L1102.3,1262.5L1103.3,1261.8L1104.3,1261.8L1105.4,1260.7L1106.4,1259.9L1107.4,1256.6L1108.5,1259.2L1109.5,1260L1110.5,1261.8L1111.6,1262.4L1112.6,1261.2L1113.6,1262.7L1114.7,1262.9L1115.7,1263.8L1116.7,1262.8L1117.8,1265.3L1118.8,1267.7L1119.8,1268.7L1120.9,1266.8L1121.9,1266.9L1122.9,1268.4L1124,1268.4L1125,1270.2L1126,1267.9L1127.1,1264.8L1128.1,1268.7L1129.1,1267.8L1130.2,1268.3L1131.2,1266.9L1132.2,1266.5L1133.3,1265.3L1134.3,1266.5L1135.3,1267.6L1136.4,1264.7L1137.4,1262.7L1138.4,1264.7L1139.5,1268.8L1140.5,1267L1141.5,1263.4L1142.6,1263.4L1143.6,1263.5L1144.6,1263.9L1145.7,1264.9L1146.7,1263.9L1147.7,1265.5L1148.8,1265L1149.8,1266L1150.8,1265.4L1151.9,1264.6L1152.9,1264L1153.9,1263.4L1155,1265.4L1156,1264.6L1157,1263.5L1158.1,1264.7L1159.1,1263.9L1160.1,1263.6L1161.2,1263.3L1162.2,1263.4L1163.2,1264.6L1164.3,1265.5L1165.3,1266.4L1166.3,1265.3L1167.4,1262.4L1168.4,1261.9L1169.4,1261.9L1170.5,1261.9L1171.5,1262.1L1172.5,1260.7L1173.6,1258.5L1174.6,1260.1L1175.6,1259.5L1176.7,1259.6L1177.7,1259.7L1178.7,1259.4L1179.8,1257.6L1180.8,1257.9L1181.8,1256.3L1182.9,1257.7L1183.9,1257.4L1184.9,1259.7L1186,1260.7L1187,1261L1188,1262.2L1189,1262L1190.1,1261L1191.1,1259.8L1192.1,1259.4L1193.2,1260.2L1194.2,1260.1L1195.2,1261.5L1196.3,1260.1L1197.3,1259.4L1198.3,1260.4L1199.4,1262.7L1200.4,1261.1L1201.4,1265L1202.5,1262.2L1203.5,1262.8L1204.5,1263.3L1205.6,1263.3L1206.6,1263.8L1207.6,1263.8L1208.7,1261L1209.7,1264.3L1210.7,1265.1L1211.8,1262.9L1212.8,1263.4L1213.8,1263.5L1214.9,1263.8L1215.9,1265.2L1216.9,1265.9L1218,1266L1219,1266.6L1220,1265.7L1221.1,1265.2L1222.1,1263.7L1223.1,1265.4L1224.2,1269.1L1225.2,1267.8L1226.2,1267.2L1227.3,1266.4L1228.3,1267.5L1229.3,1264.2L1230.4,1265.2L1231.4,1266.1L1232.4,1266.2L1233.5,1265.9L1234.5,1267.9L1235.5,1266.4L1236.6,1264.8L1237.6,1265.8L1238.6,1268.2L1239.7,1266.6L1240.7,1267.8L1241.7,1264.6L1242.8,1266.2L1243.8,1263.8L1244.8,1262.4L1245.9,1263.8L1246.9,1264.4L1247.9,1262.8L1249,1263.3L1250,1262.2L1251,1263.5L1252.1,1263.2L1253.1,1262.5L1254.1,1260.1L1255.2,1257.4L1256.2,1259.8L1257.2,1260.7L1258.3,1260.9L1259.3,1259.6L1260.3,1259.7L1261.4,1260.5L1262.4,1260.9L1263.4,1261.7L1264.5,1261.5L1265.5,1261.5L1266.5,1262.7L1267.6,1263.1L1268.6,1263.3L1269.6,1261.3L1270.7,1262L1271.7,1263.9L1272.7,1262.5L1273.8,1261.8L1274.8,1264L1275.8,1263.8L1276.9,1265.3L1277.9,1264.1L1278.9,1264.4L1280,1262.4L1281,1264.5L1282,1265.9L1283.1,1266.3L1284.1,1265L1285.1,1264.1L1286.2,1263.5L1287.2,1266.2L1288.2,1264L1289.3,1265.7L1290.3,1265.4L1291.3,1266.7L1292.4,1266.5L1293.4,1264.9L1294.4,1264.7L1295.5,1264.6L1296.5,1264.2L1297.5,1265.5L1298.6,1267L1299.6,1267.3L1300.6,1265.6L1301.7,1265.2L1302.7,1266.6L1303.7,1267.5L1304.8,1265.4L1305.8,1262.3L1306.8,1263.6L1307.9,1260.5L1308.9,1262.6L1309.9,1263.9L1311,1262L1312,1265L1313,1262.4L1314,1264L1315.1,1263.5L1316.1,1265L1317.1,1265.7L1318.2,1264.2L1319.2,1263.2L1320.2,1265.5L1321.3,1263.1L1322.3,1263.6L1323.3,1262.5L1324.4,1261.9L1325.4,1260.6L1326.4,1261.5L1327.5,1261.1L1328.5,1264L1329.5,1261.8L1330.6,1263L1331.6,1261.5L1332.6,1261.5L1333.7,1258.9L1334.7,1260L1335.7,1259.4L1336.8,1260.9L1337.8,1260.8L1338.8,1260.4L1339.9,1259.3L1340.9,1260L1341.9,1257.9L1343,1256.7L1344,1256L1345,1255.5L1346.1,1254.9L1347.1,1256L1348.1,1256.7L1349.2,1257.7L1350.2,1256.8L1351.2,1258.5L1352.3,1256.9L1353.3,1256.1L1354.3,1253.3L1355.4,1253.8L1356.4,1253.5L1357.4,1256.4L1358.5,1257L1359.5,1257.5L1360.5,1256.9L1361.6,1259.7L1362.6,1260.1L1363.6,1258L1364.7,1256.3L1365.7,1255.7L1366.7,1253.5L1367.8,1255.3L1368.8,1254.6L1369.8,1255.7L1370.9,1256L1371.9,1256.5L1372.9,1256.7L1374,1257.2L1375,1256.4L1376,1255.3L1377.1,1255.4L1378.1,1257.4L1379.1,1256.5L1380.2,1257.1L1381.2,1256.1L1382.2,1257.4L1383.3,1257.9L1384.3,1257.4L1385.3,1256.9L1386.4,1256.7L1387.4,1258.8L1388.4,1257.9L1389.5,1258.5L1390.5,1257.9L1391.5,1258.2L1392.6,1256L1393.6,1254.3L1394.6,1253.6L1395.7,1254.4L1396.7,1255.5L1397.7,1254.7L1398.8,1253.2L1399.8,1256.6L1400.8,1254L1401.9,1252.7L1402.9,1253.9L1403.9,1253L1405,1251.2L1406,1252.8L1407,1252L1408.1,1251.4L1409.1,1252.8L1410.1,1253.4L1411.2,1252.6L1412.2,1250.4L1413.2,1250.3L1414.3,1248.2L1415.3,1247.6L1416.3,1249.1L1417.4,1251.5L1418.4,1250.7L1419.4,1249.9L1420.5,1249.2L1421.5,1247.4L1422.5,1246.2L1423.6,1244.6L1424.6,1248.1L1425.6,1245.1L1426.7,1243.8L1427.7,1244.9L1428.7,1247.4L1429.8,1244.8L1430.8,1244.4L1431.8,1243.1L1432.9,1244.8L1433.9,1244.7L1434.9,1243.8L1436,1242.6L1437,1243L1438,1244.1L1439,1242.2L1440.1,1240.3L1441.1,1240.7L1442.1,1241.5L1443.2,1242.8L1444.2,1244.7L1445.2,1242.7L1446.3,1243.6L1447.3,1245.7L1448.3,1245.6L1449.4,1248.2L1450.4,1248.1L1451.4,1247.6L1452.5,1246.8L1453.5,1246.7L1454.5,1247.1L1455.6,1248.3L1456.6,1251.8L1457.6,1252L1458.7,1253.3L1459.7,1253.6L1460.7,1254.3L1461.8,1253.9L1462.8,1254.9L1463.8,1251.4L1464.9,1252L1465.9,1252.2L1466.9,1251.1L1468,1254.1L1469,1254.5L1470,1255.2L1471.1,1254L1472.1,1254.7L1473.1,1253.7L1474.2,1256.2L1475.2,1257.3L1476.2,1257.3L1477.3,1257L1478.3,1257.6L1479.3,1257.7L1480.4,1257.7L1481.4,1257.6L1482.4,1260.1L1483.5,1259.5L1484.5,1258.7L1485.5,1258.1L1486.6,1259L1487.6,1259.9L1488.6,1259.9L1489.7,1261.3L1490.7,1262.3L1491.7,1257.9L1492.8,1258.1L1493.8,1259.3L1494.8,1261L1495.9,1259.1L1496.9,1258.7L1497.9,1263L1499,1263.3L1500,1260.5L1501,1260.7L1502.1,1261.9L1503.1,1260.2L1504.1,1260.9L1505.2,1258.5L1506.2,1258.5L1507.2,1261.3L1508.3,1258.3L1509.3,1257.3L1510.3,1259.3L1511.4,1260.8L1512.4,1260L1513.4,1259.9L1514.5,1257.6L1515.5,1256.5L1516.5,1255.6L1517.6,1257.2L1518.6,1258.1L1519.6,1255.7L1520.7,1257.3L1521.7,1256.2L1522.7,1255.9L1523.8,1255.5L1524.8,1255.1L1525.8,1255.4L1526.9,1253.6L1527.9,1253.8L1528.9,1256L1530,1256.2L1531,1253.9L1532,1254.7L1533.1,1255.7L1534.1,1255.3L1535.1,1254.3L1536.2,1253.6L1537.2,1250.4L1538.2,1250.9L1539.3,1250.9L1540.3,1251.1L1541.3,1251.8L1542.4,1255.7L1543.4,1254.6L1544.4,1256.3L1545.5,1255.4L1546.5,1256.1L1547.5,1256L1548.6,1255.7L1549.6,1256L1550.6,1254.1L1551.7,1256.3L1552.7,1256.5L1553.7,1257.4L1554.8,1257.2L1555.8,1257.8L1556.8,1257.6L1557.9,1258L1558.9,1260L1559.9,1260.8L1561,1260.6L1562,1259.3L1563,1260.9L1564,1261.6L1565.1,1261L1566.1,1259.7L1567.1,1262.5L1568.2,1261.4L1569.2,1262.2L1570.2,1260.8L1571.3,1260.9L1572.3,1260.5L1573.3,1260.7L1574.4,1259.7L1575.4,1260.8L1576.4,1259.1L1577.5,1260.5L1578.5,1259.4L1579.5,1257.7L1580.6,1259.6L1581.6,1259.8L1582.6,1260.1L1583.7,1261.2L1584.7,1261.6L1585.7,1261.2L1586.8,1259.9L1587.8,1261.1L1588.8,1261.6L1589.9,1262L1590.9,1258.4L1591.9,1260.5L1593,1258.6L1594,1256.6L1595,1258.1L1596.1,1257L1597.1,1256.9L1598.1,1255.5L1599.2,1256.2L1600.2,1256.2L1601.2,1255.1L1602.3,1254.6L1603.3,1253.7L1604.3,1254.2L1605.4,1253.4L1606.4,1254.5L1607.4,1257.9L1608.5,1258.7L1609.5,1258.7L1610.5,1258.2L1611.6,1259.4L1612.6,1258.4L1613.6,1256.5L1614.7,1255.5L1615.7,1256.6L1616.7,1256.1L1617.8,1256.7L1618.8,1255.7L1619.8,1258.4L1620.9,1260.2L1621.9,1260.1L1622.9,1259.2L1624,1259.5L1625,1258.4L1626,1256.6L1627.1,1258.9L1628.1,1260.4L1629.1,1258.4L1630.2,1261L1631.2,1259.4L1632.2,1262.8L1633.3,1263.3L1634.3,1262.7L1635.3,1261.3L1636.4,1261L1637.4,1259L1638.4,1260.4L1639.5,1260.3L1640.5,1260.6L1641.5,1259.5L1642.6,1257.5L1643.6,1259.4L1644.6,1259.1L1645.7,1261.6L1646.7,1261.2L1647.7,1261.4L1648.8,1258.5L1649.8,1260.7L1650.8,1260.5L1651.9,1258.9L1652.9,1256.3L1653.9,1255.9L1655,1253.4L1656,1257.2L1657,1258.2L1658.1,1259.4L1659.1,1258.8L1660.1,1260.1L1661.2,1259.8L1662.2,1259.3L1663.2,1257.6L1664.3,1257.9L1665.3,1259.2L1666.3,1257.1L1667.4,1258.7L1668.4,1257.9L1669.4,1255.9L1670.5,1257L1671.5,1258.9L1672.5,1260.8L1673.6,1260L1674.6,1260.6L1675.6,1259L1676.7,1257.1L1677.7,1256L1678.7,1254.9L1679.8,1256.8L1680.8,1258.8L1681.8,1256.8L1682.9,1254.6L1683.9,1255.5L1684.9,1255.2L1686,1254.9L1687,1256.7L1688,1254.5L1689,1254.8L1690.1,1253.8L1691.1,1254.5L1692.1,1254" fill="none" stroke="#2156a8" stroke-width="5.0"/>
<path d="M0,-12.6L3.6,-6.3L10.9,-6.3L7.3,0L10.9,6.3L3.6,6.3L0,12.6L-3.6,6.3L-10.9,6.3L-7.3,0L-10.9,-6.3L-3.6,-6.3Z" transform="translate(200.4,75.3)" fill="none" stroke="#2156a8" stroke-width="4.0" stroke-miterlimit="10" stroke-linejoin="miter"/>
<path d="M0,-12.6L3.6,-6.3L10.9,-6.3L7.3,0L10.9,6.3L3.6,6.3L0,12.6L-3.6,6.3L-10.9,6.3L-7.3,0L-10.9,-6.3L-3.6,-6.3Z" transform="translate(306.2,614)" fill="none" stroke="#2156a8" stroke-width="4.0" stroke-miterlimit="10" stroke-linejoin="miter"/>
<path d="M0,-12.6L3.6,-6.3L10.9,-6.3L7.3,0L10.9,6.3L3.6,6.3L0,12.6L-3.6,6.3L-10.9,6.3L-7.3,0L-10.9,-6.3L-3.6,-6.3Z" transform="translate(413.6,893)" fill="none" stroke="#2156a8" stroke-width="4.0" stroke-miterlimit="10" stroke-linejoin="miter"/>
<path d="M0,-12.6L3.6,-6.3L10.9,-6.3L7.3,0L10.9,6.3L3.6,6.3L0,12.6L-3.6,6.3L-10.9,6.3L-7.3,0L-10.9,-6.3L-3.6,-6.3Z" transform="translate(519.4,1096)" fill="none" stroke="#2156a8" stroke-width="4.0" stroke-miterlimit="10" stroke-linejoin="miter"/>
<path d="M0,-12.6L3.6,-6.3L10.9,-6.3L7.3,0L10.9,6.3L3.6,6.3L0,12.6L-3.6,6.3L-10.9,6.3L-7.3,0L-10.9,-6.3L-3.6,-6.3Z" transform="translate(626.7,1218.8)" fill="none" stroke="#2156a8" stroke-width="4.0" stroke-miterlimit="10" stroke-linejoin="miter"/>
<path d="M0,-12.6L3.6,-6.3L10.9,-6.3L7.3,0L10.9,6.3L3.6,6.3L0,12.6L-3.6,6.3L-10.9,6.3L-7.3,0L-10.9,-6.3L-3.6,-6.3Z" transform="translate(732.7,1244.5)" fill="none" stroke="#2156a8" stroke-width="4.0" stroke-miterlimit="10" stroke-linejoin="miter"/>
<path d="M0,-12.6L3.6,-6.3L10.9,-6.3L7.3,0L10.9,6.3L3.6,6.3L0,12.6L-3.6,6.3L-10.9,6.3L-7.3,0L-10.9,-6.3L-3.6,-6.3Z" transform="translate(838.3,1245.9)" fill="none" stroke="#2156a8" stroke-width="4.0" stroke-miterlimit="10" stroke-linejoin="miter"/>
<path d="M0,-12.6L3.6,-6.3L10.9,-6.3L7.3,0L10.9,6.3L3.6,6.3L0,12.6L-3.6,6.3L-10.9,6.3L-7.3,0L-10.9,-6.3L-3.6,-6.3Z" transform="translate(946.3,1265.5)" fill="none" stroke="#2156a8" stroke-width="4.0" stroke-miterlimit="10" stroke-linejoin="miter"/>
<path d="M0,-12.6L3.6,-6.3L10.9,-6.3L7.3,0L10.9,6.3L3.6,6.3L0,12.6L-3.6,6.3L-10.9,6.3L-7.3,0L-10.9,-6.3L-3.6,-6.3Z" transform="translate(1051.6,1257.5)" fill="none" stroke="#2156a8" stroke-width="4.0" stroke-miterlimit="10" stroke-linejoin="miter"/>
<path d="M0,-12.6L3.6,-6.3L10.9,-6.3L7.3,0L10.9,6.3L3.6,6.3L0,12.6L-3.6,6.3L-10.9,6.3L-7.3,0L-10.9,-6.3L-3.6,-6.3Z" transform="translate(1159.5,1263.6)" fill="none" stroke="#2156a8" stroke-width="4.0" stroke-miterlimit="10" stroke-linejoin="miter"/>
<path d="M0,-12.6L3.6,-6.3L10.9,-6.3L7.3,0L10.9,6.3L3.6,6.3L0,12.6L-3.6,6.3L-10.9,6.3L-7.3,0L-10.9,-6.3L-3.6,-6.3Z" transform="translate(1265.4,1261.4)" fill="none" stroke="#2156a8" stroke-width="4.0" stroke-miterlimit="10" stroke-linejoin="miter"/>
<path d="M0,-12.6L3.6,-6.3L10.9,-6.3L7.3,0L10.9,6.3L3.6,6.3L0,12.6L-3.6,6.3L-10.9,6.3L-7.3,0L-10.9,-6.3L-3.6,-6.3Z" transform="translate(1370.9,1256)" fill="none" stroke="#2156a8" stroke-width="4.0" stroke-miterlimit="10" stroke-linejoin="miter"/>
<path d="M0,-12.6L3.6,-6.3L10.9,-6.3L7.3,0L10.9,6.3L3.6,6.3L0,12.6L-3.6,6.3L-10.9,6.3L-7.3,0L-10.9,-6.3L-3.6,-6.3Z" transform="translate(1478.7,1257.5)" fill="none" stroke="#2156a8" stroke-width="4.0" stroke-miterlimit="10" stroke-linejoin="miter"/>
<path d="M0,-12.6L3.6,-6.3L10.9,-6.3L7.3,0L10.9,6.3L3.6,6.3L0,12.6L-3.6,6.3L-10.9,6.3L-7.3,0L-10.9,-6.3L-3.6,-6.3Z" transform="translate(1584.4,1261.7)" fill="none" stroke="#2156a8" stroke-width="4.0" stroke-miterlimit="10" stroke-linejoin="miter"/>
<path d="M0,-12.6L3.6,-6.3L10.9,-6.3L7.3,0L10.9,6.3L3.6,6.3L0,12.6L-3.6,6.3L-10.9,6.3L-7.3,0L-10.9,-6.3L-3.6,-6.3Z" transform="translate(1692.1,1254)" fill="none" stroke="#2156a8" stroke-width="4.0" stroke-miterlimit="10" stroke-linejoin="miter"/>
<path d="M198.9,42L200.4,70L200.5,70.8L200.6,71.5L200.6,72.3L200.7,73.1L200.8,73.9L200.8,74.6L200.9,75.4L201,76.2L201,77L201.1,77.7L201.2,78.5L201.2,79.3L201.3,80.1L201.4,80.8L201.4,81.6L201.5,82.4L201.6,83.2L201.6,83.9L201.7,84.7L201.7,85.5L201.8,86.3L201.9,87L201.9,87.8L202,88.6L202,89.4L202.1,90.1L202.2,90.9L202.2,91.7L202.3,92.5L202.3,93.2L202.4,94L202.5,94.8L202.5,95.6L202.6,96.3L202.6,97.1L202.7,97.9L202.8,98.7L202.8,99.4L202.9,100.2L202.9,101L203,101.8L203,102.5L203.1,103.3L203.2,104.1L203.2,104.9L203.3,105.7L203.3,106.4L203.4,107.2L203.4,108L203.5,108.8L203.6,109.5L203.6,110.3L203.7,111.1L203.7,111.9L203.8,112.6L203.8,113.4L203.9,114.2L203.9,115L204,115.7L204.1,116.5L204.1,117.3L204.2,118.1L204.2,118.9L204.3,119.6L204.3,120.4L204.4,121.2L204.4,122L204.5,122.7L204.6,123.5L204.6,124.3L204.7,125.1L204.7,125.8L204.8,126.6L204.8,127.4L204.9,128.2L204.9,128.9L205,129.7L205,130.5L205.1,131.3L205.2,132.1L205.2,132.8L205.3,133.6L205.3,134.4L205.4,135.2L205.4,135.9L205.5,136.7L205.5,137.5L205.6,138.3L205.7,139L205.7,139.8L205.8,140.6L205.8,141.4L205.9,142.1L205.9,142.9L206,143.7L206.1,144.5L206.1,145.2L206.2,146L206.2,146.8L206.3,147.6L206.3,148.4L206.4,149.1L206.5,149.9L206.5,150.7L206.6,151.5L206.6,152.2L206.7,153L206.8,153.8L206.8,154.6L206.9,155.3L206.9,156.1L207,156.9L207.1,157.7L207.1,158.4L207.2,159.2L207.2,160L207.3,160.8L207.4,161.5L207.4,162.3L207.5,163.1L207.6,163.9L207.6,164.6L207.7,165.4L207.7,166.2L207.8,167L207.9,167.7L207.9,168.5L208,169.3L208.1,170.1L208.1,170.8L208.2,171.6L208.3,172.4L208.3,173.2L208.4,173.9L208.5,174.7L208.5,175.5L208.6,176.3L208.7,177L208.7,177.8L208.8,178.6L208.9,179.4L209,180.1L209,180.9L209.1,181.7L209.2,182.4L209.2,183.2L209.3,184L209.4,184.8L209.5,185.5L209.5,186.3L209.6,187.1L209.7,187.9L209.8,188.6L209.8,189.4L209.9,190.2L210,190.9L210.1,191.7L210.1,192.5L210.2,193.3L210.3,194L210.4,194.8L210.5,195.6L210.5,196.4L210.6,197.1L210.7,197.9L210.8,198.7L210.9,199.4L211,200.2L211,201L211.1,201.8L211.2,202.5L211.3,203.3L211.4,204.1L211.5,204.8L211.6,205.6L211.7,206.4L211.7,207.1L211.8,207.9L211.9,208.7L212,209.5L212.1,210.2L212.2,211L212.3,211.8L212.4,212.5L212.5,213.3L212.6,214.1L212.7,214.8L212.8,215.6L212.9,216.4L213,217.1L213.1,217.9L213.2,218.7L213.3,219.4L213.4,220.2L213.5,221L213.6,221.8L213.7,222.5L213.8,223.3L213.9,224.1L214,224.8L214.1,225.6L214.2,226.4L214.3,227.1L214.4,227.9L214.5,228.7L214.6,229.4L214.7,230.2L214.8,231L214.9,231.7L215,232.5L215.2,233.3L215.3,234L215.4,234.8L215.5,235.6L215.6,236.3L215.7,237.1L215.8,237.9L215.9,238.6L216.1,239.4L216.2,240.1L216.3,240.9L216.4,241.7L216.5,242.4L216.6,243.2L216.8,244L216.9,244.7L217,245.5L217.1,246.3L217.2,247L217.3,247.8L217.5,248.6L217.6,249.3L217.7,250.1L217.8,250.9L218,251.6L218.1,252.4L218.2,253.1L218.3,253.9L218.4,254.7L218.6,255.4L218.7,256.2L218.8,257L218.9,257.7L219.1,258.5L219.2,259.3L219.3,260L219.4,260.8L219.6,261.5L219.7,262.3L219.8,263.1L219.9,263.8L220.1,264.6L220.2,265.4L220.3,266.1L220.4,266.9L220.6,267.6L220.7,268.4L220.8,269.2L221,269.9L221.1,270.7L221.2,271.5L221.3,272.2L221.5,273L221.6,273.8L221.7,274.5L221.9,275.3L222,276L222.1,276.8L222.3,277.6L222.4,278.3L222.5,279.1L222.6,279.9L222.8,280.6L222.9,281.4L223,282.1L223.2,282.9L223.3,283.7L223.4,284.4L223.6,285.2L223.7,286L223.8,286.7L224,287.5L224.1,288.2L224.2,289L224.4,289.8L224.5,290.5L224.6,291.3L224.8,292.1L224.9,292.8L225,293.6L225.1,294.3L225.3,295.1L225.4,295.9L225.5,296.6L225.7,297.4L225.8,298.2L225.9,298.9L226.1,299.7L226.2,300.4L226.3,301.2L226.5,302L226.6,302.7L226.7,303.5L226.9,304.3L227,305L227.1,305.8L227.3,306.5L227.4,307.3L227.5,308.1L227.7,308.8L227.8,309.6L227.9,310.4L228.1,311.1L228.2,311.9L228.3,312.6L228.4,313.4L228.6,314.2L228.7,314.9L228.8,315.7L229,316.5L229.1,317.2L229.2,318L229.4,318.7L229.5,319.5L229.6,320.3L229.8,321L229.9,321.8L230,322.6L230.2,323.3L230.3,324.1L230.4,324.8L230.6,325.6L230.7,326.4L230.8,327.1L231,327.9L231.1,328.7L231.2,329.4L231.4,330.2L231.5,330.9L231.6,331.7L231.8,332.5L231.9,333.2L232,334L232.2,334.8L232.3,335.5L232.4,336.3L232.6,337L232.7,337.8L232.8,338.6L233,339.3L233.1,340.1L233.2,340.8L233.4,341.6L233.5,342.4L233.6,343.1L233.8,343.9L233.9,344.7L234.1,345.4L234.2,346.2L234.3,346.9L234.5,347.7L234.6,348.5L234.7,349.2L234.9,350L235,350.7L235.1,351.5L235.3,352.3L235.4,353L235.6,353.8L235.7,354.6L235.8,355.3L236,356.1L236.1,356.8L236.3,357.6L236.4,358.4L236.5,359.1L236.7,359.9L236.8,360.6L236.9,361.4L237.1,362.2L237.2,362.9L237.4,363.7L237.5,364.4L237.7,365.2L237.8,366L237.9,366.7L238.1,367.5L238.2,368.2L238.4,369L238.5,369.8L238.6,370.5L238.8,371.3L238.9,372L239.1,372.8L239.2,373.5L239.4,374.3L239.5,375.1L239.7,375.8L239.8,376.6L239.9,377.3L240.1,378.1L240.2,378.9L240.4,379.6L240.5,380.4L240.7,381.1L240.8,381.9L241,382.6L241.1,383.4L241.3,384.2L241.4,384.9L241.6,385.7L241.7,386.4L241.9,387.2L242,387.9L242.2,388.7L242.3,389.5L242.5,390.2L242.6,391L242.8,391.7L242.9,392.5L243.1,393.2L243.2,394L243.4,394.7L243.5,395.5L243.7,396.3L243.8,397L244,397.8L244.1,398.5L244.3,399.3L244.4,400L244.6,400.8L244.8,401.5L244.9,402.3L245.1,403.1L245.2,403.8L245.4,404.6L245.5,405.3L245.7,406.1L245.9,406.8L246,407.6L246.2,408.3L246.3,409.1L246.5,409.8L246.7,410.6L246.8,411.3L247,412.1L247.1,412.8L247.3,413.6L247.5,414.3L247.6,415.1L247.8,415.9L248,416.6L248.1,417.4L248.3,418.1L248.5,418.9L248.6,419.6L248.8,420.4L249,421.1L249.1,421.9L249.3,422.6L249.5,423.4L249.6,424.1L249.8,424.9L250,425.6L250.2,426.4L250.3,427.1L250.5,427.9L250.7,428.6L250.8,429.4L251,430.1L251.2,430.8L251.4,431.6L251.5,432.3L251.7,433.1L251.9,433.8L252.1,434.6L252.2,435.3L252.4,436.1L252.6,436.8L252.8,437.6L253,438.3L253.1,439.1L253.3,439.8L253.5,440.6L253.7,441.3L253.9,442L254,442.8L254.2,443.5L254.4,444.3L254.6,445L254.8,445.8L255,446.5L255.2,447.3L255.3,448L255.5,448.7L255.7,449.5L255.9,450.2L256.1,451L256.3,451.7L256.5,452.5L256.7,453.2L256.9,453.9L257,454.7L257.2,455.4L257.4,456.2L257.6,456.9L257.8,457.7L258,458.4L258.2,459.1L258.4,459.9L258.6,460.6L258.8,461.4L259,462.1L259.2,462.8L259.4,463.6L259.6,464.3L259.8,465.1L260,465.8L260.2,466.5L260.4,467.3L260.6,468L260.8,468.7L261,469.5L261.2,470.2L261.4,471L261.6,471.7L261.8,472.4L262,473.2L262.2,473.9L262.4,474.6L262.6,475.4L262.9,476.1L263.1,476.8L263.3,477.6L263.5,478.3L263.7,479.1L263.9,479.8L264.1,480.5L264.3,481.3L264.5,482L264.7,482.7L265,483.5L265.2,484.2L265.4,484.9L265.6,485.7L265.8,486.4L266,487.1L266.2,487.9L266.4,488.6L266.7,489.3L266.9,490.1L267.1,490.8L267.3,491.5L267.5,492.3L267.7,493L268,493.7L268.2,494.5L268.4,495.2L268.6,495.9L268.8,496.7L269.1,497.4L269.3,498.1L269.5,498.9L269.7,499.6L269.9,500.3L270.2,501L270.4,501.8L270.6,502.5L270.8,503.2L271.1,504L271.3,504.7L271.5,505.4L271.7,506.2L272,506.9L272.2,507.6L272.4,508.3L272.6,509.1L272.9,509.8L273.1,510.5L273.3,511.3L273.5,512L273.8,512.7L274,513.5L274.2,514.2L274.4,514.9L274.7,515.6L274.9,516.4L275.1,517.1L275.4,517.8L275.6,518.6L275.8,519.3L276,520L276.3,520.7L276.5,521.5L276.7,522.2L277,522.9L277.2,523.6L277.4,524.4L277.7,525.1L277.9,525.8L278.1,526.6L278.4,527.3L278.6,528L278.8,528.7L279.1,529.5L279.3,530.2L279.5,530.9L279.8,531.6L280,532.4L280.2,533.1L280.5,533.8L280.7,534.5L280.9,535.3L281.2,536L281.4,536.7L281.6,537.4L281.9,538.2L282.1,538.9L282.3,539.6L282.6,540.4L282.8,541.1L283,541.8L283.3,542.5L283.5,543.3L283.8,544L284,544.7L284.2,545.4L284.5,546.2L284.7,546.9L284.9,547.6L285.2,548.3L285.4,549.1L285.7,549.8L285.9,550.5L286.1,551.2L286.4,551.9L286.6,552.7L286.8,553.4L287.1,554.1L287.3,554.8L287.6,555.6L287.8,556.3L288,557L288.3,557.7L288.5,558.5L288.8,559.2L289,559.9L289.2,560.6L289.5,561.4L289.7,562.1L290,562.8L290.2,563.5L290.4,564.3L290.7,565L290.9,565.7L291.1,566.4L291.4,567.2L291.6,567.9L291.9,568.6L292.1,569.3L292.3,570L292.6,570.8L292.8,571.5L293.1,572.2L293.3,572.9L293.5,573.7L293.8,574.4L294,575.1L294.3,575.8L294.5,576.6L294.7,577.3L295,578L295.2,578.7L295.5,579.5L295.7,580.2L295.9,580.9L296.2,581.6L296.4,582.3L296.7,583.1L296.9,583.8L297.1,584.5L297.4,585.2L297.6,586L297.9,586.7L298.1,587.4L298.3,588.1L298.6,588.9L298.8,589.6L299,590.3L299.3,591L299.5,591.8L299.8,592.5L300,593.2L300.2,593.9L300.5,594.6L300.7,595.4L301,596.1L301.2,596.8L301.4,597.5L301.7,598.3L301.9,599L302.1,599.7L302.4,600.4L302.6,601.2L302.9,601.9L303.1,602.6L303.3,603.3L303.6,604.1L303.8,604.8L304.1,605.5L304.3,606.2L304.5,606.9L304.8,607.7L305,608.4L305.2,609.1L305.5,609.8L305.7,610.6L306,611.3L306.2,612L306.4,612.7L306.7,613.5L306.9,614.2L307.1,614.9L307.4,615.6L307.6,616.4L307.9,617.1L308.1,617.8L308.3,618.5L308.6,619.2L308.8,620L309,620.7L309.3,621.4L309.5,622.1L309.8,622.9L310,623.6L310.2,624.3L310.5,625L310.7,625.8L310.9,626.5L311.2,627.2L311.4,627.9L311.7,628.6L311.9,629.4L312.1,630.1L312.4,630.8L312.6,631.5L312.9,632.3L313.1,633L313.3,633.7L313.6,634.4L313.8,635.2L314,635.9L314.3,636.6L314.5,637.3L314.8,638L315,638.8L315.2,639.5L315.5,640.2L315.7,640.9L315.9,641.7L316.2,642.4L316.4,643.1L316.7,643.8L316.9,644.6L317.1,645.3L317.4,646L317.6,646.7L317.8,647.4L318.1,648.2L318.3,648.9L318.6,649.6L318.8,650.3L319,651.1L319.3,651.8L319.5,652.5L319.8,653.2L320,653.9L320.2,654.7L320.5,655.4L320.7,656.1L320.9,656.8L321.2,657.6L321.4,658.3L321.7,659L321.9,659.7L322.1,660.5L322.4,661.2L322.6,661.9L322.9,662.6L323.1,663.3L323.3,664.1L323.6,664.8L323.8,665.5L324,666.2L324.3,667L324.5,667.7L324.8,668.4L325,669.1L325.2,669.8L325.5,670.6L325.7,671.3L326,672L326.2,672.7L326.4,673.5L326.7,674.2L326.9,674.9L327.2,675.6L327.4,676.3L327.6,677.1L327.9,677.8L328.1,678.5L328.4,679.2L328.6,680L328.8,680.7L329.1,681.4L329.3,682.1L329.6,682.8L329.8,683.6L330.1,684.3L330.3,685L330.5,685.7L330.8,686.4L331,687.2L331.3,687.9L331.5,688.6L331.7,689.3L332,690.1L332.2,690.8L332.5,691.5L332.7,692.2L332.9,692.9L333.2,693.7L333.4,694.4L333.7,695.1L333.9,695.8L334.2,696.5L334.4,697.3L334.6,698L334.9,698.7L335.1,699.4L335.4,700.1L335.6,700.9L335.9,701.6L336.1,702.3L336.3,703L336.6,703.8L336.8,704.5L337.1,705.2L337.3,705.9L337.6,706.6L337.8,707.4L338,708.1L338.3,708.8L338.5,709.5L338.8,710.2L339,711L339.3,711.7L339.5,712.4L339.8,713.1L340,713.8L340.2,714.6L340.5,715.3L340.7,716L341,716.7L341.2,717.4L341.5,718.2L341.7,718.9L342,719.6L342.2,720.3L342.5,721L342.7,721.8L342.9,722.5L343.2,723.2L343.4,723.9L343.7,724.6L343.9,725.4L344.2,726.1L344.4,726.8L344.7,727.5L344.9,728.2L345.2,729L345.4,729.7L345.7,730.4L345.9,731.1L346.1,731.8L346.4,732.6L346.6,733.3L346.9,734L347.1,734.7L347.4,735.4L347.6,736.1L347.9,736.9L348.1,737.6L348.4,738.3L348.6,739L348.9,739.7L349.1,740.5L349.4,741.2L349.6,741.9L349.9,742.6L350.1,743.3L350.4,744.1L350.6,744.8L350.9,745.5L351.1,746.2L351.4,746.9L351.6,747.6L351.9,748.4L352.1,749.1L352.3,749.8L352.6,750.5L352.8,751.2L353.1,752L353.3,752.7L353.6,753.4L353.8,754.1L354.1,754.8L354.3,755.5L354.6,756.3L354.8,757L355.1,757.7L355.3,758.4L355.6,759.1L355.8,759.9L356.1,760.6L356.3,761.3L356.6,762L356.9,762.7L357.1,763.4L357.4,764.2L357.6,764.9L357.9,765.6L358.1,766.3L358.4,767L358.6,767.7L358.9,768.5L359.1,769.2L359.4,769.9L359.6,770.6L359.9,771.3L360.1,772L360.4,772.8L360.6,773.5L360.9,774.2L361.1,774.9L361.4,775.6L361.6,776.3L361.9,777.1L362.1,777.8L362.4,778.5L362.6,779.2L362.9,779.9L363.2,780.6L363.4,781.4L363.7,782.1L363.9,782.8L364.2,783.5L364.4,784.2L364.7,784.9L364.9,785.7L365.2,786.4L365.4,787.1L365.7,787.8L365.9,788.5L366.2,789.2L366.5,790L366.7,790.7L367,791.4L367.2,792.1L367.5,792.8L367.7,793.5L368,794.2L368.2,795L368.5,795.7L368.8,796.4L369,797.1L369.3,797.8L369.5,798.5L369.8,799.3L370,800L370.3,800.7L370.5,801.4L370.8,802.1L371.1,802.8L371.3,803.5L371.6,804.3L371.8,805L372.1,805.7L372.3,806.4L372.6,807.1L372.8,807.8L373.1,808.5L373.4,809.3L373.6,810L373.9,810.7L374.1,811.4L374.4,812.1L374.7,812.8L374.9,813.5L375.2,814.3L375.4,815L375.7,815.7L375.9,816.4L376.2,817.1L376.5,817.8L376.7,818.5L377,819.3L377.2,820L377.5,820.7L377.7,821.4L378,822.1L378.3,822.8L378.5,823.5L378.8,824.3L379,825L379.3,825.7L379.6,826.4L379.8,827.1L380.1,827.8L380.3,828.5L380.6,829.2L380.9,830L381.1,830.7L381.4,831.4L381.6,832.1L381.9,832.8L382.2,833.5L382.4,834.2L382.7,834.9L382.9,835.7L383.2,836.4L383.5,837.1L383.7,837.8L384,838.5L384.2,839.2L384.5,839.9L384.8,840.6L385,841.4L385.3,842.1L385.6,842.8L385.8,843.5L386.1,844.2L386.3,844.9L386.6,845.6L386.9,846.3L387.1,847.1L387.4,847.8L387.7,848.5L387.9,849.2L388.2,849.9L388.4,850.6L388.7,851.3L389,852L389.2,852.7L389.5,853.5L389.8,854.2L390,854.9L390.3,855.6L390.5,856.3L390.8,857L391.1,857.7L391.3,858.4L391.6,859.1L391.9,859.9L392.1,860.6L392.4,861.3L392.7,862L392.9,862.7L393.2,863.4L393.4,864.1L393.7,864.8L394,865.5L394.2,866.2L394.5,867L394.8,867.7L395,868.4L395.3,869.1L395.6,869.8L395.8,870.5L396.1,871.2L396.4,871.9L396.6,872.6L396.9,873.3L397.2,874.1L397.4,874.8L397.7,875.5L398,876.2L398.2,876.9L398.5,877.6L398.8,878.3L399,879L399.3,879.7L399.6,880.4L399.8,881.1L400.1,881.9L400.4,882.6L400.6,883.3L400.9,884L401.2,884.7L401.4,885.4L401.7,886.1L402,886.8L402.2,887.5L402.5,888.2L402.8,888.9L403,889.6L403.3,890.4L403.6,891.1L403.8,891.8L404.1,892.5L404.4,893.2L404.6,893.9L404.9,894.6L405.2,895.3L405.5,896L405.7,896.7L406,897.4L406.3,898.1L406.5,898.8L406.8,899.5L407.1,900.3L407.3,901L407.6,901.7L407.9,902.4L408.2,903.1L408.4,903.8L408.7,904.5L409,905.2L409.2,905.9L409.5,906.6L409.8,907.3L410,908L410.3,908.7L410.6,909.4L410.9,910.1L411.1,910.9L411.4,911.6L411.7,912.3L411.9,913L412.2,913.7L412.5,914.4L412.8,915.1L413,915.8L413.3,916.5L413.6,917.2L413.8,917.9L414.1,918.6L414.4,919.3L414.7,920L414.9,920.7L415.2,921.4L415.5,922.1L415.8,922.8L416,923.6L416.3,924.3L416.6,925L416.8,925.7L417.1,926.4L417.4,927.1L417.7,927.8L417.9,928.5L418.2,929.2L418.5,929.9L418.8,930.6L419,931.3L419.3,932L419.6,932.7L419.9,933.4L420.1,934.1L420.4,934.8L420.7,935.5L421,936.2L421.2,936.9L421.5,937.6L421.8,938.3L422.1,939L422.3,939.7L422.6,940.5L422.9,941.2L423.2,941.9L423.4,942.6L423.7,943.3L424,944L424.3,944.7L424.5,945.4L424.8,946.1L425.1,946.8L425.4,947.5L425.6,948.2L425.9,948.9L426.2,949.6L426.5,950.3L426.7,951L427,951.7L427.3,952.4L427.6,953.1L427.9,953.8L428.1,954.5L428.4,955.2L428.7,955.9L429,956.6L429.2,957.3L429.5,958L429.8,958.7L430.1,959.4L430.4,960.1L430.6,960.8L430.9,961.5L431.2,962.2L431.5,962.9L431.7,963.6L432,964.3L432.3,965L432.6,965.7L432.9,966.4L433.1,967.1L433.4,967.8L433.7,968.5L434,969.2L434.3,969.9L434.5,970.6L434.8,971.3L435.1,972L435.4,972.7L435.7,973.4L435.9,974.1L436.2,974.8L436.5,975.5L436.8,976.2L437.1,976.9L437.3,977.6L437.6,978.3L437.9,979L438.2,979.7L438.5,980.4L438.7,981.1L439,981.8L439.3,982.5L439.6,983.2L439.9,983.9L440.1,984.6L440.4,985.3L440.7,986L441,986.7L441.3,987.4L441.6,988.1L441.8,988.8L442.1,989.5L442.4,990.2L442.7,990.9L443,991.6L443.3,992.3L443.5,993L443.8,993.7L444.1,994.4L444.4,995.1L444.7,995.8L445,996.5L445.2,997.2L445.5,997.9L445.8,998.6L446.1,999.3L446.4,1000L446.7,1000.6L446.9,1001.4L447.2,1002L447.5,1002.7L447.8,1003.4L448.1,1004.1L448.4,1004.8L448.6,1005.6L448.9,1006.3L449.2,1006.9L449.5,1007.4L449.8,1008.1L450.1,1008.9L450.4,1009.7L450.6,1010.3L450.9,1011.3L451.2,1011.6L451.5,1012.2L451.8,1012.9L452.1,1013.5L452.4,1014.4L452.6,1014.9L452.9,1015.8L453.2,1016.7L453.5,1017.5L453.8,1017.9L454.1,1019L454.4,1019.6L454.7,1020.1L454.9,1020.6L455.2,1021.2L455.5,1022.1L455.8,1022.8L456.1,1023.9L456.4,1024.2L456.7,1025.1L457,1025.4L457.2,1026.3L457.5,1026.6L457.8,1027.5L458.1,1028.4L458.4,1028.7L458.7,1030.1L459,1030.2L459.3,1031.7L459.6,1032.3L459.8,1032.9L460.1,1033.9L460.4,1034L460.7,1034.5L461,1035.3L461.3,1036.1L461.6,1037.4L461.9,1038.6L462.2,1038.5L462.5,1039.1L462.7,1039.2L463,1040.8L463.3,1041L463.6,1041.2L463.9,1041.9L464.2,1043.6L464.5,1043.5L464.8,1044L465.1,1045.1" fill="none" stroke="#ed2a2c" stroke-width="3.9"/>
<path d="M460.4,1034L460.7,1034.5L461,1035.3L461.3,1036.1L461.6,1037.4L461.9,1038.6L462.2,1038.5L462.5,1039.1L462.7,1039.2L463,1040.8L463.3,1041L463.6,1041.2L463.9,1041.9L464.2,1043.6L464.5,1043.5L464.8,1044L465.1,1045.1L465.4,1045.6L465.7,1046.3L466,1046.6L466.2,1047.7L466.5,1048.2L466.8,1049.4L467.1,1050.7L467.4,1050.8L467.7,1051.6L468,1051.8L468.3,1052.4L468.6,1052.4L468.9,1053.7L469.2,1053.6L469.5,1054.4L469.8,1055.8L470,1055.6L470.3,1057.2L470.6,1058.6L470.9,1059.4L471.2,1060.2L471.5,1059.7L471.8,1060.7L472.1,1061.4L472.4,1062.1L472.7,1063.9L473,1064.4L473.3,1064.8L473.6,1064.9L473.9,1065.3L474.2,1065.4L474.5,1065.1L474.8,1066.8L475.1,1068L475.4,1069.4L475.6,1069.7L475.9,1069.8L476.2,1071.3L476.5,1072.5L476.8,1072.3L477.1,1073.4L477.4,1074L477.7,1074.2L478,1074.9L478.3,1076.4L478.6,1077L478.9,1077L479.2,1078.6L479.5,1079L479.8,1079.4L480.1,1080.3L480.4,1081.6L480.7,1082.4L481,1083.7L481.3,1082.8L481.6,1083.7L481.9,1084.3L482.2,1084.8L482.5,1084.7L482.8,1085.4L483.1,1086.4L483.4,1087.3L483.7,1088.7L484,1089.8L484.3,1091.4L484.6,1091.6L484.9,1090.8L485.2,1091.1L485.5,1092.9L485.8,1094L486.1,1094.9L486.4,1093.8L486.7,1094.2L487,1095.3L487.3,1096.2L487.6,1097.9L487.9,1098.5L488.2,1098.7L488.5,1100.4L488.8,1100.5L489.1,1100.7L489.4,1100.7L489.7,1102L490,1100.5L490.3,1100.8L490.6,1103.9L490.9,1106.1L491.2,1106L491.5,1107.4L491.8,1108.2L492.1,1107.7L492.4,1108L492.7,1109.5L493.1,1110.7L493.4,1110.8L493.7,1109L494,1110.7L494.3,1112.3L494.6,1113L494.9,1114.8L495.2,1113.7L495.5,1113.8L495.9,1116.6L496.9,1120.1L497.9,1123L499,1124.1L500,1128.1L501,1130.4L502.1,1130.8L503.1,1132.4L504.1,1132.5L505.2,1133.5L506.2,1135.8L507.2,1137.3L508.3,1139.4L509.3,1140.5L510.3,1143.9L511.4,1143.3L512.4,1144.9L513.4,1146.3L514.5,1147.3L515.5,1149.2L516.5,1152.5L517.6,1154.9L518.6,1158.1L519.6,1160.2L520.7,1162L521.7,1163.1L522.7,1164.4L523.8,1164.2L524.8,1167.7L525.8,1168.8L526.9,1170.6L527.9,1171.5L528.9,1171.2L530,1173L531,1177.6L532,1178.4L533.1,1178.5L534.1,1180.6L535.1,1182L536.2,1183.6L537.2,1185.1L538.2,1185.5L539.3,1184.5L540.3,1190L541.3,1190.1L542.4,1192.7L543.4,1196.8L544.4,1197.3L545.5,1197.7L546.5,1197.7L547.5,1202.4L548.6,1203.1L549.6,1202.8L550.6,1205.2L551.7,1208.3L552.7,1210.3L553.7,1211.3L554.8,1212.7L555.8,1215.6L556.8,1218.7L557.9,1219.2L558.9,1220.7L559.9,1221L561,1226L562,1226.2L563,1230.3L564,1229.8L565.1,1231.2L566.1,1234L567.1,1236.6L568.2,1237.8L569.2,1240L570.2,1239.8L571.3,1243L572.3,1243L573.3,1245.7L574.4,1247.2L575.4,1250.4L576.4,1250L577.5,1251L578.5,1251.4L579.5,1251.5L580.6,1253L581.6,1253.4L582.6,1253.1L583.7,1257.3L584.7,1257.2L585.7,1258.5L586.8,1259.6L587.8,1260.2L588.8,1260.5L589.9,1260.8L590.9,1261.4L591.9,1263.2L593,1266.5L594,1267.9L595,1270.8L596.1,1274.4L597.1,1274.7L598.1,1275.7L599.2,1276.7L600.2,1280.2L601.2,1283.7L602.3,1287.1L603.3,1287L604.3,1289.7L605.4,1291.8L606.4,1294.5L607.4,1294.2L608.5,1294.3L609.5,1296.2L610.5,1295.7L611.6,1296.3L612.6,1298.6L613.6,1297.6L614.7,1298.6L615.7,1300.9L616.7,1303.3L617.8,1302.5L618.8,1301.9L619.8,1302.9L620.9,1306.6L621.9,1306.4L622.9,1307.1L624,1309.6L625,1309.4L626,1310L627.1,1311.1L628.1,1311.4L629.1,1312.6L630.2,1312.2L631.2,1310.4L632.2,1310.2L633.3,1309.9L634.3,1313.4L635.3,1316.7L636.4,1317.5L637.4,1320.3L638.4,1320.7L639.5,1320.7L640.5,1323.3L641.5,1324.7L642.6,1322.5L643.6,1322.9L644.6,1326.6L645.7,1328.7L646.7,1328.6L647.7,1329.4L648.8,1332.1L649.8,1331L650.8,1332.5L651.9,1332.6L652.9,1330.5L653.9,1333.9L655,1336.2L656,1336.1L657,1340.6L658.1,1337.8L659.1,1340.1L660.1,1342.7L661.2,1344.5L662.2,1342.7L663.2,1343.6L664.3,1345.4L665.3,1344.9L666.3,1346.2L667.4,1348.4L668.4,1349.3L669.4,1349.1L670.5,1350.6L671.5,1351.2L672.5,1351.4L673.6,1353.1L674.6,1354.9L675.6,1353.6L676.7,1352.3L677.7,1352.7L678.7,1356.1L679.8,1356.2L680.8,1357.3L681.8,1356.6L682.9,1358.2L683.9,1360.6L684.9,1362.2L686,1362.1L687,1365.3L688,1362.3L689,1364L690.1,1364.6L691.1,1364.2L692.1,1363.5L693.2,1363.8L694.2,1363.3L695.2,1366.1L696.3,1367.6L697.3,1368.4L698.3,1367.4L699.4,1366L700.4,1369.4L701.4,1370.2L702.5,1370.4L703.5,1370.9L704.5,1371.9L705.6,1373.1L706.6,1373.8L707.6,1373.9L708.7,1375.6L709.7,1374.5L710.7,1374.5L711.8,1377.1L712.8,1376.7L713.8,1375.8L714.9,1378L715.9,1378.7L716.9,1376.1L718,1377.2L719,1377.8L720,1375.3L721.1,1375.4L722.1,1375.6L723.1,1376.2L724.2,1376.5L725.2,1378L726.2,1376.9L727.3,1379.8L728.3,1376.6L729.3,1373.6L730.4,1374.4L731.4,1374.8L732.4,1374.5L733.5,1374.2L734.5,1375.6L735.5,1374.2L736.6,1372.9L737.6,1371L738.6,1373.1L739.7,1374.2L740.7,1372.5L741.7,1373.2L742.8,1374.1L743.8,1377.1L744.8,1376.4L745.9,1376.8L746.9,1377.6L747.9,1377.1L749,1380.7L750,1379.1L751,1379.9L752.1,1377.6L753.1,1381.8L754.1,1381.1L755.2,1379.4L756.2,1379.8L757.2,1378.8L758.3,1379L759.3,1378.1L760.3,1377.8L761.4,1377.6L762.4,1379.4L763.4,1377.4L764.5,1377.7L765.5,1376.4L766.5,1375.6L767.6,1376L768.6,1377.9L769.6,1378.4L770.7,1380L771.7,1378.5L772.7,1380.2L773.8,1378.4L774.8,1378.7L775.8,1380.6L776.9,1384.3L777.9,1381.5L778.9,1382.6L780,1382.9L781,1383.3L782,1382.9L783.1,1383.5L784.1,1384.6L785.1,1384.7L786.2,1384.5L787.2,1382.6L788.2,1386.1L789.3,1385.3L790.3,1386.6L791.3,1387.9L792.4,1386.5L793.4,1388.4L794.4,1389.7L795.5,1387L796.5,1387L797.5,1388.5L798.6,1390L799.6,1391.3L800.6,1392.5L801.7,1393.8L802.7,1393.7L803.7,1395.4L804.8,1397.9L805.8,1399.7L806.8,1397.5L807.9,1398.1L808.9,1397.6L809.9,1398.6L811,1401.4L812,1400.1L813,1400.7L814,1397.9L815.1,1398.4L816.1,1398.2L817.1,1400.1L818.2,1399L819.2,1400L820.2,1400.8L821.3,1401.2L822.3,1401.6L823.3,1401.2L824.4,1402.4L825.4,1403.8L826.4,1401.6L827.5,1400.9L828.5,1401.3L829.5,1401.4L830.6,1403.2L831.6,1402.7L832.6,1403.8L833.7,1404.9L834.7,1401.7L835.7,1404.4L836.8,1403.6L837.8,1403.5L838.8,1404L839.9,1404.9L840.9,1405.5L841.9,1406.9L843,1408.3L844,1411L845,1411L846.1,1409.6L847.1,1411.6L848.1,1410.5L849.2,1414.2L850.2,1411.2L851.2,1412.1L852.3,1412.6L853.3,1414.1L854.3,1413.5L855.4,1416.1L856.4,1416L857.4,1415.6L858.5,1415.5L859.5,1416.3L860.5,1414L861.6,1413.1L862.6,1415L863.6,1415.3L864.7,1412.9L865.7,1412.7L866.7,1413.1L867.8,1410L868.8,1411L869.8,1409.9L870.9,1409.6L871.9,1407.2L872.9,1407.2L874,1408.8L875,1407.3L876,1406.8L877.1,1406.9L878.1,1403.6L879.1,1403L880.2,1403.8L881.2,1403.5L882.2,1401.4L883.3,1401.8L884.3,1400.6L885.3,1401.5L886.4,1400.1L887.4,1400.5L888.4,1400.1L889.5,1398.9L890.5,1397.4L891.5,1397.5L892.6,1398.9L893.6,1397.6L894.6,1395.4L895.7,1393.2L896.7,1391L897.7,1393.9L898.8,1388.9L899.8,1388.1L900.8,1388.2L901.9,1389.5L902.9,1387.5L903.9,1387.3L905,1389.5L906,1387.8L907,1386.6L908.1,1384.8L909.1,1387.3L910.1,1387.6L911.2,1387.3L912.2,1386.8L913.2,1388.5L914.3,1389.1L915.3,1391.8L916.3,1390L917.4,1389.2L918.4,1389.6L919.4,1389L920.5,1389L921.5,1390.3L922.5,1390.8L923.6,1393.3L924.6,1391.3L925.6,1390.8L926.7,1393.8L927.7,1391.9L928.7,1393.9L929.8,1397.2L930.8,1395.5L931.8,1396.9L932.9,1397.4L933.9,1395.5L934.9,1396.2L936,1396.4L937,1396.6L938,1398.7L939,1398.9L940.1,1401.2L941.1,1400.4L942.1,1398.2L943.2,1400.6L944.2,1401.5L945.2,1401.6L946.3,1401.8L947.3,1400.3L948.3,1398.6L949.4,1397.3L950.4,1395.8L951.4,1395.6L952.5,1396.6L953.5,1391.9L954.5,1388.8L955.6,1386.9L956.6,1388.1L957.6,1386.2L958.7,1387.7L959.7,1388.8L960.7,1389.8L961.8,1389.6L962.8,1389.9L963.8,1392.6L964.9,1392.6L965.9,1391.6L966.9,1394L968,1395.7L969,1397.2L970,1399.2L971.1,1396.1L972.1,1396.2L973.1,1396.6L974.2,1395.6L975.2,1395.6L976.2,1396.1L977.3,1396.5L978.3,1395.9L979.3,1396.1L980.4,1396.8L981.4,1395.1L982.4,1395.1L983.5,1392.8L984.5,1394.6L985.5,1392.6L986.6,1393.1L987.6,1391.2L988.6,1392.6L989.7,1392.6L990.7,1392L991.7,1391.3L992.8,1392.9L993.8,1391.8L994.8,1391.4L995.9,1391.7L996.9,1392.7L997.9,1390.4L999,1390.3L1000,1392.2L1001,1389L1002.1,1389L1003.1,1389.5L1004.1,1386.6L1005.2,1388.7L1006.2,1385.8L1007.2,1385.8L1008.3,1388.3L1009.3,1391L1010.3,1387.9L1011.4,1386.7L1012.4,1386.9L1013.4,1385.4L1014.5,1384.8L1015.5,1387.8L1016.5,1385.5L1017.6,1387.9L1018.6,1386.8L1019.6,1386.7L1020.7,1386.3L1021.7,1385.7L1022.7,1386.8L1023.8,1386.2L1024.8,1387.3L1025.8,1385.2L1026.9,1386L1027.9,1384L1028.9,1382.4L1030,1384.8L1031,1384.7L1032,1385.9L1033.1,1384.3L1034.1,1383.3L1035.1,1381.4L1036.2,1382.7L1037.2,1380L1038.2,1380.7L1039.3,1382L1040.3,1380.4L1041.3,1377.3L1042.4,1379L1043.4,1378.9L1044.4,1379.4L1045.5,1378.2L1046.5,1378.5L1047.5,1377.9L1048.6,1377.8L1049.6,1378.3L1050.6,1377.1L1051.7,1376.7L1052.7,1376.8L1053.7,1375L1054.8,1376.2L1055.8,1375.1L1056.8,1375.9L1057.9,1374.3L1058.9,1377.4L1059.9,1377.1L1061,1377.2L1062,1376.5L1063,1376.8L1064,1376.4L1065.1,1375.7L1066.1,1376.8L1067.1,1375.2L1068.2,1377.9L1069.2,1380.3L1070.2,1382.2L1071.3,1383L1072.3,1383.2L1073.3,1381.8L1074.4,1383.4L1075.4,1383.5L1076.4,1383.7L1077.5,1384.4L1078.5,1386.3L1079.5,1386.2L1080.6,1387.8L1081.6,1387.2L1082.6,1386.2L1083.7,1387.7L1084.7,1388.7L1085.7,1387.7L1086.8,1385.7L1087.8,1388.2L1088.8,1391.6L1089.9,1389.1L1090.9,1389.6L1091.9,1388.8L1093,1390.1L1094,1390.6L1095,1391.3L1096.1,1390.8L1097.1,1394.4L1098.1,1396L1099.2,1396.7L1100.2,1397.8L1101.2,1396.8L1102.3,1396.3L1103.3,1397.8L1104.3,1398.5L1105.4,1399.1L1106.4,1404.1L1107.4,1402L1108.5,1401.9L1109.5,1401.1L1110.5,1400.9L1111.6,1403.4L1112.6,1404.5L1113.6,1403.4L1114.7,1404.4L1115.7,1405.7L1116.7,1405.3L1117.8,1404.3L1118.8,1405.6L1119.8,1403.3L1120.9,1402.2L1121.9,1404.2L1122.9,1403.1L1124,1402.8L1125,1404.7L1126,1403.8L1127.1,1402.6L1128.1,1401L1129.1,1402L1130.2,1403L1131.2,1401.3L1132.2,1401.6L1133.3,1401.9L1134.3,1401.4L1135.3,1401.6L1136.4,1401.7L1137.4,1400.2L1138.4,1398.2L1139.5,1398.1L1140.5,1396.2L1141.5,1397.8L1142.6,1396.3L1143.6,1394.6L1144.6,1396.5L1145.7,1395.3L1146.7,1392.9L1147.7,1392.9L1148.8,1393.4L1149.8,1392.6L1150.8,1393L1151.9,1393.8L1152.9,1393.4L1153.9,1391.6L1155,1392.9L1156,1391.7L1157,1391.9L1158.1,1391.6L1159.1,1391.7L1160.1,1391.1L1161.2,1390.3L1162.2,1389.2L1163.2,1389.3L1164.3,1390.1L1165.3,1388.4L1166.3,1387.8L1167.4,1389.7L1168.4,1390.2L1169.4,1391L1170.5,1390.4L1171.5,1389.2L1172.5,1387.7L1173.6,1387.8L1174.6,1387.7L1175.6,1387L1176.7,1387.2L1177.7,1389.9L1178.7,1389.6L1179.8,1390.7L1180.8,1391.3L1181.8,1388.1L1182.9,1390.7L1183.9,1389.5L1184.9,1389.9L1186,1391.5L1187,1391.8L1188,1392.4L1189,1394.4L1190.1,1395.7L1191.1,1396.4L1192.1,1392.3L1193.2,1395.3L1194.2,1396.9L1195.2,1397.5L1196.3,1397.3L1197.3,1396.9L1198.3,1396.6L1199.4,1398.9L1200.4,1398.5L1201.4,1397.4L1202.5,1397.9L1203.5,1397.8L1204.5,1397.8L1205.6,1398.2L1206.6,1398.6L1207.6,1396.5L1208.7,1396.5L1209.7,1393.1L1210.7,1396.3L1211.8,1397.3L1212.8,1397.1L1213.8,1395.9L1214.9,1397.1L1215.9,1399.2L1216.9,1397.3L1218,1399.7L1219,1400.6L1220,1397.3L1221.1,1396.8L1222.1,1398.4L1223.1,1399.3L1224.2,1399.3L1225.2,1398.3L1226.2,1399.6L1227.3,1399.7L1228.3,1400.5L1229.3,1403.1L1230.4,1401.1L1231.4,1398.1L1232.4,1399.3L1233.5,1399L1234.5,1400.4L1235.5,1399.5L1236.6,1401.6L1237.6,1401.1L1238.6,1402.5L1239.7,1402.6L1240.7,1403.5L1241.7,1402.6L1242.8,1402.8L1243.8,1401.6L1244.8,1403.7L1245.9,1402.7L1246.9,1402L1247.9,1401.6L1249,1402L1250,1401.5L1251,1402.3L1252.1,1401.9L1253.1,1399.8L1254.1,1398.6L1255.2,1400.9L1256.2,1398.8L1257.2,1397.1L1258.3,1398.7L1259.3,1397L1260.3,1395.9L1261.4,1396.2L1262.4,1395.8L1263.4,1397.6L1264.5,1396.5L1265.5,1395.8L1266.5,1395.3L1267.6,1395.5L1268.6,1394L1269.6,1396.6L1270.7,1396.6L1271.7,1396.4L1272.7,1397.3L1273.8,1397.3L1274.8,1396.4L1275.8,1394.6L1276.9,1394.6L1277.9,1396.5L1278.9,1400.6L1280,1397.8L1281,1400.3L1282,1399L1283.1,1400.5L1284.1,1401.4L1285.1,1402.5L1286.2,1403.1L1287.2,1405.7L1288.2,1405.2L1289.3,1405.9L1290.3,1402.2L1291.3,1401.1L1292.4,1399.4L1293.4,1404.2L1294.4,1403.7L1295.5,1399.7L1296.5,1401.7L1297.5,1402.4L1298.6,1402.6L1299.6,1403.7L1300.6,1402.3L1301.7,1399.2L1302.7,1399L1303.7,1401.3L1304.8,1398.7L1305.8,1400.1L1306.8,1401L1307.9,1401.9L1308.9,1400.8L1309.9,1402.5L1311,1404.6L1312,1403.4L1313,1402.7L1314,1404.6L1315.1,1405.8L1316.1,1408L1317.1,1409.9L1318.2,1409.1L1319.2,1408.8L1320.2,1408L1321.3,1408.7L1322.3,1409L1323.3,1411.3L1324.4,1414.5L1325.4,1412.2L1326.4,1413.1L1327.5,1413.2L1328.5,1415.8L1329.5,1416.2L1330.6,1417.5L1331.6,1417.6L1332.6,1417.9L1333.7,1418.8L1334.7,1418.3L1335.7,1415.7L1336.8,1416.5L1337.8,1417.8L1338.8,1420.4L1339.9,1418.7L1340.9,1419.8L1341.9,1422.3L1343,1423.9L1344,1423.7L1345,1423.9L1346.1,1422.9L1347.1,1424L1348.1,1426L1349.2,1425.9L1350.2,1424.2L1351.2,1425.3L1352.3,1426.9L1353.3,1425.8L1354.3,1427.2L1355.4,1426.7L1356.4,1428.2L1357.4,1429.1L1358.5,1428.6L1359.5,1428L1360.5,1426.7L1361.6,1424.6L1362.6,1425.3L1363.6,1425.2L1364.7,1426.8L1365.7,1425L1366.7,1425.3L1367.8,1425.8L1368.8,1425L1369.8,1424.9L1370.9,1425L1371.9,1425.6L1372.9,1425.3L1374,1424L1375,1425.1L1376,1423.4L1377.1,1423.3L1378.1,1423.7L1379.1,1424.2L1380.2,1423.4L1381.2,1421.6L1382.2,1422L1383.3,1422.4L1384.3,1422.3L1385.3,1421L1386.4,1422.1L1387.4,1423.1L1388.4,1422.2L1389.5,1421.4L1390.5,1423.8L1391.5,1421L1392.6,1420.6L1393.6,1419.7L1394.6,1419.4L1395.7,1418.8L1396.7,1419.5L1397.7,1418.7L1398.8,1416.1L1399.8,1415.3L1400.8,1413.5L1401.9,1413.5L1402.9,1409.3L1403.9,1409.5L1405,1406.4L1406,1406.5L1407,1405.9L1408.1,1406.2L1409.1,1402.4L1410.1,1400.5L1411.2,1402.5L1412.2,1400.7L1413.2,1399L1414.3,1396.6L1415.3,1397L1416.3,1395.9L1417.4,1396.7L1418.4,1398.2L1419.4,1395.5L1420.5,1392.1L1421.5,1393L1422.5,1391.4L1423.6,1395.1L1424.6,1393.8L1425.6,1394.9L1426.7,1394.4L1427.7,1393.7L1428.7,1393.4L1429.8,1392.5L1430.8,1395.3L1431.8,1396L1432.9,1397.5L1433.9,1397.3L1434.9,1400.2L1436,1400L1437,1401.1L1438,1402.2L1439,1400.2L1440.1,1399.6L1441.1,1401.5L1442.1,1402.4L1443.2,1401.1L1444.2,1399.4L1445.2,1400.5L1446.3,1402.2L1447.3,1401.2L1448.3,1402.3L1449.4,1402.2L1450.4,1404.1L1451.4,1405.8L1452.5,1407.1L1453.5,1407.2L1454.5,1404.4L1455.6,1402.9L1456.6,1403.8L1457.6,1404L1458.7,1402.3L1459.7,1401.8L1460.7,1401.3L1461.8,1397.9L1462.8,1393.1L1463.8,1392.3L1464.9,1395.5L1465.9,1397.6L1466.9,1401L1468,1401.2L1469,1402.1L1470,1402.6L1471.1,1399.2L1472.1,1401.9L1473.1,1404L1474.2,1403.4L1475.2,1404.9L1476.2,1406.5L1477.3,1408L1478.3,1409.5L1479.3,1409.5L1480.4,1407.8L1481.4,1407.8L1482.4,1408.2L1483.5,1410.1L1484.5,1410.8L1485.5,1409L1486.6,1408.6L1487.6,1410.5L1488.6,1409.7L1489.7,1408.2L1490.7,1407.1L1491.7,1407L1492.8,1406.7L1493.8,1406.8L1494.8,1406.3L1495.9,1407.5L1496.9,1406.5L1497.9,1407.1L1499,1407.7L1500,1408.1L1501,1407L1502.1,1406.6L1503.1,1407.5L1504.1,1405.8L1505.2,1406.5L1506.2,1407.6L1507.2,1408.9L1508.3,1408.1L1509.3,1406.2L1510.3,1405.5L1511.4,1405.9L1512.4,1407.2L1513.4,1405.9L1514.5,1407.1L1515.5,1409.1L1516.5,1408.2L1517.6,1406.9L1518.6,1407L1519.6,1405.8L1520.7,1406.7L1521.7,1407.6L1522.7,1402.3L1523.8,1403.9L1524.8,1405.8L1525.8,1403.7L1526.9,1404.9L1527.9,1401.9L1528.9,1399.5L1530,1402.6L1531,1402.1L1532,1403.9L1533.1,1402.1L1534.1,1403.1L1535.1,1402.3L1536.2,1401.9L1537.2,1404.2L1538.2,1403.4L1539.3,1402.7L1540.3,1402.4L1541.3,1401.3L1542.4,1401.4L1543.4,1401L1544.4,1403.1L1545.5,1402.3L1546.5,1401L1547.5,1400.3L1548.6,1400.9L1549.6,1400.6L1550.6,1397.1L1551.7,1398.3L1552.7,1398.1L1553.7,1396.2L1554.8,1397.3L1555.8,1397.3L1556.8,1395.7L1557.9,1394.5L1558.9,1394.8L1559.9,1395.4L1561,1396.4L1562,1396.8L1563,1396.7L1564,1397.1L1565.1,1398.7L1566.1,1398.9L1567.1,1399.5L1568.2,1399.7L1569.2,1398.6L1570.2,1399.1L1571.3,1394.8L1572.3,1398.6L1573.3,1400.1L1574.4,1401L1575.4,1401.3L1576.4,1402.6L1577.5,1402.9L1578.5,1403L1579.5,1403.5L1580.6,1404.9L1581.6,1406.3L1582.6,1407L1583.7,1407.3L1584.7,1407.6L1585.7,1408.1L1586.8,1409L1587.8,1411.1L1588.8,1412.1L1589.9,1412.2L1590.9,1414L1591.9,1416.3L1593,1413.5L1594,1414.2L1595,1417.8L1596.1,1415.5L1597.1,1416L1598.1,1418.4L1599.2,1420.9L1600.2,1419.1L1601.2,1422.9L1602.3,1420.5L1603.3,1421.4L1604.3,1420.1L1605.4,1420.5L1606.4,1420.8L1607.4,1421.4L1608.5,1421.6L1609.5,1423.8L1610.5,1425.2L1611.6,1424.7L1612.6,1426.7L1613.6,1426.1L1614.7,1427.7L1615.7,1425.7L1616.7,1423.1L1617.8,1424.2L1618.8,1424.5L1619.8,1424.2L1620.9,1425.3L1621.9,1425.6L1622.9,1425.1L1624,1424.6L1625,1425.2L1626,1424.6L1627.1,1427.2L1628.1,1424.6L1629.1,1424L1630.2,1421.9L1631.2,1421.5L1632.2,1420.6L1633.3,1419.1L1634.3,1418.7L1635.3,1417.1L1636.4,1414.9L1637.4,1414.4L1638.4,1413.4L1639.5,1409.6L1640.5,1407.5L1641.5,1411.2L1642.6,1408.9L1643.6,1412.7L1644.6,1414.6L1645.7,1416.3L1646.7,1411.6L1647.7,1413.3L1648.8,1412.5L1649.8,1413.3L1650.8,1414.1L1651.9,1415.3L1652.9,1419.2L1653.9,1417L1655,1417.1L1656,1417.8L1657,1420.6L1658.1,1420.6L1659.1,1420.6L1660.1,1420.5L1661.2,1419.3L1662.2,1421.9L1663.2,1422.2L1664.3,1421.2L1665.3,1419.5L1666.3,1419.7L1667.4,1421L1668.4,1419.1L1669.4,1419L1670.5,1419.8L1671.5,1423.4L1672.5,1424.4L1673.6,1424L1674.6,1422.8L1675.6,1421.4L1676.7,1420.7L1677.7,1423.9L1678.7,1425L1679.8,1425.5L1680.8,1424L1681.8,1423.8L1682.9,1424.6L1683.9,1423.1L1684.9,1421.8L1686,1421.6L1687,1418.7L1688,1419.6L1689,1418.4L1690.1,1415.2L1691.1,1415.7L1692.1,1414.8" fill="none" stroke="#ed2a2c" stroke-width="5.0"/>
<path d="M-9.6,-9.6H9.6V9.6H-9.6Z" transform="translate(200.4,70)" fill="none" stroke="#ed2a2c" stroke-width="4.0" stroke-miterlimit="10" stroke-linejoin="miter"/>
<path d="M-9.6,-9.6H9.6V9.6H-9.6Z" transform="translate(306.2,614)" fill="none" stroke="#ed2a2c" stroke-width="4.0" stroke-miterlimit="10" stroke-linejoin="miter"/>
<path d="M-9.6,-9.6H9.6V9.6H-9.6Z" transform="translate(413.6,915.7)" fill="none" stroke="#ed2a2c" stroke-width="4.0" stroke-miterlimit="10" stroke-linejoin="miter"/>
<path d="M-9.6,-9.6H9.6V9.6H-9.6Z" transform="translate(519.4,1159.8)" fill="none" stroke="#ed2a2c" stroke-width="4.0" stroke-miterlimit="10" stroke-linejoin="miter"/>
<path d="M-9.6,-9.6H9.6V9.6H-9.6Z" transform="translate(626.7,1311)" fill="none" stroke="#ed2a2c" stroke-width="4.0" stroke-miterlimit="10" stroke-linejoin="miter"/>
<path d="M-9.6,-9.6H9.6V9.6H-9.6Z" transform="translate(732.7,1374.4)" fill="none" stroke="#ed2a2c" stroke-width="4.0" stroke-miterlimit="10" stroke-linejoin="miter"/>
<path d="M-9.6,-9.6H9.6V9.6H-9.6Z" transform="translate(838.3,1403.8)" fill="none" stroke="#ed2a2c" stroke-width="4.0" stroke-miterlimit="10" stroke-linejoin="miter"/>
<path d="M-9.6,-9.6H9.6V9.6H-9.6Z" transform="translate(946.3,1401.8)" fill="none" stroke="#ed2a2c" stroke-width="4.0" stroke-miterlimit="10" stroke-linejoin="miter"/>
<path d="M-9.6,-9.6H9.6V9.6H-9.6Z" transform="translate(1051.6,1376.7)" fill="none" stroke="#ed2a2c" stroke-width="4.0" stroke-miterlimit="10" stroke-linejoin="miter"/>
<path d="M-9.6,-9.6H9.6V9.6H-9.6Z" transform="translate(1159.5,1391.7)" fill="none" stroke="#ed2a2c" stroke-width="4.0" stroke-miterlimit="10" stroke-linejoin="miter"/>
<path d="M-9.6,-9.6H9.6V9.6H-9.6Z" transform="translate(1265.4,1395.9)" fill="none" stroke="#ed2a2c" stroke-width="4.0" stroke-miterlimit="10" stroke-linejoin="miter"/>
<path d="M-9.6,-9.6H9.6V9.6H-9.6Z" transform="translate(1370.9,1425)" fill="none" stroke="#ed2a2c" stroke-width="4.0" stroke-miterlimit="10" stroke-linejoin="miter"/>
<path d="M-9.6,-9.6H9.6V9.6H-9.6Z" transform="translate(1478.7,1409.8)" fill="none" stroke="#ed2a2c" stroke-width="4.0" stroke-miterlimit="10" stroke-linejoin="miter"/>
<path d="M-9.6,-9.6H9.6V9.6H-9.6Z" transform="translate(1584.4,1407.4)" fill="none" stroke="#ed2a2c" stroke-width="4.0" stroke-miterlimit="10" stroke-linejoin="miter"/>
<path d="M-9.6,-9.6H9.6V9.6H-9.6Z" transform="translate(1692.1,1414.8)" fill="none" stroke="#ed2a2c" stroke-width="4.0" stroke-miterlimit="10" stroke-linejoin="miter"/>
</g>
<text transform="translate(211.4,58.2) scale(1.2,1)" font-size="68.5" fill="#4b4c4f" text-anchor="end">5</text>
<text transform="translate(213.8,237.6) scale(1.2,1)" font-size="68.5" fill="#4b4c4f" text-anchor="end">0</text>
<text transform="translate(211.4,417) scale(1.2,1)" font-size="68.5" fill="#4b4c4f" text-anchor="end">-5</text>
<text transform="translate(213.8,596.4) scale(1.2,1)" font-size="68.5" fill="#4b4c4f" text-anchor="end">-10</text>
<text transform="translate(211.4,775.8) scale(1.2,1)" font-size="68.5" fill="#4b4c4f" text-anchor="end">-15</text>
<text transform="translate(213.8,955.2) scale(1.2,1)" font-size="68.5" fill="#4b4c4f" text-anchor="end">-20</text>
<text transform="translate(211.4,1134.6) scale(1.2,1)" font-size="68.5" fill="#4b4c4f" text-anchor="end">-25</text>
<text transform="translate(213.8,1314) scale(1.2,1)" font-size="68.5" fill="#4b4c4f" text-anchor="end">-30</text>
<text transform="translate(211.4,1493.4) scale(1.2,1)" font-size="68.5" fill="#4b4c4f" text-anchor="end">-35</text>
<text transform="translate(237.3,1550.2) scale(1.2,1)" font-size="68.5" fill="#4b4c4f" text-anchor="middle">0</text>
<text transform="translate(599,1550.2) scale(1.2,1)" font-size="68.5" fill="#4b4c4f" text-anchor="middle">1000</text>
<text transform="translate(960.8,1550.2) scale(1.2,1)" font-size="68.5" fill="#4b4c4f" text-anchor="middle">2000</text>
<text transform="translate(1322.5,1550.2) scale(1.2,1)" font-size="68.5" fill="#4b4c4f" text-anchor="middle">3000</text>
<text transform="translate(1684.3,1550.2) scale(1.2,1)" font-size="68.5" fill="#4b4c4f" text-anchor="middle">4000</text>
<text transform="translate(2046,1550.2) scale(1.2,1)" font-size="68.5" fill="#4b4c4f" text-anchor="middle">5000</text>
<text transform="translate(1141,1633) scale(1.21,1)" font-size="73" fill="#4b4c4f" text-anchor="middle">Iterations</text>
<text transform="translate(76,753) scale(1.21,1) rotate(-90)" font-size="73" fill="#4b4c4f" text-anchor="middle">MSE (dB)</text>
<rect x="1520.4" y="36.1" width="523.6" height="572.3" fill="#fff"/>
<path d="M1517.95,36.05H2046.5M1517.95,608.45H2046.5" stroke="#4b4c4f" stroke-width="3.8" fill="none"/>
<path d="M1520.4,34.2V610.4M2044.05,34.2V610.4" stroke="#4b4c4f" stroke-width="4.9" fill="none"/>
<g transform="scale(1.21,1)" shape-rendering="crispEdges">
<path d="M1272,75.8H1349.5" stroke="#2156a8" stroke-width="3.9"/>
<path d="M-14.3,-8.9L14.3,-8.9L0,16.2Z" transform="translate(1311.2,75.8)" fill="none" stroke="#2156a8" stroke-width="4.0" stroke-miterlimit="10"/>
<path d="M1272,146.2H1349.5" stroke="#ed2a2c" stroke-width="3.9"/>
<path d="M-9.6,-9.6H9.6V9.6H-9.6Z" transform="translate(1311.2,146.2)" fill="none" stroke="#ed2a2c" stroke-width="4.0" stroke-miterlimit="10"/>
<path d="M1272,216.7H1349.5" stroke="#a55ba6" stroke-width="3.9"/>
<path d="M0,-16.2L12.4,0L0,16.2L-12.4,0Z" transform="translate(1311.2,216.7)" fill="none" stroke="#a55ba6" stroke-width="4.0" stroke-miterlimit="10"/>
<path d="M1272,287.2H1349.5" stroke="#6cbe45" stroke-width="3.9"/>
<ellipse cx="1311.2" cy="287.2" rx="12.3" ry="12.3" fill="none" stroke="#6cbe45" stroke-width="4.0"/>
<path d="M1272,357.6H1349.5" stroke="#231f20" stroke-width="3.9"/>
<path d="M-8.4,-14.3L-8.4,14.3L14.8,0Z" transform="translate(1311.2,357.6)" fill="none" stroke="#231f20" stroke-width="4.0" stroke-miterlimit="10"/>
<path d="M1272,428.1H1349.5" stroke="#66cad7" stroke-width="3.9"/>
<path d="M-14.3,8.7L14.3,8.7L0,-16.3Z" transform="translate(1311.2,428.1)" fill="none" stroke="#66cad7" stroke-width="4.0" stroke-miterlimit="10"/>
<path d="M1272,498.5H1349.5" stroke="#2156a8" stroke-width="3.9"/>
<path d="M0,-12.6L3.6,-6.3L10.9,-6.3L7.3,0L10.9,6.3L3.6,6.3L0,12.6L-3.6,6.3L-10.9,6.3L-7.3,0L-10.9,-6.3L-3.6,-6.3Z" transform="translate(1311.2,498.5)" fill="none" stroke="#2156a8" stroke-width="4.0" stroke-miterlimit="10"/>
<path d="M1272,569H1349.5" stroke="#ed2a2c" stroke-width="3.9"/>
<path d="M-9.6,-9.6H9.6V9.6H-9.6Z" transform="translate(1311.2,569)" fill="none" stroke="#ed2a2c" stroke-width="4.0" stroke-miterlimit="10"/>
</g>
<text transform="translate(1642.6,97.2) scale(1.2,1)" font-size="60" fill="#221f20">LMS</text>
<text transform="translate(1642.6,167.7) scale(1.2,1)" font-size="60" fill="#221f20">LMS/F</text>
<text transform="translate(1642.6,238.1) scale(1.2,1)" font-size="60" fill="#221f20">LMMN</text>
<text transform="translate(1642.6,308.6) scale(1.2,1)" font-size="60" fill="#221f20">ZA-LMS</text>
<text transform="translate(1642.6,379) scale(1.2,1)" font-size="60" fill="#221f20">ZA-LMMN</text>
<text transform="translate(1642.6,449.4) scale(1.2,1)" font-size="60" fill="#221f20">RZA-LMS</text>
<text transform="translate(1642.6,519.9) scale(1.2,1)" font-size="60" fill="#221f20">RZA-LMMN</text>
<text transform="translate(1642.6,590.4) scale(1.2,1)" font-size="60" fill="#221f20">CIM-LMMN</text>
</svg></body></html>
